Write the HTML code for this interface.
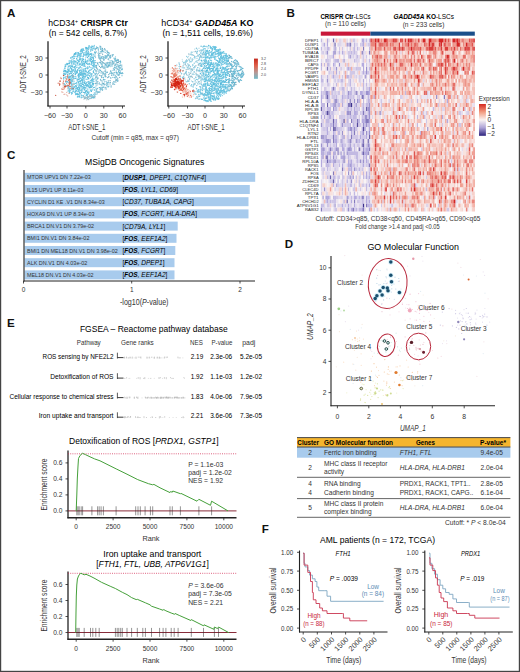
<!DOCTYPE html>
<html><head><meta charset="utf-8"><style>
html,body{margin:0;padding:0;background:#fff;}
svg{display:block;font-family:"Liberation Sans", sans-serif;}
</style></head><body>
<svg width="520" height="672" viewBox="0 0 520 672">
<rect x="0" y="0" width="520" height="672" fill="#fff"/>
<text x="7.0" y="16.8" font-size="11.6" fill="#111" font-weight="bold">A</text>
<text x="88.0" y="26.0" font-size="8.3" text-anchor="middle" textLength="79.6" lengthAdjust="spacingAndGlyphs">hCD34<tspan font-size="5" dy="-3">+</tspan><tspan dy="3" font-weight="bold"> CRISPR Ctr</tspan></text>
<text x="87.9" y="36.2" font-size="8.3" text-anchor="middle" textLength="78.4" lengthAdjust="spacingAndGlyphs">(n = 542 cells, 8.7%)</text>
<text x="207.4" y="26.0" font-size="8.3" text-anchor="middle" textLength="92.2" lengthAdjust="spacingAndGlyphs">hCD34<tspan font-size="5" dy="-3">+</tspan><tspan dy="3" font-weight="bold" font-style="italic"> GADD45A</tspan><tspan font-weight="bold"> KO</tspan></text>
<text x="207.7" y="36.2" font-size="8.3" text-anchor="middle" textLength="90.5" lengthAdjust="spacingAndGlyphs">(n = 1,511 cells, 19.6%)</text>
<line x1="48.0" y1="41.3" x2="48.0" y2="106.5" stroke="#111" stroke-width="1.2"/>
<line x1="47.5" y1="106.0" x2="125.0" y2="106.0" stroke="#111" stroke-width="1.2"/>
<line x1="45.5" y1="58.0" x2="48.0" y2="58.0" stroke="#222" stroke-width="0.8"/>
<text x="42.7" y="60.5" font-size="7.2" text-anchor="end" fill="#333">30</text>
<line x1="45.5" y1="75.0" x2="48.0" y2="75.0" stroke="#222" stroke-width="0.8"/>
<text x="42.7" y="77.5" font-size="7.2" text-anchor="end" fill="#333">0</text>
<line x1="45.5" y1="92.0" x2="48.0" y2="92.0" stroke="#222" stroke-width="0.8"/>
<text x="42.7" y="94.5" font-size="7.2" text-anchor="end" fill="#333">−30</text>
<line x1="50.0" y1="106.0" x2="50.0" y2="108.5" stroke="#222" stroke-width="0.8"/>
<text x="50.0" y="117.8" font-size="7.2" text-anchor="middle" fill="#333">−60</text>
<line x1="67.0" y1="106.0" x2="67.0" y2="108.5" stroke="#222" stroke-width="0.8"/>
<text x="67.0" y="117.8" font-size="7.2" text-anchor="middle" fill="#333">−30</text>
<line x1="85.8" y1="106.0" x2="85.8" y2="108.5" stroke="#222" stroke-width="0.8"/>
<text x="85.8" y="117.8" font-size="7.2" text-anchor="middle" fill="#333">0</text>
<line x1="103.8" y1="106.0" x2="103.8" y2="108.5" stroke="#222" stroke-width="0.8"/>
<text x="103.8" y="117.8" font-size="7.2" text-anchor="middle" fill="#333">30</text>
<line x1="122.5" y1="106.0" x2="122.5" y2="108.5" stroke="#222" stroke-width="0.8"/>
<text x="122.5" y="117.8" font-size="7.2" text-anchor="middle" fill="#333">60</text>
<text x="86.8" y="129.8" font-size="8.6" text-anchor="middle" textLength="37.0" lengthAdjust="spacingAndGlyphs" fill="#333">ADT t-SNE_1</text>
<text x="25.5" y="74.0" font-size="8.6" text-anchor="middle" textLength="37.5" lengthAdjust="spacingAndGlyphs" fill="#333" transform="rotate(-90 25.5 74.0)">ADT t-SNE_2</text>
<line x1="168.0" y1="41.3" x2="168.0" y2="106.5" stroke="#111" stroke-width="1.2"/>
<line x1="167.5" y1="106.0" x2="245.0" y2="106.0" stroke="#111" stroke-width="1.2"/>
<line x1="165.5" y1="58.0" x2="168.0" y2="58.0" stroke="#222" stroke-width="0.8"/>
<text x="162.7" y="60.5" font-size="7.2" text-anchor="end" fill="#333">30</text>
<line x1="165.5" y1="75.0" x2="168.0" y2="75.0" stroke="#222" stroke-width="0.8"/>
<text x="162.7" y="77.5" font-size="7.2" text-anchor="end" fill="#333">0</text>
<line x1="165.5" y1="92.0" x2="168.0" y2="92.0" stroke="#222" stroke-width="0.8"/>
<text x="162.7" y="94.5" font-size="7.2" text-anchor="end" fill="#333">−30</text>
<line x1="168.8" y1="106.0" x2="168.8" y2="108.5" stroke="#222" stroke-width="0.8"/>
<text x="168.8" y="117.8" font-size="7.2" text-anchor="middle" fill="#333">−60</text>
<line x1="187.5" y1="106.0" x2="187.5" y2="108.5" stroke="#222" stroke-width="0.8"/>
<text x="187.5" y="117.8" font-size="7.2" text-anchor="middle" fill="#333">−30</text>
<line x1="205.0" y1="106.0" x2="205.0" y2="108.5" stroke="#222" stroke-width="0.8"/>
<text x="205.0" y="117.8" font-size="7.2" text-anchor="middle" fill="#333">0</text>
<line x1="223.8" y1="106.0" x2="223.8" y2="108.5" stroke="#222" stroke-width="0.8"/>
<text x="223.8" y="117.8" font-size="7.2" text-anchor="middle" fill="#333">30</text>
<line x1="242.5" y1="106.0" x2="242.5" y2="108.5" stroke="#222" stroke-width="0.8"/>
<text x="242.5" y="117.8" font-size="7.2" text-anchor="middle" fill="#333">60</text>
<text x="206.1" y="129.8" font-size="8.6" text-anchor="middle" textLength="37.0" lengthAdjust="spacingAndGlyphs" fill="#333">ADT t-SNE_1</text>
<text x="145.5" y="74.0" font-size="8.6" text-anchor="middle" textLength="37.5" lengthAdjust="spacingAndGlyphs" fill="#333" transform="rotate(-90 145.5 74.0)">ADT t-SNE_2</text>
<text x="135.2" y="140.1" font-size="6.8" text-anchor="middle" textLength="87.5" lengthAdjust="spacingAndGlyphs" fill="#333">Cutoff (min = q85, max = q97)</text>
<text x="286.5" y="17.3" font-size="11.6" fill="#111" font-weight="bold">B</text>
<text x="345.5" y="19.0" font-size="7.2" text-anchor="middle" textLength="50.1" lengthAdjust="spacingAndGlyphs"><tspan font-weight="bold">CRISPR Ctr</tspan>-LSCs</text>
<text x="345.5" y="26.4" font-size="6.8" text-anchor="middle" textLength="41.0" lengthAdjust="spacingAndGlyphs" fill="#333">(n = 110 cells)</text>
<text x="423.7" y="19.0" font-size="7.2" text-anchor="middle" textLength="60.5" lengthAdjust="spacingAndGlyphs"><tspan font-weight="bold" font-style="italic">GADD45A</tspan><tspan font-weight="bold"> KO</tspan>-LSCs</text>
<text x="423.5" y="26.6" font-size="6.8" text-anchor="middle" textLength="41.7" lengthAdjust="spacingAndGlyphs" fill="#333">(n = 233 cells)</text>
<rect x="320.8" y="31.6" width="49.6" height="4.1" fill="#c8173a"/>
<rect x="370.4" y="31.6" width="104.4" height="4.1" fill="#1b4f8a"/>
<text x="397.9" y="220.8" font-size="7" text-anchor="middle" textLength="165.0" lengthAdjust="spacingAndGlyphs" fill="#333">Cutoff: CD34&gt;q85, CD38&lt;q50, CD45RA&gt;q65, CD90&lt;q65</text>
<text x="397.5" y="229.4" font-size="7" text-anchor="middle" textLength="84.4" lengthAdjust="spacingAndGlyphs" fill="#333">Fold change &gt;1.4 and padj &lt;0.05</text>
<text x="478.8" y="101.2" font-size="7" textLength="31.0" lengthAdjust="spacingAndGlyphs" fill="#333">Expression</text>
<text x="7.0" y="159.2" font-size="11.6" fill="#111" font-weight="bold">C</text>
<text x="144.7" y="164.5" font-size="8.4" text-anchor="middle" textLength="119.4" lengthAdjust="spacingAndGlyphs">MSigDB Oncogenic Signatures</text>
<rect x="24.5" y="172.8" width="230.7" height="9.0" fill="#a8cbed"/>
<text x="27.0" y="179.4" font-size="6.0" textLength="63.9" lengthAdjust="spacingAndGlyphs" fill="#333">MTOR UPV1 DN 7.22e-03</text>
<text x="122.5" y="179.7" font-size="6.5">[<tspan font-weight="bold" font-style="italic">DUSP1</tspan><tspan font-style="italic">, DPEP1, C1QTNF4</tspan>]</text>
<rect x="24.5" y="185.0" width="225.3" height="9.0" fill="#a8cbed"/>
<text x="27.0" y="191.6" font-size="6.0" textLength="56.5" lengthAdjust="spacingAndGlyphs" fill="#333">IL15 UPV1 UP 8.11e-03</text>
<text x="122.5" y="191.9" font-size="6.5">[<tspan font-weight="bold" font-style="italic">FOS</tspan><tspan font-style="italic">, LYL1, CD69</tspan>]</text>
<rect x="24.5" y="197.2" width="224.0" height="9.0" fill="#a8cbed"/>
<text x="27.0" y="203.8" font-size="6.0" textLength="77.6" lengthAdjust="spacingAndGlyphs" fill="#333">CYCLIN D1 KE .V1 DN 8.34e-03</text>
<text x="122.5" y="204.1" font-size="6.5">[<tspan font-style="italic">CD37, TUBA1A, CAPG</tspan>]</text>
<rect x="24.5" y="209.4" width="224.0" height="9.0" fill="#a8cbed"/>
<text x="27.0" y="216.0" font-size="6.0" textLength="67.5" lengthAdjust="spacingAndGlyphs" fill="#333">HOXA9 DN.V1 UP 8.34e-03</text>
<text x="122.5" y="216.3" font-size="6.5">[<tspan font-weight="bold" font-style="italic">FOS</tspan><tspan font-style="italic">, FCGRT, HLA-DRA</tspan>]</text>
<rect x="24.5" y="221.6" width="153.2" height="9.0" fill="#a8cbed"/>
<text x="27.0" y="228.2" font-size="6.0" textLength="67.0" lengthAdjust="spacingAndGlyphs" fill="#333">BRCA1 DN.V1 DN 3.79e-02</text>
<text x="122.5" y="228.5" font-size="6.5">[<tspan font-style="italic">CD79A, LYL1</tspan>]</text>
<rect x="24.5" y="233.8" width="152.0" height="9.0" fill="#a8cbed"/>
<text x="27.0" y="240.4" font-size="6.0" textLength="62.4" lengthAdjust="spacingAndGlyphs" fill="#333">BMI1 DN.V1 DN 3.84e-02</text>
<text x="122.5" y="240.7" font-size="6.5">[<tspan font-weight="bold" font-style="italic">FOS</tspan><tspan font-style="italic">, EEF1A2</tspan>]</text>
<rect x="24.5" y="246.0" width="150.8" height="9.0" fill="#a8cbed"/>
<text x="27.0" y="252.6" font-size="6.0" textLength="90.7" lengthAdjust="spacingAndGlyphs" fill="#333">BMI1 DN MEL18 DN.V1 DN 3.98e-02</text>
<text x="122.5" y="252.9" font-size="6.5">[<tspan font-weight="bold" font-style="italic">FOS</tspan><tspan font-style="italic">, FCGRT</tspan>]</text>
<rect x="24.5" y="258.2" width="150.0" height="9.0" fill="#a8cbed"/>
<text x="27.0" y="264.8" font-size="6.0" textLength="60.3" lengthAdjust="spacingAndGlyphs" fill="#333">ALK DN.V1 DN 4.03e-02</text>
<text x="122.5" y="265.1" font-size="6.5">[<tspan font-weight="bold" font-style="italic">FOS</tspan><tspan font-style="italic">, DPEP1</tspan>]</text>
<rect x="24.5" y="270.4" width="150.0" height="9.0" fill="#a8cbed"/>
<text x="27.0" y="277.0" font-size="6.0" textLength="66.6" lengthAdjust="spacingAndGlyphs" fill="#333">MEL18 DN.V1 DN 4.03e-02</text>
<text x="122.5" y="277.3" font-size="6.5">[<tspan font-weight="bold" font-style="italic">FOS</tspan><tspan font-style="italic">, EEF1A2</tspan>]</text>
<line x1="24.0" y1="170.0" x2="24.0" y2="281.5" stroke="#222" stroke-width="1.1"/>
<line x1="23.5" y1="281.0" x2="255.0" y2="281.0" stroke="#222" stroke-width="1.0"/>
<line x1="23.5" y1="281.0" x2="23.5" y2="283.5" stroke="#222" stroke-width="0.8"/>
<text x="23.5" y="292.0" font-size="6.5" text-anchor="middle" fill="#333">0</text>
<line x1="131.7" y1="281.0" x2="131.7" y2="283.5" stroke="#222" stroke-width="0.8"/>
<text x="131.7" y="292.0" font-size="6.5" text-anchor="middle" fill="#333">1</text>
<line x1="240.0" y1="281.0" x2="240.0" y2="283.5" stroke="#222" stroke-width="0.8"/>
<text x="240.0" y="292.0" font-size="6.5" text-anchor="middle" fill="#333">2</text>
<text x="144.2" y="305.0" font-size="8.8" text-anchor="middle" textLength="48.5" lengthAdjust="spacingAndGlyphs" fill="#333">-log10(<tspan font-style="italic">P</tspan>-value)</text>
<text x="7.0" y="327.0" font-size="11.6" fill="#111" font-weight="bold">E</text>
<text x="153.8" y="332.3" font-size="8.5" text-anchor="middle" textLength="147.7" lengthAdjust="spacingAndGlyphs">FGSEA – Reactome pathway database</text>
<text x="88.8" y="345.0" font-size="6.8" text-anchor="middle" textLength="23.9" lengthAdjust="spacingAndGlyphs" fill="#333">Pathway</text>
<text x="137.4" y="345.0" font-size="6.8" text-anchor="middle" textLength="32.8" lengthAdjust="spacingAndGlyphs" fill="#333">Gene ranks</text>
<text x="196.4" y="345.2" font-size="7" text-anchor="middle" textLength="12.8" lengthAdjust="spacingAndGlyphs" fill="#333">NES</text>
<text x="221.9" y="345.2" font-size="7" text-anchor="middle" textLength="20.8" lengthAdjust="spacingAndGlyphs" fill="#333">P-value</text>
<text x="248.8" y="345.2" font-size="7" text-anchor="middle" textLength="13.1" lengthAdjust="spacingAndGlyphs" fill="#333">padj</text>
<text x="113.5" y="358.7" font-size="6.8" text-anchor="end" textLength="70.9" lengthAdjust="spacingAndGlyphs">ROS sensing by NFE2L2</text>
<text x="197.0" y="358.8" font-size="7" text-anchor="middle" textLength="12.5" lengthAdjust="spacingAndGlyphs">2.19</text>
<text x="221.2" y="358.8" font-size="7" text-anchor="middle" textLength="22.0" lengthAdjust="spacingAndGlyphs">2.3e-06</text>
<text x="251.0" y="358.8" font-size="7" text-anchor="middle" textLength="22.0" lengthAdjust="spacingAndGlyphs">5.2e-05</text>
<text x="113.5" y="379.2" font-size="6.8" text-anchor="end" textLength="63.3" lengthAdjust="spacingAndGlyphs">Detoxification of ROS</text>
<text x="197.0" y="379.3" font-size="7" text-anchor="middle" textLength="12.5" lengthAdjust="spacingAndGlyphs">1.92</text>
<text x="221.2" y="379.3" font-size="7" text-anchor="middle" textLength="22.0" lengthAdjust="spacingAndGlyphs">1.1e-03</text>
<text x="251.0" y="379.3" font-size="7" text-anchor="middle" textLength="22.0" lengthAdjust="spacingAndGlyphs">1.2e-02</text>
<text x="113.5" y="398.7" font-size="6.8" text-anchor="end" textLength="103.9" lengthAdjust="spacingAndGlyphs">Cellular response to chemical stress</text>
<text x="197.0" y="398.8" font-size="7" text-anchor="middle" textLength="12.5" lengthAdjust="spacingAndGlyphs">1.83</text>
<text x="221.2" y="398.8" font-size="7" text-anchor="middle" textLength="22.0" lengthAdjust="spacingAndGlyphs">4.0e-06</text>
<text x="251.0" y="398.8" font-size="7" text-anchor="middle" textLength="22.0" lengthAdjust="spacingAndGlyphs">7.9e-05</text>
<text x="113.5" y="418.3" font-size="6.8" text-anchor="end" textLength="74.8" lengthAdjust="spacingAndGlyphs">Iron uptake and transport</text>
<text x="197.0" y="418.4" font-size="7" text-anchor="middle" textLength="12.5" lengthAdjust="spacingAndGlyphs">2.21</text>
<text x="221.2" y="418.4" font-size="7" text-anchor="middle" textLength="22.0" lengthAdjust="spacingAndGlyphs">3.6e-06</text>
<text x="251.0" y="418.4" font-size="7" text-anchor="middle" textLength="22.0" lengthAdjust="spacingAndGlyphs">7.3e-05</text>
<text x="284.8" y="247.8" font-size="11.6" fill="#111" font-weight="bold">D</text>
<text x="413.2" y="250.0" font-size="8.3" text-anchor="middle" textLength="91.5" lengthAdjust="spacingAndGlyphs">GO Molecular Function</text>
<text x="261.7" y="532.7" font-size="11.6" fill="#111" font-weight="bold">F</text>
<text x="377.5" y="543.0" font-size="8.3" text-anchor="middle" textLength="115.0" lengthAdjust="spacingAndGlyphs">AML patients (n = 172, TCGA)</text>
<defs><filter id="hb" x="-1%" y="-1%" width="102%" height="102%"><feGaussianBlur stdDeviation="0.35"/></filter></defs><g filter="url(#hb)">
<path fill="rgb(62,50,140)" d="M350.9 102.93h1.50v4.02h-1.50zM362.9 203.46h1.50v4.02h-1.50z"/>
<path fill="rgb(86,74,156)" d="M326.8 110.98h1.50v4.02h-1.50zM343.3 119.02h1.50v4.02h-1.50zM356.9 123.04h1.50v4.02h-1.50zM334.3 127.06h1.50v4.02h-1.50zM362.9 127.06h1.50v4.02h-1.50z"/>
<path fill="rgb(109,98,173)" d="M332.8 38.60h1.50v4.02h-1.50zM334.3 42.62h1.50v4.02h-1.50zM349.4 42.62h1.50v4.02h-1.50zM326.8 94.89h1.50v4.02h-1.50zM361.4 94.89h1.50v4.02h-1.50zM326.8 102.93h1.50v4.02h-1.50zM320.8 106.96h1.50v4.02h-1.50zM365.9 106.96h1.50v4.02h-1.50zM332.8 119.02h1.50v4.02h-1.50zM332.8 127.06h1.50v4.02h-1.50zM368.9 135.10h1.50v4.02h-1.50zM367.4 139.12h1.50v4.02h-1.50zM362.9 143.14h1.50v4.02h-1.50zM358.4 147.17h1.50v4.02h-1.50zM362.9 151.19h1.50v4.02h-1.50zM326.8 159.23h1.50v4.02h-1.50zM329.8 175.31h1.50v4.02h-1.50zM332.8 179.33h1.50v4.02h-1.50zM346.4 199.44h1.50v4.02h-1.50zM352.4 207.48h1.50v4.02h-1.50z"/>
<path fill="rgb(133,122,189)" d="M362.9 46.64h1.50v4.02h-1.50zM334.3 50.66h1.50v4.02h-1.50zM361.4 50.66h1.50v4.02h-1.50zM368.9 50.66h1.50v4.02h-1.50zM326.8 66.75h1.50v4.02h-1.50zM332.8 86.85h1.50v4.02h-1.50zM355.4 90.87h1.50v4.02h-1.50zM443.5 94.89h1.49v4.02h-1.49zM334.3 98.91h1.50v4.02h-1.50zM349.4 98.91h1.50v4.02h-1.50zM334.3 102.93h1.50v4.02h-1.50zM347.9 102.93h1.50v4.02h-1.50zM349.4 102.93h1.50v4.02h-1.50zM328.3 110.98h1.50v4.02h-1.50zM349.4 110.98h1.50v4.02h-1.50zM362.9 110.98h1.50v4.02h-1.50zM379.3 110.98h1.49v4.02h-1.49zM350.9 119.02h1.50v4.02h-1.50zM356.9 119.02h1.50v4.02h-1.50zM365.9 119.02h1.50v4.02h-1.50zM367.4 119.02h1.50v4.02h-1.50zM332.8 123.04h1.50v4.02h-1.50zM353.9 131.08h1.50v4.02h-1.50zM322.3 135.10h1.50v4.02h-1.50zM332.8 135.10h1.50v4.02h-1.50zM350.9 135.10h1.50v4.02h-1.50zM332.8 139.12h1.50v4.02h-1.50zM349.4 139.12h1.50v4.02h-1.50zM362.9 139.12h1.50v4.02h-1.50zM361.4 143.14h1.50v4.02h-1.50zM367.4 143.14h1.50v4.02h-1.50zM322.3 147.17h1.50v4.02h-1.50zM329.8 147.17h1.50v4.02h-1.50zM337.3 147.17h1.50v4.02h-1.50zM368.9 147.17h1.50v4.02h-1.50zM337.3 151.19h1.50v4.02h-1.50zM367.4 151.19h1.50v4.02h-1.50zM325.3 155.21h1.50v4.02h-1.50zM326.8 155.21h1.50v4.02h-1.50zM343.3 155.21h1.50v4.02h-1.50zM334.3 159.23h1.50v4.02h-1.50zM343.3 159.23h1.50v4.02h-1.50zM368.9 163.25h1.50v4.02h-1.50zM341.8 167.27h1.50v4.02h-1.50zM332.8 171.29h1.50v4.02h-1.50zM361.4 195.42h1.50v4.02h-1.50zM353.9 199.44h1.50v4.02h-1.50zM365.9 203.46h1.50v4.02h-1.50zM320.8 207.48h1.50v4.02h-1.50zM362.9 207.48h1.50v4.02h-1.50z"/>
<path fill="rgb(156,146,206)" d="M346.4 42.62h1.50v4.02h-1.50zM334.3 46.64h1.50v4.02h-1.50zM326.8 50.66h1.50v4.02h-1.50zM349.4 54.68h1.50v4.02h-1.50zM337.3 58.70h1.50v4.02h-1.50zM343.3 58.70h1.50v4.02h-1.50zM338.8 62.73h1.50v4.02h-1.50zM335.8 66.75h1.50v4.02h-1.50zM365.9 66.75h1.50v4.02h-1.50zM365.9 70.77h1.50v4.02h-1.50zM364.4 74.79h1.50v4.02h-1.50zM326.8 78.81h1.50v4.02h-1.50zM325.3 90.87h1.50v4.02h-1.50zM326.8 90.87h1.50v4.02h-1.50zM347.9 90.87h1.50v4.02h-1.50zM365.9 90.87h1.50v4.02h-1.50zM367.4 90.87h1.50v4.02h-1.50zM325.3 94.89h1.50v4.02h-1.50zM362.9 94.89h1.50v4.02h-1.50zM436.0 94.89h1.49v4.02h-1.49zM335.8 98.91h1.50v4.02h-1.50zM353.9 98.91h1.50v4.02h-1.50zM356.9 98.91h1.50v4.02h-1.50zM355.4 102.93h1.50v4.02h-1.50zM368.9 102.93h1.50v4.02h-1.50zM332.8 106.96h1.50v4.02h-1.50zM367.4 106.96h1.50v4.02h-1.50zM368.9 106.96h1.50v4.02h-1.50zM325.3 110.98h1.50v4.02h-1.50zM346.4 110.98h1.50v4.02h-1.50zM347.9 110.98h1.50v4.02h-1.50zM368.9 110.98h1.50v4.02h-1.50zM364.4 115.00h1.50v4.02h-1.50zM365.9 115.00h1.50v4.02h-1.50zM368.9 115.00h1.50v4.02h-1.50zM364.4 119.02h1.50v4.02h-1.50zM320.8 123.04h1.50v4.02h-1.50zM341.8 123.04h1.50v4.02h-1.50zM362.9 123.04h1.50v4.02h-1.50zM365.9 123.04h1.50v4.02h-1.50zM349.4 127.06h1.50v4.02h-1.50zM350.9 127.06h1.50v4.02h-1.50zM353.9 127.06h1.50v4.02h-1.50zM427.1 127.06h1.49v4.02h-1.49zM341.8 131.08h1.50v4.02h-1.50zM362.9 131.08h1.50v4.02h-1.50zM365.9 131.08h1.50v4.02h-1.50zM368.9 131.08h1.50v4.02h-1.50zM320.8 135.10h1.50v4.02h-1.50zM325.3 135.10h1.50v4.02h-1.50zM343.3 135.10h1.50v4.02h-1.50zM325.3 139.12h1.50v4.02h-1.50zM326.8 139.12h1.50v4.02h-1.50zM328.3 139.12h1.50v4.02h-1.50zM340.3 139.12h1.50v4.02h-1.50zM355.4 139.12h1.50v4.02h-1.50zM320.8 143.14h1.50v4.02h-1.50zM326.8 143.14h1.50v4.02h-1.50zM349.4 143.14h1.50v4.02h-1.50zM335.8 147.17h1.50v4.02h-1.50zM347.9 147.17h1.50v4.02h-1.50zM349.4 147.17h1.50v4.02h-1.50zM362.9 147.17h1.50v4.02h-1.50zM322.3 151.19h1.50v4.02h-1.50zM328.3 151.19h1.50v4.02h-1.50zM334.3 151.19h1.50v4.02h-1.50zM340.3 151.19h1.50v4.02h-1.50zM343.3 151.19h1.50v4.02h-1.50zM346.4 151.19h1.50v4.02h-1.50zM361.4 151.19h1.50v4.02h-1.50zM322.3 155.21h1.50v4.02h-1.50zM332.8 155.21h1.50v4.02h-1.50zM359.9 159.23h1.50v4.02h-1.50zM362.9 159.23h1.50v4.02h-1.50zM349.4 163.25h1.50v4.02h-1.50zM353.9 167.27h1.50v4.02h-1.50zM347.9 171.29h1.50v4.02h-1.50zM349.4 175.31h1.50v4.02h-1.50zM352.4 175.31h1.50v4.02h-1.50zM350.9 179.33h1.50v4.02h-1.50zM323.8 187.37h1.50v4.02h-1.50zM322.3 195.42h1.50v4.02h-1.50zM325.3 195.42h1.50v4.02h-1.50zM346.4 195.42h1.50v4.02h-1.50zM362.9 195.42h1.50v4.02h-1.50zM334.3 203.46h1.50v4.02h-1.50zM347.9 207.48h1.50v4.02h-1.50zM361.4 207.48h1.50v4.02h-1.50z"/>
<path fill="rgb(180,170,222)" d="M326.8 38.60h1.50v4.02h-1.50zM361.4 38.60h1.50v4.02h-1.50zM362.9 38.60h1.50v4.02h-1.50zM323.8 42.62h1.50v4.02h-1.50zM326.8 42.62h1.50v4.02h-1.50zM362.9 42.62h1.50v4.02h-1.50zM332.8 50.66h1.50v4.02h-1.50zM341.8 50.66h1.50v4.02h-1.50zM332.8 54.68h1.50v4.02h-1.50zM325.3 58.70h1.50v4.02h-1.50zM334.3 58.70h1.50v4.02h-1.50zM320.8 62.73h1.50v4.02h-1.50zM332.8 62.73h1.50v4.02h-1.50zM361.4 62.73h1.50v4.02h-1.50zM362.9 62.73h1.50v4.02h-1.50zM347.9 66.75h1.50v4.02h-1.50zM362.9 66.75h1.50v4.02h-1.50zM335.8 70.77h1.50v4.02h-1.50zM362.9 70.77h1.50v4.02h-1.50zM332.8 74.79h1.50v4.02h-1.50zM346.4 74.79h1.50v4.02h-1.50zM349.4 78.81h1.50v4.02h-1.50zM362.9 78.81h1.50v4.02h-1.50zM349.4 82.83h1.50v4.02h-1.50zM331.3 86.85h1.50v4.02h-1.50zM334.3 86.85h1.50v4.02h-1.50zM368.9 86.85h1.50v4.02h-1.50zM328.3 90.87h1.50v4.02h-1.50zM331.3 90.87h1.50v4.02h-1.50zM349.4 90.87h1.50v4.02h-1.50zM359.9 90.87h1.50v4.02h-1.50zM361.4 90.87h1.50v4.02h-1.50zM368.9 90.87h1.50v4.02h-1.50zM320.8 94.89h1.50v4.02h-1.50zM328.3 94.89h1.50v4.02h-1.50zM341.8 94.89h1.50v4.02h-1.50zM347.9 94.89h1.50v4.02h-1.50zM367.4 94.89h1.50v4.02h-1.50zM373.4 94.89h1.49v4.02h-1.49zM320.8 98.91h1.50v4.02h-1.50zM328.3 98.91h1.50v4.02h-1.50zM358.4 98.91h1.50v4.02h-1.50zM367.4 98.91h1.50v4.02h-1.50zM446.5 98.91h1.49v4.02h-1.49zM332.8 102.93h1.50v4.02h-1.50zM341.8 102.93h1.50v4.02h-1.50zM353.9 106.96h1.50v4.02h-1.50zM362.9 106.96h1.50v4.02h-1.50zM322.3 110.98h1.50v4.02h-1.50zM331.3 110.98h1.50v4.02h-1.50zM353.9 110.98h1.50v4.02h-1.50zM355.4 110.98h1.50v4.02h-1.50zM367.4 110.98h1.50v4.02h-1.50zM320.8 115.00h1.50v4.02h-1.50zM323.8 115.00h1.50v4.02h-1.50zM328.3 115.00h1.50v4.02h-1.50zM329.8 115.00h1.50v4.02h-1.50zM349.4 115.00h1.50v4.02h-1.50zM442.0 115.00h1.49v4.02h-1.49zM335.8 119.02h1.50v4.02h-1.50zM346.4 119.02h1.50v4.02h-1.50zM358.4 119.02h1.50v4.02h-1.50zM361.4 119.02h1.50v4.02h-1.50zM362.9 119.02h1.50v4.02h-1.50zM368.9 119.02h1.50v4.02h-1.50zM446.5 119.02h1.49v4.02h-1.49zM349.4 123.04h1.50v4.02h-1.50zM352.4 123.04h1.50v4.02h-1.50zM326.8 127.06h1.50v4.02h-1.50zM329.8 127.06h1.50v4.02h-1.50zM347.9 127.06h1.50v4.02h-1.50zM361.4 127.06h1.50v4.02h-1.50zM364.4 127.06h1.50v4.02h-1.50zM368.9 127.06h1.50v4.02h-1.50zM326.8 131.08h1.50v4.02h-1.50zM332.8 131.08h1.50v4.02h-1.50zM350.9 131.08h1.50v4.02h-1.50zM361.4 131.08h1.50v4.02h-1.50zM359.9 135.10h1.50v4.02h-1.50zM365.9 135.10h1.50v4.02h-1.50zM322.3 139.12h1.50v4.02h-1.50zM329.8 139.12h1.50v4.02h-1.50zM334.3 139.12h1.50v4.02h-1.50zM335.8 139.12h1.50v4.02h-1.50zM358.4 139.12h1.50v4.02h-1.50zM361.4 139.12h1.50v4.02h-1.50zM335.8 143.14h1.50v4.02h-1.50zM341.8 143.14h1.50v4.02h-1.50zM368.9 143.14h1.50v4.02h-1.50zM320.8 147.17h1.50v4.02h-1.50zM323.8 147.17h1.50v4.02h-1.50zM328.3 147.17h1.50v4.02h-1.50zM331.3 147.17h1.50v4.02h-1.50zM334.3 147.17h1.50v4.02h-1.50zM341.8 147.17h1.50v4.02h-1.50zM343.3 147.17h1.50v4.02h-1.50zM346.4 147.17h1.50v4.02h-1.50zM350.9 147.17h1.50v4.02h-1.50zM365.9 147.17h1.50v4.02h-1.50zM367.4 147.17h1.50v4.02h-1.50zM320.8 151.19h1.50v4.02h-1.50zM326.8 151.19h1.50v4.02h-1.50zM329.8 151.19h1.50v4.02h-1.50zM332.8 151.19h1.50v4.02h-1.50zM364.4 151.19h1.50v4.02h-1.50zM365.9 151.19h1.50v4.02h-1.50zM340.3 155.21h1.50v4.02h-1.50zM341.8 155.21h1.50v4.02h-1.50zM362.9 155.21h1.50v4.02h-1.50zM365.9 155.21h1.50v4.02h-1.50zM320.8 159.23h1.50v4.02h-1.50zM328.3 159.23h1.50v4.02h-1.50zM329.8 159.23h1.50v4.02h-1.50zM332.8 159.23h1.50v4.02h-1.50zM347.9 159.23h1.50v4.02h-1.50zM350.9 159.23h1.50v4.02h-1.50zM365.9 159.23h1.50v4.02h-1.50zM320.8 163.25h1.50v4.02h-1.50zM332.8 163.25h1.50v4.02h-1.50zM341.8 163.25h1.50v4.02h-1.50zM347.9 163.25h1.50v4.02h-1.50zM350.9 163.25h1.50v4.02h-1.50zM362.9 163.25h1.50v4.02h-1.50zM350.9 167.27h1.50v4.02h-1.50zM358.4 167.27h1.50v4.02h-1.50zM350.9 171.29h1.50v4.02h-1.50zM365.9 171.29h1.50v4.02h-1.50zM365.9 175.31h1.50v4.02h-1.50zM368.9 175.31h1.50v4.02h-1.50zM337.3 179.33h1.50v4.02h-1.50zM346.4 179.33h1.50v4.02h-1.50zM335.8 183.35h1.50v4.02h-1.50zM368.9 183.35h1.50v4.02h-1.50zM326.8 195.42h1.50v4.02h-1.50zM328.3 195.42h1.50v4.02h-1.50zM334.3 195.42h1.50v4.02h-1.50zM353.9 195.42h1.50v4.02h-1.50zM355.4 195.42h1.50v4.02h-1.50zM358.4 195.42h1.50v4.02h-1.50zM365.9 195.42h1.50v4.02h-1.50zM326.8 199.44h1.50v4.02h-1.50zM334.3 199.44h1.50v4.02h-1.50zM343.3 199.44h1.50v4.02h-1.50zM350.9 199.44h1.50v4.02h-1.50zM365.9 199.44h1.50v4.02h-1.50zM368.9 199.44h1.50v4.02h-1.50zM322.3 203.46h1.50v4.02h-1.50zM341.8 203.46h1.50v4.02h-1.50zM347.9 203.46h1.50v4.02h-1.50zM353.9 203.46h1.50v4.02h-1.50zM367.4 203.46h1.50v4.02h-1.50zM370.4 203.46h1.49v4.02h-1.49zM391.3 203.46h1.49v4.02h-1.49zM350.9 207.48h1.50v4.02h-1.50zM355.4 207.48h1.50v4.02h-1.50zM368.9 207.48h1.50v4.02h-1.50z"/>
<path fill="rgb(194,185,226)" d="M320.8 38.60h1.50v4.02h-1.50zM365.9 38.60h1.50v4.02h-1.50zM368.9 38.60h1.50v4.02h-1.50zM347.9 42.62h1.50v4.02h-1.50zM353.9 42.62h1.50v4.02h-1.50zM361.4 42.62h1.50v4.02h-1.50zM320.8 46.64h1.50v4.02h-1.50zM326.8 46.64h1.50v4.02h-1.50zM328.3 46.64h1.50v4.02h-1.50zM349.4 46.64h1.50v4.02h-1.50zM353.9 46.64h1.50v4.02h-1.50zM356.9 46.64h1.50v4.02h-1.50zM368.9 46.64h1.50v4.02h-1.50zM322.3 50.66h1.50v4.02h-1.50zM325.3 50.66h1.50v4.02h-1.50zM338.8 50.66h1.50v4.02h-1.50zM350.9 50.66h1.50v4.02h-1.50zM353.9 50.66h1.50v4.02h-1.50zM356.9 54.68h1.50v4.02h-1.50zM335.8 58.70h1.50v4.02h-1.50zM353.9 58.70h1.50v4.02h-1.50zM368.9 58.70h1.50v4.02h-1.50zM323.8 62.73h1.50v4.02h-1.50zM326.8 62.73h1.50v4.02h-1.50zM328.3 62.73h1.50v4.02h-1.50zM334.3 62.73h1.50v4.02h-1.50zM320.8 66.75h1.50v4.02h-1.50zM329.8 66.75h1.50v4.02h-1.50zM340.3 66.75h1.50v4.02h-1.50zM346.4 66.75h1.50v4.02h-1.50zM349.4 66.75h1.50v4.02h-1.50zM355.4 66.75h1.50v4.02h-1.50zM368.9 66.75h1.50v4.02h-1.50zM328.3 70.77h1.50v4.02h-1.50zM332.8 70.77h1.50v4.02h-1.50zM367.4 70.77h1.50v4.02h-1.50zM320.8 74.79h1.50v4.02h-1.50zM326.8 74.79h1.50v4.02h-1.50zM347.9 74.79h1.50v4.02h-1.50zM320.8 78.81h1.50v4.02h-1.50zM322.3 78.81h1.50v4.02h-1.50zM334.3 78.81h1.50v4.02h-1.50zM337.3 78.81h1.50v4.02h-1.50zM340.3 78.81h1.50v4.02h-1.50zM341.8 78.81h1.50v4.02h-1.50zM335.8 82.83h1.50v4.02h-1.50zM362.9 82.83h1.50v4.02h-1.50zM365.9 82.83h1.50v4.02h-1.50zM341.8 86.85h1.50v4.02h-1.50zM343.3 86.85h1.50v4.02h-1.50zM350.9 86.85h1.50v4.02h-1.50zM362.9 86.85h1.50v4.02h-1.50zM320.8 90.87h1.50v4.02h-1.50zM334.3 90.87h1.50v4.02h-1.50zM343.3 90.87h1.50v4.02h-1.50zM350.9 90.87h1.50v4.02h-1.50zM356.9 90.87h1.50v4.02h-1.50zM404.7 90.87h1.49v4.02h-1.49zM322.3 94.89h1.50v4.02h-1.50zM335.8 94.89h1.50v4.02h-1.50zM343.3 94.89h1.50v4.02h-1.50zM346.4 94.89h1.50v4.02h-1.50zM349.4 94.89h1.50v4.02h-1.50zM352.4 94.89h1.50v4.02h-1.50zM358.4 94.89h1.50v4.02h-1.50zM400.2 94.89h1.49v4.02h-1.49zM326.8 98.91h1.50v4.02h-1.50zM337.3 98.91h1.50v4.02h-1.50zM341.8 98.91h1.50v4.02h-1.50zM362.9 98.91h1.50v4.02h-1.50zM368.9 98.91h1.50v4.02h-1.50zM416.6 98.91h1.49v4.02h-1.49zM320.8 102.93h1.50v4.02h-1.50zM322.3 102.93h1.50v4.02h-1.50zM323.8 102.93h1.50v4.02h-1.50zM331.3 102.93h1.50v4.02h-1.50zM337.3 102.93h1.50v4.02h-1.50zM338.8 102.93h1.50v4.02h-1.50zM362.9 102.93h1.50v4.02h-1.50zM365.9 102.93h1.50v4.02h-1.50zM367.4 102.93h1.50v4.02h-1.50zM326.8 106.96h1.50v4.02h-1.50zM328.3 106.96h1.50v4.02h-1.50zM329.8 106.96h1.50v4.02h-1.50zM334.3 106.96h1.50v4.02h-1.50zM335.8 106.96h1.50v4.02h-1.50zM346.4 106.96h1.50v4.02h-1.50zM347.9 106.96h1.50v4.02h-1.50zM350.9 106.96h1.50v4.02h-1.50zM358.4 106.96h1.50v4.02h-1.50zM416.6 106.96h1.49v4.02h-1.49zM433.0 106.96h1.49v4.02h-1.49zM470.3 106.96h1.49v4.02h-1.49zM356.9 110.98h1.50v4.02h-1.50zM361.4 110.98h1.50v4.02h-1.50zM467.3 110.98h1.49v4.02h-1.49zM332.8 115.00h1.50v4.02h-1.50zM343.3 115.00h1.50v4.02h-1.50zM346.4 115.00h1.50v4.02h-1.50zM352.4 115.00h1.50v4.02h-1.50zM353.9 115.00h1.50v4.02h-1.50zM355.4 115.00h1.50v4.02h-1.50zM361.4 115.00h1.50v4.02h-1.50zM367.4 115.00h1.50v4.02h-1.50zM416.6 115.00h1.49v4.02h-1.49zM424.1 115.00h1.49v4.02h-1.49zM322.3 119.02h1.50v4.02h-1.50zM325.3 119.02h1.50v4.02h-1.50zM326.8 119.02h1.50v4.02h-1.50zM328.3 119.02h1.50v4.02h-1.50zM334.3 119.02h1.50v4.02h-1.50zM352.4 119.02h1.50v4.02h-1.50zM325.3 123.04h1.50v4.02h-1.50zM329.8 123.04h1.50v4.02h-1.50zM331.3 123.04h1.50v4.02h-1.50zM334.3 123.04h1.50v4.02h-1.50zM335.8 123.04h1.50v4.02h-1.50zM340.3 123.04h1.50v4.02h-1.50zM355.4 123.04h1.50v4.02h-1.50zM364.4 123.04h1.50v4.02h-1.50zM367.4 123.04h1.50v4.02h-1.50zM368.9 123.04h1.50v4.02h-1.50zM416.6 123.04h1.49v4.02h-1.49zM322.3 127.06h1.50v4.02h-1.50zM325.3 127.06h1.50v4.02h-1.50zM335.8 127.06h1.50v4.02h-1.50zM337.3 127.06h1.50v4.02h-1.50zM340.3 127.06h1.50v4.02h-1.50zM352.4 127.06h1.50v4.02h-1.50zM355.4 127.06h1.50v4.02h-1.50zM334.3 131.08h1.50v4.02h-1.50zM337.3 131.08h1.50v4.02h-1.50zM338.8 131.08h1.50v4.02h-1.50zM394.3 131.08h1.49v4.02h-1.49zM419.6 131.08h1.49v4.02h-1.49zM323.8 135.10h1.50v4.02h-1.50zM334.3 135.10h1.50v4.02h-1.50zM335.8 135.10h1.50v4.02h-1.50zM341.8 135.10h1.50v4.02h-1.50zM323.8 139.12h1.50v4.02h-1.50zM341.8 139.12h1.50v4.02h-1.50zM347.9 139.12h1.50v4.02h-1.50zM350.9 139.12h1.50v4.02h-1.50zM356.9 139.12h1.50v4.02h-1.50zM340.3 143.14h1.50v4.02h-1.50zM343.3 143.14h1.50v4.02h-1.50zM353.9 143.14h1.50v4.02h-1.50zM353.9 147.17h1.50v4.02h-1.50zM364.4 147.17h1.50v4.02h-1.50zM347.9 151.19h1.50v4.02h-1.50zM349.4 151.19h1.50v4.02h-1.50zM350.9 151.19h1.50v4.02h-1.50zM352.4 151.19h1.50v4.02h-1.50zM353.9 151.19h1.50v4.02h-1.50zM355.4 151.19h1.50v4.02h-1.50zM356.9 151.19h1.50v4.02h-1.50zM320.8 155.21h1.50v4.02h-1.50zM329.8 155.21h1.50v4.02h-1.50zM335.8 155.21h1.50v4.02h-1.50zM347.9 155.21h1.50v4.02h-1.50zM355.4 155.21h1.50v4.02h-1.50zM356.9 155.21h1.50v4.02h-1.50zM368.9 155.21h1.50v4.02h-1.50zM325.3 159.23h1.50v4.02h-1.50zM331.3 159.23h1.50v4.02h-1.50zM337.3 159.23h1.50v4.02h-1.50zM349.4 159.23h1.50v4.02h-1.50zM356.9 159.23h1.50v4.02h-1.50zM367.4 159.23h1.50v4.02h-1.50zM325.3 163.25h1.50v4.02h-1.50zM326.8 163.25h1.50v4.02h-1.50zM328.3 163.25h1.50v4.02h-1.50zM338.8 163.25h1.50v4.02h-1.50zM367.4 163.25h1.50v4.02h-1.50zM322.3 167.27h1.50v4.02h-1.50zM326.8 167.27h1.50v4.02h-1.50zM334.3 167.27h1.50v4.02h-1.50zM347.9 167.27h1.50v4.02h-1.50zM349.4 167.27h1.50v4.02h-1.50zM355.4 167.27h1.50v4.02h-1.50zM361.4 167.27h1.50v4.02h-1.50zM322.3 171.29h1.50v4.02h-1.50zM362.9 171.29h1.50v4.02h-1.50zM368.9 171.29h1.50v4.02h-1.50zM326.8 175.31h1.50v4.02h-1.50zM332.8 175.31h1.50v4.02h-1.50zM334.3 175.31h1.50v4.02h-1.50zM337.3 175.31h1.50v4.02h-1.50zM355.4 175.31h1.50v4.02h-1.50zM362.9 175.31h1.50v4.02h-1.50zM331.3 179.33h1.50v4.02h-1.50zM358.4 179.33h1.50v4.02h-1.50zM332.8 183.35h1.50v4.02h-1.50zM337.3 183.35h1.50v4.02h-1.50zM349.4 183.35h1.50v4.02h-1.50zM350.9 183.35h1.50v4.02h-1.50zM358.4 183.35h1.50v4.02h-1.50zM365.9 183.35h1.50v4.02h-1.50zM415.1 183.35h1.49v4.02h-1.49zM341.8 187.37h1.50v4.02h-1.50zM347.9 187.37h1.50v4.02h-1.50zM365.9 187.37h1.50v4.02h-1.50zM425.6 187.37h1.49v4.02h-1.49zM349.4 191.40h1.50v4.02h-1.50zM353.9 191.40h1.50v4.02h-1.50zM332.8 195.42h1.50v4.02h-1.50zM347.9 195.42h1.50v4.02h-1.50zM350.9 195.42h1.50v4.02h-1.50zM367.4 195.42h1.50v4.02h-1.50zM325.3 199.44h1.50v4.02h-1.50zM329.8 199.44h1.50v4.02h-1.50zM361.4 199.44h1.50v4.02h-1.50zM320.8 203.46h1.50v4.02h-1.50zM361.4 203.46h1.50v4.02h-1.50zM368.9 203.46h1.50v4.02h-1.50zM334.3 207.48h1.50v4.02h-1.50zM343.3 207.48h1.50v4.02h-1.50zM358.4 207.48h1.50v4.02h-1.50zM359.9 207.48h1.50v4.02h-1.50z"/>
<path fill="rgb(208,199,230)" d="M349.4 38.60h1.50v4.02h-1.50zM352.4 38.60h1.50v4.02h-1.50zM353.9 38.60h1.50v4.02h-1.50zM322.3 42.62h1.50v4.02h-1.50zM337.3 42.62h1.50v4.02h-1.50zM359.9 42.62h1.50v4.02h-1.50zM367.4 42.62h1.50v4.02h-1.50zM368.9 42.62h1.50v4.02h-1.50zM338.8 46.64h1.50v4.02h-1.50zM341.8 46.64h1.50v4.02h-1.50zM352.4 46.64h1.50v4.02h-1.50zM343.3 50.66h1.50v4.02h-1.50zM347.9 50.66h1.50v4.02h-1.50zM349.4 50.66h1.50v4.02h-1.50zM352.4 50.66h1.50v4.02h-1.50zM355.4 50.66h1.50v4.02h-1.50zM362.9 50.66h1.50v4.02h-1.50zM326.8 54.68h1.50v4.02h-1.50zM331.3 54.68h1.50v4.02h-1.50zM343.3 54.68h1.50v4.02h-1.50zM347.9 54.68h1.50v4.02h-1.50zM352.4 54.68h1.50v4.02h-1.50zM355.4 54.68h1.50v4.02h-1.50zM362.9 54.68h1.50v4.02h-1.50zM365.9 54.68h1.50v4.02h-1.50zM388.3 54.68h1.49v4.02h-1.49zM326.8 58.70h1.50v4.02h-1.50zM328.3 58.70h1.50v4.02h-1.50zM355.4 58.70h1.50v4.02h-1.50zM362.9 58.70h1.50v4.02h-1.50zM346.4 62.73h1.50v4.02h-1.50zM365.9 62.73h1.50v4.02h-1.50zM356.9 66.75h1.50v4.02h-1.50zM358.4 66.75h1.50v4.02h-1.50zM359.9 66.75h1.50v4.02h-1.50zM338.8 70.77h1.50v4.02h-1.50zM343.3 70.77h1.50v4.02h-1.50zM349.4 70.77h1.50v4.02h-1.50zM350.9 70.77h1.50v4.02h-1.50zM352.4 70.77h1.50v4.02h-1.50zM353.9 70.77h1.50v4.02h-1.50zM361.4 70.77h1.50v4.02h-1.50zM364.4 70.77h1.50v4.02h-1.50zM406.2 70.77h1.49v4.02h-1.49zM331.3 74.79h1.50v4.02h-1.50zM334.3 74.79h1.50v4.02h-1.50zM341.8 74.79h1.50v4.02h-1.50zM349.4 74.79h1.50v4.02h-1.50zM350.9 74.79h1.50v4.02h-1.50zM355.4 74.79h1.50v4.02h-1.50zM358.4 74.79h1.50v4.02h-1.50zM365.9 74.79h1.50v4.02h-1.50zM358.4 78.81h1.50v4.02h-1.50zM368.9 78.81h1.50v4.02h-1.50zM326.8 82.83h1.50v4.02h-1.50zM328.3 82.83h1.50v4.02h-1.50zM323.8 86.85h1.50v4.02h-1.50zM325.3 86.85h1.50v4.02h-1.50zM340.3 86.85h1.50v4.02h-1.50zM346.4 86.85h1.50v4.02h-1.50zM353.9 86.85h1.50v4.02h-1.50zM365.9 86.85h1.50v4.02h-1.50zM367.4 86.85h1.50v4.02h-1.50zM322.3 90.87h1.50v4.02h-1.50zM323.8 90.87h1.50v4.02h-1.50zM337.3 90.87h1.50v4.02h-1.50zM338.8 90.87h1.50v4.02h-1.50zM341.8 90.87h1.50v4.02h-1.50zM346.4 90.87h1.50v4.02h-1.50zM353.9 90.87h1.50v4.02h-1.50zM362.9 90.87h1.50v4.02h-1.50zM364.4 90.87h1.50v4.02h-1.50zM427.1 90.87h1.49v4.02h-1.49zM331.3 94.89h1.50v4.02h-1.50zM332.8 94.89h1.50v4.02h-1.50zM334.3 94.89h1.50v4.02h-1.50zM344.8 94.89h1.50v4.02h-1.50zM350.9 94.89h1.50v4.02h-1.50zM356.9 94.89h1.50v4.02h-1.50zM340.3 98.91h1.50v4.02h-1.50zM343.3 98.91h1.50v4.02h-1.50zM346.4 98.91h1.50v4.02h-1.50zM380.8 98.91h1.49v4.02h-1.49zM388.3 98.91h1.49v4.02h-1.49zM410.7 98.91h1.49v4.02h-1.49zM465.9 98.91h1.49v4.02h-1.49zM329.8 102.93h1.50v4.02h-1.50zM335.8 102.93h1.50v4.02h-1.50zM346.4 102.93h1.50v4.02h-1.50zM353.9 102.93h1.50v4.02h-1.50zM361.4 102.93h1.50v4.02h-1.50zM380.8 102.93h1.49v4.02h-1.49zM437.5 102.93h1.49v4.02h-1.49zM322.3 106.96h1.50v4.02h-1.50zM323.8 106.96h1.50v4.02h-1.50zM349.4 106.96h1.50v4.02h-1.50zM355.4 106.96h1.50v4.02h-1.50zM356.9 106.96h1.50v4.02h-1.50zM361.4 106.96h1.50v4.02h-1.50zM380.8 106.96h1.49v4.02h-1.49zM409.2 106.96h1.49v4.02h-1.49zM464.4 106.96h1.49v4.02h-1.49zM329.8 110.98h1.50v4.02h-1.50zM332.8 110.98h1.50v4.02h-1.50zM343.3 110.98h1.50v4.02h-1.50zM359.9 110.98h1.50v4.02h-1.50zM364.4 110.98h1.50v4.02h-1.50zM376.4 110.98h1.49v4.02h-1.49zM422.6 110.98h1.49v4.02h-1.49zM425.6 110.98h1.49v4.02h-1.49zM458.4 110.98h1.49v4.02h-1.49zM459.9 110.98h1.49v4.02h-1.49zM326.8 115.00h1.50v4.02h-1.50zM331.3 115.00h1.50v4.02h-1.50zM338.8 115.00h1.50v4.02h-1.50zM340.3 115.00h1.50v4.02h-1.50zM341.8 115.00h1.50v4.02h-1.50zM347.9 115.00h1.50v4.02h-1.50zM350.9 115.00h1.50v4.02h-1.50zM358.4 115.00h1.50v4.02h-1.50zM362.9 115.00h1.50v4.02h-1.50zM403.2 115.00h1.49v4.02h-1.49zM331.3 119.02h1.50v4.02h-1.50zM340.3 119.02h1.50v4.02h-1.50zM341.8 119.02h1.50v4.02h-1.50zM347.9 119.02h1.50v4.02h-1.50zM353.9 119.02h1.50v4.02h-1.50zM355.4 119.02h1.50v4.02h-1.50zM425.6 119.02h1.49v4.02h-1.49zM322.3 123.04h1.50v4.02h-1.50zM326.8 123.04h1.50v4.02h-1.50zM328.3 123.04h1.50v4.02h-1.50zM343.3 123.04h1.50v4.02h-1.50zM344.8 123.04h1.50v4.02h-1.50zM346.4 123.04h1.50v4.02h-1.50zM347.9 123.04h1.50v4.02h-1.50zM353.9 123.04h1.50v4.02h-1.50zM358.4 123.04h1.50v4.02h-1.50zM359.9 123.04h1.50v4.02h-1.50zM377.9 123.04h1.49v4.02h-1.49zM409.2 123.04h1.49v4.02h-1.49zM442.0 123.04h1.49v4.02h-1.49zM458.4 123.04h1.49v4.02h-1.49zM459.9 123.04h1.49v4.02h-1.49zM323.8 127.06h1.50v4.02h-1.50zM338.8 127.06h1.50v4.02h-1.50zM346.4 127.06h1.50v4.02h-1.50zM325.3 131.08h1.50v4.02h-1.50zM328.3 131.08h1.50v4.02h-1.50zM347.9 131.08h1.50v4.02h-1.50zM352.4 131.08h1.50v4.02h-1.50zM356.9 131.08h1.50v4.02h-1.50zM359.9 131.08h1.50v4.02h-1.50zM367.4 131.08h1.50v4.02h-1.50zM404.7 131.08h1.49v4.02h-1.49zM331.3 135.10h1.50v4.02h-1.50zM337.3 135.10h1.50v4.02h-1.50zM340.3 135.10h1.50v4.02h-1.50zM346.4 135.10h1.50v4.02h-1.50zM347.9 135.10h1.50v4.02h-1.50zM352.4 135.10h1.50v4.02h-1.50zM353.9 135.10h1.50v4.02h-1.50zM355.4 135.10h1.50v4.02h-1.50zM356.9 135.10h1.50v4.02h-1.50zM361.4 135.10h1.50v4.02h-1.50zM362.9 135.10h1.50v4.02h-1.50zM364.4 135.10h1.50v4.02h-1.50zM337.3 139.12h1.50v4.02h-1.50zM343.3 139.12h1.50v4.02h-1.50zM346.4 139.12h1.50v4.02h-1.50zM395.8 139.12h1.49v4.02h-1.49zM322.3 143.14h1.50v4.02h-1.50zM329.8 143.14h1.50v4.02h-1.50zM332.8 143.14h1.50v4.02h-1.50zM334.3 143.14h1.50v4.02h-1.50zM344.8 143.14h1.50v4.02h-1.50zM347.9 143.14h1.50v4.02h-1.50zM352.4 143.14h1.50v4.02h-1.50zM356.9 143.14h1.50v4.02h-1.50zM358.4 143.14h1.50v4.02h-1.50zM365.9 143.14h1.50v4.02h-1.50zM325.3 147.17h1.50v4.02h-1.50zM359.9 147.17h1.50v4.02h-1.50zM391.3 147.17h1.49v4.02h-1.49zM406.2 147.17h1.49v4.02h-1.49zM421.1 147.17h1.49v4.02h-1.49zM323.8 151.19h1.50v4.02h-1.50zM325.3 151.19h1.50v4.02h-1.50zM334.3 155.21h1.50v4.02h-1.50zM344.8 155.21h1.50v4.02h-1.50zM349.4 155.21h1.50v4.02h-1.50zM364.4 155.21h1.50v4.02h-1.50zM335.8 159.23h1.50v4.02h-1.50zM338.8 159.23h1.50v4.02h-1.50zM341.8 159.23h1.50v4.02h-1.50zM355.4 159.23h1.50v4.02h-1.50zM358.4 159.23h1.50v4.02h-1.50zM361.4 159.23h1.50v4.02h-1.50zM450.9 159.23h1.49v4.02h-1.49zM334.3 163.25h1.50v4.02h-1.50zM346.4 163.25h1.50v4.02h-1.50zM352.4 163.25h1.50v4.02h-1.50zM353.9 163.25h1.50v4.02h-1.50zM356.9 163.25h1.50v4.02h-1.50zM361.4 163.25h1.50v4.02h-1.50zM365.9 163.25h1.50v4.02h-1.50zM323.8 167.27h1.50v4.02h-1.50zM343.3 167.27h1.50v4.02h-1.50zM368.9 167.27h1.50v4.02h-1.50zM391.3 167.27h1.49v4.02h-1.49zM458.4 167.27h1.49v4.02h-1.49zM325.3 171.29h1.50v4.02h-1.50zM328.3 171.29h1.50v4.02h-1.50zM341.8 171.29h1.50v4.02h-1.50zM322.3 175.31h1.50v4.02h-1.50zM328.3 175.31h1.50v4.02h-1.50zM338.8 175.31h1.50v4.02h-1.50zM341.8 175.31h1.50v4.02h-1.50zM343.3 175.31h1.50v4.02h-1.50zM346.4 175.31h1.50v4.02h-1.50zM347.9 175.31h1.50v4.02h-1.50zM350.9 175.31h1.50v4.02h-1.50zM358.4 175.31h1.50v4.02h-1.50zM367.4 175.31h1.50v4.02h-1.50zM425.6 175.31h1.49v4.02h-1.49zM329.8 179.33h1.50v4.02h-1.50zM334.3 179.33h1.50v4.02h-1.50zM341.8 179.33h1.50v4.02h-1.50zM349.4 179.33h1.50v4.02h-1.50zM355.4 179.33h1.50v4.02h-1.50zM367.4 179.33h1.50v4.02h-1.50zM341.8 183.35h1.50v4.02h-1.50zM353.9 183.35h1.50v4.02h-1.50zM361.4 183.35h1.50v4.02h-1.50zM362.9 183.35h1.50v4.02h-1.50zM334.3 187.37h1.50v4.02h-1.50zM352.4 187.37h1.50v4.02h-1.50zM353.9 187.37h1.50v4.02h-1.50zM359.9 187.37h1.50v4.02h-1.50zM320.8 191.40h1.50v4.02h-1.50zM341.8 191.40h1.50v4.02h-1.50zM335.8 195.42h1.50v4.02h-1.50zM337.3 195.42h1.50v4.02h-1.50zM340.3 195.42h1.50v4.02h-1.50zM368.9 195.42h1.50v4.02h-1.50zM328.3 199.44h1.50v4.02h-1.50zM331.3 199.44h1.50v4.02h-1.50zM332.8 199.44h1.50v4.02h-1.50zM356.9 199.44h1.50v4.02h-1.50zM358.4 199.44h1.50v4.02h-1.50zM362.9 199.44h1.50v4.02h-1.50zM367.4 199.44h1.50v4.02h-1.50zM382.3 199.44h1.49v4.02h-1.49zM326.8 203.46h1.50v4.02h-1.50zM328.3 203.46h1.50v4.02h-1.50zM337.3 203.46h1.50v4.02h-1.50zM340.3 203.46h1.50v4.02h-1.50zM344.8 203.46h1.50v4.02h-1.50zM380.8 203.46h1.49v4.02h-1.49zM409.2 203.46h1.49v4.02h-1.49zM437.5 203.46h1.49v4.02h-1.49zM335.8 207.48h1.50v4.02h-1.50zM341.8 207.48h1.50v4.02h-1.50zM346.4 207.48h1.50v4.02h-1.50zM353.9 207.48h1.50v4.02h-1.50zM373.4 207.48h1.49v4.02h-1.49zM376.4 207.48h1.49v4.02h-1.49zM388.3 207.48h1.49v4.02h-1.49zM398.7 207.48h1.49v4.02h-1.49zM446.5 207.48h1.49v4.02h-1.49zM448.0 207.48h1.49v4.02h-1.49z"/>
<path fill="rgb(222,214,235)" d="M328.3 38.60h1.50v4.02h-1.50zM334.3 38.60h1.50v4.02h-1.50zM338.8 38.60h1.50v4.02h-1.50zM340.3 38.60h1.50v4.02h-1.50zM346.4 38.60h1.50v4.02h-1.50zM364.4 38.60h1.50v4.02h-1.50zM332.8 42.62h1.50v4.02h-1.50zM338.8 42.62h1.50v4.02h-1.50zM340.3 42.62h1.50v4.02h-1.50zM350.9 42.62h1.50v4.02h-1.50zM355.4 42.62h1.50v4.02h-1.50zM356.9 42.62h1.50v4.02h-1.50zM365.9 42.62h1.50v4.02h-1.50zM323.8 46.64h1.50v4.02h-1.50zM325.3 46.64h1.50v4.02h-1.50zM332.8 46.64h1.50v4.02h-1.50zM335.8 46.64h1.50v4.02h-1.50zM346.4 46.64h1.50v4.02h-1.50zM358.4 46.64h1.50v4.02h-1.50zM320.8 50.66h1.50v4.02h-1.50zM337.3 50.66h1.50v4.02h-1.50zM346.4 50.66h1.50v4.02h-1.50zM364.4 50.66h1.50v4.02h-1.50zM400.2 50.66h1.49v4.02h-1.49zM328.3 54.68h1.50v4.02h-1.50zM329.8 54.68h1.50v4.02h-1.50zM350.9 54.68h1.50v4.02h-1.50zM358.4 54.68h1.50v4.02h-1.50zM361.4 54.68h1.50v4.02h-1.50zM320.8 58.70h1.50v4.02h-1.50zM329.8 58.70h1.50v4.02h-1.50zM332.8 58.70h1.50v4.02h-1.50zM341.8 58.70h1.50v4.02h-1.50zM356.9 58.70h1.50v4.02h-1.50zM358.4 58.70h1.50v4.02h-1.50zM361.4 58.70h1.50v4.02h-1.50zM365.9 58.70h1.50v4.02h-1.50zM356.9 62.73h1.50v4.02h-1.50zM368.9 62.73h1.50v4.02h-1.50zM394.3 62.73h1.49v4.02h-1.49zM325.3 66.75h1.50v4.02h-1.50zM328.3 66.75h1.50v4.02h-1.50zM332.8 66.75h1.50v4.02h-1.50zM334.3 66.75h1.50v4.02h-1.50zM343.3 66.75h1.50v4.02h-1.50zM352.4 66.75h1.50v4.02h-1.50zM353.9 66.75h1.50v4.02h-1.50zM329.8 70.77h1.50v4.02h-1.50zM331.3 70.77h1.50v4.02h-1.50zM346.4 70.77h1.50v4.02h-1.50zM356.9 70.77h1.50v4.02h-1.50zM368.9 70.77h1.50v4.02h-1.50zM322.3 74.79h1.50v4.02h-1.50zM328.3 74.79h1.50v4.02h-1.50zM335.8 74.79h1.50v4.02h-1.50zM337.3 74.79h1.50v4.02h-1.50zM353.9 74.79h1.50v4.02h-1.50zM359.9 74.79h1.50v4.02h-1.50zM361.4 74.79h1.50v4.02h-1.50zM368.9 74.79h1.50v4.02h-1.50zM325.3 78.81h1.50v4.02h-1.50zM328.3 78.81h1.50v4.02h-1.50zM338.8 78.81h1.50v4.02h-1.50zM343.3 78.81h1.50v4.02h-1.50zM347.9 78.81h1.50v4.02h-1.50zM352.4 78.81h1.50v4.02h-1.50zM359.9 78.81h1.50v4.02h-1.50zM365.9 78.81h1.50v4.02h-1.50zM397.2 78.81h1.49v4.02h-1.49zM403.2 78.81h1.49v4.02h-1.49zM422.6 78.81h1.49v4.02h-1.49zM430.1 78.81h1.49v4.02h-1.49zM320.8 82.83h1.50v4.02h-1.50zM322.3 82.83h1.50v4.02h-1.50zM332.8 82.83h1.50v4.02h-1.50zM340.3 82.83h1.50v4.02h-1.50zM341.8 82.83h1.50v4.02h-1.50zM346.4 82.83h1.50v4.02h-1.50zM347.9 82.83h1.50v4.02h-1.50zM353.9 82.83h1.50v4.02h-1.50zM359.9 82.83h1.50v4.02h-1.50zM368.9 82.83h1.50v4.02h-1.50zM415.1 82.83h1.49v4.02h-1.49zM421.1 82.83h1.49v4.02h-1.49zM320.8 86.85h1.50v4.02h-1.50zM328.3 86.85h1.50v4.02h-1.50zM338.8 86.85h1.50v4.02h-1.50zM349.4 86.85h1.50v4.02h-1.50zM352.4 86.85h1.50v4.02h-1.50zM358.4 86.85h1.50v4.02h-1.50zM379.3 86.85h1.49v4.02h-1.49zM388.3 86.85h1.49v4.02h-1.49zM332.8 90.87h1.50v4.02h-1.50zM335.8 90.87h1.50v4.02h-1.50zM352.4 90.87h1.50v4.02h-1.50zM337.3 94.89h1.50v4.02h-1.50zM340.3 94.89h1.50v4.02h-1.50zM353.9 94.89h1.50v4.02h-1.50zM364.4 94.89h1.50v4.02h-1.50zM368.9 94.89h1.50v4.02h-1.50zM401.7 94.89h1.49v4.02h-1.49zM406.2 94.89h1.49v4.02h-1.49zM421.1 94.89h1.49v4.02h-1.49zM427.1 94.89h1.49v4.02h-1.49zM450.9 94.89h1.49v4.02h-1.49zM455.4 94.89h1.49v4.02h-1.49zM461.4 94.89h1.49v4.02h-1.49zM467.3 94.89h1.49v4.02h-1.49zM325.3 98.91h1.50v4.02h-1.50zM329.8 98.91h1.50v4.02h-1.50zM332.8 98.91h1.50v4.02h-1.50zM350.9 98.91h1.50v4.02h-1.50zM352.4 98.91h1.50v4.02h-1.50zM365.9 98.91h1.50v4.02h-1.50zM379.3 98.91h1.49v4.02h-1.49zM403.2 98.91h1.49v4.02h-1.49zM425.6 98.91h1.49v4.02h-1.49zM439.0 98.91h1.49v4.02h-1.49zM443.5 98.91h1.49v4.02h-1.49zM467.3 98.91h1.49v4.02h-1.49zM343.3 102.93h1.50v4.02h-1.50zM352.4 102.93h1.50v4.02h-1.50zM356.9 102.93h1.50v4.02h-1.50zM358.4 102.93h1.50v4.02h-1.50zM364.4 102.93h1.50v4.02h-1.50zM394.3 102.93h1.49v4.02h-1.49zM409.2 102.93h1.49v4.02h-1.49zM446.5 102.93h1.49v4.02h-1.49zM458.4 102.93h1.49v4.02h-1.49zM473.3 102.93h1.49v4.02h-1.49zM325.3 106.96h1.50v4.02h-1.50zM337.3 106.96h1.50v4.02h-1.50zM343.3 106.96h1.50v4.02h-1.50zM344.8 106.96h1.50v4.02h-1.50zM352.4 106.96h1.50v4.02h-1.50zM364.4 106.96h1.50v4.02h-1.50zM391.3 106.96h1.49v4.02h-1.49zM442.0 106.96h1.49v4.02h-1.49zM443.5 106.96h1.49v4.02h-1.49zM320.8 110.98h1.50v4.02h-1.50zM323.8 110.98h1.50v4.02h-1.50zM334.3 110.98h1.50v4.02h-1.50zM337.3 110.98h1.50v4.02h-1.50zM340.3 110.98h1.50v4.02h-1.50zM341.8 110.98h1.50v4.02h-1.50zM350.9 110.98h1.50v4.02h-1.50zM352.4 110.98h1.50v4.02h-1.50zM365.9 110.98h1.50v4.02h-1.50zM373.4 110.98h1.49v4.02h-1.49zM380.8 110.98h1.49v4.02h-1.49zM391.3 110.98h1.49v4.02h-1.49zM397.2 110.98h1.49v4.02h-1.49zM419.6 110.98h1.49v4.02h-1.49zM461.4 110.98h1.49v4.02h-1.49zM465.9 110.98h1.49v4.02h-1.49zM470.3 110.98h1.49v4.02h-1.49zM325.3 115.00h1.50v4.02h-1.50zM344.8 115.00h1.50v4.02h-1.50zM371.9 115.00h1.49v4.02h-1.49zM379.3 115.00h1.49v4.02h-1.49zM383.8 115.00h1.49v4.02h-1.49zM407.7 115.00h1.49v4.02h-1.49zM436.0 115.00h1.49v4.02h-1.49zM459.9 115.00h1.49v4.02h-1.49zM320.8 119.02h1.50v4.02h-1.50zM329.8 119.02h1.50v4.02h-1.50zM385.3 119.02h1.49v4.02h-1.49zM421.1 119.02h1.49v4.02h-1.49zM461.4 119.02h1.49v4.02h-1.49zM361.4 123.04h1.50v4.02h-1.50zM391.3 123.04h1.49v4.02h-1.49zM395.8 123.04h1.49v4.02h-1.49zM425.6 123.04h1.49v4.02h-1.49zM439.0 123.04h1.49v4.02h-1.49zM320.8 127.06h1.50v4.02h-1.50zM341.8 127.06h1.50v4.02h-1.50zM343.3 127.06h1.50v4.02h-1.50zM356.9 127.06h1.50v4.02h-1.50zM367.4 127.06h1.50v4.02h-1.50zM379.3 127.06h1.49v4.02h-1.49zM422.6 127.06h1.49v4.02h-1.49zM320.8 131.08h1.50v4.02h-1.50zM322.3 131.08h1.50v4.02h-1.50zM323.8 131.08h1.50v4.02h-1.50zM340.3 131.08h1.50v4.02h-1.50zM346.4 131.08h1.50v4.02h-1.50zM380.8 131.08h1.49v4.02h-1.49zM453.9 131.08h1.49v4.02h-1.49zM326.8 135.10h1.50v4.02h-1.50zM328.3 135.10h1.50v4.02h-1.50zM329.8 135.10h1.50v4.02h-1.50zM349.4 135.10h1.50v4.02h-1.50zM358.4 135.10h1.50v4.02h-1.50zM367.4 135.10h1.50v4.02h-1.50zM400.2 135.10h1.49v4.02h-1.49zM320.8 139.12h1.50v4.02h-1.50zM352.4 139.12h1.50v4.02h-1.50zM359.9 139.12h1.50v4.02h-1.50zM368.9 139.12h1.50v4.02h-1.50zM452.4 139.12h1.49v4.02h-1.49zM325.3 143.14h1.50v4.02h-1.50zM328.3 143.14h1.50v4.02h-1.50zM331.3 143.14h1.50v4.02h-1.50zM338.8 143.14h1.50v4.02h-1.50zM346.4 143.14h1.50v4.02h-1.50zM350.9 143.14h1.50v4.02h-1.50zM355.4 143.14h1.50v4.02h-1.50zM364.4 143.14h1.50v4.02h-1.50zM467.3 143.14h1.49v4.02h-1.49zM332.8 147.17h1.50v4.02h-1.50zM355.4 147.17h1.50v4.02h-1.50zM361.4 147.17h1.50v4.02h-1.50zM461.4 147.17h1.49v4.02h-1.49zM465.9 147.17h1.49v4.02h-1.49zM338.8 151.19h1.50v4.02h-1.50zM358.4 151.19h1.50v4.02h-1.50zM368.9 151.19h1.50v4.02h-1.50zM446.5 151.19h1.49v4.02h-1.49zM328.3 155.21h1.50v4.02h-1.50zM346.4 155.21h1.50v4.02h-1.50zM353.9 155.21h1.50v4.02h-1.50zM358.4 155.21h1.50v4.02h-1.50zM450.9 155.21h1.49v4.02h-1.49zM322.3 159.23h1.50v4.02h-1.50zM323.8 159.23h1.50v4.02h-1.50zM340.3 159.23h1.50v4.02h-1.50zM344.8 159.23h1.50v4.02h-1.50zM352.4 159.23h1.50v4.02h-1.50zM364.4 159.23h1.50v4.02h-1.50zM329.8 163.25h1.50v4.02h-1.50zM335.8 163.25h1.50v4.02h-1.50zM337.3 163.25h1.50v4.02h-1.50zM343.3 163.25h1.50v4.02h-1.50zM355.4 163.25h1.50v4.02h-1.50zM359.9 163.25h1.50v4.02h-1.50zM364.4 163.25h1.50v4.02h-1.50zM450.9 163.25h1.49v4.02h-1.49zM320.8 167.27h1.50v4.02h-1.50zM328.3 167.27h1.50v4.02h-1.50zM329.8 167.27h1.50v4.02h-1.50zM335.8 167.27h1.50v4.02h-1.50zM337.3 167.27h1.50v4.02h-1.50zM352.4 167.27h1.50v4.02h-1.50zM356.9 167.27h1.50v4.02h-1.50zM359.9 167.27h1.50v4.02h-1.50zM362.9 167.27h1.50v4.02h-1.50zM367.4 167.27h1.50v4.02h-1.50zM455.4 167.27h1.49v4.02h-1.49zM326.8 171.29h1.50v4.02h-1.50zM335.8 171.29h1.50v4.02h-1.50zM340.3 171.29h1.50v4.02h-1.50zM356.9 171.29h1.50v4.02h-1.50zM359.9 171.29h1.50v4.02h-1.50zM367.4 171.29h1.50v4.02h-1.50zM388.3 171.29h1.49v4.02h-1.49zM455.4 171.29h1.49v4.02h-1.49zM331.3 175.31h1.50v4.02h-1.50zM359.9 175.31h1.50v4.02h-1.50zM364.4 175.31h1.50v4.02h-1.50zM371.9 175.31h1.49v4.02h-1.49zM409.2 175.31h1.49v4.02h-1.49zM320.8 179.33h1.50v4.02h-1.50zM328.3 179.33h1.50v4.02h-1.50zM340.3 179.33h1.50v4.02h-1.50zM343.3 179.33h1.50v4.02h-1.50zM368.9 179.33h1.50v4.02h-1.50zM379.3 179.33h1.49v4.02h-1.49zM320.8 183.35h1.50v4.02h-1.50zM338.8 183.35h1.50v4.02h-1.50zM340.3 183.35h1.50v4.02h-1.50zM343.3 183.35h1.50v4.02h-1.50zM346.4 183.35h1.50v4.02h-1.50zM347.9 183.35h1.50v4.02h-1.50zM364.4 183.35h1.50v4.02h-1.50zM367.4 183.35h1.50v4.02h-1.50zM409.2 183.35h1.49v4.02h-1.49zM320.8 187.37h1.50v4.02h-1.50zM325.3 187.37h1.50v4.02h-1.50zM337.3 187.37h1.50v4.02h-1.50zM325.3 191.40h1.50v4.02h-1.50zM326.8 191.40h1.50v4.02h-1.50zM356.9 191.40h1.50v4.02h-1.50zM367.4 191.40h1.50v4.02h-1.50zM370.4 191.40h1.49v4.02h-1.49zM383.8 191.40h1.49v4.02h-1.49zM391.3 191.40h1.49v4.02h-1.49zM329.8 195.42h1.50v4.02h-1.50zM338.8 195.42h1.50v4.02h-1.50zM341.8 195.42h1.50v4.02h-1.50zM349.4 195.42h1.50v4.02h-1.50zM352.4 195.42h1.50v4.02h-1.50zM356.9 195.42h1.50v4.02h-1.50zM359.9 195.42h1.50v4.02h-1.50zM400.2 195.42h1.49v4.02h-1.49zM407.7 195.42h1.49v4.02h-1.49zM422.6 195.42h1.49v4.02h-1.49zM434.5 195.42h1.49v4.02h-1.49zM467.3 195.42h1.49v4.02h-1.49zM322.3 199.44h1.50v4.02h-1.50zM349.4 199.44h1.50v4.02h-1.50zM359.9 199.44h1.50v4.02h-1.50zM364.4 199.44h1.50v4.02h-1.50zM394.3 199.44h1.49v4.02h-1.49zM403.2 199.44h1.49v4.02h-1.49zM442.0 199.44h1.49v4.02h-1.49zM455.4 199.44h1.49v4.02h-1.49zM323.8 203.46h1.50v4.02h-1.50zM332.8 203.46h1.50v4.02h-1.50zM338.8 203.46h1.50v4.02h-1.50zM343.3 203.46h1.50v4.02h-1.50zM346.4 203.46h1.50v4.02h-1.50zM349.4 203.46h1.50v4.02h-1.50zM350.9 203.46h1.50v4.02h-1.50zM355.4 203.46h1.50v4.02h-1.50zM358.4 203.46h1.50v4.02h-1.50zM359.9 203.46h1.50v4.02h-1.50zM403.2 203.46h1.49v4.02h-1.49zM425.6 203.46h1.49v4.02h-1.49zM427.1 203.46h1.49v4.02h-1.49zM322.3 207.48h1.50v4.02h-1.50zM323.8 207.48h1.50v4.02h-1.50zM325.3 207.48h1.50v4.02h-1.50zM326.8 207.48h1.50v4.02h-1.50zM328.3 207.48h1.50v4.02h-1.50zM329.8 207.48h1.50v4.02h-1.50zM349.4 207.48h1.50v4.02h-1.50zM356.9 207.48h1.50v4.02h-1.50zM364.4 207.48h1.50v4.02h-1.50zM391.3 207.48h1.49v4.02h-1.49zM424.1 207.48h1.49v4.02h-1.49z"/>
<path fill="rgb(236,228,239)" d="M322.3 38.60h1.50v4.02h-1.50zM331.3 38.60h1.50v4.02h-1.50zM341.8 38.60h1.50v4.02h-1.50zM355.4 38.60h1.50v4.02h-1.50zM367.4 38.60h1.50v4.02h-1.50zM320.8 42.62h1.50v4.02h-1.50zM325.3 42.62h1.50v4.02h-1.50zM329.8 42.62h1.50v4.02h-1.50zM341.8 42.62h1.50v4.02h-1.50zM343.3 42.62h1.50v4.02h-1.50zM352.4 42.62h1.50v4.02h-1.50zM322.3 46.64h1.50v4.02h-1.50zM343.3 46.64h1.50v4.02h-1.50zM355.4 46.64h1.50v4.02h-1.50zM323.8 50.66h1.50v4.02h-1.50zM328.3 50.66h1.50v4.02h-1.50zM331.3 50.66h1.50v4.02h-1.50zM335.8 50.66h1.50v4.02h-1.50zM340.3 50.66h1.50v4.02h-1.50zM356.9 50.66h1.50v4.02h-1.50zM367.4 50.66h1.50v4.02h-1.50zM415.1 50.66h1.49v4.02h-1.49zM424.1 50.66h1.49v4.02h-1.49zM323.8 54.68h1.50v4.02h-1.50zM353.9 54.68h1.50v4.02h-1.50zM364.4 54.68h1.50v4.02h-1.50zM368.9 54.68h1.50v4.02h-1.50zM322.3 58.70h1.50v4.02h-1.50zM338.8 58.70h1.50v4.02h-1.50zM344.8 58.70h1.50v4.02h-1.50zM346.4 58.70h1.50v4.02h-1.50zM349.4 58.70h1.50v4.02h-1.50zM350.9 58.70h1.50v4.02h-1.50zM352.4 58.70h1.50v4.02h-1.50zM367.4 58.70h1.50v4.02h-1.50zM442.0 58.70h1.49v4.02h-1.49zM329.8 62.73h1.50v4.02h-1.50zM337.3 62.73h1.50v4.02h-1.50zM340.3 62.73h1.50v4.02h-1.50zM341.8 62.73h1.50v4.02h-1.50zM343.3 62.73h1.50v4.02h-1.50zM349.4 62.73h1.50v4.02h-1.50zM350.9 62.73h1.50v4.02h-1.50zM355.4 62.73h1.50v4.02h-1.50zM367.4 62.73h1.50v4.02h-1.50zM434.5 62.73h1.49v4.02h-1.49zM337.3 66.75h1.50v4.02h-1.50zM341.8 66.75h1.50v4.02h-1.50zM367.4 66.75h1.50v4.02h-1.50zM459.9 66.75h1.49v4.02h-1.49zM337.3 70.77h1.50v4.02h-1.50zM355.4 70.77h1.50v4.02h-1.50zM359.9 70.77h1.50v4.02h-1.50zM415.1 70.77h1.49v4.02h-1.49zM421.1 70.77h1.49v4.02h-1.49zM428.6 70.77h1.49v4.02h-1.49zM461.4 70.77h1.49v4.02h-1.49zM323.8 74.79h1.50v4.02h-1.50zM325.3 74.79h1.50v4.02h-1.50zM340.3 74.79h1.50v4.02h-1.50zM343.3 74.79h1.50v4.02h-1.50zM356.9 74.79h1.50v4.02h-1.50zM385.3 74.79h1.49v4.02h-1.49zM332.8 78.81h1.50v4.02h-1.50zM335.8 78.81h1.50v4.02h-1.50zM350.9 78.81h1.50v4.02h-1.50zM361.4 78.81h1.50v4.02h-1.50zM371.9 78.81h1.49v4.02h-1.49zM386.8 78.81h1.49v4.02h-1.49zM323.8 82.83h1.50v4.02h-1.50zM325.3 82.83h1.50v4.02h-1.50zM329.8 82.83h1.50v4.02h-1.50zM334.3 82.83h1.50v4.02h-1.50zM343.3 82.83h1.50v4.02h-1.50zM350.9 82.83h1.50v4.02h-1.50zM352.4 82.83h1.50v4.02h-1.50zM364.4 82.83h1.50v4.02h-1.50zM367.4 82.83h1.50v4.02h-1.50zM407.7 82.83h1.49v4.02h-1.49zM326.8 86.85h1.50v4.02h-1.50zM355.4 86.85h1.50v4.02h-1.50zM361.4 86.85h1.50v4.02h-1.50zM364.4 86.85h1.50v4.02h-1.50zM376.4 86.85h1.49v4.02h-1.49zM382.3 86.85h1.49v4.02h-1.49zM403.2 86.85h1.49v4.02h-1.49zM443.5 86.85h1.49v4.02h-1.49zM450.9 86.85h1.49v4.02h-1.49zM455.4 86.85h1.49v4.02h-1.49zM461.4 86.85h1.49v4.02h-1.49zM344.8 90.87h1.50v4.02h-1.50zM358.4 90.87h1.50v4.02h-1.50zM428.6 90.87h1.49v4.02h-1.49zM323.8 94.89h1.50v4.02h-1.50zM329.8 94.89h1.50v4.02h-1.50zM338.8 94.89h1.50v4.02h-1.50zM355.4 94.89h1.50v4.02h-1.50zM359.9 94.89h1.50v4.02h-1.50zM365.9 94.89h1.50v4.02h-1.50zM379.3 94.89h1.49v4.02h-1.49zM380.8 94.89h1.49v4.02h-1.49zM394.3 94.89h1.49v4.02h-1.49zM404.7 94.89h1.49v4.02h-1.49zM415.1 94.89h1.49v4.02h-1.49zM416.6 94.89h1.49v4.02h-1.49zM422.6 94.89h1.49v4.02h-1.49zM424.1 94.89h1.49v4.02h-1.49zM425.6 94.89h1.49v4.02h-1.49zM428.6 94.89h1.49v4.02h-1.49zM430.1 94.89h1.49v4.02h-1.49zM445.0 94.89h1.49v4.02h-1.49zM458.4 94.89h1.49v4.02h-1.49zM471.8 94.89h1.49v4.02h-1.49zM338.8 98.91h1.50v4.02h-1.50zM347.9 98.91h1.50v4.02h-1.50zM355.4 98.91h1.50v4.02h-1.50zM371.9 98.91h1.49v4.02h-1.49zM382.3 98.91h1.49v4.02h-1.49zM394.3 98.91h1.49v4.02h-1.49zM419.6 98.91h1.49v4.02h-1.49zM433.0 98.91h1.49v4.02h-1.49zM459.9 98.91h1.49v4.02h-1.49zM461.4 98.91h1.49v4.02h-1.49zM328.3 102.93h1.50v4.02h-1.50zM344.8 102.93h1.50v4.02h-1.50zM373.4 102.93h1.49v4.02h-1.49zM379.3 102.93h1.49v4.02h-1.49zM421.1 102.93h1.49v4.02h-1.49zM425.6 102.93h1.49v4.02h-1.49zM456.9 102.93h1.49v4.02h-1.49zM471.8 102.93h1.49v4.02h-1.49zM340.3 106.96h1.50v4.02h-1.50zM341.8 106.96h1.50v4.02h-1.50zM371.9 106.96h1.49v4.02h-1.49zM376.4 106.96h1.49v4.02h-1.49zM394.3 106.96h1.49v4.02h-1.49zM403.2 106.96h1.49v4.02h-1.49zM424.1 106.96h1.49v4.02h-1.49zM431.5 106.96h1.49v4.02h-1.49zM439.0 106.96h1.49v4.02h-1.49zM450.9 106.96h1.49v4.02h-1.49zM456.9 106.96h1.49v4.02h-1.49zM461.4 106.96h1.49v4.02h-1.49zM335.8 110.98h1.50v4.02h-1.50zM358.4 110.98h1.50v4.02h-1.50zM383.8 110.98h1.49v4.02h-1.49zM385.3 110.98h1.49v4.02h-1.49zM388.3 110.98h1.49v4.02h-1.49zM400.2 110.98h1.49v4.02h-1.49zM407.7 110.98h1.49v4.02h-1.49zM410.7 110.98h1.49v4.02h-1.49zM415.1 110.98h1.49v4.02h-1.49zM424.1 110.98h1.49v4.02h-1.49zM434.5 110.98h1.49v4.02h-1.49zM439.0 110.98h1.49v4.02h-1.49zM442.0 110.98h1.49v4.02h-1.49zM450.9 110.98h1.49v4.02h-1.49zM455.4 110.98h1.49v4.02h-1.49zM464.4 110.98h1.49v4.02h-1.49zM322.3 115.00h1.50v4.02h-1.50zM356.9 115.00h1.50v4.02h-1.50zM397.2 115.00h1.49v4.02h-1.49zM400.2 115.00h1.49v4.02h-1.49zM409.2 115.00h1.49v4.02h-1.49zM431.5 115.00h1.49v4.02h-1.49zM455.4 115.00h1.49v4.02h-1.49zM338.8 119.02h1.50v4.02h-1.50zM383.8 119.02h1.49v4.02h-1.49zM398.7 119.02h1.49v4.02h-1.49zM442.0 119.02h1.49v4.02h-1.49zM443.5 119.02h1.49v4.02h-1.49zM448.0 119.02h1.49v4.02h-1.49zM323.8 123.04h1.50v4.02h-1.50zM337.3 123.04h1.50v4.02h-1.50zM380.8 123.04h1.49v4.02h-1.49zM419.6 123.04h1.49v4.02h-1.49zM433.0 123.04h1.49v4.02h-1.49zM455.4 123.04h1.49v4.02h-1.49zM328.3 127.06h1.50v4.02h-1.50zM331.3 127.06h1.50v4.02h-1.50zM358.4 127.06h1.50v4.02h-1.50zM365.9 127.06h1.50v4.02h-1.50zM415.1 127.06h1.49v4.02h-1.49zM421.1 127.06h1.49v4.02h-1.49zM446.5 127.06h1.49v4.02h-1.49zM453.9 127.06h1.49v4.02h-1.49zM329.8 131.08h1.50v4.02h-1.50zM331.3 131.08h1.50v4.02h-1.50zM349.4 131.08h1.50v4.02h-1.50zM355.4 131.08h1.50v4.02h-1.50zM364.4 131.08h1.50v4.02h-1.50zM379.3 131.08h1.49v4.02h-1.49zM386.8 131.08h1.49v4.02h-1.49zM391.3 131.08h1.49v4.02h-1.49zM397.2 131.08h1.49v4.02h-1.49zM436.0 131.08h1.49v4.02h-1.49zM443.5 131.08h1.49v4.02h-1.49zM450.9 131.08h1.49v4.02h-1.49zM458.4 131.08h1.49v4.02h-1.49zM379.3 135.10h1.49v4.02h-1.49zM382.3 135.10h1.49v4.02h-1.49zM427.1 135.10h1.49v4.02h-1.49zM433.0 135.10h1.49v4.02h-1.49zM436.0 135.10h1.49v4.02h-1.49zM331.3 139.12h1.50v4.02h-1.50zM338.8 139.12h1.50v4.02h-1.50zM344.8 139.12h1.50v4.02h-1.50zM353.9 139.12h1.50v4.02h-1.50zM364.4 139.12h1.50v4.02h-1.50zM365.9 139.12h1.50v4.02h-1.50zM370.4 139.12h1.49v4.02h-1.49zM398.7 139.12h1.49v4.02h-1.49zM409.2 139.12h1.49v4.02h-1.49zM416.6 139.12h1.49v4.02h-1.49zM428.6 139.12h1.49v4.02h-1.49zM439.0 139.12h1.49v4.02h-1.49zM459.9 139.12h1.49v4.02h-1.49zM461.4 139.12h1.49v4.02h-1.49zM323.8 143.14h1.50v4.02h-1.50zM359.9 143.14h1.50v4.02h-1.50zM382.3 143.14h1.49v4.02h-1.49zM389.8 143.14h1.49v4.02h-1.49zM450.9 143.14h1.49v4.02h-1.49zM464.4 143.14h1.49v4.02h-1.49zM326.8 147.17h1.50v4.02h-1.50zM338.8 147.17h1.50v4.02h-1.50zM340.3 147.17h1.50v4.02h-1.50zM344.8 147.17h1.50v4.02h-1.50zM352.4 147.17h1.50v4.02h-1.50zM386.8 147.17h1.49v4.02h-1.49zM400.2 147.17h1.49v4.02h-1.49zM431.5 147.17h1.49v4.02h-1.49zM450.9 147.17h1.49v4.02h-1.49zM335.8 151.19h1.50v4.02h-1.50zM341.8 151.19h1.50v4.02h-1.50zM344.8 151.19h1.50v4.02h-1.50zM359.9 151.19h1.50v4.02h-1.50zM380.8 151.19h1.49v4.02h-1.49zM409.2 151.19h1.49v4.02h-1.49zM461.4 151.19h1.49v4.02h-1.49zM331.3 155.21h1.50v4.02h-1.50zM337.3 155.21h1.50v4.02h-1.50zM350.9 155.21h1.50v4.02h-1.50zM352.4 155.21h1.50v4.02h-1.50zM359.9 155.21h1.50v4.02h-1.50zM361.4 155.21h1.50v4.02h-1.50zM394.3 155.21h1.49v4.02h-1.49zM443.5 155.21h1.49v4.02h-1.49zM353.9 159.23h1.50v4.02h-1.50zM368.9 159.23h1.50v4.02h-1.50zM380.8 159.23h1.49v4.02h-1.49zM388.3 159.23h1.49v4.02h-1.49zM449.4 159.23h1.49v4.02h-1.49zM322.3 163.25h1.50v4.02h-1.50zM340.3 163.25h1.50v4.02h-1.50zM344.8 163.25h1.50v4.02h-1.50zM358.4 163.25h1.50v4.02h-1.50zM385.3 163.25h1.49v4.02h-1.49zM388.3 163.25h1.49v4.02h-1.49zM395.8 163.25h1.49v4.02h-1.49zM403.2 163.25h1.49v4.02h-1.49zM410.7 163.25h1.49v4.02h-1.49zM419.6 163.25h1.49v4.02h-1.49zM430.1 163.25h1.49v4.02h-1.49zM325.3 167.27h1.50v4.02h-1.50zM331.3 167.27h1.50v4.02h-1.50zM332.8 167.27h1.50v4.02h-1.50zM340.3 167.27h1.50v4.02h-1.50zM383.8 167.27h1.49v4.02h-1.49zM449.4 167.27h1.49v4.02h-1.49zM320.8 171.29h1.50v4.02h-1.50zM331.3 171.29h1.50v4.02h-1.50zM337.3 171.29h1.50v4.02h-1.50zM338.8 171.29h1.50v4.02h-1.50zM349.4 171.29h1.50v4.02h-1.50zM353.9 171.29h1.50v4.02h-1.50zM358.4 171.29h1.50v4.02h-1.50zM376.4 171.29h1.49v4.02h-1.49zM379.3 171.29h1.49v4.02h-1.49zM421.1 171.29h1.49v4.02h-1.49zM424.1 171.29h1.49v4.02h-1.49zM323.8 175.31h1.50v4.02h-1.50zM335.8 175.31h1.50v4.02h-1.50zM448.0 175.31h1.49v4.02h-1.49zM322.3 179.33h1.50v4.02h-1.50zM325.3 179.33h1.50v4.02h-1.50zM347.9 179.33h1.50v4.02h-1.50zM359.9 179.33h1.50v4.02h-1.50zM362.9 179.33h1.50v4.02h-1.50zM365.9 179.33h1.50v4.02h-1.50zM388.3 179.33h1.49v4.02h-1.49zM419.6 179.33h1.49v4.02h-1.49zM462.9 179.33h1.49v4.02h-1.49zM328.3 183.35h1.50v4.02h-1.50zM352.4 183.35h1.50v4.02h-1.50zM377.9 183.35h1.49v4.02h-1.49zM416.6 183.35h1.49v4.02h-1.49zM428.6 183.35h1.49v4.02h-1.49zM446.5 183.35h1.49v4.02h-1.49zM322.3 187.37h1.50v4.02h-1.50zM335.8 187.37h1.50v4.02h-1.50zM349.4 187.37h1.50v4.02h-1.50zM356.9 187.37h1.50v4.02h-1.50zM358.4 187.37h1.50v4.02h-1.50zM361.4 187.37h1.50v4.02h-1.50zM367.4 187.37h1.50v4.02h-1.50zM368.9 187.37h1.50v4.02h-1.50zM371.9 187.37h1.49v4.02h-1.49zM379.3 187.37h1.49v4.02h-1.49zM382.3 187.37h1.49v4.02h-1.49zM407.7 187.37h1.49v4.02h-1.49zM442.0 187.37h1.49v4.02h-1.49zM467.3 187.37h1.49v4.02h-1.49zM332.8 191.40h1.50v4.02h-1.50zM347.9 191.40h1.50v4.02h-1.50zM352.4 191.40h1.50v4.02h-1.50zM362.9 191.40h1.50v4.02h-1.50zM388.3 191.40h1.49v4.02h-1.49zM470.3 191.40h1.49v4.02h-1.49zM343.3 195.42h1.50v4.02h-1.50zM344.8 195.42h1.50v4.02h-1.50zM364.4 195.42h1.50v4.02h-1.50zM371.9 195.42h1.49v4.02h-1.49zM385.3 195.42h1.49v4.02h-1.49zM427.1 195.42h1.49v4.02h-1.49zM470.3 195.42h1.49v4.02h-1.49zM335.8 199.44h1.50v4.02h-1.50zM337.3 199.44h1.50v4.02h-1.50zM341.8 199.44h1.50v4.02h-1.50zM347.9 199.44h1.50v4.02h-1.50zM352.4 199.44h1.50v4.02h-1.50zM355.4 199.44h1.50v4.02h-1.50zM370.4 199.44h1.49v4.02h-1.49zM388.3 199.44h1.49v4.02h-1.49zM400.2 199.44h1.49v4.02h-1.49zM456.9 199.44h1.49v4.02h-1.49zM459.9 199.44h1.49v4.02h-1.49zM465.9 199.44h1.49v4.02h-1.49zM325.3 203.46h1.50v4.02h-1.50zM331.3 203.46h1.50v4.02h-1.50zM352.4 203.46h1.50v4.02h-1.50zM356.9 203.46h1.50v4.02h-1.50zM364.4 203.46h1.50v4.02h-1.50zM371.9 203.46h1.49v4.02h-1.49zM385.3 203.46h1.49v4.02h-1.49zM388.3 203.46h1.49v4.02h-1.49zM389.8 203.46h1.49v4.02h-1.49zM394.3 203.46h1.49v4.02h-1.49zM395.8 203.46h1.49v4.02h-1.49zM442.0 203.46h1.49v4.02h-1.49zM448.0 203.46h1.49v4.02h-1.49zM455.4 203.46h1.49v4.02h-1.49zM332.8 207.48h1.50v4.02h-1.50zM367.4 207.48h1.50v4.02h-1.50zM380.8 207.48h1.49v4.02h-1.49zM383.8 207.48h1.49v4.02h-1.49zM418.1 207.48h1.49v4.02h-1.49zM433.0 207.48h1.49v4.02h-1.49zM467.3 207.48h1.49v4.02h-1.49z"/>
<path fill="rgb(250,243,243)" d="M323.8 38.60h1.50v4.02h-1.50zM329.8 38.60h1.50v4.02h-1.50zM347.9 38.60h1.50v4.02h-1.50zM358.4 38.60h1.50v4.02h-1.50zM359.9 38.60h1.50v4.02h-1.50zM328.3 42.62h1.50v4.02h-1.50zM335.8 42.62h1.50v4.02h-1.50zM358.4 42.62h1.50v4.02h-1.50zM400.2 42.62h1.49v4.02h-1.49zM331.3 46.64h1.50v4.02h-1.50zM337.3 46.64h1.50v4.02h-1.50zM344.8 46.64h1.50v4.02h-1.50zM347.9 46.64h1.50v4.02h-1.50zM364.4 46.64h1.50v4.02h-1.50zM365.9 46.64h1.50v4.02h-1.50zM367.4 46.64h1.50v4.02h-1.50zM329.8 50.66h1.50v4.02h-1.50zM358.4 50.66h1.50v4.02h-1.50zM382.3 50.66h1.49v4.02h-1.49zM388.3 50.66h1.49v4.02h-1.49zM421.1 50.66h1.49v4.02h-1.49zM427.1 50.66h1.49v4.02h-1.49zM456.9 50.66h1.49v4.02h-1.49zM461.4 50.66h1.49v4.02h-1.49zM325.3 54.68h1.50v4.02h-1.50zM335.8 54.68h1.50v4.02h-1.50zM337.3 54.68h1.50v4.02h-1.50zM340.3 54.68h1.50v4.02h-1.50zM341.8 54.68h1.50v4.02h-1.50zM344.8 54.68h1.50v4.02h-1.50zM346.4 54.68h1.50v4.02h-1.50zM367.4 54.68h1.50v4.02h-1.50zM370.4 54.68h1.49v4.02h-1.49zM409.2 54.68h1.49v4.02h-1.49zM323.8 58.70h1.50v4.02h-1.50zM331.3 58.70h1.50v4.02h-1.50zM359.9 58.70h1.50v4.02h-1.50zM425.6 58.70h1.49v4.02h-1.49zM455.4 58.70h1.49v4.02h-1.49zM331.3 62.73h1.50v4.02h-1.50zM335.8 62.73h1.50v4.02h-1.50zM353.9 62.73h1.50v4.02h-1.50zM359.9 62.73h1.50v4.02h-1.50zM364.4 62.73h1.50v4.02h-1.50zM433.0 62.73h1.49v4.02h-1.49zM322.3 66.75h1.50v4.02h-1.50zM323.8 66.75h1.50v4.02h-1.50zM344.8 66.75h1.50v4.02h-1.50zM361.4 66.75h1.50v4.02h-1.50zM364.4 66.75h1.50v4.02h-1.50zM388.3 66.75h1.49v4.02h-1.49zM412.2 66.75h1.49v4.02h-1.49zM437.5 66.75h1.49v4.02h-1.49zM470.3 66.75h1.49v4.02h-1.49zM325.3 70.77h1.50v4.02h-1.50zM326.8 70.77h1.50v4.02h-1.50zM341.8 70.77h1.50v4.02h-1.50zM347.9 70.77h1.50v4.02h-1.50zM400.2 70.77h1.49v4.02h-1.49zM410.7 70.77h1.49v4.02h-1.49zM459.9 70.77h1.49v4.02h-1.49zM462.9 70.77h1.49v4.02h-1.49zM468.8 70.77h1.49v4.02h-1.49zM362.9 74.79h1.50v4.02h-1.50zM367.4 74.79h1.50v4.02h-1.50zM379.3 74.79h1.49v4.02h-1.49zM400.2 74.79h1.49v4.02h-1.49zM446.5 74.79h1.49v4.02h-1.49zM464.4 74.79h1.49v4.02h-1.49zM323.8 78.81h1.50v4.02h-1.50zM331.3 78.81h1.50v4.02h-1.50zM346.4 78.81h1.50v4.02h-1.50zM356.9 78.81h1.50v4.02h-1.50zM364.4 78.81h1.50v4.02h-1.50zM367.4 78.81h1.50v4.02h-1.50zM370.4 78.81h1.49v4.02h-1.49zM391.3 78.81h1.49v4.02h-1.49zM427.1 78.81h1.49v4.02h-1.49zM453.9 78.81h1.49v4.02h-1.49zM456.9 78.81h1.49v4.02h-1.49zM331.3 82.83h1.50v4.02h-1.50zM338.8 82.83h1.50v4.02h-1.50zM355.4 82.83h1.50v4.02h-1.50zM385.3 82.83h1.49v4.02h-1.49zM409.2 82.83h1.49v4.02h-1.49zM419.6 82.83h1.49v4.02h-1.49zM470.3 82.83h1.49v4.02h-1.49zM322.3 86.85h1.50v4.02h-1.50zM329.8 86.85h1.50v4.02h-1.50zM335.8 86.85h1.50v4.02h-1.50zM347.9 86.85h1.50v4.02h-1.50zM356.9 86.85h1.50v4.02h-1.50zM359.9 86.85h1.50v4.02h-1.50zM383.8 86.85h1.49v4.02h-1.49zM391.3 86.85h1.49v4.02h-1.49zM394.3 86.85h1.49v4.02h-1.49zM395.8 86.85h1.49v4.02h-1.49zM410.7 86.85h1.49v4.02h-1.49zM459.9 86.85h1.49v4.02h-1.49zM464.4 86.85h1.49v4.02h-1.49zM470.3 86.85h1.49v4.02h-1.49zM415.1 90.87h1.49v4.02h-1.49zM421.1 90.87h1.49v4.02h-1.49zM456.9 90.87h1.49v4.02h-1.49zM458.4 90.87h1.49v4.02h-1.49zM462.9 90.87h1.49v4.02h-1.49zM386.8 94.89h1.49v4.02h-1.49zM388.3 94.89h1.49v4.02h-1.49zM395.8 94.89h1.49v4.02h-1.49zM397.2 94.89h1.49v4.02h-1.49zM398.7 94.89h1.49v4.02h-1.49zM412.2 94.89h1.49v4.02h-1.49zM413.7 94.89h1.49v4.02h-1.49zM418.1 94.89h1.49v4.02h-1.49zM431.5 94.89h1.49v4.02h-1.49zM440.5 94.89h1.49v4.02h-1.49zM442.0 94.89h1.49v4.02h-1.49zM459.9 94.89h1.49v4.02h-1.49zM322.3 98.91h1.50v4.02h-1.50zM323.8 98.91h1.50v4.02h-1.50zM361.4 98.91h1.50v4.02h-1.50zM364.4 98.91h1.50v4.02h-1.50zM377.9 98.91h1.49v4.02h-1.49zM386.8 98.91h1.49v4.02h-1.49zM395.8 98.91h1.49v4.02h-1.49zM400.2 98.91h1.49v4.02h-1.49zM413.7 98.91h1.49v4.02h-1.49zM428.6 98.91h1.49v4.02h-1.49zM431.5 98.91h1.49v4.02h-1.49zM436.0 98.91h1.49v4.02h-1.49zM442.0 98.91h1.49v4.02h-1.49zM449.4 98.91h1.49v4.02h-1.49zM455.4 98.91h1.49v4.02h-1.49zM468.8 98.91h1.49v4.02h-1.49zM325.3 102.93h1.50v4.02h-1.50zM389.8 102.93h1.49v4.02h-1.49zM400.2 102.93h1.49v4.02h-1.49zM415.1 102.93h1.49v4.02h-1.49zM422.6 102.93h1.49v4.02h-1.49zM433.0 102.93h1.49v4.02h-1.49zM331.3 106.96h1.50v4.02h-1.50zM359.9 106.96h1.50v4.02h-1.50zM404.7 106.96h1.49v4.02h-1.49zM418.1 106.96h1.49v4.02h-1.49zM425.6 106.96h1.49v4.02h-1.49zM427.1 106.96h1.49v4.02h-1.49zM430.1 106.96h1.49v4.02h-1.49zM455.4 106.96h1.49v4.02h-1.49zM465.9 106.96h1.49v4.02h-1.49zM338.8 110.98h1.50v4.02h-1.50zM389.8 110.98h1.49v4.02h-1.49zM398.7 110.98h1.49v4.02h-1.49zM404.7 110.98h1.49v4.02h-1.49zM409.2 110.98h1.49v4.02h-1.49zM416.6 110.98h1.49v4.02h-1.49zM428.6 110.98h1.49v4.02h-1.49zM462.9 110.98h1.49v4.02h-1.49zM334.3 115.00h1.50v4.02h-1.50zM337.3 115.00h1.50v4.02h-1.50zM359.9 115.00h1.50v4.02h-1.50zM380.8 115.00h1.49v4.02h-1.49zM388.3 115.00h1.49v4.02h-1.49zM410.7 115.00h1.49v4.02h-1.49zM412.2 115.00h1.49v4.02h-1.49zM415.1 115.00h1.49v4.02h-1.49zM430.1 115.00h1.49v4.02h-1.49zM446.5 115.00h1.49v4.02h-1.49zM450.9 115.00h1.49v4.02h-1.49zM458.4 115.00h1.49v4.02h-1.49zM471.8 115.00h1.49v4.02h-1.49zM337.3 119.02h1.50v4.02h-1.50zM349.4 119.02h1.50v4.02h-1.50zM359.9 119.02h1.50v4.02h-1.50zM371.9 119.02h1.49v4.02h-1.49zM373.4 119.02h1.49v4.02h-1.49zM403.2 119.02h1.49v4.02h-1.49zM415.1 119.02h1.49v4.02h-1.49zM422.6 119.02h1.49v4.02h-1.49zM424.1 119.02h1.49v4.02h-1.49zM437.5 119.02h1.49v4.02h-1.49zM459.9 119.02h1.49v4.02h-1.49zM338.8 123.04h1.50v4.02h-1.50zM350.9 123.04h1.50v4.02h-1.50zM370.4 123.04h1.49v4.02h-1.49zM379.3 123.04h1.49v4.02h-1.49zM389.8 123.04h1.49v4.02h-1.49zM400.2 123.04h1.49v4.02h-1.49zM406.2 123.04h1.49v4.02h-1.49zM413.7 123.04h1.49v4.02h-1.49zM418.1 123.04h1.49v4.02h-1.49zM422.6 123.04h1.49v4.02h-1.49zM437.5 123.04h1.49v4.02h-1.49zM448.0 123.04h1.49v4.02h-1.49zM462.9 123.04h1.49v4.02h-1.49zM471.8 123.04h1.49v4.02h-1.49zM344.8 127.06h1.50v4.02h-1.50zM359.9 127.06h1.50v4.02h-1.50zM385.3 127.06h1.49v4.02h-1.49zM400.2 127.06h1.49v4.02h-1.49zM419.6 127.06h1.49v4.02h-1.49zM425.6 127.06h1.49v4.02h-1.49zM443.5 127.06h1.49v4.02h-1.49zM450.9 127.06h1.49v4.02h-1.49zM468.8 127.06h1.49v4.02h-1.49zM470.3 127.06h1.49v4.02h-1.49zM471.8 127.06h1.49v4.02h-1.49zM344.8 131.08h1.50v4.02h-1.50zM370.4 131.08h1.49v4.02h-1.49zM371.9 131.08h1.49v4.02h-1.49zM398.7 131.08h1.49v4.02h-1.49zM407.7 131.08h1.49v4.02h-1.49zM415.1 131.08h1.49v4.02h-1.49zM430.1 131.08h1.49v4.02h-1.49zM439.0 131.08h1.49v4.02h-1.49zM470.3 131.08h1.49v4.02h-1.49zM338.8 135.10h1.50v4.02h-1.50zM385.3 135.10h1.49v4.02h-1.49zM437.5 135.10h1.49v4.02h-1.49zM449.4 135.10h1.49v4.02h-1.49zM450.9 135.10h1.49v4.02h-1.49zM377.9 139.12h1.49v4.02h-1.49zM379.3 139.12h1.49v4.02h-1.49zM382.3 139.12h1.49v4.02h-1.49zM394.3 139.12h1.49v4.02h-1.49zM397.2 139.12h1.49v4.02h-1.49zM401.7 139.12h1.49v4.02h-1.49zM403.2 139.12h1.49v4.02h-1.49zM424.1 139.12h1.49v4.02h-1.49zM462.9 139.12h1.49v4.02h-1.49zM467.3 139.12h1.49v4.02h-1.49zM337.3 143.14h1.50v4.02h-1.50zM385.3 143.14h1.49v4.02h-1.49zM386.8 143.14h1.49v4.02h-1.49zM407.7 143.14h1.49v4.02h-1.49zM424.1 143.14h1.49v4.02h-1.49zM443.5 143.14h1.49v4.02h-1.49zM473.3 143.14h1.49v4.02h-1.49zM356.9 147.17h1.50v4.02h-1.50zM418.1 147.17h1.49v4.02h-1.49zM419.6 147.17h1.49v4.02h-1.49zM449.4 147.17h1.49v4.02h-1.49zM456.9 147.17h1.49v4.02h-1.49zM459.9 147.17h1.49v4.02h-1.49zM470.3 147.17h1.49v4.02h-1.49zM388.3 151.19h1.49v4.02h-1.49zM400.2 151.19h1.49v4.02h-1.49zM424.1 151.19h1.49v4.02h-1.49zM428.6 151.19h1.49v4.02h-1.49zM450.9 151.19h1.49v4.02h-1.49zM338.8 155.21h1.50v4.02h-1.50zM367.4 155.21h1.50v4.02h-1.50zM383.8 155.21h1.49v4.02h-1.49zM385.3 155.21h1.49v4.02h-1.49zM407.7 155.21h1.49v4.02h-1.49zM434.5 155.21h1.49v4.02h-1.49zM461.4 155.21h1.49v4.02h-1.49zM471.8 155.21h1.49v4.02h-1.49zM437.5 159.23h1.49v4.02h-1.49zM467.3 159.23h1.49v4.02h-1.49zM323.8 163.25h1.50v4.02h-1.50zM376.4 163.25h1.49v4.02h-1.49zM391.3 163.25h1.49v4.02h-1.49zM404.7 163.25h1.49v4.02h-1.49zM406.2 163.25h1.49v4.02h-1.49zM461.4 163.25h1.49v4.02h-1.49zM338.8 167.27h1.50v4.02h-1.50zM365.9 167.27h1.50v4.02h-1.50zM377.9 167.27h1.49v4.02h-1.49zM427.1 167.27h1.49v4.02h-1.49zM450.9 167.27h1.49v4.02h-1.49zM329.8 171.29h1.50v4.02h-1.50zM343.3 171.29h1.50v4.02h-1.50zM346.4 171.29h1.50v4.02h-1.50zM355.4 171.29h1.50v4.02h-1.50zM462.9 171.29h1.49v4.02h-1.49zM470.3 171.29h1.49v4.02h-1.49zM320.8 175.31h1.50v4.02h-1.50zM340.3 175.31h1.50v4.02h-1.50zM353.9 175.31h1.50v4.02h-1.50zM361.4 175.31h1.50v4.02h-1.50zM380.8 175.31h1.49v4.02h-1.49zM385.3 175.31h1.49v4.02h-1.49zM400.2 175.31h1.49v4.02h-1.49zM446.5 175.31h1.49v4.02h-1.49zM323.8 179.33h1.50v4.02h-1.50zM326.8 179.33h1.50v4.02h-1.50zM335.8 179.33h1.50v4.02h-1.50zM338.8 179.33h1.50v4.02h-1.50zM352.4 179.33h1.50v4.02h-1.50zM364.4 179.33h1.50v4.02h-1.50zM403.2 179.33h1.49v4.02h-1.49zM415.1 179.33h1.49v4.02h-1.49zM450.9 179.33h1.49v4.02h-1.49zM326.8 183.35h1.50v4.02h-1.50zM356.9 183.35h1.50v4.02h-1.50zM379.3 183.35h1.49v4.02h-1.49zM382.3 183.35h1.49v4.02h-1.49zM400.2 183.35h1.49v4.02h-1.49zM403.2 183.35h1.49v4.02h-1.49zM424.1 183.35h1.49v4.02h-1.49zM455.4 183.35h1.49v4.02h-1.49zM458.4 183.35h1.49v4.02h-1.49zM332.8 187.37h1.50v4.02h-1.50zM350.9 187.37h1.50v4.02h-1.50zM362.9 187.37h1.50v4.02h-1.50zM386.8 187.37h1.49v4.02h-1.49zM459.9 187.37h1.49v4.02h-1.49zM473.3 187.37h1.49v4.02h-1.49zM334.3 191.40h1.50v4.02h-1.50zM350.9 191.40h1.50v4.02h-1.50zM355.4 191.40h1.50v4.02h-1.50zM358.4 191.40h1.50v4.02h-1.50zM359.9 191.40h1.50v4.02h-1.50zM365.9 191.40h1.50v4.02h-1.50zM377.9 191.40h1.49v4.02h-1.49zM379.3 191.40h1.49v4.02h-1.49zM382.3 191.40h1.49v4.02h-1.49zM425.6 191.40h1.49v4.02h-1.49zM453.9 191.40h1.49v4.02h-1.49zM320.8 195.42h1.50v4.02h-1.50zM323.8 195.42h1.50v4.02h-1.50zM331.3 195.42h1.50v4.02h-1.50zM388.3 195.42h1.49v4.02h-1.49zM419.6 195.42h1.49v4.02h-1.49zM436.0 195.42h1.49v4.02h-1.49zM446.5 195.42h1.49v4.02h-1.49zM448.0 195.42h1.49v4.02h-1.49zM464.4 195.42h1.49v4.02h-1.49zM320.8 199.44h1.50v4.02h-1.50zM338.8 199.44h1.50v4.02h-1.50zM385.3 199.44h1.49v4.02h-1.49zM391.3 199.44h1.49v4.02h-1.49zM434.5 199.44h1.49v4.02h-1.49zM436.0 199.44h1.49v4.02h-1.49zM461.4 199.44h1.49v4.02h-1.49zM335.8 203.46h1.50v4.02h-1.50zM377.9 203.46h1.49v4.02h-1.49zM379.3 203.46h1.49v4.02h-1.49zM416.6 203.46h1.49v4.02h-1.49zM431.5 203.46h1.49v4.02h-1.49zM436.0 203.46h1.49v4.02h-1.49zM456.9 203.46h1.49v4.02h-1.49zM462.9 203.46h1.49v4.02h-1.49zM468.8 203.46h1.49v4.02h-1.49zM331.3 207.48h1.50v4.02h-1.50zM344.8 207.48h1.50v4.02h-1.50zM365.9 207.48h1.50v4.02h-1.50zM374.9 207.48h1.49v4.02h-1.49zM379.3 207.48h1.49v4.02h-1.49zM406.2 207.48h1.49v4.02h-1.49zM419.6 207.48h1.49v4.02h-1.49zM425.6 207.48h1.49v4.02h-1.49zM430.1 207.48h1.49v4.02h-1.49zM434.5 207.48h1.49v4.02h-1.49zM458.4 207.48h1.49v4.02h-1.49zM462.9 207.48h1.49v4.02h-1.49zM464.4 207.48h1.49v4.02h-1.49zM468.8 207.48h1.49v4.02h-1.49zM470.3 207.48h1.49v4.02h-1.49z"/>
<path fill="rgb(248,226,223)" d="M325.3 38.60h1.50v4.02h-1.50zM337.3 38.60h1.50v4.02h-1.50zM356.9 38.60h1.50v4.02h-1.50zM331.3 42.62h1.50v4.02h-1.50zM450.9 42.62h1.49v4.02h-1.49zM329.8 46.64h1.50v4.02h-1.50zM340.3 46.64h1.50v4.02h-1.50zM350.9 46.64h1.50v4.02h-1.50zM359.9 46.64h1.50v4.02h-1.50zM361.4 46.64h1.50v4.02h-1.50zM344.8 50.66h1.50v4.02h-1.50zM365.9 50.66h1.50v4.02h-1.50zM371.9 50.66h1.49v4.02h-1.49zM380.8 50.66h1.49v4.02h-1.49zM397.2 50.66h1.49v4.02h-1.49zM403.2 50.66h1.49v4.02h-1.49zM418.1 50.66h1.49v4.02h-1.49zM437.5 50.66h1.49v4.02h-1.49zM439.0 50.66h1.49v4.02h-1.49zM443.5 50.66h1.49v4.02h-1.49zM462.9 50.66h1.49v4.02h-1.49zM320.8 54.68h1.50v4.02h-1.50zM322.3 54.68h1.50v4.02h-1.50zM334.3 54.68h1.50v4.02h-1.50zM400.2 54.68h1.49v4.02h-1.49zM415.1 54.68h1.49v4.02h-1.49zM419.6 54.68h1.49v4.02h-1.49zM425.6 54.68h1.49v4.02h-1.49zM431.5 54.68h1.49v4.02h-1.49zM437.5 54.68h1.49v4.02h-1.49zM443.5 54.68h1.49v4.02h-1.49zM465.9 54.68h1.49v4.02h-1.49zM347.9 58.70h1.50v4.02h-1.50zM370.4 58.70h1.49v4.02h-1.49zM391.3 58.70h1.49v4.02h-1.49zM415.1 58.70h1.49v4.02h-1.49zM434.5 58.70h1.49v4.02h-1.49zM450.9 58.70h1.49v4.02h-1.49zM322.3 62.73h1.50v4.02h-1.50zM325.3 62.73h1.50v4.02h-1.50zM352.4 62.73h1.50v4.02h-1.50zM358.4 62.73h1.50v4.02h-1.50zM422.6 62.73h1.49v4.02h-1.49zM446.5 62.73h1.49v4.02h-1.49zM331.3 66.75h1.50v4.02h-1.50zM338.8 66.75h1.50v4.02h-1.50zM379.3 66.75h1.49v4.02h-1.49zM394.3 66.75h1.49v4.02h-1.49zM407.7 66.75h1.49v4.02h-1.49zM419.6 66.75h1.49v4.02h-1.49zM425.6 66.75h1.49v4.02h-1.49zM427.1 66.75h1.49v4.02h-1.49zM442.0 66.75h1.49v4.02h-1.49zM320.8 70.77h1.50v4.02h-1.50zM340.3 70.77h1.50v4.02h-1.50zM379.3 70.77h1.49v4.02h-1.49zM397.2 70.77h1.49v4.02h-1.49zM404.7 70.77h1.49v4.02h-1.49zM418.1 70.77h1.49v4.02h-1.49zM431.5 70.77h1.49v4.02h-1.49zM442.0 70.77h1.49v4.02h-1.49zM458.4 70.77h1.49v4.02h-1.49zM470.3 70.77h1.49v4.02h-1.49zM329.8 74.79h1.50v4.02h-1.50zM419.6 74.79h1.49v4.02h-1.49zM425.6 74.79h1.49v4.02h-1.49zM449.4 74.79h1.49v4.02h-1.49zM455.4 74.79h1.49v4.02h-1.49zM462.9 74.79h1.49v4.02h-1.49zM329.8 78.81h1.50v4.02h-1.50zM353.9 78.81h1.50v4.02h-1.50zM412.2 78.81h1.49v4.02h-1.49zM415.1 78.81h1.49v4.02h-1.49zM442.0 78.81h1.49v4.02h-1.49zM443.5 78.81h1.49v4.02h-1.49zM449.4 78.81h1.49v4.02h-1.49zM358.4 82.83h1.50v4.02h-1.50zM371.9 82.83h1.49v4.02h-1.49zM379.3 82.83h1.49v4.02h-1.49zM397.2 82.83h1.49v4.02h-1.49zM424.1 82.83h1.49v4.02h-1.49zM425.6 82.83h1.49v4.02h-1.49zM427.1 82.83h1.49v4.02h-1.49zM428.6 82.83h1.49v4.02h-1.49zM456.9 82.83h1.49v4.02h-1.49zM459.9 82.83h1.49v4.02h-1.49zM461.4 82.83h1.49v4.02h-1.49zM337.3 86.85h1.50v4.02h-1.50zM344.8 86.85h1.50v4.02h-1.50zM371.9 86.85h1.49v4.02h-1.49zM373.4 86.85h1.49v4.02h-1.49zM380.8 86.85h1.49v4.02h-1.49zM409.2 86.85h1.49v4.02h-1.49zM415.1 86.85h1.49v4.02h-1.49zM418.1 86.85h1.49v4.02h-1.49zM431.5 86.85h1.49v4.02h-1.49zM446.5 86.85h1.49v4.02h-1.49zM449.4 86.85h1.49v4.02h-1.49zM456.9 86.85h1.49v4.02h-1.49zM458.4 86.85h1.49v4.02h-1.49zM340.3 90.87h1.50v4.02h-1.50zM388.3 90.87h1.49v4.02h-1.49zM400.2 90.87h1.49v4.02h-1.49zM410.7 90.87h1.49v4.02h-1.49zM419.6 90.87h1.49v4.02h-1.49zM443.5 90.87h1.49v4.02h-1.49zM452.4 90.87h1.49v4.02h-1.49zM376.4 94.89h1.49v4.02h-1.49zM382.3 94.89h1.49v4.02h-1.49zM391.3 94.89h1.49v4.02h-1.49zM407.7 94.89h1.49v4.02h-1.49zM434.5 94.89h1.49v4.02h-1.49zM439.0 94.89h1.49v4.02h-1.49zM331.3 98.91h1.50v4.02h-1.50zM344.8 98.91h1.50v4.02h-1.50zM373.4 98.91h1.49v4.02h-1.49zM383.8 98.91h1.49v4.02h-1.49zM391.3 98.91h1.49v4.02h-1.49zM401.7 98.91h1.49v4.02h-1.49zM404.7 98.91h1.49v4.02h-1.49zM415.1 98.91h1.49v4.02h-1.49zM418.1 98.91h1.49v4.02h-1.49zM422.6 98.91h1.49v4.02h-1.49zM437.5 98.91h1.49v4.02h-1.49zM440.5 98.91h1.49v4.02h-1.49zM453.9 98.91h1.49v4.02h-1.49zM376.4 102.93h1.49v4.02h-1.49zM395.8 102.93h1.49v4.02h-1.49zM413.7 102.93h1.49v4.02h-1.49zM424.1 102.93h1.49v4.02h-1.49zM428.6 102.93h1.49v4.02h-1.49zM450.9 102.93h1.49v4.02h-1.49zM453.9 102.93h1.49v4.02h-1.49zM468.8 102.93h1.49v4.02h-1.49zM377.9 106.96h1.49v4.02h-1.49zM382.3 106.96h1.49v4.02h-1.49zM386.8 106.96h1.49v4.02h-1.49zM395.8 106.96h1.49v4.02h-1.49zM419.6 106.96h1.49v4.02h-1.49zM421.1 106.96h1.49v4.02h-1.49zM428.6 106.96h1.49v4.02h-1.49zM436.0 106.96h1.49v4.02h-1.49zM459.9 106.96h1.49v4.02h-1.49zM471.8 106.96h1.49v4.02h-1.49zM344.8 110.98h1.50v4.02h-1.50zM371.9 110.98h1.49v4.02h-1.49zM386.8 110.98h1.49v4.02h-1.49zM406.2 110.98h1.49v4.02h-1.49zM418.1 110.98h1.49v4.02h-1.49zM430.1 110.98h1.49v4.02h-1.49zM433.0 110.98h1.49v4.02h-1.49zM436.0 110.98h1.49v4.02h-1.49zM437.5 110.98h1.49v4.02h-1.49zM443.5 110.98h1.49v4.02h-1.49zM448.0 110.98h1.49v4.02h-1.49zM335.8 115.00h1.50v4.02h-1.50zM370.4 115.00h1.49v4.02h-1.49zM373.4 115.00h1.49v4.02h-1.49zM376.4 115.00h1.49v4.02h-1.49zM377.9 115.00h1.49v4.02h-1.49zM392.8 115.00h1.49v4.02h-1.49zM418.1 115.00h1.49v4.02h-1.49zM425.6 115.00h1.49v4.02h-1.49zM427.1 115.00h1.49v4.02h-1.49zM445.0 115.00h1.49v4.02h-1.49zM467.3 115.00h1.49v4.02h-1.49zM470.3 115.00h1.49v4.02h-1.49zM323.8 119.02h1.50v4.02h-1.50zM377.9 119.02h1.49v4.02h-1.49zM379.3 119.02h1.49v4.02h-1.49zM391.3 119.02h1.49v4.02h-1.49zM401.7 119.02h1.49v4.02h-1.49zM406.2 119.02h1.49v4.02h-1.49zM409.2 119.02h1.49v4.02h-1.49zM412.2 119.02h1.49v4.02h-1.49zM427.1 119.02h1.49v4.02h-1.49zM428.6 119.02h1.49v4.02h-1.49zM433.0 119.02h1.49v4.02h-1.49zM450.9 119.02h1.49v4.02h-1.49zM452.4 119.02h1.49v4.02h-1.49zM458.4 119.02h1.49v4.02h-1.49zM470.3 119.02h1.49v4.02h-1.49zM382.3 123.04h1.49v4.02h-1.49zM385.3 123.04h1.49v4.02h-1.49zM386.8 123.04h1.49v4.02h-1.49zM397.2 123.04h1.49v4.02h-1.49zM401.7 123.04h1.49v4.02h-1.49zM403.2 123.04h1.49v4.02h-1.49zM415.1 123.04h1.49v4.02h-1.49zM421.1 123.04h1.49v4.02h-1.49zM427.1 123.04h1.49v4.02h-1.49zM436.0 123.04h1.49v4.02h-1.49zM443.5 123.04h1.49v4.02h-1.49zM371.9 127.06h1.49v4.02h-1.49zM376.4 127.06h1.49v4.02h-1.49zM388.3 127.06h1.49v4.02h-1.49zM389.8 127.06h1.49v4.02h-1.49zM406.2 127.06h1.49v4.02h-1.49zM428.6 127.06h1.49v4.02h-1.49zM449.4 127.06h1.49v4.02h-1.49zM464.4 127.06h1.49v4.02h-1.49zM335.8 131.08h1.50v4.02h-1.50zM343.3 131.08h1.50v4.02h-1.50zM358.4 131.08h1.50v4.02h-1.50zM395.8 131.08h1.49v4.02h-1.49zM406.2 131.08h1.49v4.02h-1.49zM416.6 131.08h1.49v4.02h-1.49zM418.1 131.08h1.49v4.02h-1.49zM431.5 131.08h1.49v4.02h-1.49zM459.9 131.08h1.49v4.02h-1.49zM465.9 131.08h1.49v4.02h-1.49zM467.3 131.08h1.49v4.02h-1.49zM473.3 131.08h1.49v4.02h-1.49zM344.8 135.10h1.50v4.02h-1.50zM386.8 135.10h1.49v4.02h-1.49zM397.2 135.10h1.49v4.02h-1.49zM409.2 135.10h1.49v4.02h-1.49zM413.7 135.10h1.49v4.02h-1.49zM473.3 135.10h1.49v4.02h-1.49zM376.4 139.12h1.49v4.02h-1.49zM388.3 139.12h1.49v4.02h-1.49zM413.7 139.12h1.49v4.02h-1.49zM415.1 139.12h1.49v4.02h-1.49zM418.1 139.12h1.49v4.02h-1.49zM422.6 139.12h1.49v4.02h-1.49zM434.5 139.12h1.49v4.02h-1.49zM436.0 139.12h1.49v4.02h-1.49zM442.0 139.12h1.49v4.02h-1.49zM450.9 139.12h1.49v4.02h-1.49zM455.4 139.12h1.49v4.02h-1.49zM471.8 139.12h1.49v4.02h-1.49zM370.4 143.14h1.49v4.02h-1.49zM371.9 143.14h1.49v4.02h-1.49zM425.6 143.14h1.49v4.02h-1.49zM459.9 143.14h1.49v4.02h-1.49zM465.9 143.14h1.49v4.02h-1.49zM385.3 147.17h1.49v4.02h-1.49zM403.2 147.17h1.49v4.02h-1.49zM430.1 147.17h1.49v4.02h-1.49zM446.5 147.17h1.49v4.02h-1.49zM455.4 147.17h1.49v4.02h-1.49zM462.9 147.17h1.49v4.02h-1.49zM464.4 147.17h1.49v4.02h-1.49zM471.8 147.17h1.49v4.02h-1.49zM331.3 151.19h1.50v4.02h-1.50zM401.7 151.19h1.49v4.02h-1.49zM404.7 151.19h1.49v4.02h-1.49zM410.7 151.19h1.49v4.02h-1.49zM412.2 151.19h1.49v4.02h-1.49zM422.6 151.19h1.49v4.02h-1.49zM437.5 151.19h1.49v4.02h-1.49zM442.0 151.19h1.49v4.02h-1.49zM452.4 151.19h1.49v4.02h-1.49zM462.9 151.19h1.49v4.02h-1.49zM464.4 151.19h1.49v4.02h-1.49zM470.3 151.19h1.49v4.02h-1.49zM323.8 155.21h1.50v4.02h-1.50zM371.9 155.21h1.49v4.02h-1.49zM400.2 155.21h1.49v4.02h-1.49zM404.7 155.21h1.49v4.02h-1.49zM412.2 155.21h1.49v4.02h-1.49zM430.1 155.21h1.49v4.02h-1.49zM433.0 155.21h1.49v4.02h-1.49zM448.0 155.21h1.49v4.02h-1.49zM346.4 159.23h1.50v4.02h-1.50zM371.9 159.23h1.49v4.02h-1.49zM379.3 159.23h1.49v4.02h-1.49zM442.0 159.23h1.49v4.02h-1.49zM331.3 163.25h1.50v4.02h-1.50zM377.9 163.25h1.49v4.02h-1.49zM379.3 163.25h1.49v4.02h-1.49zM382.3 163.25h1.49v4.02h-1.49zM394.3 163.25h1.49v4.02h-1.49zM400.2 163.25h1.49v4.02h-1.49zM422.6 163.25h1.49v4.02h-1.49zM442.0 163.25h1.49v4.02h-1.49zM464.4 163.25h1.49v4.02h-1.49zM471.8 163.25h1.49v4.02h-1.49zM344.8 167.27h1.50v4.02h-1.50zM364.4 167.27h1.50v4.02h-1.50zM371.9 167.27h1.49v4.02h-1.49zM379.3 167.27h1.49v4.02h-1.49zM397.2 167.27h1.49v4.02h-1.49zM398.7 167.27h1.49v4.02h-1.49zM407.7 167.27h1.49v4.02h-1.49zM410.7 167.27h1.49v4.02h-1.49zM415.1 167.27h1.49v4.02h-1.49zM416.6 167.27h1.49v4.02h-1.49zM436.0 167.27h1.49v4.02h-1.49zM437.5 167.27h1.49v4.02h-1.49zM462.9 167.27h1.49v4.02h-1.49zM467.3 167.27h1.49v4.02h-1.49zM473.3 167.27h1.49v4.02h-1.49zM323.8 171.29h1.50v4.02h-1.50zM364.4 171.29h1.50v4.02h-1.50zM371.9 171.29h1.49v4.02h-1.49zM382.3 171.29h1.49v4.02h-1.49zM395.8 171.29h1.49v4.02h-1.49zM397.2 171.29h1.49v4.02h-1.49zM439.0 171.29h1.49v4.02h-1.49zM448.0 171.29h1.49v4.02h-1.49zM459.9 171.29h1.49v4.02h-1.49zM467.3 171.29h1.49v4.02h-1.49zM344.8 175.31h1.50v4.02h-1.50zM356.9 175.31h1.50v4.02h-1.50zM421.1 175.31h1.49v4.02h-1.49zM424.1 175.31h1.49v4.02h-1.49zM462.9 175.31h1.49v4.02h-1.49zM471.8 175.31h1.49v4.02h-1.49zM344.8 179.33h1.50v4.02h-1.50zM353.9 179.33h1.50v4.02h-1.50zM356.9 179.33h1.50v4.02h-1.50zM361.4 179.33h1.50v4.02h-1.50zM412.2 179.33h1.49v4.02h-1.49zM461.4 179.33h1.49v4.02h-1.49zM464.4 179.33h1.49v4.02h-1.49zM470.3 179.33h1.49v4.02h-1.49zM325.3 183.35h1.50v4.02h-1.50zM329.8 183.35h1.50v4.02h-1.50zM334.3 183.35h1.50v4.02h-1.50zM355.4 183.35h1.50v4.02h-1.50zM370.4 183.35h1.49v4.02h-1.49zM371.9 183.35h1.49v4.02h-1.49zM391.3 183.35h1.49v4.02h-1.49zM397.2 183.35h1.49v4.02h-1.49zM401.7 183.35h1.49v4.02h-1.49zM407.7 183.35h1.49v4.02h-1.49zM418.1 183.35h1.49v4.02h-1.49zM419.6 183.35h1.49v4.02h-1.49zM422.6 183.35h1.49v4.02h-1.49zM449.4 183.35h1.49v4.02h-1.49zM450.9 183.35h1.49v4.02h-1.49zM452.4 183.35h1.49v4.02h-1.49zM464.4 183.35h1.49v4.02h-1.49zM326.8 187.37h1.50v4.02h-1.50zM328.3 187.37h1.50v4.02h-1.50zM331.3 187.37h1.50v4.02h-1.50zM343.3 187.37h1.50v4.02h-1.50zM346.4 187.37h1.50v4.02h-1.50zM364.4 187.37h1.50v4.02h-1.50zM376.4 187.37h1.49v4.02h-1.49zM377.9 187.37h1.49v4.02h-1.49zM388.3 187.37h1.49v4.02h-1.49zM392.8 187.37h1.49v4.02h-1.49zM401.7 187.37h1.49v4.02h-1.49zM404.7 187.37h1.49v4.02h-1.49zM409.2 187.37h1.49v4.02h-1.49zM421.1 187.37h1.49v4.02h-1.49zM450.9 187.37h1.49v4.02h-1.49zM461.4 187.37h1.49v4.02h-1.49zM323.8 191.40h1.50v4.02h-1.50zM329.8 191.40h1.50v4.02h-1.50zM331.3 191.40h1.50v4.02h-1.50zM335.8 191.40h1.50v4.02h-1.50zM337.3 191.40h1.50v4.02h-1.50zM340.3 191.40h1.50v4.02h-1.50zM343.3 191.40h1.50v4.02h-1.50zM361.4 191.40h1.50v4.02h-1.50zM364.4 191.40h1.50v4.02h-1.50zM386.8 191.40h1.49v4.02h-1.49zM397.2 191.40h1.49v4.02h-1.49zM403.2 191.40h1.49v4.02h-1.49zM406.2 191.40h1.49v4.02h-1.49zM407.7 191.40h1.49v4.02h-1.49zM409.2 191.40h1.49v4.02h-1.49zM410.7 191.40h1.49v4.02h-1.49zM413.7 191.40h1.49v4.02h-1.49zM427.1 191.40h1.49v4.02h-1.49zM443.5 191.40h1.49v4.02h-1.49zM456.9 191.40h1.49v4.02h-1.49zM458.4 191.40h1.49v4.02h-1.49zM465.9 191.40h1.49v4.02h-1.49zM467.3 191.40h1.49v4.02h-1.49zM370.4 195.42h1.49v4.02h-1.49zM397.2 195.42h1.49v4.02h-1.49zM421.1 195.42h1.49v4.02h-1.49zM425.6 195.42h1.49v4.02h-1.49zM450.9 195.42h1.49v4.02h-1.49zM455.4 195.42h1.49v4.02h-1.49zM471.8 195.42h1.49v4.02h-1.49zM340.3 199.44h1.50v4.02h-1.50zM379.3 199.44h1.49v4.02h-1.49zM407.7 199.44h1.49v4.02h-1.49zM415.1 199.44h1.49v4.02h-1.49zM422.6 199.44h1.49v4.02h-1.49zM430.1 199.44h1.49v4.02h-1.49zM458.4 199.44h1.49v4.02h-1.49zM376.4 203.46h1.49v4.02h-1.49zM382.3 203.46h1.49v4.02h-1.49zM386.8 203.46h1.49v4.02h-1.49zM392.8 203.46h1.49v4.02h-1.49zM397.2 203.46h1.49v4.02h-1.49zM419.6 203.46h1.49v4.02h-1.49zM424.1 203.46h1.49v4.02h-1.49zM461.4 203.46h1.49v4.02h-1.49zM470.3 203.46h1.49v4.02h-1.49zM337.3 207.48h1.50v4.02h-1.50zM338.8 207.48h1.50v4.02h-1.50zM371.9 207.48h1.49v4.02h-1.49zM377.9 207.48h1.49v4.02h-1.49zM382.3 207.48h1.49v4.02h-1.49zM397.2 207.48h1.49v4.02h-1.49zM400.2 207.48h1.49v4.02h-1.49zM401.7 207.48h1.49v4.02h-1.49zM403.2 207.48h1.49v4.02h-1.49zM409.2 207.48h1.49v4.02h-1.49zM412.2 207.48h1.49v4.02h-1.49zM427.1 207.48h1.49v4.02h-1.49zM436.0 207.48h1.49v4.02h-1.49zM449.4 207.48h1.49v4.02h-1.49zM456.9 207.48h1.49v4.02h-1.49zM459.9 207.48h1.49v4.02h-1.49z"/>
<path fill="rgb(246,209,203)" d="M344.8 38.60h1.50v4.02h-1.50zM350.9 38.60h1.50v4.02h-1.50zM398.7 38.60h1.49v4.02h-1.49zM419.6 38.60h1.49v4.02h-1.49zM450.9 38.60h1.49v4.02h-1.49zM344.8 42.62h1.50v4.02h-1.50zM364.4 42.62h1.50v4.02h-1.50zM461.4 42.62h1.49v4.02h-1.49zM458.4 46.64h1.49v4.02h-1.49zM359.9 50.66h1.50v4.02h-1.50zM379.3 50.66h1.49v4.02h-1.49zM404.7 50.66h1.49v4.02h-1.49zM406.2 50.66h1.49v4.02h-1.49zM409.2 50.66h1.49v4.02h-1.49zM422.6 50.66h1.49v4.02h-1.49zM425.6 50.66h1.49v4.02h-1.49zM446.5 50.66h1.49v4.02h-1.49zM448.0 50.66h1.49v4.02h-1.49zM449.4 50.66h1.49v4.02h-1.49zM450.9 50.66h1.49v4.02h-1.49zM455.4 50.66h1.49v4.02h-1.49zM459.9 50.66h1.49v4.02h-1.49zM470.3 50.66h1.49v4.02h-1.49zM338.8 54.68h1.50v4.02h-1.50zM359.9 54.68h1.50v4.02h-1.50zM382.3 54.68h1.49v4.02h-1.49zM391.3 54.68h1.49v4.02h-1.49zM412.2 54.68h1.49v4.02h-1.49zM439.0 54.68h1.49v4.02h-1.49zM449.4 54.68h1.49v4.02h-1.49zM459.9 54.68h1.49v4.02h-1.49zM340.3 58.70h1.50v4.02h-1.50zM364.4 58.70h1.50v4.02h-1.50zM382.3 58.70h1.49v4.02h-1.49zM385.3 58.70h1.49v4.02h-1.49zM388.3 58.70h1.49v4.02h-1.49zM397.2 58.70h1.49v4.02h-1.49zM412.2 58.70h1.49v4.02h-1.49zM458.4 58.70h1.49v4.02h-1.49zM464.4 58.70h1.49v4.02h-1.49zM468.8 58.70h1.49v4.02h-1.49zM386.8 62.73h1.49v4.02h-1.49zM397.2 62.73h1.49v4.02h-1.49zM406.2 62.73h1.49v4.02h-1.49zM409.2 62.73h1.49v4.02h-1.49zM418.1 62.73h1.49v4.02h-1.49zM461.4 62.73h1.49v4.02h-1.49zM470.3 62.73h1.49v4.02h-1.49zM471.8 62.73h1.49v4.02h-1.49zM373.4 66.75h1.49v4.02h-1.49zM322.3 70.77h1.50v4.02h-1.50zM334.3 70.77h1.50v4.02h-1.50zM371.9 70.77h1.49v4.02h-1.49zM382.3 70.77h1.49v4.02h-1.49zM385.3 70.77h1.49v4.02h-1.49zM388.3 70.77h1.49v4.02h-1.49zM391.3 70.77h1.49v4.02h-1.49zM401.7 70.77h1.49v4.02h-1.49zM412.2 70.77h1.49v4.02h-1.49zM416.6 70.77h1.49v4.02h-1.49zM427.1 70.77h1.49v4.02h-1.49zM434.5 70.77h1.49v4.02h-1.49zM450.9 70.77h1.49v4.02h-1.49zM352.4 74.79h1.50v4.02h-1.50zM376.4 74.79h1.49v4.02h-1.49zM383.8 74.79h1.49v4.02h-1.49zM394.3 74.79h1.49v4.02h-1.49zM401.7 74.79h1.49v4.02h-1.49zM406.2 74.79h1.49v4.02h-1.49zM427.1 74.79h1.49v4.02h-1.49zM458.4 74.79h1.49v4.02h-1.49zM468.8 74.79h1.49v4.02h-1.49zM344.8 78.81h1.50v4.02h-1.50zM355.4 78.81h1.50v4.02h-1.50zM373.4 78.81h1.49v4.02h-1.49zM379.3 78.81h1.49v4.02h-1.49zM394.3 78.81h1.49v4.02h-1.49zM409.2 78.81h1.49v4.02h-1.49zM410.7 78.81h1.49v4.02h-1.49zM424.1 78.81h1.49v4.02h-1.49zM428.6 78.81h1.49v4.02h-1.49zM433.0 78.81h1.49v4.02h-1.49zM437.5 78.81h1.49v4.02h-1.49zM445.0 78.81h1.49v4.02h-1.49zM459.9 78.81h1.49v4.02h-1.49zM471.8 78.81h1.49v4.02h-1.49zM337.3 82.83h1.50v4.02h-1.50zM356.9 82.83h1.50v4.02h-1.50zM361.4 82.83h1.50v4.02h-1.50zM373.4 82.83h1.49v4.02h-1.49zM377.9 82.83h1.49v4.02h-1.49zM380.8 82.83h1.49v4.02h-1.49zM382.3 82.83h1.49v4.02h-1.49zM383.8 82.83h1.49v4.02h-1.49zM389.8 82.83h1.49v4.02h-1.49zM413.7 82.83h1.49v4.02h-1.49zM434.5 82.83h1.49v4.02h-1.49zM437.5 82.83h1.49v4.02h-1.49zM440.5 82.83h1.49v4.02h-1.49zM449.4 82.83h1.49v4.02h-1.49zM455.4 82.83h1.49v4.02h-1.49zM471.8 82.83h1.49v4.02h-1.49zM386.8 86.85h1.49v4.02h-1.49zM398.7 86.85h1.49v4.02h-1.49zM406.2 86.85h1.49v4.02h-1.49zM419.6 86.85h1.49v4.02h-1.49zM437.5 86.85h1.49v4.02h-1.49zM442.0 86.85h1.49v4.02h-1.49zM329.8 90.87h1.50v4.02h-1.50zM370.4 90.87h1.49v4.02h-1.49zM376.4 90.87h1.49v4.02h-1.49zM379.3 90.87h1.49v4.02h-1.49zM380.8 90.87h1.49v4.02h-1.49zM383.8 90.87h1.49v4.02h-1.49zM386.8 90.87h1.49v4.02h-1.49zM422.6 90.87h1.49v4.02h-1.49zM440.5 90.87h1.49v4.02h-1.49zM450.9 90.87h1.49v4.02h-1.49zM470.3 90.87h1.49v4.02h-1.49zM471.8 90.87h1.49v4.02h-1.49zM392.8 94.89h1.49v4.02h-1.49zM403.2 94.89h1.49v4.02h-1.49zM419.6 94.89h1.49v4.02h-1.49zM437.5 94.89h1.49v4.02h-1.49zM462.9 94.89h1.49v4.02h-1.49zM464.4 94.89h1.49v4.02h-1.49zM468.8 94.89h1.49v4.02h-1.49zM473.3 94.89h1.49v4.02h-1.49zM376.4 98.91h1.49v4.02h-1.49zM385.3 98.91h1.49v4.02h-1.49zM389.8 98.91h1.49v4.02h-1.49zM397.2 98.91h1.49v4.02h-1.49zM409.2 98.91h1.49v4.02h-1.49zM452.4 98.91h1.49v4.02h-1.49zM456.9 98.91h1.49v4.02h-1.49zM458.4 98.91h1.49v4.02h-1.49zM462.9 98.91h1.49v4.02h-1.49zM340.3 102.93h1.50v4.02h-1.50zM374.9 102.93h1.49v4.02h-1.49zM386.8 102.93h1.49v4.02h-1.49zM391.3 102.93h1.49v4.02h-1.49zM406.2 102.93h1.49v4.02h-1.49zM407.7 102.93h1.49v4.02h-1.49zM410.7 102.93h1.49v4.02h-1.49zM412.2 102.93h1.49v4.02h-1.49zM416.6 102.93h1.49v4.02h-1.49zM418.1 102.93h1.49v4.02h-1.49zM427.1 102.93h1.49v4.02h-1.49zM431.5 102.93h1.49v4.02h-1.49zM439.0 102.93h1.49v4.02h-1.49zM461.4 102.93h1.49v4.02h-1.49zM338.8 106.96h1.50v4.02h-1.50zM374.9 106.96h1.49v4.02h-1.49zM379.3 106.96h1.49v4.02h-1.49zM383.8 106.96h1.49v4.02h-1.49zM385.3 106.96h1.49v4.02h-1.49zM388.3 106.96h1.49v4.02h-1.49zM389.8 106.96h1.49v4.02h-1.49zM407.7 106.96h1.49v4.02h-1.49zM415.1 106.96h1.49v4.02h-1.49zM434.5 106.96h1.49v4.02h-1.49zM437.5 106.96h1.49v4.02h-1.49zM449.4 106.96h1.49v4.02h-1.49zM458.4 106.96h1.49v4.02h-1.49zM467.3 106.96h1.49v4.02h-1.49zM377.9 110.98h1.49v4.02h-1.49zM395.8 110.98h1.49v4.02h-1.49zM401.7 110.98h1.49v4.02h-1.49zM412.2 110.98h1.49v4.02h-1.49zM440.5 110.98h1.49v4.02h-1.49zM446.5 110.98h1.49v4.02h-1.49zM468.8 110.98h1.49v4.02h-1.49zM382.3 115.00h1.49v4.02h-1.49zM385.3 115.00h1.49v4.02h-1.49zM391.3 115.00h1.49v4.02h-1.49zM406.2 115.00h1.49v4.02h-1.49zM421.1 115.00h1.49v4.02h-1.49zM433.0 115.00h1.49v4.02h-1.49zM434.5 115.00h1.49v4.02h-1.49zM437.5 115.00h1.49v4.02h-1.49zM439.0 115.00h1.49v4.02h-1.49zM443.5 115.00h1.49v4.02h-1.49zM456.9 115.00h1.49v4.02h-1.49zM461.4 115.00h1.49v4.02h-1.49zM344.8 119.02h1.50v4.02h-1.50zM376.4 119.02h1.49v4.02h-1.49zM388.3 119.02h1.49v4.02h-1.49zM392.8 119.02h1.49v4.02h-1.49zM410.7 119.02h1.49v4.02h-1.49zM456.9 119.02h1.49v4.02h-1.49zM464.4 119.02h1.49v4.02h-1.49zM468.8 119.02h1.49v4.02h-1.49zM471.8 119.02h1.49v4.02h-1.49zM394.3 123.04h1.49v4.02h-1.49zM410.7 123.04h1.49v4.02h-1.49zM428.6 123.04h1.49v4.02h-1.49zM440.5 123.04h1.49v4.02h-1.49zM445.0 123.04h1.49v4.02h-1.49zM446.5 123.04h1.49v4.02h-1.49zM449.4 123.04h1.49v4.02h-1.49zM470.3 123.04h1.49v4.02h-1.49zM380.8 127.06h1.49v4.02h-1.49zM386.8 127.06h1.49v4.02h-1.49zM394.3 127.06h1.49v4.02h-1.49zM409.2 127.06h1.49v4.02h-1.49zM430.1 127.06h1.49v4.02h-1.49zM434.5 127.06h1.49v4.02h-1.49zM442.0 127.06h1.49v4.02h-1.49zM458.4 127.06h1.49v4.02h-1.49zM462.9 127.06h1.49v4.02h-1.49zM385.3 131.08h1.49v4.02h-1.49zM389.8 131.08h1.49v4.02h-1.49zM434.5 131.08h1.49v4.02h-1.49zM437.5 131.08h1.49v4.02h-1.49zM455.4 131.08h1.49v4.02h-1.49zM373.4 135.10h1.49v4.02h-1.49zM377.9 135.10h1.49v4.02h-1.49zM380.8 135.10h1.49v4.02h-1.49zM391.3 135.10h1.49v4.02h-1.49zM404.7 135.10h1.49v4.02h-1.49zM410.7 135.10h1.49v4.02h-1.49zM415.1 135.10h1.49v4.02h-1.49zM428.6 135.10h1.49v4.02h-1.49zM443.5 135.10h1.49v4.02h-1.49zM448.0 135.10h1.49v4.02h-1.49zM456.9 135.10h1.49v4.02h-1.49zM459.9 135.10h1.49v4.02h-1.49zM465.9 135.10h1.49v4.02h-1.49zM371.9 139.12h1.49v4.02h-1.49zM383.8 139.12h1.49v4.02h-1.49zM385.3 139.12h1.49v4.02h-1.49zM386.8 139.12h1.49v4.02h-1.49zM421.1 139.12h1.49v4.02h-1.49zM431.5 139.12h1.49v4.02h-1.49zM433.0 139.12h1.49v4.02h-1.49zM458.4 139.12h1.49v4.02h-1.49zM465.9 139.12h1.49v4.02h-1.49zM468.8 139.12h1.49v4.02h-1.49zM470.3 139.12h1.49v4.02h-1.49zM473.3 139.12h1.49v4.02h-1.49zM380.8 143.14h1.49v4.02h-1.49zM388.3 143.14h1.49v4.02h-1.49zM401.7 143.14h1.49v4.02h-1.49zM409.2 143.14h1.49v4.02h-1.49zM415.1 143.14h1.49v4.02h-1.49zM430.1 143.14h1.49v4.02h-1.49zM436.0 143.14h1.49v4.02h-1.49zM437.5 143.14h1.49v4.02h-1.49zM445.0 143.14h1.49v4.02h-1.49zM453.9 143.14h1.49v4.02h-1.49zM458.4 143.14h1.49v4.02h-1.49zM370.4 147.17h1.49v4.02h-1.49zM371.9 147.17h1.49v4.02h-1.49zM376.4 147.17h1.49v4.02h-1.49zM377.9 147.17h1.49v4.02h-1.49zM380.8 147.17h1.49v4.02h-1.49zM382.3 147.17h1.49v4.02h-1.49zM383.8 147.17h1.49v4.02h-1.49zM388.3 147.17h1.49v4.02h-1.49zM395.8 147.17h1.49v4.02h-1.49zM424.1 147.17h1.49v4.02h-1.49zM433.0 147.17h1.49v4.02h-1.49zM434.5 147.17h1.49v4.02h-1.49zM437.5 147.17h1.49v4.02h-1.49zM443.5 147.17h1.49v4.02h-1.49zM467.3 147.17h1.49v4.02h-1.49zM370.4 151.19h1.49v4.02h-1.49zM371.9 151.19h1.49v4.02h-1.49zM389.8 151.19h1.49v4.02h-1.49zM397.2 151.19h1.49v4.02h-1.49zM415.1 151.19h1.49v4.02h-1.49zM448.0 151.19h1.49v4.02h-1.49zM455.4 151.19h1.49v4.02h-1.49zM459.9 151.19h1.49v4.02h-1.49zM465.9 151.19h1.49v4.02h-1.49zM377.9 155.21h1.49v4.02h-1.49zM386.8 155.21h1.49v4.02h-1.49zM398.7 155.21h1.49v4.02h-1.49zM422.6 155.21h1.49v4.02h-1.49zM427.1 155.21h1.49v4.02h-1.49zM440.5 155.21h1.49v4.02h-1.49zM442.0 155.21h1.49v4.02h-1.49zM446.5 155.21h1.49v4.02h-1.49zM459.9 155.21h1.49v4.02h-1.49zM464.4 155.21h1.49v4.02h-1.49zM468.8 155.21h1.49v4.02h-1.49zM382.3 159.23h1.49v4.02h-1.49zM385.3 159.23h1.49v4.02h-1.49zM391.3 159.23h1.49v4.02h-1.49zM394.3 159.23h1.49v4.02h-1.49zM400.2 159.23h1.49v4.02h-1.49zM407.7 159.23h1.49v4.02h-1.49zM412.2 159.23h1.49v4.02h-1.49zM419.6 159.23h1.49v4.02h-1.49zM446.5 159.23h1.49v4.02h-1.49zM452.4 159.23h1.49v4.02h-1.49zM461.4 159.23h1.49v4.02h-1.49zM473.3 159.23h1.49v4.02h-1.49zM380.8 163.25h1.49v4.02h-1.49zM389.8 163.25h1.49v4.02h-1.49zM392.8 163.25h1.49v4.02h-1.49zM397.2 163.25h1.49v4.02h-1.49zM427.1 163.25h1.49v4.02h-1.49zM433.0 163.25h1.49v4.02h-1.49zM446.5 163.25h1.49v4.02h-1.49zM455.4 163.25h1.49v4.02h-1.49zM468.8 163.25h1.49v4.02h-1.49zM346.4 167.27h1.50v4.02h-1.50zM380.8 167.27h1.49v4.02h-1.49zM400.2 167.27h1.49v4.02h-1.49zM401.7 167.27h1.49v4.02h-1.49zM403.2 167.27h1.49v4.02h-1.49zM421.1 167.27h1.49v4.02h-1.49zM431.5 167.27h1.49v4.02h-1.49zM439.0 167.27h1.49v4.02h-1.49zM442.0 167.27h1.49v4.02h-1.49zM448.0 167.27h1.49v4.02h-1.49zM459.9 167.27h1.49v4.02h-1.49zM464.4 167.27h1.49v4.02h-1.49zM470.3 167.27h1.49v4.02h-1.49zM334.3 171.29h1.50v4.02h-1.50zM344.8 171.29h1.50v4.02h-1.50zM361.4 171.29h1.50v4.02h-1.50zM391.3 171.29h1.49v4.02h-1.49zM401.7 171.29h1.49v4.02h-1.49zM416.6 171.29h1.49v4.02h-1.49zM425.6 171.29h1.49v4.02h-1.49zM450.9 171.29h1.49v4.02h-1.49zM461.4 171.29h1.49v4.02h-1.49zM464.4 171.29h1.49v4.02h-1.49zM325.3 175.31h1.50v4.02h-1.50zM370.4 175.31h1.49v4.02h-1.49zM394.3 175.31h1.49v4.02h-1.49zM397.2 175.31h1.49v4.02h-1.49zM403.2 175.31h1.49v4.02h-1.49zM422.6 175.31h1.49v4.02h-1.49zM427.1 175.31h1.49v4.02h-1.49zM428.6 175.31h1.49v4.02h-1.49zM473.3 175.31h1.49v4.02h-1.49zM382.3 179.33h1.49v4.02h-1.49zM383.8 179.33h1.49v4.02h-1.49zM406.2 179.33h1.49v4.02h-1.49zM424.1 179.33h1.49v4.02h-1.49zM425.6 179.33h1.49v4.02h-1.49zM428.6 179.33h1.49v4.02h-1.49zM442.0 179.33h1.49v4.02h-1.49zM455.4 179.33h1.49v4.02h-1.49zM467.3 179.33h1.49v4.02h-1.49zM471.8 179.33h1.49v4.02h-1.49zM322.3 183.35h1.50v4.02h-1.50zM323.8 183.35h1.50v4.02h-1.50zM359.9 183.35h1.50v4.02h-1.50zM383.8 183.35h1.49v4.02h-1.49zM394.3 183.35h1.49v4.02h-1.49zM404.7 183.35h1.49v4.02h-1.49zM406.2 183.35h1.49v4.02h-1.49zM427.1 183.35h1.49v4.02h-1.49zM439.0 183.35h1.49v4.02h-1.49zM443.5 183.35h1.49v4.02h-1.49zM453.9 183.35h1.49v4.02h-1.49zM456.9 183.35h1.49v4.02h-1.49zM462.9 183.35h1.49v4.02h-1.49zM467.3 183.35h1.49v4.02h-1.49zM471.8 183.35h1.49v4.02h-1.49zM338.8 187.37h1.50v4.02h-1.50zM340.3 187.37h1.50v4.02h-1.50zM406.2 187.37h1.49v4.02h-1.49zM412.2 187.37h1.49v4.02h-1.49zM424.1 187.37h1.49v4.02h-1.49zM427.1 187.37h1.49v4.02h-1.49zM434.5 187.37h1.49v4.02h-1.49zM439.0 187.37h1.49v4.02h-1.49zM445.0 187.37h1.49v4.02h-1.49zM449.4 187.37h1.49v4.02h-1.49zM462.9 187.37h1.49v4.02h-1.49zM470.3 187.37h1.49v4.02h-1.49zM322.3 191.40h1.50v4.02h-1.50zM328.3 191.40h1.50v4.02h-1.50zM346.4 191.40h1.50v4.02h-1.50zM385.3 191.40h1.49v4.02h-1.49zM400.2 191.40h1.49v4.02h-1.49zM401.7 191.40h1.49v4.02h-1.49zM422.6 191.40h1.49v4.02h-1.49zM424.1 191.40h1.49v4.02h-1.49zM428.6 191.40h1.49v4.02h-1.49zM437.5 191.40h1.49v4.02h-1.49zM442.0 191.40h1.49v4.02h-1.49zM446.5 191.40h1.49v4.02h-1.49zM450.9 191.40h1.49v4.02h-1.49zM459.9 191.40h1.49v4.02h-1.49zM468.8 191.40h1.49v4.02h-1.49zM471.8 191.40h1.49v4.02h-1.49zM473.3 191.40h1.49v4.02h-1.49zM373.4 195.42h1.49v4.02h-1.49zM409.2 195.42h1.49v4.02h-1.49zM442.0 195.42h1.49v4.02h-1.49zM449.4 195.42h1.49v4.02h-1.49zM452.4 195.42h1.49v4.02h-1.49zM344.8 199.44h1.50v4.02h-1.50zM374.9 199.44h1.49v4.02h-1.49zM395.8 199.44h1.49v4.02h-1.49zM406.2 199.44h1.49v4.02h-1.49zM412.2 199.44h1.49v4.02h-1.49zM421.1 199.44h1.49v4.02h-1.49zM437.5 199.44h1.49v4.02h-1.49zM448.0 199.44h1.49v4.02h-1.49zM470.3 199.44h1.49v4.02h-1.49zM329.8 203.46h1.50v4.02h-1.50zM400.2 203.46h1.49v4.02h-1.49zM418.1 203.46h1.49v4.02h-1.49zM422.6 203.46h1.49v4.02h-1.49zM428.6 203.46h1.49v4.02h-1.49zM446.5 203.46h1.49v4.02h-1.49zM459.9 203.46h1.49v4.02h-1.49zM385.3 207.48h1.49v4.02h-1.49zM392.8 207.48h1.49v4.02h-1.49zM410.7 207.48h1.49v4.02h-1.49zM416.6 207.48h1.49v4.02h-1.49zM431.5 207.48h1.49v4.02h-1.49zM439.0 207.48h1.49v4.02h-1.49zM442.0 207.48h1.49v4.02h-1.49zM453.9 207.48h1.49v4.02h-1.49zM461.4 207.48h1.49v4.02h-1.49zM471.8 207.48h1.49v4.02h-1.49z"/>
<path fill="rgb(244,192,184)" d="M335.8 38.60h1.50v4.02h-1.50zM343.3 38.60h1.50v4.02h-1.50zM403.2 38.60h1.49v4.02h-1.49zM425.6 38.60h1.49v4.02h-1.49zM427.1 38.60h1.49v4.02h-1.49zM376.4 42.62h1.49v4.02h-1.49zM419.6 42.62h1.49v4.02h-1.49zM422.6 42.62h1.49v4.02h-1.49zM434.5 42.62h1.49v4.02h-1.49zM436.0 42.62h1.49v4.02h-1.49zM442.0 42.62h1.49v4.02h-1.49zM473.3 42.62h1.49v4.02h-1.49zM373.4 46.64h1.49v4.02h-1.49zM382.3 46.64h1.49v4.02h-1.49zM391.3 46.64h1.49v4.02h-1.49zM404.7 46.64h1.49v4.02h-1.49zM424.1 46.64h1.49v4.02h-1.49zM376.4 50.66h1.49v4.02h-1.49zM386.8 50.66h1.49v4.02h-1.49zM394.3 50.66h1.49v4.02h-1.49zM398.7 50.66h1.49v4.02h-1.49zM401.7 50.66h1.49v4.02h-1.49zM431.5 50.66h1.49v4.02h-1.49zM445.0 50.66h1.49v4.02h-1.49zM386.8 54.68h1.49v4.02h-1.49zM389.8 54.68h1.49v4.02h-1.49zM392.8 54.68h1.49v4.02h-1.49zM397.2 54.68h1.49v4.02h-1.49zM401.7 54.68h1.49v4.02h-1.49zM406.2 54.68h1.49v4.02h-1.49zM416.6 54.68h1.49v4.02h-1.49zM424.1 54.68h1.49v4.02h-1.49zM436.0 54.68h1.49v4.02h-1.49zM442.0 54.68h1.49v4.02h-1.49zM450.9 54.68h1.49v4.02h-1.49zM458.4 54.68h1.49v4.02h-1.49zM461.4 54.68h1.49v4.02h-1.49zM467.3 54.68h1.49v4.02h-1.49zM468.8 54.68h1.49v4.02h-1.49zM371.9 58.70h1.49v4.02h-1.49zM380.8 58.70h1.49v4.02h-1.49zM404.7 58.70h1.49v4.02h-1.49zM421.1 58.70h1.49v4.02h-1.49zM427.1 58.70h1.49v4.02h-1.49zM467.3 58.70h1.49v4.02h-1.49zM344.8 62.73h1.50v4.02h-1.50zM347.9 62.73h1.50v4.02h-1.50zM373.4 62.73h1.49v4.02h-1.49zM388.3 62.73h1.49v4.02h-1.49zM395.8 62.73h1.49v4.02h-1.49zM404.7 62.73h1.49v4.02h-1.49zM421.1 62.73h1.49v4.02h-1.49zM427.1 62.73h1.49v4.02h-1.49zM431.5 62.73h1.49v4.02h-1.49zM443.5 62.73h1.49v4.02h-1.49zM450.9 62.73h1.49v4.02h-1.49zM453.9 62.73h1.49v4.02h-1.49zM458.4 62.73h1.49v4.02h-1.49zM464.4 62.73h1.49v4.02h-1.49zM371.9 66.75h1.49v4.02h-1.49zM376.4 66.75h1.49v4.02h-1.49zM386.8 66.75h1.49v4.02h-1.49zM406.2 66.75h1.49v4.02h-1.49zM409.2 66.75h1.49v4.02h-1.49zM424.1 66.75h1.49v4.02h-1.49zM431.5 66.75h1.49v4.02h-1.49zM448.0 66.75h1.49v4.02h-1.49zM449.4 66.75h1.49v4.02h-1.49zM458.4 66.75h1.49v4.02h-1.49zM471.8 66.75h1.49v4.02h-1.49zM473.3 66.75h1.49v4.02h-1.49zM323.8 70.77h1.50v4.02h-1.50zM358.4 70.77h1.50v4.02h-1.50zM380.8 70.77h1.49v4.02h-1.49zM383.8 70.77h1.49v4.02h-1.49zM386.8 70.77h1.49v4.02h-1.49zM395.8 70.77h1.49v4.02h-1.49zM419.6 70.77h1.49v4.02h-1.49zM424.1 70.77h1.49v4.02h-1.49zM425.6 70.77h1.49v4.02h-1.49zM437.5 70.77h1.49v4.02h-1.49zM443.5 70.77h1.49v4.02h-1.49zM448.0 70.77h1.49v4.02h-1.49zM338.8 74.79h1.50v4.02h-1.50zM380.8 74.79h1.49v4.02h-1.49zM382.3 74.79h1.49v4.02h-1.49zM386.8 74.79h1.49v4.02h-1.49zM388.3 74.79h1.49v4.02h-1.49zM398.7 74.79h1.49v4.02h-1.49zM412.2 74.79h1.49v4.02h-1.49zM422.6 74.79h1.49v4.02h-1.49zM424.1 74.79h1.49v4.02h-1.49zM436.0 74.79h1.49v4.02h-1.49zM437.5 74.79h1.49v4.02h-1.49zM456.9 74.79h1.49v4.02h-1.49zM467.3 74.79h1.49v4.02h-1.49zM380.8 78.81h1.49v4.02h-1.49zM388.3 78.81h1.49v4.02h-1.49zM389.8 78.81h1.49v4.02h-1.49zM395.8 78.81h1.49v4.02h-1.49zM398.7 78.81h1.49v4.02h-1.49zM400.2 78.81h1.49v4.02h-1.49zM401.7 78.81h1.49v4.02h-1.49zM407.7 78.81h1.49v4.02h-1.49zM416.6 78.81h1.49v4.02h-1.49zM421.1 78.81h1.49v4.02h-1.49zM425.6 78.81h1.49v4.02h-1.49zM450.9 78.81h1.49v4.02h-1.49zM452.4 78.81h1.49v4.02h-1.49zM467.3 78.81h1.49v4.02h-1.49zM344.8 82.83h1.50v4.02h-1.50zM370.4 82.83h1.49v4.02h-1.49zM388.3 82.83h1.49v4.02h-1.49zM392.8 82.83h1.49v4.02h-1.49zM394.3 82.83h1.49v4.02h-1.49zM398.7 82.83h1.49v4.02h-1.49zM403.2 82.83h1.49v4.02h-1.49zM412.2 82.83h1.49v4.02h-1.49zM446.5 82.83h1.49v4.02h-1.49zM450.9 82.83h1.49v4.02h-1.49zM458.4 82.83h1.49v4.02h-1.49zM473.3 82.83h1.49v4.02h-1.49zM377.9 86.85h1.49v4.02h-1.49zM400.2 86.85h1.49v4.02h-1.49zM412.2 86.85h1.49v4.02h-1.49zM421.1 86.85h1.49v4.02h-1.49zM422.6 86.85h1.49v4.02h-1.49zM425.6 86.85h1.49v4.02h-1.49zM436.0 86.85h1.49v4.02h-1.49zM439.0 86.85h1.49v4.02h-1.49zM448.0 86.85h1.49v4.02h-1.49zM468.8 86.85h1.49v4.02h-1.49zM471.8 86.85h1.49v4.02h-1.49zM371.9 90.87h1.49v4.02h-1.49zM377.9 90.87h1.49v4.02h-1.49zM385.3 90.87h1.49v4.02h-1.49zM397.2 90.87h1.49v4.02h-1.49zM403.2 90.87h1.49v4.02h-1.49zM433.0 90.87h1.49v4.02h-1.49zM465.9 90.87h1.49v4.02h-1.49zM385.3 94.89h1.49v4.02h-1.49zM389.8 94.89h1.49v4.02h-1.49zM409.2 94.89h1.49v4.02h-1.49zM433.0 94.89h1.49v4.02h-1.49zM446.5 94.89h1.49v4.02h-1.49zM452.4 94.89h1.49v4.02h-1.49zM359.9 98.91h1.50v4.02h-1.50zM374.9 98.91h1.49v4.02h-1.49zM406.2 98.91h1.49v4.02h-1.49zM407.7 98.91h1.49v4.02h-1.49zM412.2 98.91h1.49v4.02h-1.49zM424.1 98.91h1.49v4.02h-1.49zM434.5 98.91h1.49v4.02h-1.49zM445.0 98.91h1.49v4.02h-1.49zM450.9 98.91h1.49v4.02h-1.49zM473.3 98.91h1.49v4.02h-1.49zM359.9 102.93h1.50v4.02h-1.50zM370.4 102.93h1.49v4.02h-1.49zM371.9 102.93h1.49v4.02h-1.49zM383.8 102.93h1.49v4.02h-1.49zM392.8 102.93h1.49v4.02h-1.49zM403.2 102.93h1.49v4.02h-1.49zM440.5 102.93h1.49v4.02h-1.49zM442.0 102.93h1.49v4.02h-1.49zM445.0 102.93h1.49v4.02h-1.49zM459.9 102.93h1.49v4.02h-1.49zM462.9 102.93h1.49v4.02h-1.49zM464.4 102.93h1.49v4.02h-1.49zM470.3 102.93h1.49v4.02h-1.49zM370.4 106.96h1.49v4.02h-1.49zM373.4 106.96h1.49v4.02h-1.49zM401.7 106.96h1.49v4.02h-1.49zM412.2 106.96h1.49v4.02h-1.49zM440.5 106.96h1.49v4.02h-1.49zM446.5 106.96h1.49v4.02h-1.49zM448.0 106.96h1.49v4.02h-1.49zM382.3 110.98h1.49v4.02h-1.49zM394.3 110.98h1.49v4.02h-1.49zM427.1 110.98h1.49v4.02h-1.49zM449.4 110.98h1.49v4.02h-1.49zM453.9 110.98h1.49v4.02h-1.49zM473.3 110.98h1.49v4.02h-1.49zM374.9 115.00h1.49v4.02h-1.49zM389.8 115.00h1.49v4.02h-1.49zM419.6 115.00h1.49v4.02h-1.49zM428.6 115.00h1.49v4.02h-1.49zM452.4 115.00h1.49v4.02h-1.49zM464.4 115.00h1.49v4.02h-1.49zM465.9 115.00h1.49v4.02h-1.49zM473.3 115.00h1.49v4.02h-1.49zM394.3 119.02h1.49v4.02h-1.49zM400.2 119.02h1.49v4.02h-1.49zM404.7 119.02h1.49v4.02h-1.49zM413.7 119.02h1.49v4.02h-1.49zM416.6 119.02h1.49v4.02h-1.49zM418.1 119.02h1.49v4.02h-1.49zM419.6 119.02h1.49v4.02h-1.49zM430.1 119.02h1.49v4.02h-1.49zM431.5 119.02h1.49v4.02h-1.49zM439.0 119.02h1.49v4.02h-1.49zM449.4 119.02h1.49v4.02h-1.49zM462.9 119.02h1.49v4.02h-1.49zM465.9 119.02h1.49v4.02h-1.49zM371.9 123.04h1.49v4.02h-1.49zM373.4 123.04h1.49v4.02h-1.49zM374.9 123.04h1.49v4.02h-1.49zM376.4 123.04h1.49v4.02h-1.49zM388.3 123.04h1.49v4.02h-1.49zM404.7 123.04h1.49v4.02h-1.49zM407.7 123.04h1.49v4.02h-1.49zM453.9 123.04h1.49v4.02h-1.49zM465.9 123.04h1.49v4.02h-1.49zM383.8 127.06h1.49v4.02h-1.49zM391.3 127.06h1.49v4.02h-1.49zM397.2 127.06h1.49v4.02h-1.49zM404.7 127.06h1.49v4.02h-1.49zM418.1 127.06h1.49v4.02h-1.49zM424.1 127.06h1.49v4.02h-1.49zM431.5 127.06h1.49v4.02h-1.49zM439.0 127.06h1.49v4.02h-1.49zM448.0 127.06h1.49v4.02h-1.49zM459.9 127.06h1.49v4.02h-1.49zM461.4 127.06h1.49v4.02h-1.49zM374.9 131.08h1.49v4.02h-1.49zM376.4 131.08h1.49v4.02h-1.49zM388.3 131.08h1.49v4.02h-1.49zM392.8 131.08h1.49v4.02h-1.49zM400.2 131.08h1.49v4.02h-1.49zM412.2 131.08h1.49v4.02h-1.49zM427.1 131.08h1.49v4.02h-1.49zM445.0 131.08h1.49v4.02h-1.49zM446.5 131.08h1.49v4.02h-1.49zM448.0 131.08h1.49v4.02h-1.49zM449.4 131.08h1.49v4.02h-1.49zM461.4 131.08h1.49v4.02h-1.49zM471.8 131.08h1.49v4.02h-1.49zM370.4 135.10h1.49v4.02h-1.49zM388.3 135.10h1.49v4.02h-1.49zM389.8 135.10h1.49v4.02h-1.49zM418.1 135.10h1.49v4.02h-1.49zM425.6 135.10h1.49v4.02h-1.49zM453.9 135.10h1.49v4.02h-1.49zM462.9 135.10h1.49v4.02h-1.49zM470.3 135.10h1.49v4.02h-1.49zM373.4 139.12h1.49v4.02h-1.49zM380.8 139.12h1.49v4.02h-1.49zM391.3 139.12h1.49v4.02h-1.49zM392.8 139.12h1.49v4.02h-1.49zM400.2 139.12h1.49v4.02h-1.49zM410.7 139.12h1.49v4.02h-1.49zM427.1 139.12h1.49v4.02h-1.49zM437.5 139.12h1.49v4.02h-1.49zM440.5 139.12h1.49v4.02h-1.49zM446.5 139.12h1.49v4.02h-1.49zM464.4 139.12h1.49v4.02h-1.49zM379.3 143.14h1.49v4.02h-1.49zM383.8 143.14h1.49v4.02h-1.49zM394.3 143.14h1.49v4.02h-1.49zM397.2 143.14h1.49v4.02h-1.49zM398.7 143.14h1.49v4.02h-1.49zM400.2 143.14h1.49v4.02h-1.49zM403.2 143.14h1.49v4.02h-1.49zM410.7 143.14h1.49v4.02h-1.49zM421.1 143.14h1.49v4.02h-1.49zM431.5 143.14h1.49v4.02h-1.49zM433.0 143.14h1.49v4.02h-1.49zM434.5 143.14h1.49v4.02h-1.49zM439.0 143.14h1.49v4.02h-1.49zM449.4 143.14h1.49v4.02h-1.49zM462.9 143.14h1.49v4.02h-1.49zM373.4 147.17h1.49v4.02h-1.49zM392.8 147.17h1.49v4.02h-1.49zM394.3 147.17h1.49v4.02h-1.49zM398.7 147.17h1.49v4.02h-1.49zM401.7 147.17h1.49v4.02h-1.49zM407.7 147.17h1.49v4.02h-1.49zM412.2 147.17h1.49v4.02h-1.49zM413.7 147.17h1.49v4.02h-1.49zM415.1 147.17h1.49v4.02h-1.49zM416.6 147.17h1.49v4.02h-1.49zM427.1 147.17h1.49v4.02h-1.49zM439.0 147.17h1.49v4.02h-1.49zM442.0 147.17h1.49v4.02h-1.49zM448.0 147.17h1.49v4.02h-1.49zM376.4 151.19h1.49v4.02h-1.49zM383.8 151.19h1.49v4.02h-1.49zM385.3 151.19h1.49v4.02h-1.49zM391.3 151.19h1.49v4.02h-1.49zM392.8 151.19h1.49v4.02h-1.49zM398.7 151.19h1.49v4.02h-1.49zM406.2 151.19h1.49v4.02h-1.49zM407.7 151.19h1.49v4.02h-1.49zM439.0 151.19h1.49v4.02h-1.49zM443.5 151.19h1.49v4.02h-1.49zM453.9 151.19h1.49v4.02h-1.49zM458.4 151.19h1.49v4.02h-1.49zM467.3 151.19h1.49v4.02h-1.49zM379.3 155.21h1.49v4.02h-1.49zM380.8 155.21h1.49v4.02h-1.49zM382.3 155.21h1.49v4.02h-1.49zM388.3 155.21h1.49v4.02h-1.49zM391.3 155.21h1.49v4.02h-1.49zM397.2 155.21h1.49v4.02h-1.49zM403.2 155.21h1.49v4.02h-1.49zM424.1 155.21h1.49v4.02h-1.49zM437.5 155.21h1.49v4.02h-1.49zM439.0 155.21h1.49v4.02h-1.49zM465.9 155.21h1.49v4.02h-1.49zM467.3 155.21h1.49v4.02h-1.49zM376.4 159.23h1.49v4.02h-1.49zM392.8 159.23h1.49v4.02h-1.49zM395.8 159.23h1.49v4.02h-1.49zM425.6 159.23h1.49v4.02h-1.49zM427.1 159.23h1.49v4.02h-1.49zM431.5 159.23h1.49v4.02h-1.49zM439.0 159.23h1.49v4.02h-1.49zM455.4 159.23h1.49v4.02h-1.49zM458.4 159.23h1.49v4.02h-1.49zM459.9 159.23h1.49v4.02h-1.49zM462.9 159.23h1.49v4.02h-1.49zM371.9 163.25h1.49v4.02h-1.49zM373.4 163.25h1.49v4.02h-1.49zM409.2 163.25h1.49v4.02h-1.49zM421.1 163.25h1.49v4.02h-1.49zM425.6 163.25h1.49v4.02h-1.49zM428.6 163.25h1.49v4.02h-1.49zM437.5 163.25h1.49v4.02h-1.49zM439.0 163.25h1.49v4.02h-1.49zM459.9 163.25h1.49v4.02h-1.49zM382.3 167.27h1.49v4.02h-1.49zM386.8 167.27h1.49v4.02h-1.49zM409.2 167.27h1.49v4.02h-1.49zM419.6 167.27h1.49v4.02h-1.49zM424.1 167.27h1.49v4.02h-1.49zM440.5 167.27h1.49v4.02h-1.49zM443.5 167.27h1.49v4.02h-1.49zM446.5 167.27h1.49v4.02h-1.49zM452.4 167.27h1.49v4.02h-1.49zM461.4 167.27h1.49v4.02h-1.49zM352.4 171.29h1.50v4.02h-1.50zM370.4 171.29h1.49v4.02h-1.49zM377.9 171.29h1.49v4.02h-1.49zM386.8 171.29h1.49v4.02h-1.49zM403.2 171.29h1.49v4.02h-1.49zM406.2 171.29h1.49v4.02h-1.49zM436.0 171.29h1.49v4.02h-1.49zM437.5 171.29h1.49v4.02h-1.49zM442.0 171.29h1.49v4.02h-1.49zM449.4 171.29h1.49v4.02h-1.49zM456.9 171.29h1.49v4.02h-1.49zM458.4 171.29h1.49v4.02h-1.49zM468.8 171.29h1.49v4.02h-1.49zM471.8 171.29h1.49v4.02h-1.49zM473.3 171.29h1.49v4.02h-1.49zM373.4 175.31h1.49v4.02h-1.49zM382.3 175.31h1.49v4.02h-1.49zM383.8 175.31h1.49v4.02h-1.49zM406.2 175.31h1.49v4.02h-1.49zM407.7 175.31h1.49v4.02h-1.49zM412.2 175.31h1.49v4.02h-1.49zM415.1 175.31h1.49v4.02h-1.49zM419.6 175.31h1.49v4.02h-1.49zM439.0 175.31h1.49v4.02h-1.49zM455.4 175.31h1.49v4.02h-1.49zM458.4 175.31h1.49v4.02h-1.49zM464.4 175.31h1.49v4.02h-1.49zM470.3 175.31h1.49v4.02h-1.49zM389.8 179.33h1.49v4.02h-1.49zM391.3 179.33h1.49v4.02h-1.49zM394.3 179.33h1.49v4.02h-1.49zM398.7 179.33h1.49v4.02h-1.49zM400.2 179.33h1.49v4.02h-1.49zM413.7 179.33h1.49v4.02h-1.49zM458.4 179.33h1.49v4.02h-1.49zM331.3 183.35h1.50v4.02h-1.50zM344.8 183.35h1.50v4.02h-1.50zM388.3 183.35h1.49v4.02h-1.49zM398.7 183.35h1.49v4.02h-1.49zM421.1 183.35h1.49v4.02h-1.49zM434.5 183.35h1.49v4.02h-1.49zM437.5 183.35h1.49v4.02h-1.49zM383.8 187.37h1.49v4.02h-1.49zM389.8 187.37h1.49v4.02h-1.49zM394.3 187.37h1.49v4.02h-1.49zM395.8 187.37h1.49v4.02h-1.49zM398.7 187.37h1.49v4.02h-1.49zM403.2 187.37h1.49v4.02h-1.49zM418.1 187.37h1.49v4.02h-1.49zM446.5 187.37h1.49v4.02h-1.49zM453.9 187.37h1.49v4.02h-1.49zM458.4 187.37h1.49v4.02h-1.49zM338.8 191.40h1.50v4.02h-1.50zM368.9 191.40h1.50v4.02h-1.50zM376.4 191.40h1.49v4.02h-1.49zM380.8 191.40h1.49v4.02h-1.49zM389.8 191.40h1.49v4.02h-1.49zM395.8 191.40h1.49v4.02h-1.49zM398.7 191.40h1.49v4.02h-1.49zM418.1 191.40h1.49v4.02h-1.49zM452.4 191.40h1.49v4.02h-1.49zM455.4 191.40h1.49v4.02h-1.49zM461.4 191.40h1.49v4.02h-1.49zM376.4 195.42h1.49v4.02h-1.49zM377.9 195.42h1.49v4.02h-1.49zM382.3 195.42h1.49v4.02h-1.49zM391.3 195.42h1.49v4.02h-1.49zM394.3 195.42h1.49v4.02h-1.49zM410.7 195.42h1.49v4.02h-1.49zM430.1 195.42h1.49v4.02h-1.49zM431.5 195.42h1.49v4.02h-1.49zM437.5 195.42h1.49v4.02h-1.49zM439.0 195.42h1.49v4.02h-1.49zM443.5 195.42h1.49v4.02h-1.49zM461.4 195.42h1.49v4.02h-1.49zM465.9 195.42h1.49v4.02h-1.49zM473.3 195.42h1.49v4.02h-1.49zM323.8 199.44h1.50v4.02h-1.50zM371.9 199.44h1.49v4.02h-1.49zM386.8 199.44h1.49v4.02h-1.49zM397.2 199.44h1.49v4.02h-1.49zM398.7 199.44h1.49v4.02h-1.49zM404.7 199.44h1.49v4.02h-1.49zM409.2 199.44h1.49v4.02h-1.49zM410.7 199.44h1.49v4.02h-1.49zM419.6 199.44h1.49v4.02h-1.49zM425.6 199.44h1.49v4.02h-1.49zM427.1 199.44h1.49v4.02h-1.49zM428.6 199.44h1.49v4.02h-1.49zM431.5 199.44h1.49v4.02h-1.49zM449.4 199.44h1.49v4.02h-1.49zM467.3 199.44h1.49v4.02h-1.49zM373.4 203.46h1.49v4.02h-1.49zM383.8 203.46h1.49v4.02h-1.49zM398.7 203.46h1.49v4.02h-1.49zM401.7 203.46h1.49v4.02h-1.49zM406.2 203.46h1.49v4.02h-1.49zM407.7 203.46h1.49v4.02h-1.49zM421.1 203.46h1.49v4.02h-1.49zM439.0 203.46h1.49v4.02h-1.49zM440.5 203.46h1.49v4.02h-1.49zM450.9 203.46h1.49v4.02h-1.49zM465.9 203.46h1.49v4.02h-1.49zM471.8 203.46h1.49v4.02h-1.49zM340.3 207.48h1.50v4.02h-1.50zM386.8 207.48h1.49v4.02h-1.49zM395.8 207.48h1.49v4.02h-1.49zM413.7 207.48h1.49v4.02h-1.49zM422.6 207.48h1.49v4.02h-1.49zM428.6 207.48h1.49v4.02h-1.49zM445.0 207.48h1.49v4.02h-1.49zM452.4 207.48h1.49v4.02h-1.49zM455.4 207.48h1.49v4.02h-1.49zM473.3 207.48h1.49v4.02h-1.49z"/>
<path fill="rgb(242,175,164)" d="M382.3 38.60h1.49v4.02h-1.49zM406.2 38.60h1.49v4.02h-1.49zM413.7 38.60h1.49v4.02h-1.49zM416.6 38.60h1.49v4.02h-1.49zM459.9 38.60h1.49v4.02h-1.49zM465.9 38.60h1.49v4.02h-1.49zM467.3 38.60h1.49v4.02h-1.49zM388.3 42.62h1.49v4.02h-1.49zM394.3 42.62h1.49v4.02h-1.49zM395.8 42.62h1.49v4.02h-1.49zM397.2 42.62h1.49v4.02h-1.49zM418.1 42.62h1.49v4.02h-1.49zM421.1 42.62h1.49v4.02h-1.49zM437.5 42.62h1.49v4.02h-1.49zM459.9 42.62h1.49v4.02h-1.49zM371.9 46.64h1.49v4.02h-1.49zM385.3 46.64h1.49v4.02h-1.49zM422.6 46.64h1.49v4.02h-1.49zM436.0 46.64h1.49v4.02h-1.49zM442.0 46.64h1.49v4.02h-1.49zM462.9 46.64h1.49v4.02h-1.49zM470.3 46.64h1.49v4.02h-1.49zM370.4 50.66h1.49v4.02h-1.49zM374.9 50.66h1.49v4.02h-1.49zM377.9 50.66h1.49v4.02h-1.49zM383.8 50.66h1.49v4.02h-1.49zM389.8 50.66h1.49v4.02h-1.49zM391.3 50.66h1.49v4.02h-1.49zM410.7 50.66h1.49v4.02h-1.49zM428.6 50.66h1.49v4.02h-1.49zM430.1 50.66h1.49v4.02h-1.49zM436.0 50.66h1.49v4.02h-1.49zM458.4 50.66h1.49v4.02h-1.49zM464.4 50.66h1.49v4.02h-1.49zM473.3 50.66h1.49v4.02h-1.49zM373.4 54.68h1.49v4.02h-1.49zM377.9 54.68h1.49v4.02h-1.49zM395.8 54.68h1.49v4.02h-1.49zM398.7 54.68h1.49v4.02h-1.49zM403.2 54.68h1.49v4.02h-1.49zM407.7 54.68h1.49v4.02h-1.49zM422.6 54.68h1.49v4.02h-1.49zM433.0 54.68h1.49v4.02h-1.49zM440.5 54.68h1.49v4.02h-1.49zM456.9 54.68h1.49v4.02h-1.49zM377.9 58.70h1.49v4.02h-1.49zM379.3 58.70h1.49v4.02h-1.49zM401.7 58.70h1.49v4.02h-1.49zM424.1 58.70h1.49v4.02h-1.49zM433.0 58.70h1.49v4.02h-1.49zM436.0 58.70h1.49v4.02h-1.49zM449.4 58.70h1.49v4.02h-1.49zM456.9 58.70h1.49v4.02h-1.49zM459.9 58.70h1.49v4.02h-1.49zM462.9 58.70h1.49v4.02h-1.49zM471.8 58.70h1.49v4.02h-1.49zM370.4 62.73h1.49v4.02h-1.49zM379.3 62.73h1.49v4.02h-1.49zM382.3 62.73h1.49v4.02h-1.49zM407.7 62.73h1.49v4.02h-1.49zM412.2 62.73h1.49v4.02h-1.49zM413.7 62.73h1.49v4.02h-1.49zM424.1 62.73h1.49v4.02h-1.49zM425.6 62.73h1.49v4.02h-1.49zM436.0 62.73h1.49v4.02h-1.49zM455.4 62.73h1.49v4.02h-1.49zM459.9 62.73h1.49v4.02h-1.49zM467.3 62.73h1.49v4.02h-1.49zM473.3 62.73h1.49v4.02h-1.49zM350.9 66.75h1.50v4.02h-1.50zM380.8 66.75h1.49v4.02h-1.49zM382.3 66.75h1.49v4.02h-1.49zM400.2 66.75h1.49v4.02h-1.49zM401.7 66.75h1.49v4.02h-1.49zM403.2 66.75h1.49v4.02h-1.49zM413.7 66.75h1.49v4.02h-1.49zM416.6 66.75h1.49v4.02h-1.49zM464.4 66.75h1.49v4.02h-1.49zM465.9 66.75h1.49v4.02h-1.49zM344.8 70.77h1.50v4.02h-1.50zM370.4 70.77h1.49v4.02h-1.49zM389.8 70.77h1.49v4.02h-1.49zM392.8 70.77h1.49v4.02h-1.49zM403.2 70.77h1.49v4.02h-1.49zM407.7 70.77h1.49v4.02h-1.49zM436.0 70.77h1.49v4.02h-1.49zM449.4 70.77h1.49v4.02h-1.49zM371.9 74.79h1.49v4.02h-1.49zM373.4 74.79h1.49v4.02h-1.49zM407.7 74.79h1.49v4.02h-1.49zM428.6 74.79h1.49v4.02h-1.49zM434.5 74.79h1.49v4.02h-1.49zM443.5 74.79h1.49v4.02h-1.49zM461.4 74.79h1.49v4.02h-1.49zM465.9 74.79h1.49v4.02h-1.49zM470.3 74.79h1.49v4.02h-1.49zM471.8 74.79h1.49v4.02h-1.49zM385.3 78.81h1.49v4.02h-1.49zM404.7 78.81h1.49v4.02h-1.49zM406.2 78.81h1.49v4.02h-1.49zM419.6 78.81h1.49v4.02h-1.49zM431.5 78.81h1.49v4.02h-1.49zM434.5 78.81h1.49v4.02h-1.49zM440.5 78.81h1.49v4.02h-1.49zM461.4 78.81h1.49v4.02h-1.49zM462.9 78.81h1.49v4.02h-1.49zM465.9 78.81h1.49v4.02h-1.49zM468.8 78.81h1.49v4.02h-1.49zM470.3 78.81h1.49v4.02h-1.49zM386.8 82.83h1.49v4.02h-1.49zM395.8 82.83h1.49v4.02h-1.49zM400.2 82.83h1.49v4.02h-1.49zM401.7 82.83h1.49v4.02h-1.49zM406.2 82.83h1.49v4.02h-1.49zM416.6 82.83h1.49v4.02h-1.49zM422.6 82.83h1.49v4.02h-1.49zM433.0 82.83h1.49v4.02h-1.49zM442.0 82.83h1.49v4.02h-1.49zM443.5 82.83h1.49v4.02h-1.49zM462.9 82.83h1.49v4.02h-1.49zM465.9 82.83h1.49v4.02h-1.49zM404.7 86.85h1.49v4.02h-1.49zM407.7 86.85h1.49v4.02h-1.49zM416.6 86.85h1.49v4.02h-1.49zM424.1 86.85h1.49v4.02h-1.49zM427.1 86.85h1.49v4.02h-1.49zM428.6 86.85h1.49v4.02h-1.49zM430.1 86.85h1.49v4.02h-1.49zM445.0 86.85h1.49v4.02h-1.49zM465.9 86.85h1.49v4.02h-1.49zM467.3 86.85h1.49v4.02h-1.49zM473.3 86.85h1.49v4.02h-1.49zM373.4 90.87h1.49v4.02h-1.49zM382.3 90.87h1.49v4.02h-1.49zM389.8 90.87h1.49v4.02h-1.49zM392.8 90.87h1.49v4.02h-1.49zM394.3 90.87h1.49v4.02h-1.49zM395.8 90.87h1.49v4.02h-1.49zM406.2 90.87h1.49v4.02h-1.49zM407.7 90.87h1.49v4.02h-1.49zM412.2 90.87h1.49v4.02h-1.49zM418.1 90.87h1.49v4.02h-1.49zM431.5 90.87h1.49v4.02h-1.49zM436.0 90.87h1.49v4.02h-1.49zM437.5 90.87h1.49v4.02h-1.49zM439.0 90.87h1.49v4.02h-1.49zM448.0 90.87h1.49v4.02h-1.49zM449.4 90.87h1.49v4.02h-1.49zM453.9 90.87h1.49v4.02h-1.49zM455.4 90.87h1.49v4.02h-1.49zM459.9 90.87h1.49v4.02h-1.49zM468.8 90.87h1.49v4.02h-1.49zM473.3 90.87h1.49v4.02h-1.49zM371.9 94.89h1.49v4.02h-1.49zM377.9 94.89h1.49v4.02h-1.49zM383.8 94.89h1.49v4.02h-1.49zM410.7 94.89h1.49v4.02h-1.49zM453.9 94.89h1.49v4.02h-1.49zM465.9 94.89h1.49v4.02h-1.49zM470.3 94.89h1.49v4.02h-1.49zM370.4 98.91h1.49v4.02h-1.49zM421.1 98.91h1.49v4.02h-1.49zM448.0 98.91h1.49v4.02h-1.49zM464.4 98.91h1.49v4.02h-1.49zM470.3 98.91h1.49v4.02h-1.49zM471.8 98.91h1.49v4.02h-1.49zM382.3 102.93h1.49v4.02h-1.49zM397.2 102.93h1.49v4.02h-1.49zM404.7 102.93h1.49v4.02h-1.49zM419.6 102.93h1.49v4.02h-1.49zM434.5 102.93h1.49v4.02h-1.49zM443.5 102.93h1.49v4.02h-1.49zM448.0 102.93h1.49v4.02h-1.49zM449.4 102.93h1.49v4.02h-1.49zM452.4 102.93h1.49v4.02h-1.49zM392.8 106.96h1.49v4.02h-1.49zM397.2 106.96h1.49v4.02h-1.49zM400.2 106.96h1.49v4.02h-1.49zM445.0 106.96h1.49v4.02h-1.49zM370.4 110.98h1.49v4.02h-1.49zM403.2 110.98h1.49v4.02h-1.49zM445.0 110.98h1.49v4.02h-1.49zM456.9 110.98h1.49v4.02h-1.49zM386.8 115.00h1.49v4.02h-1.49zM394.3 115.00h1.49v4.02h-1.49zM413.7 115.00h1.49v4.02h-1.49zM448.0 115.00h1.49v4.02h-1.49zM370.4 119.02h1.49v4.02h-1.49zM389.8 119.02h1.49v4.02h-1.49zM395.8 119.02h1.49v4.02h-1.49zM397.2 119.02h1.49v4.02h-1.49zM436.0 119.02h1.49v4.02h-1.49zM440.5 119.02h1.49v4.02h-1.49zM445.0 119.02h1.49v4.02h-1.49zM467.3 119.02h1.49v4.02h-1.49zM383.8 123.04h1.49v4.02h-1.49zM398.7 123.04h1.49v4.02h-1.49zM430.1 123.04h1.49v4.02h-1.49zM431.5 123.04h1.49v4.02h-1.49zM461.4 123.04h1.49v4.02h-1.49zM473.3 123.04h1.49v4.02h-1.49zM398.7 127.06h1.49v4.02h-1.49zM407.7 127.06h1.49v4.02h-1.49zM412.2 127.06h1.49v4.02h-1.49zM413.7 127.06h1.49v4.02h-1.49zM416.6 127.06h1.49v4.02h-1.49zM433.0 127.06h1.49v4.02h-1.49zM455.4 127.06h1.49v4.02h-1.49zM456.9 127.06h1.49v4.02h-1.49zM467.3 127.06h1.49v4.02h-1.49zM401.7 131.08h1.49v4.02h-1.49zM409.2 131.08h1.49v4.02h-1.49zM413.7 131.08h1.49v4.02h-1.49zM422.6 131.08h1.49v4.02h-1.49zM425.6 131.08h1.49v4.02h-1.49zM428.6 131.08h1.49v4.02h-1.49zM440.5 131.08h1.49v4.02h-1.49zM452.4 131.08h1.49v4.02h-1.49zM374.9 135.10h1.49v4.02h-1.49zM376.4 135.10h1.49v4.02h-1.49zM383.8 135.10h1.49v4.02h-1.49zM406.2 135.10h1.49v4.02h-1.49zM407.7 135.10h1.49v4.02h-1.49zM422.6 135.10h1.49v4.02h-1.49zM431.5 135.10h1.49v4.02h-1.49zM439.0 135.10h1.49v4.02h-1.49zM446.5 135.10h1.49v4.02h-1.49zM458.4 135.10h1.49v4.02h-1.49zM461.4 135.10h1.49v4.02h-1.49zM464.4 135.10h1.49v4.02h-1.49zM468.8 135.10h1.49v4.02h-1.49zM389.8 139.12h1.49v4.02h-1.49zM404.7 139.12h1.49v4.02h-1.49zM419.6 139.12h1.49v4.02h-1.49zM425.6 139.12h1.49v4.02h-1.49zM445.0 139.12h1.49v4.02h-1.49zM448.0 139.12h1.49v4.02h-1.49zM449.4 139.12h1.49v4.02h-1.49zM453.9 139.12h1.49v4.02h-1.49zM456.9 139.12h1.49v4.02h-1.49zM373.4 143.14h1.49v4.02h-1.49zM395.8 143.14h1.49v4.02h-1.49zM404.7 143.14h1.49v4.02h-1.49zM412.2 143.14h1.49v4.02h-1.49zM416.6 143.14h1.49v4.02h-1.49zM418.1 143.14h1.49v4.02h-1.49zM422.6 143.14h1.49v4.02h-1.49zM427.1 143.14h1.49v4.02h-1.49zM440.5 143.14h1.49v4.02h-1.49zM442.0 143.14h1.49v4.02h-1.49zM446.5 143.14h1.49v4.02h-1.49zM456.9 143.14h1.49v4.02h-1.49zM461.4 143.14h1.49v4.02h-1.49zM470.3 143.14h1.49v4.02h-1.49zM397.2 147.17h1.49v4.02h-1.49zM410.7 147.17h1.49v4.02h-1.49zM422.6 147.17h1.49v4.02h-1.49zM425.6 147.17h1.49v4.02h-1.49zM436.0 147.17h1.49v4.02h-1.49zM440.5 147.17h1.49v4.02h-1.49zM452.4 147.17h1.49v4.02h-1.49zM373.4 151.19h1.49v4.02h-1.49zM374.9 151.19h1.49v4.02h-1.49zM377.9 151.19h1.49v4.02h-1.49zM379.3 151.19h1.49v4.02h-1.49zM394.3 151.19h1.49v4.02h-1.49zM425.6 151.19h1.49v4.02h-1.49zM431.5 151.19h1.49v4.02h-1.49zM445.0 151.19h1.49v4.02h-1.49zM456.9 151.19h1.49v4.02h-1.49zM389.8 155.21h1.49v4.02h-1.49zM419.6 155.21h1.49v4.02h-1.49zM421.1 155.21h1.49v4.02h-1.49zM431.5 155.21h1.49v4.02h-1.49zM436.0 155.21h1.49v4.02h-1.49zM455.4 155.21h1.49v4.02h-1.49zM456.9 155.21h1.49v4.02h-1.49zM462.9 155.21h1.49v4.02h-1.49zM383.8 159.23h1.49v4.02h-1.49zM386.8 159.23h1.49v4.02h-1.49zM410.7 159.23h1.49v4.02h-1.49zM421.1 159.23h1.49v4.02h-1.49zM422.6 159.23h1.49v4.02h-1.49zM436.0 159.23h1.49v4.02h-1.49zM370.4 163.25h1.49v4.02h-1.49zM383.8 163.25h1.49v4.02h-1.49zM398.7 163.25h1.49v4.02h-1.49zM401.7 163.25h1.49v4.02h-1.49zM431.5 163.25h1.49v4.02h-1.49zM443.5 163.25h1.49v4.02h-1.49zM448.0 163.25h1.49v4.02h-1.49zM458.4 163.25h1.49v4.02h-1.49zM462.9 163.25h1.49v4.02h-1.49zM473.3 163.25h1.49v4.02h-1.49zM374.9 167.27h1.49v4.02h-1.49zM385.3 167.27h1.49v4.02h-1.49zM395.8 167.27h1.49v4.02h-1.49zM404.7 167.27h1.49v4.02h-1.49zM412.2 167.27h1.49v4.02h-1.49zM418.1 167.27h1.49v4.02h-1.49zM422.6 167.27h1.49v4.02h-1.49zM425.6 167.27h1.49v4.02h-1.49zM434.5 167.27h1.49v4.02h-1.49zM468.8 167.27h1.49v4.02h-1.49zM383.8 171.29h1.49v4.02h-1.49zM385.3 171.29h1.49v4.02h-1.49zM409.2 171.29h1.49v4.02h-1.49zM410.7 171.29h1.49v4.02h-1.49zM413.7 171.29h1.49v4.02h-1.49zM433.0 171.29h1.49v4.02h-1.49zM446.5 171.29h1.49v4.02h-1.49zM453.9 171.29h1.49v4.02h-1.49zM388.3 175.31h1.49v4.02h-1.49zM404.7 175.31h1.49v4.02h-1.49zM418.1 175.31h1.49v4.02h-1.49zM433.0 175.31h1.49v4.02h-1.49zM450.9 175.31h1.49v4.02h-1.49zM373.4 179.33h1.49v4.02h-1.49zM376.4 179.33h1.49v4.02h-1.49zM380.8 179.33h1.49v4.02h-1.49zM385.3 179.33h1.49v4.02h-1.49zM386.8 179.33h1.49v4.02h-1.49zM392.8 179.33h1.49v4.02h-1.49zM397.2 179.33h1.49v4.02h-1.49zM407.7 179.33h1.49v4.02h-1.49zM409.2 179.33h1.49v4.02h-1.49zM418.1 179.33h1.49v4.02h-1.49zM427.1 179.33h1.49v4.02h-1.49zM430.1 179.33h1.49v4.02h-1.49zM433.0 179.33h1.49v4.02h-1.49zM434.5 179.33h1.49v4.02h-1.49zM436.0 179.33h1.49v4.02h-1.49zM446.5 179.33h1.49v4.02h-1.49zM468.8 179.33h1.49v4.02h-1.49zM389.8 183.35h1.49v4.02h-1.49zM395.8 183.35h1.49v4.02h-1.49zM410.7 183.35h1.49v4.02h-1.49zM412.2 183.35h1.49v4.02h-1.49zM425.6 183.35h1.49v4.02h-1.49zM445.0 183.35h1.49v4.02h-1.49zM448.0 183.35h1.49v4.02h-1.49zM470.3 183.35h1.49v4.02h-1.49zM344.8 187.37h1.50v4.02h-1.50zM355.4 187.37h1.50v4.02h-1.50zM370.4 187.37h1.49v4.02h-1.49zM373.4 187.37h1.49v4.02h-1.49zM374.9 187.37h1.49v4.02h-1.49zM380.8 187.37h1.49v4.02h-1.49zM416.6 187.37h1.49v4.02h-1.49zM419.6 187.37h1.49v4.02h-1.49zM422.6 187.37h1.49v4.02h-1.49zM430.1 187.37h1.49v4.02h-1.49zM431.5 187.37h1.49v4.02h-1.49zM433.0 187.37h1.49v4.02h-1.49zM455.4 187.37h1.49v4.02h-1.49zM464.4 187.37h1.49v4.02h-1.49zM468.8 187.37h1.49v4.02h-1.49zM344.8 191.40h1.50v4.02h-1.50zM371.9 191.40h1.49v4.02h-1.49zM412.2 191.40h1.49v4.02h-1.49zM430.1 191.40h1.49v4.02h-1.49zM434.5 191.40h1.49v4.02h-1.49zM448.0 191.40h1.49v4.02h-1.49zM462.9 191.40h1.49v4.02h-1.49zM379.3 195.42h1.49v4.02h-1.49zM380.8 195.42h1.49v4.02h-1.49zM386.8 195.42h1.49v4.02h-1.49zM415.1 195.42h1.49v4.02h-1.49zM458.4 195.42h1.49v4.02h-1.49zM459.9 195.42h1.49v4.02h-1.49zM462.9 195.42h1.49v4.02h-1.49zM373.4 199.44h1.49v4.02h-1.49zM376.4 199.44h1.49v4.02h-1.49zM416.6 199.44h1.49v4.02h-1.49zM433.0 199.44h1.49v4.02h-1.49zM443.5 199.44h1.49v4.02h-1.49zM446.5 199.44h1.49v4.02h-1.49zM462.9 199.44h1.49v4.02h-1.49zM413.7 203.46h1.49v4.02h-1.49zM415.1 203.46h1.49v4.02h-1.49zM433.0 203.46h1.49v4.02h-1.49zM443.5 203.46h1.49v4.02h-1.49zM458.4 203.46h1.49v4.02h-1.49zM467.3 203.46h1.49v4.02h-1.49zM415.1 207.48h1.49v4.02h-1.49zM421.1 207.48h1.49v4.02h-1.49zM443.5 207.48h1.49v4.02h-1.49z"/>
<path fill="rgb(240,158,144)" d="M379.3 38.60h1.49v4.02h-1.49zM388.3 38.60h1.49v4.02h-1.49zM389.8 38.60h1.49v4.02h-1.49zM397.2 38.60h1.49v4.02h-1.49zM421.1 38.60h1.49v4.02h-1.49zM436.0 38.60h1.49v4.02h-1.49zM446.5 38.60h1.49v4.02h-1.49zM449.4 38.60h1.49v4.02h-1.49zM464.4 38.60h1.49v4.02h-1.49zM377.9 42.62h1.49v4.02h-1.49zM403.2 42.62h1.49v4.02h-1.49zM409.2 42.62h1.49v4.02h-1.49zM412.2 42.62h1.49v4.02h-1.49zM427.1 42.62h1.49v4.02h-1.49zM446.5 42.62h1.49v4.02h-1.49zM453.9 42.62h1.49v4.02h-1.49zM464.4 42.62h1.49v4.02h-1.49zM370.4 46.64h1.49v4.02h-1.49zM376.4 46.64h1.49v4.02h-1.49zM380.8 46.64h1.49v4.02h-1.49zM386.8 46.64h1.49v4.02h-1.49zM388.3 46.64h1.49v4.02h-1.49zM395.8 46.64h1.49v4.02h-1.49zM406.2 46.64h1.49v4.02h-1.49zM421.1 46.64h1.49v4.02h-1.49zM439.0 46.64h1.49v4.02h-1.49zM443.5 46.64h1.49v4.02h-1.49zM448.0 46.64h1.49v4.02h-1.49zM449.4 46.64h1.49v4.02h-1.49zM455.4 46.64h1.49v4.02h-1.49zM461.4 46.64h1.49v4.02h-1.49zM392.8 50.66h1.49v4.02h-1.49zM413.7 50.66h1.49v4.02h-1.49zM416.6 50.66h1.49v4.02h-1.49zM453.9 50.66h1.49v4.02h-1.49zM467.3 50.66h1.49v4.02h-1.49zM468.8 50.66h1.49v4.02h-1.49zM471.8 50.66h1.49v4.02h-1.49zM383.8 54.68h1.49v4.02h-1.49zM418.1 54.68h1.49v4.02h-1.49zM453.9 54.68h1.49v4.02h-1.49zM470.3 54.68h1.49v4.02h-1.49zM471.8 54.68h1.49v4.02h-1.49zM373.4 58.70h1.49v4.02h-1.49zM374.9 58.70h1.49v4.02h-1.49zM389.8 58.70h1.49v4.02h-1.49zM392.8 58.70h1.49v4.02h-1.49zM398.7 58.70h1.49v4.02h-1.49zM407.7 58.70h1.49v4.02h-1.49zM430.1 58.70h1.49v4.02h-1.49zM431.5 58.70h1.49v4.02h-1.49zM437.5 58.70h1.49v4.02h-1.49zM439.0 58.70h1.49v4.02h-1.49zM440.5 58.70h1.49v4.02h-1.49zM465.9 58.70h1.49v4.02h-1.49zM470.3 58.70h1.49v4.02h-1.49zM376.4 62.73h1.49v4.02h-1.49zM385.3 62.73h1.49v4.02h-1.49zM391.3 62.73h1.49v4.02h-1.49zM392.8 62.73h1.49v4.02h-1.49zM398.7 62.73h1.49v4.02h-1.49zM403.2 62.73h1.49v4.02h-1.49zM416.6 62.73h1.49v4.02h-1.49zM452.4 62.73h1.49v4.02h-1.49zM462.9 62.73h1.49v4.02h-1.49zM377.9 66.75h1.49v4.02h-1.49zM383.8 66.75h1.49v4.02h-1.49zM385.3 66.75h1.49v4.02h-1.49zM391.3 66.75h1.49v4.02h-1.49zM397.2 66.75h1.49v4.02h-1.49zM410.7 66.75h1.49v4.02h-1.49zM415.1 66.75h1.49v4.02h-1.49zM418.1 66.75h1.49v4.02h-1.49zM439.0 66.75h1.49v4.02h-1.49zM443.5 66.75h1.49v4.02h-1.49zM450.9 66.75h1.49v4.02h-1.49zM456.9 66.75h1.49v4.02h-1.49zM373.4 70.77h1.49v4.02h-1.49zM376.4 70.77h1.49v4.02h-1.49zM398.7 70.77h1.49v4.02h-1.49zM409.2 70.77h1.49v4.02h-1.49zM430.1 70.77h1.49v4.02h-1.49zM433.0 70.77h1.49v4.02h-1.49zM446.5 70.77h1.49v4.02h-1.49zM453.9 70.77h1.49v4.02h-1.49zM455.4 70.77h1.49v4.02h-1.49zM465.9 70.77h1.49v4.02h-1.49zM344.8 74.79h1.50v4.02h-1.50zM389.8 74.79h1.49v4.02h-1.49zM391.3 74.79h1.49v4.02h-1.49zM392.8 74.79h1.49v4.02h-1.49zM395.8 74.79h1.49v4.02h-1.49zM397.2 74.79h1.49v4.02h-1.49zM409.2 74.79h1.49v4.02h-1.49zM413.7 74.79h1.49v4.02h-1.49zM421.1 74.79h1.49v4.02h-1.49zM452.4 74.79h1.49v4.02h-1.49zM453.9 74.79h1.49v4.02h-1.49zM459.9 74.79h1.49v4.02h-1.49zM473.3 74.79h1.49v4.02h-1.49zM377.9 78.81h1.49v4.02h-1.49zM382.3 78.81h1.49v4.02h-1.49zM383.8 78.81h1.49v4.02h-1.49zM392.8 78.81h1.49v4.02h-1.49zM413.7 78.81h1.49v4.02h-1.49zM439.0 78.81h1.49v4.02h-1.49zM446.5 78.81h1.49v4.02h-1.49zM448.0 78.81h1.49v4.02h-1.49zM455.4 78.81h1.49v4.02h-1.49zM458.4 78.81h1.49v4.02h-1.49zM473.3 78.81h1.49v4.02h-1.49zM374.9 82.83h1.49v4.02h-1.49zM376.4 82.83h1.49v4.02h-1.49zM391.3 82.83h1.49v4.02h-1.49zM410.7 82.83h1.49v4.02h-1.49zM430.1 82.83h1.49v4.02h-1.49zM439.0 82.83h1.49v4.02h-1.49zM448.0 82.83h1.49v4.02h-1.49zM467.3 82.83h1.49v4.02h-1.49zM468.8 82.83h1.49v4.02h-1.49zM370.4 86.85h1.49v4.02h-1.49zM385.3 86.85h1.49v4.02h-1.49zM462.9 86.85h1.49v4.02h-1.49zM391.3 90.87h1.49v4.02h-1.49zM398.7 90.87h1.49v4.02h-1.49zM401.7 90.87h1.49v4.02h-1.49zM413.7 90.87h1.49v4.02h-1.49zM434.5 90.87h1.49v4.02h-1.49zM446.5 90.87h1.49v4.02h-1.49zM461.4 90.87h1.49v4.02h-1.49zM464.4 90.87h1.49v4.02h-1.49zM467.3 90.87h1.49v4.02h-1.49zM456.9 94.89h1.49v4.02h-1.49zM392.8 98.91h1.49v4.02h-1.49zM398.7 98.91h1.49v4.02h-1.49zM427.1 98.91h1.49v4.02h-1.49zM388.3 102.93h1.49v4.02h-1.49zM398.7 102.93h1.49v4.02h-1.49zM401.7 102.93h1.49v4.02h-1.49zM430.1 102.93h1.49v4.02h-1.49zM467.3 102.93h1.49v4.02h-1.49zM406.2 106.96h1.49v4.02h-1.49zM410.7 106.96h1.49v4.02h-1.49zM422.6 106.96h1.49v4.02h-1.49zM468.8 106.96h1.49v4.02h-1.49zM473.3 106.96h1.49v4.02h-1.49zM413.7 110.98h1.49v4.02h-1.49zM421.1 110.98h1.49v4.02h-1.49zM452.4 110.98h1.49v4.02h-1.49zM404.7 115.00h1.49v4.02h-1.49zM422.6 115.00h1.49v4.02h-1.49zM440.5 115.00h1.49v4.02h-1.49zM468.8 115.00h1.49v4.02h-1.49zM374.9 119.02h1.49v4.02h-1.49zM380.8 119.02h1.49v4.02h-1.49zM386.8 119.02h1.49v4.02h-1.49zM434.5 119.02h1.49v4.02h-1.49zM453.9 119.02h1.49v4.02h-1.49zM392.8 123.04h1.49v4.02h-1.49zM424.1 123.04h1.49v4.02h-1.49zM450.9 123.04h1.49v4.02h-1.49zM456.9 123.04h1.49v4.02h-1.49zM464.4 123.04h1.49v4.02h-1.49zM370.4 127.06h1.49v4.02h-1.49zM374.9 127.06h1.49v4.02h-1.49zM377.9 127.06h1.49v4.02h-1.49zM395.8 127.06h1.49v4.02h-1.49zM403.2 127.06h1.49v4.02h-1.49zM436.0 127.06h1.49v4.02h-1.49zM437.5 127.06h1.49v4.02h-1.49zM445.0 127.06h1.49v4.02h-1.49zM452.4 127.06h1.49v4.02h-1.49zM465.9 127.06h1.49v4.02h-1.49zM473.3 127.06h1.49v4.02h-1.49zM377.9 131.08h1.49v4.02h-1.49zM410.7 131.08h1.49v4.02h-1.49zM433.0 131.08h1.49v4.02h-1.49zM442.0 131.08h1.49v4.02h-1.49zM462.9 131.08h1.49v4.02h-1.49zM371.9 135.10h1.49v4.02h-1.49zM394.3 135.10h1.49v4.02h-1.49zM398.7 135.10h1.49v4.02h-1.49zM401.7 135.10h1.49v4.02h-1.49zM403.2 135.10h1.49v4.02h-1.49zM416.6 135.10h1.49v4.02h-1.49zM430.1 135.10h1.49v4.02h-1.49zM440.5 135.10h1.49v4.02h-1.49zM445.0 135.10h1.49v4.02h-1.49zM455.4 135.10h1.49v4.02h-1.49zM467.3 135.10h1.49v4.02h-1.49zM471.8 135.10h1.49v4.02h-1.49zM406.2 139.12h1.49v4.02h-1.49zM407.7 139.12h1.49v4.02h-1.49zM412.2 139.12h1.49v4.02h-1.49zM443.5 139.12h1.49v4.02h-1.49zM377.9 143.14h1.49v4.02h-1.49zM406.2 143.14h1.49v4.02h-1.49zM413.7 143.14h1.49v4.02h-1.49zM428.6 143.14h1.49v4.02h-1.49zM448.0 143.14h1.49v4.02h-1.49zM455.4 143.14h1.49v4.02h-1.49zM468.8 143.14h1.49v4.02h-1.49zM404.7 147.17h1.49v4.02h-1.49zM409.2 147.17h1.49v4.02h-1.49zM428.6 147.17h1.49v4.02h-1.49zM445.0 147.17h1.49v4.02h-1.49zM453.9 147.17h1.49v4.02h-1.49zM458.4 147.17h1.49v4.02h-1.49zM386.8 151.19h1.49v4.02h-1.49zM403.2 151.19h1.49v4.02h-1.49zM419.6 151.19h1.49v4.02h-1.49zM421.1 151.19h1.49v4.02h-1.49zM427.1 151.19h1.49v4.02h-1.49zM433.0 151.19h1.49v4.02h-1.49zM434.5 151.19h1.49v4.02h-1.49zM449.4 151.19h1.49v4.02h-1.49zM471.8 151.19h1.49v4.02h-1.49zM373.4 155.21h1.49v4.02h-1.49zM376.4 155.21h1.49v4.02h-1.49zM418.1 155.21h1.49v4.02h-1.49zM425.6 155.21h1.49v4.02h-1.49zM445.0 155.21h1.49v4.02h-1.49zM449.4 155.21h1.49v4.02h-1.49zM453.9 155.21h1.49v4.02h-1.49zM458.4 155.21h1.49v4.02h-1.49zM470.3 155.21h1.49v4.02h-1.49zM373.4 159.23h1.49v4.02h-1.49zM389.8 159.23h1.49v4.02h-1.49zM397.2 159.23h1.49v4.02h-1.49zM398.7 159.23h1.49v4.02h-1.49zM401.7 159.23h1.49v4.02h-1.49zM403.2 159.23h1.49v4.02h-1.49zM409.2 159.23h1.49v4.02h-1.49zM415.1 159.23h1.49v4.02h-1.49zM418.1 159.23h1.49v4.02h-1.49zM430.1 159.23h1.49v4.02h-1.49zM433.0 159.23h1.49v4.02h-1.49zM443.5 159.23h1.49v4.02h-1.49zM407.7 163.25h1.49v4.02h-1.49zM415.1 163.25h1.49v4.02h-1.49zM436.0 163.25h1.49v4.02h-1.49zM445.0 163.25h1.49v4.02h-1.49zM465.9 163.25h1.49v4.02h-1.49zM470.3 163.25h1.49v4.02h-1.49zM376.4 167.27h1.49v4.02h-1.49zM388.3 167.27h1.49v4.02h-1.49zM389.8 167.27h1.49v4.02h-1.49zM392.8 167.27h1.49v4.02h-1.49zM394.3 167.27h1.49v4.02h-1.49zM428.6 167.27h1.49v4.02h-1.49zM445.0 167.27h1.49v4.02h-1.49zM471.8 167.27h1.49v4.02h-1.49zM373.4 171.29h1.49v4.02h-1.49zM380.8 171.29h1.49v4.02h-1.49zM394.3 171.29h1.49v4.02h-1.49zM412.2 171.29h1.49v4.02h-1.49zM431.5 171.29h1.49v4.02h-1.49zM434.5 171.29h1.49v4.02h-1.49zM452.4 171.29h1.49v4.02h-1.49zM374.9 175.31h1.49v4.02h-1.49zM389.8 175.31h1.49v4.02h-1.49zM395.8 175.31h1.49v4.02h-1.49zM398.7 175.31h1.49v4.02h-1.49zM401.7 175.31h1.49v4.02h-1.49zM410.7 175.31h1.49v4.02h-1.49zM437.5 175.31h1.49v4.02h-1.49zM440.5 175.31h1.49v4.02h-1.49zM456.9 175.31h1.49v4.02h-1.49zM461.4 175.31h1.49v4.02h-1.49zM467.3 175.31h1.49v4.02h-1.49zM468.8 175.31h1.49v4.02h-1.49zM371.9 179.33h1.49v4.02h-1.49zM395.8 179.33h1.49v4.02h-1.49zM416.6 179.33h1.49v4.02h-1.49zM421.1 179.33h1.49v4.02h-1.49zM439.0 179.33h1.49v4.02h-1.49zM445.0 179.33h1.49v4.02h-1.49zM452.4 179.33h1.49v4.02h-1.49zM473.3 179.33h1.49v4.02h-1.49zM373.4 183.35h1.49v4.02h-1.49zM385.3 183.35h1.49v4.02h-1.49zM440.5 183.35h1.49v4.02h-1.49zM459.9 183.35h1.49v4.02h-1.49zM461.4 183.35h1.49v4.02h-1.49zM468.8 183.35h1.49v4.02h-1.49zM473.3 183.35h1.49v4.02h-1.49zM329.8 187.37h1.50v4.02h-1.50zM428.6 187.37h1.49v4.02h-1.49zM443.5 187.37h1.49v4.02h-1.49zM465.9 187.37h1.49v4.02h-1.49zM374.9 191.40h1.49v4.02h-1.49zM394.3 191.40h1.49v4.02h-1.49zM404.7 191.40h1.49v4.02h-1.49zM415.1 191.40h1.49v4.02h-1.49zM416.6 191.40h1.49v4.02h-1.49zM419.6 191.40h1.49v4.02h-1.49zM431.5 191.40h1.49v4.02h-1.49zM440.5 191.40h1.49v4.02h-1.49zM445.0 191.40h1.49v4.02h-1.49zM401.7 195.42h1.49v4.02h-1.49zM406.2 195.42h1.49v4.02h-1.49zM418.1 195.42h1.49v4.02h-1.49zM424.1 195.42h1.49v4.02h-1.49zM428.6 195.42h1.49v4.02h-1.49zM453.9 195.42h1.49v4.02h-1.49zM380.8 199.44h1.49v4.02h-1.49zM383.8 199.44h1.49v4.02h-1.49zM392.8 199.44h1.49v4.02h-1.49zM413.7 199.44h1.49v4.02h-1.49zM424.1 199.44h1.49v4.02h-1.49zM440.5 199.44h1.49v4.02h-1.49zM468.8 199.44h1.49v4.02h-1.49zM374.9 203.46h1.49v4.02h-1.49zM410.7 203.46h1.49v4.02h-1.49zM434.5 203.46h1.49v4.02h-1.49zM445.0 203.46h1.49v4.02h-1.49zM449.4 203.46h1.49v4.02h-1.49zM464.4 203.46h1.49v4.02h-1.49zM473.3 203.46h1.49v4.02h-1.49zM370.4 207.48h1.49v4.02h-1.49zM389.8 207.48h1.49v4.02h-1.49zM394.3 207.48h1.49v4.02h-1.49zM404.7 207.48h1.49v4.02h-1.49zM437.5 207.48h1.49v4.02h-1.49zM450.9 207.48h1.49v4.02h-1.49z"/>
<path fill="rgb(234,134,123)" d="M371.9 38.60h1.49v4.02h-1.49zM373.4 38.60h1.49v4.02h-1.49zM380.8 38.60h1.49v4.02h-1.49zM415.1 38.60h1.49v4.02h-1.49zM431.5 38.60h1.49v4.02h-1.49zM433.0 38.60h1.49v4.02h-1.49zM434.5 38.60h1.49v4.02h-1.49zM437.5 38.60h1.49v4.02h-1.49zM443.5 38.60h1.49v4.02h-1.49zM462.9 38.60h1.49v4.02h-1.49zM370.4 42.62h1.49v4.02h-1.49zM371.9 42.62h1.49v4.02h-1.49zM373.4 42.62h1.49v4.02h-1.49zM383.8 42.62h1.49v4.02h-1.49zM391.3 42.62h1.49v4.02h-1.49zM392.8 42.62h1.49v4.02h-1.49zM401.7 42.62h1.49v4.02h-1.49zM404.7 42.62h1.49v4.02h-1.49zM416.6 42.62h1.49v4.02h-1.49zM425.6 42.62h1.49v4.02h-1.49zM430.1 42.62h1.49v4.02h-1.49zM448.0 42.62h1.49v4.02h-1.49zM449.4 42.62h1.49v4.02h-1.49zM452.4 42.62h1.49v4.02h-1.49zM462.9 42.62h1.49v4.02h-1.49zM468.8 42.62h1.49v4.02h-1.49zM377.9 46.64h1.49v4.02h-1.49zM389.8 46.64h1.49v4.02h-1.49zM397.2 46.64h1.49v4.02h-1.49zM407.7 46.64h1.49v4.02h-1.49zM409.2 46.64h1.49v4.02h-1.49zM415.1 46.64h1.49v4.02h-1.49zM416.6 46.64h1.49v4.02h-1.49zM437.5 46.64h1.49v4.02h-1.49zM452.4 46.64h1.49v4.02h-1.49zM456.9 46.64h1.49v4.02h-1.49zM373.4 50.66h1.49v4.02h-1.49zM385.3 50.66h1.49v4.02h-1.49zM433.0 50.66h1.49v4.02h-1.49zM434.5 50.66h1.49v4.02h-1.49zM440.5 50.66h1.49v4.02h-1.49zM465.9 50.66h1.49v4.02h-1.49zM371.9 54.68h1.49v4.02h-1.49zM374.9 54.68h1.49v4.02h-1.49zM380.8 54.68h1.49v4.02h-1.49zM385.3 54.68h1.49v4.02h-1.49zM404.7 54.68h1.49v4.02h-1.49zM410.7 54.68h1.49v4.02h-1.49zM413.7 54.68h1.49v4.02h-1.49zM430.1 54.68h1.49v4.02h-1.49zM434.5 54.68h1.49v4.02h-1.49zM445.0 54.68h1.49v4.02h-1.49zM452.4 54.68h1.49v4.02h-1.49zM455.4 54.68h1.49v4.02h-1.49zM386.8 58.70h1.49v4.02h-1.49zM394.3 58.70h1.49v4.02h-1.49zM400.2 58.70h1.49v4.02h-1.49zM403.2 58.70h1.49v4.02h-1.49zM406.2 58.70h1.49v4.02h-1.49zM409.2 58.70h1.49v4.02h-1.49zM410.7 58.70h1.49v4.02h-1.49zM416.6 58.70h1.49v4.02h-1.49zM419.6 58.70h1.49v4.02h-1.49zM443.5 58.70h1.49v4.02h-1.49zM374.9 62.73h1.49v4.02h-1.49zM415.1 62.73h1.49v4.02h-1.49zM428.6 62.73h1.49v4.02h-1.49zM449.4 62.73h1.49v4.02h-1.49zM465.9 62.73h1.49v4.02h-1.49zM468.8 62.73h1.49v4.02h-1.49zM370.4 66.75h1.49v4.02h-1.49zM389.8 66.75h1.49v4.02h-1.49zM395.8 66.75h1.49v4.02h-1.49zM398.7 66.75h1.49v4.02h-1.49zM421.1 66.75h1.49v4.02h-1.49zM430.1 66.75h1.49v4.02h-1.49zM436.0 66.75h1.49v4.02h-1.49zM461.4 66.75h1.49v4.02h-1.49zM467.3 66.75h1.49v4.02h-1.49zM468.8 66.75h1.49v4.02h-1.49zM377.9 70.77h1.49v4.02h-1.49zM394.3 70.77h1.49v4.02h-1.49zM422.6 70.77h1.49v4.02h-1.49zM439.0 70.77h1.49v4.02h-1.49zM403.2 74.79h1.49v4.02h-1.49zM431.5 74.79h1.49v4.02h-1.49zM433.0 74.79h1.49v4.02h-1.49zM445.0 74.79h1.49v4.02h-1.49zM448.0 74.79h1.49v4.02h-1.49zM450.9 74.79h1.49v4.02h-1.49zM376.4 78.81h1.49v4.02h-1.49zM436.0 78.81h1.49v4.02h-1.49zM464.4 78.81h1.49v4.02h-1.49zM431.5 82.83h1.49v4.02h-1.49zM436.0 82.83h1.49v4.02h-1.49zM464.4 82.83h1.49v4.02h-1.49zM397.2 86.85h1.49v4.02h-1.49zM401.7 86.85h1.49v4.02h-1.49zM413.7 86.85h1.49v4.02h-1.49zM433.0 86.85h1.49v4.02h-1.49zM453.9 86.85h1.49v4.02h-1.49zM416.6 90.87h1.49v4.02h-1.49zM430.1 90.87h1.49v4.02h-1.49zM442.0 90.87h1.49v4.02h-1.49zM370.4 94.89h1.49v4.02h-1.49zM374.9 94.89h1.49v4.02h-1.49zM448.0 94.89h1.49v4.02h-1.49zM449.4 94.89h1.49v4.02h-1.49zM430.1 98.91h1.49v4.02h-1.49zM377.9 102.93h1.49v4.02h-1.49zM385.3 102.93h1.49v4.02h-1.49zM436.0 102.93h1.49v4.02h-1.49zM465.9 102.93h1.49v4.02h-1.49zM413.7 106.96h1.49v4.02h-1.49zM453.9 106.96h1.49v4.02h-1.49zM374.9 110.98h1.49v4.02h-1.49zM392.8 110.98h1.49v4.02h-1.49zM431.5 110.98h1.49v4.02h-1.49zM471.8 110.98h1.49v4.02h-1.49zM401.7 115.00h1.49v4.02h-1.49zM449.4 115.00h1.49v4.02h-1.49zM453.9 115.00h1.49v4.02h-1.49zM462.9 115.00h1.49v4.02h-1.49zM407.7 119.02h1.49v4.02h-1.49zM455.4 119.02h1.49v4.02h-1.49zM473.3 119.02h1.49v4.02h-1.49zM412.2 123.04h1.49v4.02h-1.49zM452.4 123.04h1.49v4.02h-1.49zM467.3 123.04h1.49v4.02h-1.49zM401.7 127.06h1.49v4.02h-1.49zM410.7 127.06h1.49v4.02h-1.49zM373.4 131.08h1.49v4.02h-1.49zM382.3 131.08h1.49v4.02h-1.49zM383.8 131.08h1.49v4.02h-1.49zM403.2 131.08h1.49v4.02h-1.49zM424.1 131.08h1.49v4.02h-1.49zM456.9 131.08h1.49v4.02h-1.49zM464.4 131.08h1.49v4.02h-1.49zM412.2 135.10h1.49v4.02h-1.49zM419.6 135.10h1.49v4.02h-1.49zM421.1 135.10h1.49v4.02h-1.49zM424.1 135.10h1.49v4.02h-1.49zM442.0 135.10h1.49v4.02h-1.49zM376.4 143.14h1.49v4.02h-1.49zM391.3 143.14h1.49v4.02h-1.49zM392.8 143.14h1.49v4.02h-1.49zM419.6 143.14h1.49v4.02h-1.49zM471.8 143.14h1.49v4.02h-1.49zM389.8 147.17h1.49v4.02h-1.49zM473.3 147.17h1.49v4.02h-1.49zM382.3 151.19h1.49v4.02h-1.49zM395.8 151.19h1.49v4.02h-1.49zM416.6 151.19h1.49v4.02h-1.49zM430.1 151.19h1.49v4.02h-1.49zM468.8 151.19h1.49v4.02h-1.49zM473.3 151.19h1.49v4.02h-1.49zM392.8 155.21h1.49v4.02h-1.49zM395.8 155.21h1.49v4.02h-1.49zM401.7 155.21h1.49v4.02h-1.49zM409.2 155.21h1.49v4.02h-1.49zM410.7 155.21h1.49v4.02h-1.49zM415.1 155.21h1.49v4.02h-1.49zM416.6 155.21h1.49v4.02h-1.49zM452.4 155.21h1.49v4.02h-1.49zM370.4 159.23h1.49v4.02h-1.49zM404.7 159.23h1.49v4.02h-1.49zM413.7 159.23h1.49v4.02h-1.49zM416.6 159.23h1.49v4.02h-1.49zM434.5 159.23h1.49v4.02h-1.49zM445.0 159.23h1.49v4.02h-1.49zM448.0 159.23h1.49v4.02h-1.49zM453.9 159.23h1.49v4.02h-1.49zM456.9 159.23h1.49v4.02h-1.49zM465.9 159.23h1.49v4.02h-1.49zM468.8 159.23h1.49v4.02h-1.49zM471.8 159.23h1.49v4.02h-1.49zM386.8 163.25h1.49v4.02h-1.49zM413.7 163.25h1.49v4.02h-1.49zM416.6 163.25h1.49v4.02h-1.49zM418.1 163.25h1.49v4.02h-1.49zM424.1 163.25h1.49v4.02h-1.49zM453.9 163.25h1.49v4.02h-1.49zM456.9 167.27h1.49v4.02h-1.49zM465.9 167.27h1.49v4.02h-1.49zM392.8 171.29h1.49v4.02h-1.49zM404.7 171.29h1.49v4.02h-1.49zM407.7 171.29h1.49v4.02h-1.49zM415.1 171.29h1.49v4.02h-1.49zM428.6 171.29h1.49v4.02h-1.49zM430.1 171.29h1.49v4.02h-1.49zM376.4 175.31h1.49v4.02h-1.49zM379.3 175.31h1.49v4.02h-1.49zM392.8 175.31h1.49v4.02h-1.49zM416.6 175.31h1.49v4.02h-1.49zM430.1 175.31h1.49v4.02h-1.49zM443.5 175.31h1.49v4.02h-1.49zM453.9 175.31h1.49v4.02h-1.49zM459.9 175.31h1.49v4.02h-1.49zM465.9 175.31h1.49v4.02h-1.49zM370.4 179.33h1.49v4.02h-1.49zM377.9 179.33h1.49v4.02h-1.49zM401.7 179.33h1.49v4.02h-1.49zM404.7 179.33h1.49v4.02h-1.49zM410.7 179.33h1.49v4.02h-1.49zM422.6 179.33h1.49v4.02h-1.49zM431.5 179.33h1.49v4.02h-1.49zM440.5 179.33h1.49v4.02h-1.49zM443.5 179.33h1.49v4.02h-1.49zM380.8 183.35h1.49v4.02h-1.49zM392.8 183.35h1.49v4.02h-1.49zM442.0 183.35h1.49v4.02h-1.49zM465.9 183.35h1.49v4.02h-1.49zM391.3 187.37h1.49v4.02h-1.49zM415.1 187.37h1.49v4.02h-1.49zM436.0 187.37h1.49v4.02h-1.49zM437.5 187.37h1.49v4.02h-1.49zM440.5 187.37h1.49v4.02h-1.49zM448.0 187.37h1.49v4.02h-1.49zM456.9 187.37h1.49v4.02h-1.49zM373.4 191.40h1.49v4.02h-1.49zM421.1 191.40h1.49v4.02h-1.49zM436.0 191.40h1.49v4.02h-1.49zM374.9 195.42h1.49v4.02h-1.49zM398.7 195.42h1.49v4.02h-1.49zM403.2 195.42h1.49v4.02h-1.49zM404.7 195.42h1.49v4.02h-1.49zM413.7 195.42h1.49v4.02h-1.49zM456.9 195.42h1.49v4.02h-1.49zM377.9 199.44h1.49v4.02h-1.49zM418.1 199.44h1.49v4.02h-1.49zM445.0 199.44h1.49v4.02h-1.49zM450.9 199.44h1.49v4.02h-1.49zM464.4 199.44h1.49v4.02h-1.49zM471.8 199.44h1.49v4.02h-1.49zM473.3 199.44h1.49v4.02h-1.49zM404.7 203.46h1.49v4.02h-1.49zM452.4 203.46h1.49v4.02h-1.49zM407.7 207.48h1.49v4.02h-1.49zM465.9 207.48h1.49v4.02h-1.49z"/>
<path fill="rgb(229,110,102)" d="M386.8 38.60h1.49v4.02h-1.49zM391.3 38.60h1.49v4.02h-1.49zM412.2 38.60h1.49v4.02h-1.49zM461.4 38.60h1.49v4.02h-1.49zM470.3 38.60h1.49v4.02h-1.49zM471.8 38.60h1.49v4.02h-1.49zM380.8 42.62h1.49v4.02h-1.49zM382.3 42.62h1.49v4.02h-1.49zM385.3 42.62h1.49v4.02h-1.49zM386.8 42.62h1.49v4.02h-1.49zM389.8 42.62h1.49v4.02h-1.49zM406.2 42.62h1.49v4.02h-1.49zM410.7 42.62h1.49v4.02h-1.49zM413.7 42.62h1.49v4.02h-1.49zM445.0 42.62h1.49v4.02h-1.49zM455.4 42.62h1.49v4.02h-1.49zM467.3 42.62h1.49v4.02h-1.49zM470.3 42.62h1.49v4.02h-1.49zM379.3 46.64h1.49v4.02h-1.49zM392.8 46.64h1.49v4.02h-1.49zM400.2 46.64h1.49v4.02h-1.49zM412.2 46.64h1.49v4.02h-1.49zM413.7 46.64h1.49v4.02h-1.49zM418.1 46.64h1.49v4.02h-1.49zM425.6 46.64h1.49v4.02h-1.49zM433.0 46.64h1.49v4.02h-1.49zM450.9 46.64h1.49v4.02h-1.49zM459.9 46.64h1.49v4.02h-1.49zM471.8 46.64h1.49v4.02h-1.49zM395.8 50.66h1.49v4.02h-1.49zM407.7 50.66h1.49v4.02h-1.49zM419.6 50.66h1.49v4.02h-1.49zM379.3 54.68h1.49v4.02h-1.49zM394.3 54.68h1.49v4.02h-1.49zM427.1 54.68h1.49v4.02h-1.49zM428.6 54.68h1.49v4.02h-1.49zM462.9 54.68h1.49v4.02h-1.49zM464.4 54.68h1.49v4.02h-1.49zM473.3 54.68h1.49v4.02h-1.49zM376.4 58.70h1.49v4.02h-1.49zM413.7 58.70h1.49v4.02h-1.49zM422.6 58.70h1.49v4.02h-1.49zM446.5 58.70h1.49v4.02h-1.49zM452.4 58.70h1.49v4.02h-1.49zM461.4 58.70h1.49v4.02h-1.49zM473.3 58.70h1.49v4.02h-1.49zM371.9 62.73h1.49v4.02h-1.49zM377.9 62.73h1.49v4.02h-1.49zM380.8 62.73h1.49v4.02h-1.49zM383.8 62.73h1.49v4.02h-1.49zM401.7 62.73h1.49v4.02h-1.49zM419.6 62.73h1.49v4.02h-1.49zM430.1 62.73h1.49v4.02h-1.49zM437.5 62.73h1.49v4.02h-1.49zM439.0 62.73h1.49v4.02h-1.49zM448.0 62.73h1.49v4.02h-1.49zM392.8 66.75h1.49v4.02h-1.49zM404.7 66.75h1.49v4.02h-1.49zM428.6 66.75h1.49v4.02h-1.49zM434.5 66.75h1.49v4.02h-1.49zM440.5 66.75h1.49v4.02h-1.49zM446.5 66.75h1.49v4.02h-1.49zM455.4 66.75h1.49v4.02h-1.49zM413.7 70.77h1.49v4.02h-1.49zM440.5 70.77h1.49v4.02h-1.49zM464.4 70.77h1.49v4.02h-1.49zM467.3 70.77h1.49v4.02h-1.49zM473.3 70.77h1.49v4.02h-1.49zM374.9 74.79h1.49v4.02h-1.49zM404.7 74.79h1.49v4.02h-1.49zM410.7 74.79h1.49v4.02h-1.49zM415.1 74.79h1.49v4.02h-1.49zM439.0 74.79h1.49v4.02h-1.49zM440.5 74.79h1.49v4.02h-1.49zM404.7 82.83h1.49v4.02h-1.49zM418.1 82.83h1.49v4.02h-1.49zM445.0 82.83h1.49v4.02h-1.49zM452.4 82.83h1.49v4.02h-1.49zM453.9 82.83h1.49v4.02h-1.49zM374.9 86.85h1.49v4.02h-1.49zM389.8 86.85h1.49v4.02h-1.49zM392.8 86.85h1.49v4.02h-1.49zM434.5 86.85h1.49v4.02h-1.49zM440.5 86.85h1.49v4.02h-1.49zM409.2 90.87h1.49v4.02h-1.49zM425.6 90.87h1.49v4.02h-1.49zM445.0 90.87h1.49v4.02h-1.49zM455.4 102.93h1.49v4.02h-1.49zM452.4 106.96h1.49v4.02h-1.49zM462.9 106.96h1.49v4.02h-1.49zM398.7 115.00h1.49v4.02h-1.49zM382.3 119.02h1.49v4.02h-1.49zM434.5 123.04h1.49v4.02h-1.49zM468.8 123.04h1.49v4.02h-1.49zM373.4 127.06h1.49v4.02h-1.49zM392.8 127.06h1.49v4.02h-1.49zM421.1 131.08h1.49v4.02h-1.49zM468.8 131.08h1.49v4.02h-1.49zM392.8 135.10h1.49v4.02h-1.49zM452.4 135.10h1.49v4.02h-1.49zM452.4 143.14h1.49v4.02h-1.49zM418.1 151.19h1.49v4.02h-1.49zM436.0 151.19h1.49v4.02h-1.49zM440.5 151.19h1.49v4.02h-1.49zM374.9 155.21h1.49v4.02h-1.49zM473.3 155.21h1.49v4.02h-1.49zM377.9 159.23h1.49v4.02h-1.49zM424.1 159.23h1.49v4.02h-1.49zM440.5 159.23h1.49v4.02h-1.49zM464.4 159.23h1.49v4.02h-1.49zM470.3 159.23h1.49v4.02h-1.49zM374.9 163.25h1.49v4.02h-1.49zM412.2 163.25h1.49v4.02h-1.49zM434.5 163.25h1.49v4.02h-1.49zM440.5 163.25h1.49v4.02h-1.49zM452.4 163.25h1.49v4.02h-1.49zM456.9 163.25h1.49v4.02h-1.49zM373.4 167.27h1.49v4.02h-1.49zM406.2 167.27h1.49v4.02h-1.49zM413.7 167.27h1.49v4.02h-1.49zM430.1 167.27h1.49v4.02h-1.49zM453.9 167.27h1.49v4.02h-1.49zM389.8 171.29h1.49v4.02h-1.49zM400.2 171.29h1.49v4.02h-1.49zM418.1 171.29h1.49v4.02h-1.49zM422.6 171.29h1.49v4.02h-1.49zM427.1 171.29h1.49v4.02h-1.49zM443.5 171.29h1.49v4.02h-1.49zM445.0 171.29h1.49v4.02h-1.49zM465.9 171.29h1.49v4.02h-1.49zM386.8 175.31h1.49v4.02h-1.49zM391.3 175.31h1.49v4.02h-1.49zM431.5 175.31h1.49v4.02h-1.49zM434.5 175.31h1.49v4.02h-1.49zM436.0 175.31h1.49v4.02h-1.49zM442.0 175.31h1.49v4.02h-1.49zM448.0 179.33h1.49v4.02h-1.49zM449.4 179.33h1.49v4.02h-1.49zM459.9 179.33h1.49v4.02h-1.49zM376.4 183.35h1.49v4.02h-1.49zM386.8 183.35h1.49v4.02h-1.49zM430.1 183.35h1.49v4.02h-1.49zM433.0 183.35h1.49v4.02h-1.49zM436.0 183.35h1.49v4.02h-1.49zM400.2 187.37h1.49v4.02h-1.49zM410.7 187.37h1.49v4.02h-1.49zM471.8 187.37h1.49v4.02h-1.49zM392.8 191.40h1.49v4.02h-1.49zM464.4 191.40h1.49v4.02h-1.49zM392.8 195.42h1.49v4.02h-1.49zM395.8 195.42h1.49v4.02h-1.49zM412.2 195.42h1.49v4.02h-1.49zM416.6 195.42h1.49v4.02h-1.49zM433.0 195.42h1.49v4.02h-1.49zM440.5 195.42h1.49v4.02h-1.49zM468.8 195.42h1.49v4.02h-1.49zM401.7 199.44h1.49v4.02h-1.49zM452.4 199.44h1.49v4.02h-1.49zM453.9 203.46h1.49v4.02h-1.49zM440.5 207.48h1.49v4.02h-1.49z"/>
<path fill="rgb(223,86,80)" d="M376.4 38.60h1.49v4.02h-1.49zM395.8 38.60h1.49v4.02h-1.49zM401.7 38.60h1.49v4.02h-1.49zM448.0 38.60h1.49v4.02h-1.49zM458.4 38.60h1.49v4.02h-1.49zM468.8 38.60h1.49v4.02h-1.49zM415.1 42.62h1.49v4.02h-1.49zM424.1 42.62h1.49v4.02h-1.49zM443.5 42.62h1.49v4.02h-1.49zM471.8 42.62h1.49v4.02h-1.49zM383.8 46.64h1.49v4.02h-1.49zM403.2 46.64h1.49v4.02h-1.49zM419.6 46.64h1.49v4.02h-1.49zM427.1 46.64h1.49v4.02h-1.49zM434.5 46.64h1.49v4.02h-1.49zM465.9 46.64h1.49v4.02h-1.49zM468.8 46.64h1.49v4.02h-1.49zM442.0 50.66h1.49v4.02h-1.49zM418.1 58.70h1.49v4.02h-1.49zM428.6 58.70h1.49v4.02h-1.49zM445.0 58.70h1.49v4.02h-1.49zM448.0 58.70h1.49v4.02h-1.49zM442.0 62.73h1.49v4.02h-1.49zM445.0 62.73h1.49v4.02h-1.49zM456.9 62.73h1.49v4.02h-1.49zM422.6 66.75h1.49v4.02h-1.49zM433.0 66.75h1.49v4.02h-1.49zM452.4 70.77h1.49v4.02h-1.49zM471.8 70.77h1.49v4.02h-1.49zM370.4 74.79h1.49v4.02h-1.49zM377.9 74.79h1.49v4.02h-1.49zM418.1 74.79h1.49v4.02h-1.49zM442.0 74.79h1.49v4.02h-1.49zM374.9 78.81h1.49v4.02h-1.49zM452.4 86.85h1.49v4.02h-1.49zM374.9 90.87h1.49v4.02h-1.49zM424.1 90.87h1.49v4.02h-1.49zM398.7 106.96h1.49v4.02h-1.49zM395.8 115.00h1.49v4.02h-1.49zM382.3 127.06h1.49v4.02h-1.49zM440.5 127.06h1.49v4.02h-1.49zM395.8 135.10h1.49v4.02h-1.49zM374.9 139.12h1.49v4.02h-1.49zM430.1 139.12h1.49v4.02h-1.49zM374.9 147.17h1.49v4.02h-1.49zM379.3 147.17h1.49v4.02h-1.49zM468.8 147.17h1.49v4.02h-1.49zM413.7 151.19h1.49v4.02h-1.49zM370.4 155.21h1.49v4.02h-1.49zM413.7 155.21h1.49v4.02h-1.49zM428.6 155.21h1.49v4.02h-1.49zM374.9 159.23h1.49v4.02h-1.49zM406.2 159.23h1.49v4.02h-1.49zM428.6 159.23h1.49v4.02h-1.49zM449.4 163.25h1.49v4.02h-1.49zM467.3 163.25h1.49v4.02h-1.49zM370.4 167.27h1.49v4.02h-1.49zM374.9 171.29h1.49v4.02h-1.49zM398.7 171.29h1.49v4.02h-1.49zM445.0 175.31h1.49v4.02h-1.49zM449.4 175.31h1.49v4.02h-1.49zM437.5 179.33h1.49v4.02h-1.49zM453.9 179.33h1.49v4.02h-1.49zM456.9 179.33h1.49v4.02h-1.49zM374.9 183.35h1.49v4.02h-1.49zM413.7 183.35h1.49v4.02h-1.49zM397.2 187.37h1.49v4.02h-1.49zM452.4 187.37h1.49v4.02h-1.49zM439.0 191.40h1.49v4.02h-1.49zM449.4 191.40h1.49v4.02h-1.49zM439.0 199.44h1.49v4.02h-1.49zM412.2 203.46h1.49v4.02h-1.49z"/>
<path fill="rgb(218,62,59)" d="M370.4 38.60h1.49v4.02h-1.49zM392.8 38.60h1.49v4.02h-1.49zM404.7 38.60h1.49v4.02h-1.49zM409.2 38.60h1.49v4.02h-1.49zM410.7 38.60h1.49v4.02h-1.49zM418.1 38.60h1.49v4.02h-1.49zM445.0 38.60h1.49v4.02h-1.49zM455.4 38.60h1.49v4.02h-1.49zM374.9 42.62h1.49v4.02h-1.49zM379.3 42.62h1.49v4.02h-1.49zM398.7 42.62h1.49v4.02h-1.49zM407.7 42.62h1.49v4.02h-1.49zM431.5 42.62h1.49v4.02h-1.49zM433.0 42.62h1.49v4.02h-1.49zM439.0 42.62h1.49v4.02h-1.49zM374.9 46.64h1.49v4.02h-1.49zM398.7 46.64h1.49v4.02h-1.49zM401.7 46.64h1.49v4.02h-1.49zM428.6 46.64h1.49v4.02h-1.49zM430.1 46.64h1.49v4.02h-1.49zM431.5 46.64h1.49v4.02h-1.49zM440.5 46.64h1.49v4.02h-1.49zM445.0 46.64h1.49v4.02h-1.49zM446.5 46.64h1.49v4.02h-1.49zM453.9 46.64h1.49v4.02h-1.49zM412.2 50.66h1.49v4.02h-1.49zM452.4 50.66h1.49v4.02h-1.49zM376.4 54.68h1.49v4.02h-1.49zM421.1 54.68h1.49v4.02h-1.49zM448.0 54.68h1.49v4.02h-1.49zM383.8 58.70h1.49v4.02h-1.49zM395.8 58.70h1.49v4.02h-1.49zM389.8 62.73h1.49v4.02h-1.49zM400.2 62.73h1.49v4.02h-1.49zM440.5 62.73h1.49v4.02h-1.49zM445.0 66.75h1.49v4.02h-1.49zM452.4 66.75h1.49v4.02h-1.49zM453.9 66.75h1.49v4.02h-1.49zM374.9 70.77h1.49v4.02h-1.49zM445.0 70.77h1.49v4.02h-1.49zM456.9 70.77h1.49v4.02h-1.49zM430.1 74.79h1.49v4.02h-1.49zM434.5 135.10h1.49v4.02h-1.49zM374.9 143.14h1.49v4.02h-1.49zM406.2 155.21h1.49v4.02h-1.49zM433.0 167.27h1.49v4.02h-1.49zM419.6 171.29h1.49v4.02h-1.49zM440.5 171.29h1.49v4.02h-1.49zM377.9 175.31h1.49v4.02h-1.49zM413.7 175.31h1.49v4.02h-1.49zM452.4 175.31h1.49v4.02h-1.49zM374.9 179.33h1.49v4.02h-1.49zM465.9 179.33h1.49v4.02h-1.49zM431.5 183.35h1.49v4.02h-1.49zM433.0 191.40h1.49v4.02h-1.49zM383.8 195.42h1.49v4.02h-1.49zM389.8 195.42h1.49v4.02h-1.49zM445.0 195.42h1.49v4.02h-1.49zM389.8 199.44h1.49v4.02h-1.49zM430.1 203.46h1.49v4.02h-1.49z"/>
<path fill="rgb(212,38,38)" d="M374.9 38.60h1.49v4.02h-1.49zM377.9 38.60h1.49v4.02h-1.49zM383.8 38.60h1.49v4.02h-1.49zM385.3 38.60h1.49v4.02h-1.49zM394.3 38.60h1.49v4.02h-1.49zM400.2 38.60h1.49v4.02h-1.49zM407.7 38.60h1.49v4.02h-1.49zM422.6 38.60h1.49v4.02h-1.49zM424.1 38.60h1.49v4.02h-1.49zM428.6 38.60h1.49v4.02h-1.49zM430.1 38.60h1.49v4.02h-1.49zM439.0 38.60h1.49v4.02h-1.49zM440.5 38.60h1.49v4.02h-1.49zM442.0 38.60h1.49v4.02h-1.49zM452.4 38.60h1.49v4.02h-1.49zM453.9 38.60h1.49v4.02h-1.49zM456.9 38.60h1.49v4.02h-1.49zM473.3 38.60h1.49v4.02h-1.49zM428.6 42.62h1.49v4.02h-1.49zM440.5 42.62h1.49v4.02h-1.49zM456.9 42.62h1.49v4.02h-1.49zM458.4 42.62h1.49v4.02h-1.49zM465.9 42.62h1.49v4.02h-1.49zM394.3 46.64h1.49v4.02h-1.49zM410.7 46.64h1.49v4.02h-1.49zM464.4 46.64h1.49v4.02h-1.49zM467.3 46.64h1.49v4.02h-1.49zM473.3 46.64h1.49v4.02h-1.49zM446.5 54.68h1.49v4.02h-1.49zM453.9 58.70h1.49v4.02h-1.49zM410.7 62.73h1.49v4.02h-1.49zM374.9 66.75h1.49v4.02h-1.49zM462.9 66.75h1.49v4.02h-1.49zM416.6 74.79h1.49v4.02h-1.49zM418.1 78.81h1.49v4.02h-1.49zM385.3 187.37h1.49v4.02h-1.49zM413.7 187.37h1.49v4.02h-1.49zM453.9 199.44h1.49v4.02h-1.49z"/>
</g>
<text x="318.6" y="42.2" font-size="4.3" text-anchor="end" textLength="13.6" lengthAdjust="spacingAndGlyphs" fill="#1a1a1a">DPEP1</text>
<text x="318.6" y="46.2" font-size="4.3" text-anchor="end" textLength="13.6" lengthAdjust="spacingAndGlyphs" fill="#1a1a1a">DUSP1</text>
<text x="318.6" y="50.2" font-size="4.3" text-anchor="end" textLength="13.6" lengthAdjust="spacingAndGlyphs" fill="#1a1a1a">CD79A</text>
<text x="318.6" y="54.2" font-size="4.3" text-anchor="end" textLength="16.3" lengthAdjust="spacingAndGlyphs" fill="#1a1a1a">TUBA1A</text>
<text x="318.6" y="58.2" font-size="4.3" text-anchor="end" textLength="13.6" lengthAdjust="spacingAndGlyphs" fill="#1a1a1a">EVA1B</text>
<text x="318.6" y="62.3" font-size="4.3" text-anchor="end" textLength="13.6" lengthAdjust="spacingAndGlyphs" fill="#1a1a1a">BIRC7</text>
<text x="318.6" y="66.3" font-size="4.3" text-anchor="end" textLength="10.9" lengthAdjust="spacingAndGlyphs" fill="#1a1a1a">CAPG</text>
<text x="318.6" y="70.3" font-size="4.3" text-anchor="end" textLength="13.6" lengthAdjust="spacingAndGlyphs" fill="#1a1a1a">PPDPF</text>
<text x="318.6" y="74.3" font-size="4.3" text-anchor="end" textLength="13.6" lengthAdjust="spacingAndGlyphs" fill="#1a1a1a">FCGRT</text>
<text x="318.6" y="78.3" font-size="4.3" text-anchor="end" textLength="13.6" lengthAdjust="spacingAndGlyphs" fill="#1a1a1a">VAMP5</text>
<text x="318.6" y="82.4" font-size="4.3" text-anchor="end" textLength="13.6" lengthAdjust="spacingAndGlyphs" fill="#1a1a1a">HMGN3</text>
<text x="318.6" y="86.4" font-size="4.3" text-anchor="end" textLength="16.3" lengthAdjust="spacingAndGlyphs" fill="#1a1a1a">EEF1A2</text>
<text x="318.6" y="90.4" font-size="4.3" text-anchor="end" textLength="10.9" lengthAdjust="spacingAndGlyphs" fill="#1a1a1a">FTH1</text>
<text x="318.6" y="94.4" font-size="4.3" text-anchor="end" textLength="16.3" lengthAdjust="spacingAndGlyphs" fill="#1a1a1a">DYNLL1</text>
<text x="318.6" y="98.5" font-size="4.3" text-anchor="end" textLength="10.9" lengthAdjust="spacingAndGlyphs" fill="#1a1a1a">CD37</text>
<text x="318.6" y="102.5" font-size="4.3" text-anchor="end" textLength="13.6" lengthAdjust="spacingAndGlyphs" fill="#1a1a1a">HLA-A</text>
<text x="318.6" y="106.5" font-size="4.3" text-anchor="end" textLength="13.6" lengthAdjust="spacingAndGlyphs" fill="#1a1a1a">HLA-B</text>
<text x="318.6" y="110.5" font-size="4.3" text-anchor="end" textLength="13.6" lengthAdjust="spacingAndGlyphs" fill="#1a1a1a">RPL39</text>
<text x="318.6" y="114.5" font-size="4.3" text-anchor="end" textLength="10.9" lengthAdjust="spacingAndGlyphs" fill="#1a1a1a">RPS3</text>
<text x="318.6" y="118.6" font-size="4.3" text-anchor="end" textLength="8.2" lengthAdjust="spacingAndGlyphs" fill="#1a1a1a">UBB</text>
<text x="318.6" y="122.6" font-size="4.3" text-anchor="end" textLength="19.0" lengthAdjust="spacingAndGlyphs" fill="#1a1a1a">HLA-DRA</text>
<text x="318.6" y="126.6" font-size="4.3" text-anchor="end" textLength="19.0" lengthAdjust="spacingAndGlyphs" fill="#1a1a1a">C1QTNF4</text>
<text x="318.6" y="130.6" font-size="4.3" text-anchor="end" textLength="10.9" lengthAdjust="spacingAndGlyphs" fill="#1a1a1a">LYL1</text>
<text x="318.6" y="134.6" font-size="4.3" text-anchor="end" textLength="10.9" lengthAdjust="spacingAndGlyphs" fill="#1a1a1a">RTN2</text>
<text x="318.6" y="138.7" font-size="4.3" text-anchor="end" textLength="21.8" lengthAdjust="spacingAndGlyphs" fill="#1a1a1a">HLA-DRB1</text>
<text x="318.6" y="142.7" font-size="4.3" text-anchor="end" textLength="8.2" lengthAdjust="spacingAndGlyphs" fill="#1a1a1a">FTL</text>
<text x="318.6" y="146.7" font-size="4.3" text-anchor="end" textLength="13.6" lengthAdjust="spacingAndGlyphs" fill="#1a1a1a">RPL13</text>
<text x="318.6" y="150.7" font-size="4.3" text-anchor="end" textLength="13.6" lengthAdjust="spacingAndGlyphs" fill="#1a1a1a">GSTP1</text>
<text x="318.6" y="154.7" font-size="4.3" text-anchor="end" textLength="13.6" lengthAdjust="spacingAndGlyphs" fill="#1a1a1a">RPS4X</text>
<text x="318.6" y="158.8" font-size="4.3" text-anchor="end" textLength="13.6" lengthAdjust="spacingAndGlyphs" fill="#1a1a1a">PRDX1</text>
<text x="318.6" y="162.8" font-size="4.3" text-anchor="end" textLength="16.3" lengthAdjust="spacingAndGlyphs" fill="#1a1a1a">RPL10A</text>
<text x="318.6" y="166.8" font-size="4.3" text-anchor="end" textLength="10.9" lengthAdjust="spacingAndGlyphs" fill="#1a1a1a">RPS5</text>
<text x="318.6" y="170.8" font-size="4.3" text-anchor="end" textLength="13.6" lengthAdjust="spacingAndGlyphs" fill="#1a1a1a">RACK1</text>
<text x="318.6" y="174.9" font-size="4.3" text-anchor="end" textLength="8.2" lengthAdjust="spacingAndGlyphs" fill="#1a1a1a">FOS</text>
<text x="318.6" y="178.9" font-size="4.3" text-anchor="end" textLength="10.9" lengthAdjust="spacingAndGlyphs" fill="#1a1a1a">RPSA</text>
<text x="318.6" y="182.9" font-size="4.3" text-anchor="end" textLength="16.3" lengthAdjust="spacingAndGlyphs" fill="#1a1a1a">ZDHHC3</text>
<text x="318.6" y="186.9" font-size="4.3" text-anchor="end" textLength="10.9" lengthAdjust="spacingAndGlyphs" fill="#1a1a1a">CD69</text>
<text x="318.6" y="190.9" font-size="4.3" text-anchor="end" textLength="16.3" lengthAdjust="spacingAndGlyphs" fill="#1a1a1a">CLEC4D</text>
<text x="318.6" y="195.0" font-size="4.3" text-anchor="end" textLength="13.6" lengthAdjust="spacingAndGlyphs" fill="#1a1a1a">RPL7A</text>
<text x="318.6" y="199.0" font-size="4.3" text-anchor="end" textLength="10.9" lengthAdjust="spacingAndGlyphs" fill="#1a1a1a">TPT1</text>
<text x="318.6" y="203.0" font-size="4.3" text-anchor="end" textLength="16.3" lengthAdjust="spacingAndGlyphs" fill="#1a1a1a">CHCHD2</text>
<text x="318.6" y="207.0" font-size="4.3" text-anchor="end" textLength="21.8" lengthAdjust="spacingAndGlyphs" fill="#1a1a1a">ATP6V1G1</text>
<text x="318.6" y="211.0" font-size="4.3" text-anchor="end" textLength="13.6" lengthAdjust="spacingAndGlyphs" fill="#1a1a1a">RAB32</text>
<defs><linearGradient id="expg" x1="0" y1="0" x2="0" y2="1"><stop offset="0" stop-color="#d6281f"/><stop offset="0.25" stop-color="#f29c80"/><stop offset="0.5" stop-color="#faf4f3"/><stop offset="0.75" stop-color="#aca2d6"/><stop offset="1" stop-color="#2d237d"/></linearGradient></defs>
<rect x="479.0" y="104.0" width="6.9" height="31.8" fill="url(#expg)"/>
<text x="487.5" y="109.4" font-size="6.6" fill="#333">2</text>
<text x="487.5" y="115.9" font-size="6.6" fill="#333">1</text>
<text x="487.5" y="122.4" font-size="6.6" fill="#333">0</text>
<text x="487.5" y="129.4" font-size="6.6" fill="#333">−1</text>
<text x="487.5" y="136.2" font-size="6.6" fill="#333">−2</text>
<path fill="none" stroke="#52b6d8" stroke-width="1.30" stroke-linecap="round" d="M75.5 74.0h0M86.7 51.6h0M82.1 63.5h0M65.2 85.3h0M78.9 75.4h0M87.9 50.3h0M74.2 58.4h0M87.0 75.4h0M70.6 71.4h0M73.0 75.5h0M84.9 74.5h0M72.9 87.6h0M94.7 52.1h0M85.3 62.0h0M79.0 96.9h0M90.7 85.1h0M88.7 78.2h0M88.7 81.9h0M90.7 51.0h0M85.3 71.5h0M91.6 73.8h0M67.7 74.5h0M81.2 86.5h0M77.5 72.0h0M72.8 75.4h0M87.7 60.6h0M81.0 70.4h0M85.1 61.2h0M84.5 89.7h0M86.9 91.2h0M91.1 64.6h0M88.3 51.3h0M80.2 80.9h0M78.1 91.3h0M93.2 96.4h0M80.7 59.7h0M82.7 64.5h0M83.2 71.9h0M91.6 54.1h0M76.9 90.9h0M78.1 54.1h0M94.0 64.3h0M93.4 97.5h0M88.1 49.6h0M88.5 71.6h0M87.2 85.4h0M79.5 85.6h0M93.4 60.2h0M80.9 70.1h0M75.3 64.1h0M87.9 68.1h0M64.3 83.8h0M79.3 87.9h0M90.9 74.6h0M79.6 58.8h0M86.5 54.3h0M82.2 49.2h0M87.6 98.4h0M71.8 84.7h0M90.6 54.3h0M80.4 74.4h0M72.0 81.1h0M73.1 76.3h0M82.8 81.0h0M74.4 53.7h0M85.1 81.9h0M82.9 82.3h0M78.8 53.3h0M87.6 68.4h0M80.9 83.4h0M75.1 54.5h0M90.1 96.1h0M79.8 92.3h0M92.4 61.0h0M79.1 85.9h0M84.4 82.5h0M89.3 66.3h0M80.8 59.3h0M81.4 92.3h0M83.4 92.3h0M94.7 87.3h0M71.6 69.2h0M84.1 88.9h0M85.8 54.9h0M81.0 53.7h0M79.3 93.0h0M78.5 79.3h0M71.3 71.9h0M81.5 89.1h0M93.0 84.2h0M93.9 75.6h0M87.4 94.4h0M95.0 49.0h0M73.5 88.9h0M77.4 89.1h0M94.6 97.3h0M85.8 61.2h0M90.8 86.6h0M80.7 81.8h0M86.7 54.3h0M78.8 76.3h0M68.2 63.5h0M85.7 84.9h0M84.2 80.2h0M81.3 74.7h0M74.8 92.2h0M69.0 90.8h0M79.9 63.2h0M93.7 72.5h0M79.1 76.5h0M76.1 61.9h0M94.8 73.8h0M91.0 98.1h0M93.3 58.8h0M86.2 71.6h0M85.6 74.0h0M63.7 71.6h0M87.9 82.0h0M74.5 71.8h0M84.2 87.5h0M87.2 84.9h0M64.5 68.1h0M82.5 60.2h0M82.4 84.4h0M81.2 50.7h0M82.9 75.1h0M85.3 87.8h0M83.3 74.9h0M81.7 86.9h0M87.7 63.9h0M81.6 61.9h0M74.1 54.7h0M88.8 71.2h0M82.7 75.0h0M82.9 77.4h0M79.0 90.0h0M79.5 59.2h0M89.6 64.0h0M68.0 76.6h0M67.3 72.5h0M88.1 78.8h0M69.4 62.8h0M80.1 74.6h0M85.2 75.8h0M74.8 87.1h0M71.2 89.7h0M91.5 76.1h0M73.0 59.1h0M87.6 96.4h0M80.9 85.3h0M69.1 90.7h0M93.2 71.8h0M73.9 61.6h0M68.2 69.6h0M84.7 98.4h0M64.1 71.8h0M84.1 85.7h0M85.0 66.4h0M91.4 91.4h0M78.5 91.0h0M87.6 92.3h0M91.1 53.3h0M85.9 73.8h0M94.2 97.0h0M71.5 83.5h0M92.7 57.5h0M69.4 91.8h0M82.6 86.8h0M68.2 85.6h0M71.3 73.4h0M69.5 89.1h0M94.4 62.9h0M89.2 46.0h0M89.2 87.5h0M87.9 61.2h0M93.8 65.8h0M88.3 56.3h0M76.3 72.6h0M90.3 49.1h0M72.8 70.7h0M92.4 83.2h0M79.8 57.2h0M88.8 78.7h0M93.3 48.7h0M80.8 56.2h0M77.8 94.3h0M63.9 73.3h0M85.5 97.1h0M83.7 70.4h0M83.6 59.4h0M85.8 68.5h0M81.1 80.6h0M77.2 70.5h0M78.4 75.0h0M87.4 57.5h0M81.7 80.0h0M83.5 76.7h0M81.8 72.0h0M81.4 50.8h0M89.5 54.1h0M86.4 90.6h0M91.3 90.9h0M76.4 90.6h0M83.7 54.1h0M83.5 61.3h0M65.7 65.9h0M66.0 76.6h0M85.9 87.9h0M69.5 77.7h0M81.9 73.7h0M74.3 84.1h0M73.9 67.6h0M78.9 53.9h0M85.7 87.8h0M91.4 62.8h0M70.7 71.7h0M77.7 60.2h0M68.4 77.3h0M91.4 59.5h0M68.4 71.0h0M78.4 74.4h0M86.1 49.2h0M80.6 75.0h0M74.8 67.2h0M69.7 71.2h0M87.0 62.1h0M89.9 87.8h0M80.8 78.0h0M70.4 79.4h0M77.3 72.8h0M75.2 88.9h0M94.6 69.6h0M88.8 92.1h0M92.0 61.4h0M71.5 60.1h0M80.2 59.6h0M76.3 86.4h0"/>
<path fill="none" stroke="#6aa9c0" stroke-width="1.30" stroke-linecap="round" d="M100.7 46.7h0M111.7 75.3h0M100.5 67.6h0M117.8 60.5h0M95.4 49.8h0M103.7 73.6h0M108.7 76.7h0M110.1 80.7h0M108.7 54.8h0M111.1 86.0h0M119.7 65.6h0M108.0 54.6h0M103.3 56.9h0M119.4 74.8h0M101.7 71.6h0M108.8 66.1h0M96.7 70.8h0M97.7 78.7h0M105.9 76.7h0M98.0 83.8h0M118.6 62.0h0M109.2 63.0h0M96.1 77.1h0M107.6 66.9h0M118.2 67.0h0M105.0 74.7h0M102.3 63.0h0M96.7 48.5h0M116.1 63.9h0M107.4 72.2h0M102.2 62.0h0M96.7 68.0h0M106.6 83.8h0M95.3 70.1h0M103.9 58.2h0M108.3 66.4h0M108.8 74.7h0M96.2 83.0h0M98.6 54.2h0M99.8 84.1h0M112.5 73.3h0M98.7 57.8h0M110.4 82.6h0M102.8 66.4h0M121.8 65.1h0M111.1 62.9h0M103.4 68.0h0M95.0 52.8h0M112.9 84.2h0M103.0 87.4h0M116.0 80.2h0M108.1 52.5h0M115.8 80.8h0M96.5 66.0h0M102.6 54.2h0M116.3 79.7h0M100.6 60.6h0M118.4 60.0h0M105.2 50.0h0M95.6 83.7h0M95.1 66.8h0M99.9 92.0h0M99.5 75.4h0M110.1 57.8h0M97.7 63.0h0M104.0 58.0h0M95.0 56.1h0M101.0 80.5h0M118.3 75.2h0M108.3 80.9h0M110.8 70.9h0M108.2 59.6h0M102.6 50.4h0M104.8 84.1h0M103.7 62.8h0M99.7 53.7h0M112.2 55.0h0M118.0 62.5h0M99.5 66.4h0M104.8 63.7h0M117.7 78.2h0M113.7 63.6h0M109.4 62.7h0M116.9 62.4h0M112.4 61.4h0M117.8 81.0h0M96.6 67.9h0M110.3 62.9h0M97.3 69.1h0M105.8 87.5h0M100.9 88.6h0M100.3 62.2h0M118.1 69.5h0M114.9 65.4h0M101.8 61.3h0M97.5 81.9h0M100.7 49.1h0M107.7 77.6h0M119.9 61.3h0M119.7 77.3h0M103.5 83.5h0M105.1 71.6h0M105.9 55.9h0M117.7 68.9h0M114.0 63.0h0M105.3 73.3h0M120.6 73.1h0M114.0 68.9h0M119.9 70.4h0M106.2 63.0h0M104.6 48.7h0M101.8 77.4h0M116.3 80.4h0M101.0 75.8h0M101.0 52.9h0M107.4 52.0h0M115.5 60.1h0M102.4 48.5h0M105.1 70.8h0M120.2 65.5h0M101.7 76.0h0M96.2 51.9h0M115.9 82.1h0M98.5 92.1h0M105.1 75.9h0M118.1 65.8h0M110.4 55.3h0M114.5 77.6h0M97.6 92.8h0M110.6 56.9h0M101.8 51.0h0"/>
<path fill="none" stroke="#66c3e0" stroke-width="1.30" stroke-linecap="round" d="M90.6 90.7h0M87.8 84.5h0M65.0 77.2h0M93.0 67.6h0M87.0 76.1h0M81.7 90.5h0M77.6 87.9h0M91.3 49.9h0M91.0 87.6h0M81.8 67.9h0M93.1 46.4h0M79.5 92.0h0M92.7 79.3h0M88.9 83.1h0M82.0 60.7h0M83.7 87.7h0M76.2 90.8h0M88.0 47.8h0M92.7 46.5h0M83.6 74.5h0M70.8 86.4h0M86.8 85.8h0M80.5 72.8h0M86.9 94.3h0M90.0 59.5h0M71.7 78.7h0M66.0 73.8h0M92.6 84.7h0M89.4 70.2h0M74.3 64.1h0M79.9 74.5h0M89.7 95.9h0M80.5 86.0h0M74.0 81.2h0M77.5 94.2h0M71.6 83.9h0M91.0 67.7h0M94.8 96.3h0M88.7 56.5h0M67.9 71.5h0M67.4 81.8h0M83.6 84.4h0M75.2 73.3h0M88.9 72.8h0M79.7 78.9h0M71.6 70.0h0M77.3 60.4h0M84.0 63.3h0M83.6 85.0h0M94.4 89.9h0M80.2 78.3h0M90.7 86.0h0M73.5 87.8h0M64.4 84.1h0M91.6 80.6h0M84.5 92.5h0M72.8 79.2h0M93.2 81.5h0M81.6 78.8h0M91.9 57.6h0M83.8 78.7h0M80.5 59.4h0M84.0 50.3h0M71.7 93.8h0M75.5 78.4h0M80.2 53.2h0M87.4 74.1h0M69.1 61.0h0M76.2 72.0h0M88.6 77.6h0M79.6 81.5h0M71.6 66.6h0M87.8 89.9h0M78.5 81.9h0M90.6 53.6h0M79.5 67.8h0M92.6 46.5h0M81.0 69.8h0M83.0 50.0h0M72.6 65.9h0M72.0 87.0h0M87.8 94.2h0M85.4 70.1h0M68.2 87.2h0M71.0 62.5h0M65.2 68.2h0M87.8 53.0h0M71.7 61.7h0M69.0 87.9h0M79.6 84.2h0M70.3 81.9h0M84.3 76.8h0M91.5 94.7h0M77.0 88.5h0M87.5 66.9h0M79.7 70.7h0M81.8 83.2h0M72.5 92.9h0M69.7 80.1h0M88.2 47.7h0M75.9 53.3h0M77.1 79.7h0M72.3 86.3h0M79.7 54.9h0M94.1 48.0h0M76.7 59.1h0M71.8 63.7h0M87.4 97.8h0M91.9 63.5h0M87.6 72.4h0M78.7 89.3h0M71.9 79.7h0M71.5 63.8h0M75.5 69.9h0M79.2 73.5h0M82.3 80.0h0M79.1 55.7h0M77.0 84.1h0M86.6 82.3h0M73.0 70.0h0M83.1 86.6h0M72.0 61.5h0M88.8 54.9h0M78.8 77.9h0M80.8 50.6h0M77.4 56.0h0M89.3 63.5h0M80.5 56.0h0M81.3 49.5h0M84.1 68.6h0M83.0 64.8h0M75.5 74.6h0M77.7 89.0h0M86.2 53.1h0M91.9 80.9h0M79.7 71.3h0M90.7 85.4h0M73.9 69.7h0M93.2 58.8h0M75.8 76.5h0M82.9 79.2h0M77.3 87.7h0M69.4 92.1h0M91.7 46.1h0M77.3 72.3h0M65.5 66.6h0M75.8 83.4h0M79.9 97.0h0M80.3 54.4h0M74.0 63.6h0M78.4 77.0h0M72.5 72.0h0M82.0 79.5h0M93.9 94.7h0M91.1 87.1h0M80.9 64.6h0M77.4 97.0h0M75.1 83.3h0M90.8 59.2h0M78.9 84.2h0M95.0 54.1h0M85.7 92.6h0M64.1 75.0h0M92.5 97.5h0M64.7 74.2h0M90.2 60.7h0M65.5 74.5h0M88.8 48.1h0M65.9 73.2h0M71.7 71.3h0M81.2 85.4h0M73.1 84.0h0M84.5 65.1h0M92.6 96.8h0M93.4 62.8h0M86.7 55.8h0M75.5 52.6h0M80.4 85.3h0M79.1 70.2h0M72.1 62.2h0M77.6 69.7h0M90.8 94.6h0M81.8 86.6h0M88.1 64.6h0M73.0 57.0h0M80.8 58.3h0M85.2 76.3h0M77.5 70.4h0M70.9 80.3h0M71.9 75.2h0M78.7 86.1h0M94.9 90.2h0M75.2 68.7h0M72.1 81.0h0M85.9 52.3h0M93.0 65.5h0M70.9 83.1h0M91.7 64.7h0M93.5 79.3h0M83.5 75.0h0M80.7 58.3h0M79.6 55.8h0M71.6 94.1h0M84.0 52.5h0M77.7 96.2h0M78.0 55.3h0M64.9 70.5h0M70.8 65.3h0M89.7 82.7h0M67.9 76.8h0M92.2 96.9h0M85.2 85.6h0M89.1 63.4h0M92.6 80.3h0M75.2 70.7h0M86.3 72.0h0M71.4 81.0h0M84.0 65.8h0M82.3 89.1h0M86.2 93.6h0M78.5 61.5h0M82.5 82.0h0M67.4 64.5h0M86.7 97.4h0M80.6 93.6h0M73.8 55.3h0M84.1 71.9h0M68.6 85.8h0M93.5 71.3h0M73.9 78.7h0M86.3 50.3h0M85.4 59.8h0M78.9 76.0h0M90.2 84.8h0M86.9 85.9h0M89.8 73.0h0M86.0 51.7h0M80.0 81.0h0M90.0 96.0h0M90.5 80.6h0M85.0 54.9h0M80.4 67.1h0M82.4 83.8h0M68.0 68.2h0M79.2 96.4h0M72.5 81.2h0M87.0 67.3h0M84.3 89.9h0M93.5 65.0h0M79.6 61.3h0M73.6 63.0h0"/>
<path fill="none" stroke="#5fb6d2" stroke-width="1.30" stroke-linecap="round" d="M120.2 65.2h0M99.6 58.9h0M103.1 72.9h0M99.3 87.6h0M113.4 74.8h0M116.2 60.9h0M96.0 75.8h0M102.7 51.7h0M105.9 65.3h0M104.9 68.0h0M100.5 62.7h0M100.9 51.5h0M107.9 82.8h0M103.8 79.9h0M122.4 73.5h0M118.7 72.0h0M105.3 75.1h0M116.5 72.4h0M108.1 86.9h0M96.4 65.3h0M115.3 76.1h0M104.8 67.1h0M109.4 65.3h0M102.5 49.1h0M100.4 89.9h0M96.2 67.3h0M99.7 57.8h0M97.0 77.8h0M116.0 67.5h0M115.8 59.1h0M105.4 64.5h0M121.1 73.2h0M107.1 85.9h0M120.6 62.2h0M104.9 79.6h0M96.5 89.7h0M115.2 64.5h0M111.7 72.6h0M105.2 52.3h0M97.6 92.0h0M96.6 80.9h0M100.2 87.3h0M108.9 86.1h0M107.3 56.1h0M100.0 55.9h0M108.3 52.8h0M120.5 61.2h0M105.6 58.2h0M113.3 75.1h0M100.5 79.3h0M118.1 66.0h0M102.1 56.3h0M109.3 65.5h0M109.4 53.1h0M101.4 64.0h0M116.8 60.3h0M120.3 71.8h0M95.1 65.5h0M98.2 73.6h0M108.4 52.9h0M106.8 72.6h0M102.1 72.8h0M119.2 67.0h0M110.7 57.1h0M119.7 72.5h0M108.3 82.3h0M114.5 67.5h0M106.9 82.6h0M104.0 84.7h0M121.4 73.6h0M107.4 63.3h0M102.6 83.4h0M98.7 55.4h0M112.4 56.0h0M101.2 57.3h0M116.4 73.8h0M102.0 88.0h0M95.5 52.9h0M114.4 69.6h0M105.0 57.3h0M98.4 50.0h0M108.6 65.4h0M104.8 84.5h0M97.6 63.6h0M105.0 56.0h0M100.6 70.5h0M101.5 57.6h0M118.6 71.0h0M115.1 58.2h0M100.0 46.2h0M111.9 60.6h0M100.9 48.0h0M112.3 63.9h0M98.2 71.1h0M96.2 91.5h0M100.3 88.8h0M121.8 66.8h0M109.4 56.9h0M114.3 70.0h0M97.5 47.7h0M121.5 69.7h0M110.1 60.9h0M103.0 58.6h0M95.4 74.1h0M101.0 49.3h0M103.4 79.2h0M109.1 65.8h0"/>
<path fill="none" stroke="#78cae4" stroke-width="1.30" stroke-linecap="round" d="M79.6 71.9h0M94.7 66.2h0M63.9 78.8h0M84.0 78.8h0M68.5 71.5h0M80.5 90.7h0M82.1 90.2h0M91.7 75.5h0M82.8 79.9h0M94.5 64.5h0M67.9 91.1h0M76.1 86.8h0M94.9 67.1h0M75.7 65.2h0M91.3 53.8h0M71.4 85.2h0M66.0 82.4h0M89.2 94.1h0M73.6 91.5h0M88.9 54.7h0M69.1 90.4h0M88.9 58.9h0M85.5 59.1h0M83.0 97.2h0M88.0 92.4h0M88.3 54.2h0M82.3 76.5h0M85.3 53.1h0M87.6 53.1h0M66.1 86.4h0M87.5 64.1h0M91.2 82.0h0M87.8 88.8h0M91.5 85.1h0M74.9 66.7h0M80.1 72.7h0M93.0 78.9h0M83.5 71.5h0M76.6 93.4h0M76.3 73.4h0M74.1 76.5h0M75.7 94.7h0M88.0 55.3h0M88.6 46.1h0M91.9 90.4h0M77.3 64.0h0M73.7 86.2h0M79.0 90.5h0M85.3 97.8h0M79.4 85.0h0M71.6 82.9h0M90.5 60.4h0M75.6 61.7h0M92.4 82.0h0M83.2 58.8h0M69.9 60.9h0M92.6 86.6h0M79.8 54.8h0M72.7 89.0h0M83.2 95.7h0M78.5 68.7h0M67.9 77.6h0M77.9 57.1h0M76.1 90.0h0M72.3 76.3h0M76.8 85.5h0M77.8 55.8h0M78.5 52.9h0M82.2 71.0h0M78.0 60.4h0M83.1 75.2h0M88.7 85.5h0M79.9 53.6h0M83.2 61.8h0M94.3 45.4h0M88.5 53.1h0M72.2 57.4h0M86.8 52.6h0M92.8 77.0h0M80.1 66.9h0M65.1 65.8h0M73.7 90.0h0M89.9 95.5h0M89.0 92.0h0M69.6 69.2h0M72.4 74.6h0M78.8 54.9h0M84.9 64.9h0M71.4 63.8h0M82.8 88.6h0M87.4 68.8h0M70.4 78.0h0M81.4 51.2h0M71.9 93.6h0M74.3 87.3h0M79.7 68.1h0M80.0 85.4h0M83.8 70.0h0M72.5 91.2h0M81.9 51.4h0M85.7 87.9h0M70.7 60.8h0M79.1 55.5h0M81.9 51.9h0M78.5 82.7h0M79.6 87.3h0M76.9 52.4h0M92.8 48.8h0M86.2 55.1h0M70.4 67.6h0M79.7 88.7h0M86.4 83.7h0M77.2 80.6h0M93.1 97.5h0M82.3 51.6h0M78.9 77.4h0M64.9 70.8h0M76.0 56.3h0M89.3 46.1h0M90.5 70.2h0M77.5 81.1h0M73.3 77.3h0M90.9 82.3h0M76.1 83.6h0M82.9 69.5h0M83.4 63.5h0M93.2 63.0h0M91.2 90.0h0M93.5 48.1h0M79.7 67.7h0M82.7 63.7h0M81.8 55.9h0M88.7 97.3h0M74.7 66.9h0M82.9 62.1h0M81.5 74.2h0M74.1 71.0h0M89.6 83.5h0M85.7 71.2h0M69.3 70.8h0M81.2 97.8h0M70.7 82.6h0M86.2 70.9h0M75.4 93.0h0M89.4 70.5h0M91.2 46.8h0M78.4 67.8h0M84.8 94.0h0M94.0 94.4h0M63.5 78.4h0M73.9 83.2h0M85.3 97.3h0M74.0 87.3h0M91.5 57.6h0M73.3 60.7h0M74.9 66.8h0M67.6 85.1h0M93.0 80.6h0M90.5 83.1h0M85.7 84.2h0M86.8 91.5h0M86.0 79.2h0M84.6 87.9h0M66.9 64.7h0M89.1 55.2h0M83.0 74.6h0M92.6 96.0h0M73.9 77.8h0M90.4 47.2h0M73.6 70.5h0M90.2 57.2h0M81.4 86.4h0M70.5 72.1h0M79.9 59.9h0M70.8 57.7h0M75.7 93.7h0M81.7 50.3h0M82.4 58.7h0M80.7 72.5h0M68.9 86.2h0M79.0 65.3h0M83.8 74.6h0M80.0 89.6h0M72.8 67.1h0M87.9 60.2h0M72.8 61.8h0M92.3 95.7h0M76.0 71.8h0M80.1 83.5h0M70.3 66.9h0M82.6 65.6h0M88.8 52.3h0M93.1 61.6h0M91.7 58.0h0M93.8 62.1h0M79.7 59.4h0M81.4 85.6h0M74.0 58.3h0M87.7 96.9h0M67.1 71.4h0M69.3 74.6h0M83.8 66.1h0M76.7 67.5h0M79.1 79.2h0M94.3 93.0h0M84.2 64.5h0M70.0 68.6h0M65.0 66.3h0M74.7 56.7h0M87.8 86.7h0M77.0 67.2h0M91.9 47.6h0M85.8 57.1h0M88.3 67.8h0M65.3 64.5h0M69.4 82.5h0M74.2 56.7h0M81.4 71.1h0M63.7 79.1h0M92.4 68.7h0M94.2 46.2h0M82.6 79.0h0M70.5 68.2h0M77.0 65.2h0M77.9 54.8h0M90.2 89.8h0M81.6 71.5h0M71.1 61.5h0M92.6 96.4h0M85.9 85.5h0M84.8 77.7h0M83.0 56.8h0M87.5 54.3h0M89.8 67.2h0M80.7 73.1h0M94.0 81.3h0M94.7 95.7h0M84.2 82.0h0M88.2 64.1h0M86.7 94.6h0M73.5 56.3h0M71.8 82.1h0M69.9 84.1h0M72.4 85.8h0M80.8 58.7h0M86.7 75.2h0M80.3 66.5h0M75.0 68.7h0M93.6 54.9h0M69.4 93.0h0M91.4 63.5h0M65.2 84.3h0M90.4 76.1h0M77.1 93.2h0M63.4 74.9h0M78.5 81.7h0M69.9 83.6h0M71.7 83.7h0M76.8 54.0h0"/>
<path fill="none" stroke="#8fc6d8" stroke-width="1.30" stroke-linecap="round" d="M97.0 83.7h0M120.9 67.9h0M103.1 72.6h0M115.5 56.8h0M102.5 88.9h0M102.0 84.6h0M106.8 63.9h0M108.4 58.7h0M116.9 64.2h0M97.3 74.3h0M101.0 89.6h0M98.4 55.5h0M110.1 84.2h0M104.5 48.9h0M98.9 47.8h0M103.0 73.1h0M116.1 68.5h0M98.0 81.6h0M108.6 59.6h0M103.4 57.1h0M103.9 60.4h0M108.6 54.7h0M110.7 77.6h0M110.9 65.6h0M102.0 87.1h0M107.9 62.8h0M102.5 83.1h0M96.9 94.3h0M115.0 72.4h0M114.0 74.6h0M119.5 67.5h0M102.7 89.4h0M95.5 48.8h0M99.9 75.3h0M104.9 87.6h0M117.8 73.3h0M114.1 82.6h0M122.2 68.5h0M114.0 81.4h0M104.0 49.7h0M112.9 64.6h0M108.9 76.7h0M109.9 56.6h0M96.9 79.4h0M108.6 66.8h0M102.2 80.8h0M107.5 51.3h0M117.4 59.4h0M116.9 68.8h0M99.3 57.7h0M96.9 85.2h0M114.5 59.7h0M95.5 57.6h0M97.9 77.5h0M102.5 90.4h0M96.1 62.6h0M109.7 64.2h0M101.8 66.6h0M107.2 62.8h0M97.7 69.2h0M102.0 67.5h0M101.1 63.8h0M96.0 88.2h0M95.5 94.6h0M112.7 73.3h0M103.1 71.8h0M115.6 75.3h0M96.3 71.9h0M114.1 75.1h0M110.3 72.8h0M110.9 71.3h0M114.9 77.5h0M96.5 89.3h0M111.0 64.7h0M115.7 65.7h0M117.8 74.5h0M97.2 92.7h0M96.3 76.6h0M122.9 73.4h0M96.2 88.9h0M105.2 88.9h0M119.2 68.7h0M112.2 64.0h0M114.5 72.6h0M99.8 71.9h0M104.0 59.1h0M113.9 58.2h0M114.3 61.2h0M114.6 84.4h0M107.4 63.0h0M104.3 84.7h0M117.9 64.3h0M98.1 53.2h0M106.7 65.7h0M116.5 66.4h0M101.0 73.1h0M100.7 84.6h0M102.0 81.8h0M99.3 56.8h0M96.1 77.0h0M109.3 55.8h0M104.7 68.7h0M106.7 56.0h0M105.3 71.8h0M112.9 54.6h0M96.6 83.7h0M107.8 83.3h0M106.4 89.0h0M97.6 92.7h0M102.1 84.0h0M115.6 67.8h0M107.1 51.1h0M105.7 70.0h0M104.8 65.9h0M110.8 66.6h0M98.6 56.7h0M100.1 89.4h0M108.3 77.2h0M108.0 64.2h0M102.1 61.8h0M112.7 83.0h0M106.9 53.3h0M113.4 68.7h0M105.8 74.2h0M99.2 70.0h0M101.1 58.4h0M116.2 71.0h0"/>
<path fill="none" stroke="#5cbddc" stroke-width="1.30" stroke-linecap="round" d="M84.5 92.6h0M77.2 87.9h0M75.5 53.7h0M77.8 93.7h0M76.1 78.2h0M90.7 87.3h0M93.5 70.9h0M68.9 78.4h0M89.4 84.8h0M89.8 60.8h0M69.9 76.6h0M83.4 56.3h0M88.4 86.1h0M86.2 61.1h0M65.8 78.2h0M75.4 91.1h0M69.9 79.7h0M85.9 90.1h0M82.5 77.4h0M73.4 73.7h0M91.5 87.1h0M79.0 96.2h0M78.2 52.6h0M88.2 53.4h0M70.9 58.2h0M71.6 75.7h0M83.8 55.2h0M79.4 59.4h0M81.1 95.0h0M85.5 48.0h0M83.3 49.7h0M78.3 82.8h0M80.1 75.1h0M93.3 97.8h0M91.0 54.6h0M92.4 78.7h0M85.1 98.6h0M75.5 85.6h0M82.3 52.7h0M84.4 63.6h0M71.4 88.3h0M74.4 62.0h0M67.7 64.0h0M90.9 56.7h0M83.6 73.6h0M76.0 94.4h0M89.2 86.9h0M76.7 82.3h0M91.9 85.8h0M68.9 66.0h0M92.7 65.7h0M75.6 61.8h0M70.2 90.7h0M71.3 87.9h0M94.6 60.8h0M89.1 47.8h0M73.2 64.2h0M88.1 49.2h0M70.3 73.6h0M91.7 95.0h0M69.3 63.7h0M88.8 83.5h0M86.4 86.0h0M94.9 56.1h0M73.2 76.4h0M84.3 83.4h0M94.9 52.2h0M64.7 70.4h0M69.4 63.3h0M93.8 62.9h0M93.4 84.9h0M69.7 73.5h0M90.7 77.7h0M74.1 78.6h0M81.9 75.4h0M92.6 50.2h0M79.3 64.4h0M84.3 63.0h0M91.4 79.9h0M75.3 53.7h0M69.1 76.1h0M84.7 73.2h0M83.1 48.6h0M76.2 88.1h0M91.3 69.5h0M74.7 67.0h0M85.7 68.3h0M86.2 63.3h0M79.4 94.9h0M65.8 70.4h0M86.2 95.3h0M71.4 92.7h0M69.7 80.8h0M86.6 48.6h0M68.0 88.8h0M74.8 60.6h0M81.7 61.9h0M72.5 89.0h0M90.3 58.4h0M67.2 71.5h0M89.5 76.1h0M92.8 61.7h0M89.3 75.5h0M67.8 69.7h0M81.4 49.4h0M92.1 73.9h0M95.0 79.0h0M86.7 47.7h0M85.4 76.8h0M93.8 83.5h0M85.1 70.0h0M78.2 62.8h0M79.5 88.9h0M82.4 51.0h0M85.1 54.8h0M87.6 77.5h0M93.1 56.8h0M90.8 82.3h0M84.5 82.3h0M79.1 73.6h0M93.4 60.6h0M89.9 54.5h0M81.6 95.8h0M88.9 73.3h0M91.8 62.6h0M85.6 62.4h0M83.3 88.0h0M77.2 94.6h0M88.4 93.3h0M66.7 64.2h0M85.6 91.8h0M87.2 95.7h0M66.3 81.5h0M75.1 71.9h0M81.8 91.8h0M82.1 91.8h0M91.8 55.5h0M72.6 75.4h0M85.1 98.5h0M81.9 73.0h0M85.9 47.5h0M82.3 80.0h0M82.2 74.0h0M87.0 79.3h0M75.5 91.5h0M72.7 66.5h0M86.5 63.5h0M67.8 86.0h0M72.1 69.1h0M71.1 77.1h0M93.0 83.4h0M87.7 48.6h0M77.9 52.9h0M77.2 63.4h0M81.5 53.8h0M91.7 97.7h0M82.8 59.9h0M89.9 98.5h0M78.3 94.4h0M66.4 72.0h0M87.0 85.0h0M87.5 92.2h0M80.0 87.8h0M78.0 75.7h0M83.1 95.4h0M84.5 87.2h0M82.1 50.8h0M69.7 66.0h0M91.4 47.3h0M84.6 98.4h0M65.5 66.4h0M83.8 53.9h0M85.6 91.5h0M81.8 97.3h0M91.7 48.9h0M75.2 74.2h0M71.7 66.0h0M72.2 56.7h0M78.9 60.3h0M89.0 81.3h0M65.4 71.5h0M74.9 86.6h0M93.6 58.8h0M72.4 77.3h0M92.8 89.1h0M80.7 72.9h0M76.7 58.4h0M76.6 71.6h0M69.2 89.0h0M71.6 68.7h0M88.3 74.8h0M77.1 62.3h0M66.9 63.3h0M85.5 83.6h0M91.7 79.7h0M94.2 96.9h0M68.2 82.3h0M91.0 61.5h0M87.0 54.0h0M76.1 88.3h0M93.5 66.3h0M84.6 73.4h0M68.2 66.9h0M64.9 71.2h0M63.8 77.5h0M68.0 86.7h0M93.3 57.7h0M68.3 72.9h0M90.4 73.1h0M77.6 79.1h0M94.0 68.2h0M74.8 54.2h0M93.4 87.6h0M70.7 76.1h0M78.5 79.7h0M80.2 64.0h0M67.8 81.7h0M89.8 87.2h0M68.6 70.3h0M75.6 66.1h0M81.5 65.2h0M70.9 67.1h0M81.2 85.2h0M72.7 80.0h0M77.3 56.7h0M75.4 61.7h0M93.0 54.1h0M63.9 70.2h0M79.6 92.9h0M83.3 73.3h0M91.7 62.0h0M80.3 51.6h0M67.6 76.0h0M69.9 92.2h0M78.5 87.3h0M64.1 73.6h0"/>
<path fill="none" stroke="#79bfd6" stroke-width="1.30" stroke-linecap="round" d="M97.6 88.5h0M96.7 90.2h0M98.1 91.9h0M122.4 69.6h0M102.1 87.3h0M101.9 85.3h0M117.8 80.4h0M102.2 66.9h0M111.9 74.0h0M106.5 85.2h0M98.8 55.8h0M120.0 63.7h0M111.3 73.5h0M120.5 73.5h0M95.5 48.3h0M112.9 77.4h0M95.7 77.8h0M113.7 61.9h0M115.8 78.9h0M107.6 54.8h0M99.4 83.0h0M98.1 65.1h0M103.5 77.4h0M95.9 80.8h0M97.8 78.5h0M99.8 70.0h0M101.9 89.5h0M113.8 73.0h0M106.5 64.9h0M104.1 59.6h0M118.3 75.1h0M114.4 67.2h0M122.0 75.7h0M107.1 65.8h0M101.3 57.2h0M102.9 66.1h0M109.8 82.8h0M103.7 59.7h0M103.9 73.9h0M116.0 61.4h0M116.0 77.4h0M100.2 62.8h0M104.2 74.1h0M96.8 47.5h0M102.7 74.9h0M103.8 51.7h0M107.2 67.3h0M110.8 78.2h0M106.1 81.4h0M117.6 81.1h0M113.0 70.3h0M99.0 72.3h0M111.1 87.1h0M120.2 67.7h0M98.3 48.9h0M113.5 83.8h0M100.6 58.5h0M95.8 71.1h0M103.4 59.8h0M100.6 59.2h0M103.6 62.9h0M107.5 55.4h0M95.1 93.1h0M112.7 62.2h0M106.2 66.9h0M95.9 86.1h0M101.4 51.5h0M117.7 79.7h0M114.9 58.7h0M120.8 65.5h0M119.5 73.6h0M95.9 92.9h0M99.4 92.1h0M112.7 62.8h0M116.4 76.7h0M101.7 66.4h0M110.5 71.3h0M107.8 84.4h0M106.4 56.6h0M115.0 59.1h0M108.6 55.4h0M102.0 64.9h0M118.2 60.5h0M98.1 64.7h0M105.3 76.7h0M107.0 50.9h0M95.4 62.6h0M95.2 60.7h0M109.0 64.3h0M102.1 58.2h0M107.9 62.4h0M97.1 75.9h0M106.0 71.8h0M113.4 54.8h0M98.8 52.0h0M103.0 87.3h0M99.2 62.3h0M115.6 60.6h0M95.8 77.5h0M96.6 47.0h0M119.0 69.7h0M109.8 73.4h0M112.1 66.0h0M118.8 74.6h0M105.6 56.2h0M106.6 57.9h0M100.3 47.8h0M101.6 77.5h0M95.6 74.2h0M96.3 73.4h0M103.8 86.8h0M117.3 72.8h0M109.4 62.6h0M104.4 81.8h0M113.9 81.7h0M110.1 57.9h0M122.3 72.7h0M120.0 68.6h0M106.9 57.2h0M102.5 64.8h0"/>
<path fill="none" stroke="#e7b3a8" stroke-width="1.30" stroke-linecap="round" d="M62.9 92.3h0M63.3 85.2h0M66.7 94.9h0M64.7 87.8h0M69.4 84.3h0M60.8 77.4h0M66.7 92.4h0M66.2 79.7h0M67.4 77.9h0M63.0 87.2h0M68.7 83.2h0M64.9 94.2h0M72.2 86.5h0M67.4 76.7h0M67.7 95.9h0M64.0 94.4h0M67.9 88.1h0M60.0 81.3h0M72.7 79.8h0"/>
<path fill="none" stroke="#e39a88" stroke-width="1.30" stroke-linecap="round" d="M69.1 93.4h0M63.2 83.9h0M73.0 76.0h0M67.3 86.1h0M67.8 75.5h0M70.7 88.5h0M66.9 79.9h0M61.9 91.9h0M66.6 83.6h0M68.9 79.3h0M69.8 86.2h0M65.4 86.9h0M73.0 84.6h0M64.1 88.9h0M69.8 80.9h0"/>
<path fill="none" stroke="#d9705a" stroke-width="1.30" stroke-linecap="round" d="M60.4 81.1h0M63.0 89.3h0M68.6 80.5h0M59.7 83.3h0M69.5 84.6h0M58.2 83.2h0M68.7 85.3h0M67.4 76.8h0M67.8 85.3h0M66.6 85.9h0M61.9 89.0h0M59.9 84.6h0M64.1 87.8h0M65.0 85.6h0M69.5 83.5h0M61.9 88.9h0M66.7 78.9h0M63.1 83.0h0"/>
<path fill="none" stroke="#c8503c" stroke-width="1.30" stroke-linecap="round" d="M73.1 88.6h0M59.5 85.0h0M69.4 79.5h0M55.7 95.3h0M70.2 83.0h0M69.7 81.9h0M65.4 86.5h0M63.5 81.1h0M64.4 86.6h0M59.9 81.1h0M69.9 82.1h0M61.1 78.6h0M65.6 81.1h0M70.0 86.6h0M63.6 75.5h0"/>
<path fill="none" stroke="#a9c0c8" stroke-width="1.30" stroke-linecap="round" d="M87.9 96.7h0M87.9 99.1h0M94.9 96.4h0M89.0 96.3h0M84.2 96.4h0M83.4 96.1h0M94.8 97.9h0M93.2 96.5h0M89.7 96.7h0M84.0 99.1h0M91.0 96.3h0M84.8 97.9h0M86.8 99.8h0M91.1 98.4h0M86.0 98.4h0M89.7 96.1h0M91.2 96.5h0M87.1 97.8h0M83.5 96.5h0M86.1 97.4h0M84.4 97.4h0M88.4 97.2h0M91.6 96.2h0M92.0 96.4h0M88.6 99.5h0"/>
<path fill="none" stroke="#52b6d8" stroke-width="1.40" stroke-linecap="round" d="M219.3 74.9h0M226.7 91.2h0M216.4 82.9h0M209.3 89.2h0M223.7 82.1h0M208.1 72.2h0M224.1 68.6h0M226.3 60.6h0M208.8 73.6h0M211.9 93.2h0M210.8 60.3h0M210.3 65.8h0M220.6 58.0h0M210.7 64.6h0M223.7 84.4h0M213.6 46.6h0M203.4 64.3h0M222.5 86.7h0M215.0 79.6h0M218.1 65.1h0M205.1 84.7h0M209.1 99.8h0M209.4 50.7h0M206.8 71.6h0M210.5 64.2h0M223.7 91.1h0M204.1 94.3h0M218.2 89.5h0M210.4 48.1h0M213.1 53.0h0M226.4 80.4h0M203.7 52.7h0M206.5 92.1h0M220.8 86.8h0M227.3 69.8h0M214.5 84.8h0M222.1 57.8h0M210.3 95.1h0M213.1 83.0h0M217.1 88.3h0M219.5 93.0h0M200.1 89.8h0M228.0 69.2h0M204.3 67.1h0M204.3 63.1h0M221.9 70.0h0M208.7 74.4h0M217.6 71.6h0M226.2 53.9h0M209.8 88.6h0M214.1 95.1h0M208.6 94.7h0M221.0 80.1h0M218.4 62.3h0M217.5 53.7h0M215.2 86.6h0M216.6 50.0h0M212.4 79.2h0M211.9 95.7h0M210.2 68.4h0M204.9 86.1h0M207.5 68.2h0M208.8 94.5h0M227.1 63.6h0M219.8 94.7h0M222.6 87.1h0M212.5 48.8h0M216.4 92.7h0M214.7 59.1h0M205.2 63.7h0M211.8 81.8h0M214.7 87.6h0M216.3 69.0h0M205.7 68.4h0M216.3 60.2h0M201.9 61.0h0M219.3 61.4h0M217.9 56.2h0M199.1 99.2h0M213.4 84.3h0M206.0 87.2h0M213.0 68.4h0M218.0 83.4h0M227.4 87.0h0M208.3 68.3h0M220.7 84.5h0M218.7 50.4h0M214.9 88.6h0M209.4 58.8h0M216.3 78.6h0M212.1 89.7h0M221.4 55.9h0M208.1 61.5h0M221.7 55.9h0M199.9 86.6h0M218.1 76.0h0M207.1 90.6h0M217.1 72.1h0M205.9 75.1h0M219.9 53.4h0M221.0 70.9h0M206.0 54.3h0M207.5 63.8h0M227.0 89.1h0M219.6 59.7h0M211.6 54.7h0M220.4 68.4h0M218.8 93.2h0M213.2 99.2h0M210.3 81.0h0M218.2 70.7h0M218.2 49.8h0M192.8 65.1h0M225.9 77.1h0M208.1 64.6h0M214.6 97.9h0M219.0 52.1h0M218.0 72.7h0M221.7 90.7h0M227.5 79.6h0M204.0 63.4h0M199.8 71.4h0M218.6 88.9h0M213.9 100.0h0M209.1 78.9h0M206.3 60.9h0M217.1 79.2h0M223.3 72.5h0M202.1 50.3h0M207.9 77.0h0M217.0 65.7h0M216.8 74.3h0M213.1 56.9h0M205.1 89.7h0M209.0 66.2h0M211.8 89.2h0M227.3 89.1h0M215.0 52.3h0M209.0 53.1h0M217.5 70.7h0M214.0 71.6h0M217.1 70.2h0M210.3 83.6h0M212.0 86.5h0M218.7 98.9h0M210.5 97.6h0M216.3 74.2h0M223.6 57.3h0M214.0 64.8h0M223.6 77.9h0M221.8 90.4h0M201.1 77.3h0M224.8 82.2h0M219.8 75.8h0M211.8 90.0h0M216.0 91.8h0M224.9 63.4h0M217.1 63.6h0M212.3 54.2h0M210.5 65.3h0M215.7 78.4h0M205.5 60.0h0M206.1 77.5h0M224.9 92.6h0M226.1 57.4h0M215.6 70.8h0M218.5 64.6h0M221.9 91.8h0M201.2 60.3h0M222.5 67.1h0M224.2 58.5h0M227.0 55.7h0M205.5 100.8h0M222.3 81.4h0M221.1 53.9h0M201.2 56.3h0M206.1 78.6h0M199.1 70.5h0M213.8 52.6h0M206.4 70.4h0M205.7 57.4h0M205.9 71.4h0M199.1 59.7h0M211.2 47.6h0M206.7 65.6h0M225.9 72.4h0M206.2 51.5h0M220.1 91.8h0M208.6 94.3h0M201.0 93.9h0M204.8 57.1h0M223.7 89.8h0M216.0 75.4h0M220.8 67.3h0M206.7 89.7h0M218.1 93.4h0M216.1 64.6h0M207.6 64.5h0M219.3 87.5h0M226.9 66.9h0M215.0 88.0h0M210.8 86.4h0M212.4 64.8h0M203.2 57.3h0M225.4 81.2h0M219.1 54.6h0M208.4 97.3h0M209.7 99.7h0M204.6 78.9h0M221.2 83.5h0M211.5 71.4h0M214.5 80.9h0M216.7 84.8h0M225.5 56.9h0M207.2 80.7h0M205.0 46.4h0M221.9 58.4h0M214.7 67.2h0M220.3 83.6h0M210.6 93.7h0M208.8 45.5h0M219.6 80.7h0M227.8 73.5h0M222.2 72.9h0M220.9 57.0h0M217.9 51.6h0M200.8 53.0h0M225.5 87.5h0"/>
<path fill="none" stroke="#7cc0d8" stroke-width="1.40" stroke-linecap="round" d="M191.4 69.3h0M192.8 59.2h0M178.7 78.8h0M207.4 94.3h0M196.8 52.1h0M179.8 70.7h0M184.1 74.8h0M186.6 60.0h0M202.1 79.2h0M183.5 62.8h0M194.2 72.0h0M202.4 69.5h0M198.3 82.0h0M194.0 84.0h0M193.8 85.1h0M192.0 52.2h0M196.8 85.6h0M201.2 78.0h0M203.9 51.2h0M188.9 65.1h0M200.3 55.7h0M190.4 76.8h0M190.3 54.5h0M203.3 89.1h0M197.3 51.6h0M199.6 54.4h0M202.4 99.4h0M205.2 60.7h0M176.8 65.1h0M185.7 61.2h0M189.6 79.6h0M200.7 80.1h0M196.4 48.3h0M196.4 61.1h0M186.3 71.9h0M198.9 75.2h0M203.3 46.4h0M196.9 53.2h0M201.5 84.6h0M173.6 74.7h0M197.8 79.8h0M192.2 60.8h0M199.0 64.9h0M203.5 75.1h0M195.9 61.4h0M204.5 65.5h0M192.6 54.8h0M200.0 91.3h0M182.9 78.2h0M194.6 66.4h0M193.8 67.8h0M193.0 86.5h0M179.0 62.9h0M179.5 64.7h0M198.1 55.3h0M194.6 56.7h0M192.7 81.8h0M190.6 58.0h0M187.7 80.9h0M195.6 77.5h0M185.4 62.9h0M188.4 92.0h0M206.2 54.1h0"/>
<path fill="none" stroke="#5cbddc" stroke-width="1.40" stroke-linecap="round" d="M211.1 101.3h0M208.5 76.5h0M223.7 67.5h0M214.3 83.6h0M218.8 77.9h0M211.2 82.4h0M210.7 99.0h0M214.4 88.9h0M205.8 98.3h0M205.0 95.0h0M207.2 75.9h0M211.0 62.4h0M208.6 54.9h0M220.2 49.5h0M224.0 53.1h0M197.8 67.6h0M210.4 47.6h0M209.6 65.8h0M207.4 94.1h0M217.2 73.8h0M220.6 74.3h0M205.8 83.5h0M213.3 93.4h0M212.6 66.6h0M206.8 98.0h0M227.8 72.4h0M224.2 69.3h0M206.9 46.4h0M222.8 90.7h0M209.9 98.0h0M198.4 90.0h0M226.0 87.8h0M212.5 49.1h0M219.9 87.4h0M225.9 74.6h0M219.9 82.0h0M198.8 94.5h0M210.8 52.3h0M206.5 80.6h0M211.3 63.4h0M201.5 70.4h0M225.3 84.6h0M226.3 93.1h0M207.6 70.4h0M213.9 88.3h0M199.3 63.6h0M208.0 58.1h0M217.9 65.7h0M226.7 62.0h0M221.2 52.2h0M225.2 74.2h0M225.2 86.0h0M216.4 51.6h0M216.8 89.1h0M226.2 74.9h0M225.3 67.7h0M198.6 96.1h0M209.4 67.7h0M204.8 78.9h0M220.9 78.5h0M219.4 92.2h0M209.9 91.9h0M220.4 59.9h0M212.8 69.1h0M220.8 90.2h0M220.3 52.7h0M220.0 50.1h0M210.3 90.4h0M223.5 61.7h0M214.1 96.3h0M220.9 85.9h0M209.2 93.5h0M217.8 95.3h0M196.6 88.8h0M210.7 77.0h0M207.3 56.8h0M221.8 63.7h0M215.6 74.2h0M223.2 84.7h0M199.7 96.2h0M210.5 72.9h0M214.9 56.2h0M217.5 60.8h0M218.3 98.3h0M203.5 68.2h0M218.5 73.6h0M219.6 65.1h0M206.7 71.9h0M201.3 66.4h0M209.6 88.8h0M210.2 64.6h0M221.0 53.5h0M220.7 76.5h0M219.0 75.5h0M221.2 82.7h0M224.6 91.5h0M226.0 55.4h0M207.6 92.6h0M204.9 71.0h0M217.0 98.8h0M212.0 70.6h0M224.9 60.1h0M205.8 90.2h0M221.1 72.4h0M207.3 90.1h0M224.4 71.4h0M218.9 74.7h0M197.3 91.0h0M227.9 90.1h0M214.9 81.7h0M209.4 54.9h0M218.2 78.3h0M214.8 90.3h0M224.1 81.2h0M214.1 75.0h0M216.6 81.5h0M213.4 83.5h0M217.6 69.9h0M214.7 80.1h0M205.1 84.7h0M213.2 96.5h0M222.2 86.1h0M206.8 72.1h0M209.1 52.8h0M218.8 71.6h0M209.6 80.6h0M215.1 49.2h0M214.2 72.9h0M215.9 69.2h0M213.4 74.6h0M222.2 78.8h0M216.1 63.0h0M209.4 64.9h0M218.2 99.2h0M213.3 99.4h0M211.8 63.0h0M205.7 54.5h0M212.6 96.2h0M216.9 90.2h0M215.2 63.2h0M204.2 77.0h0M214.6 47.4h0M211.5 68.5h0M212.3 96.4h0M203.7 73.4h0M211.1 71.5h0M221.6 84.2h0M217.2 91.7h0M227.9 64.7h0M215.6 47.2h0M209.2 45.6h0M225.1 86.4h0M203.9 97.9h0M207.8 85.4h0M227.0 58.7h0M207.8 83.5h0M208.2 53.2h0M208.8 45.8h0M211.9 84.8h0M226.1 74.4h0M207.2 69.6h0M218.6 53.2h0M203.3 94.7h0M219.9 86.0h0M212.2 50.3h0M213.6 71.9h0M208.6 67.2h0M225.5 55.5h0M211.0 56.5h0M218.8 78.0h0M201.6 93.2h0M210.1 70.0h0M209.1 76.0h0M214.6 97.7h0M205.1 98.3h0M222.2 69.1h0M226.8 69.2h0M213.3 90.1h0M209.2 85.5h0M202.1 75.9h0M201.7 57.1h0M209.8 92.6h0M217.8 64.4h0M223.1 59.6h0M208.9 88.6h0M225.2 88.6h0M207.7 51.3h0M201.1 46.3h0M225.5 79.1h0M209.8 90.5h0M227.2 60.8h0M227.9 90.3h0M207.9 57.7h0M225.4 86.6h0M215.2 98.9h0M223.3 92.1h0M217.1 86.1h0M214.1 80.1h0M227.8 66.2h0M218.3 86.6h0M218.8 55.3h0M225.5 75.0h0M217.0 74.6h0M207.4 85.2h0M224.3 87.0h0M207.8 53.2h0M204.9 99.8h0M222.2 62.2h0M207.7 53.1h0M208.2 91.2h0M209.0 92.6h0M206.0 94.8h0M218.1 72.1h0M222.1 58.3h0M220.5 62.9h0M200.4 73.5h0M220.5 92.7h0M205.0 68.7h0M223.0 68.1h0M213.3 47.2h0M212.8 98.1h0M225.5 73.5h0M222.7 90.4h0M205.3 75.4h0M226.1 91.3h0M207.7 100.6h0M222.3 93.0h0M200.4 92.7h0M223.5 76.7h0M224.0 55.4h0M219.6 92.2h0M205.4 74.6h0M214.7 73.4h0M215.2 83.7h0M215.4 99.8h0M208.0 51.5h0M206.9 95.8h0M222.1 61.0h0M210.7 77.8h0M213.2 63.7h0M206.3 67.6h0M225.7 86.7h0M219.8 81.4h0M212.2 80.5h0M206.4 76.3h0M222.8 86.2h0M206.3 100.6h0M223.8 89.4h0M201.4 99.2h0M201.7 64.2h0M223.7 61.9h0M216.4 68.4h0M223.2 57.8h0M212.5 98.5h0M223.5 87.1h0M220.2 80.8h0M221.3 65.0h0"/>
<path fill="none" stroke="#b5dce8" stroke-width="1.40" stroke-linecap="round" d="M203.3 63.0h0M191.1 69.2h0M200.4 87.3h0M192.3 58.9h0M195.1 81.3h0M194.1 51.8h0M190.3 58.3h0M184.9 77.9h0M199.8 68.3h0M206.9 46.9h0M194.0 69.4h0M182.9 67.6h0M200.9 77.0h0M193.4 87.3h0M194.2 74.4h0M197.0 61.0h0M201.8 75.6h0M196.7 74.3h0M185.2 80.0h0M199.0 48.3h0M200.3 66.3h0M201.8 72.3h0M184.7 67.9h0M182.6 66.0h0M201.2 56.9h0M180.5 72.4h0M196.2 94.2h0M203.5 98.7h0M200.0 98.4h0M200.8 71.5h0M202.8 64.8h0M175.1 82.0h0M193.1 73.2h0M177.4 74.1h0M183.6 67.8h0M201.1 83.2h0M199.3 69.2h0M194.7 49.1h0M179.1 66.6h0M192.2 74.2h0M189.2 68.9h0M198.0 84.2h0M175.7 75.4h0M199.6 99.4h0M192.3 69.8h0M194.2 57.4h0M204.9 61.6h0M182.5 61.2h0M197.4 49.2h0M184.1 62.7h0M182.7 70.6h0M194.5 67.8h0M186.3 66.0h0M205.8 88.1h0M182.2 67.7h0M203.5 97.9h0M188.5 56.6h0M201.1 77.6h0M205.5 88.5h0M191.5 81.0h0M188.0 66.9h0"/>
<path fill="none" stroke="#d0e8ef" stroke-width="1.40" stroke-linecap="round" d="M183.5 76.4h0M195.6 87.9h0M199.6 51.3h0M202.6 90.9h0M199.7 51.6h0M193.3 86.7h0M199.9 71.8h0M186.4 96.0h0M175.3 86.4h0M202.4 71.7h0M192.3 66.2h0M203.3 55.3h0M194.2 63.2h0M189.9 77.1h0M177.8 68.9h0M187.4 68.5h0M197.1 68.8h0M186.3 88.1h0M193.3 94.1h0M174.6 68.2h0M185.2 61.8h0M195.4 98.8h0M190.5 53.8h0M197.0 56.7h0M184.8 79.1h0M207.1 96.6h0M194.9 58.7h0M196.8 75.0h0M198.6 91.4h0M192.6 74.3h0M201.1 79.8h0M206.7 61.5h0M197.7 97.7h0M189.1 55.1h0M209.8 45.7h0M195.3 66.4h0M202.1 49.8h0M190.8 59.1h0M189.3 84.2h0M199.1 62.1h0M200.7 95.1h0M199.1 84.6h0M193.2 86.6h0M175.8 68.8h0M215.4 68.6h0M178.6 85.9h0M198.1 95.4h0M195.7 62.3h0M193.5 68.9h0M202.4 57.3h0M193.2 96.3h0M180.3 80.0h0M192.0 76.9h0M187.4 63.8h0M191.4 53.5h0M204.2 74.4h0M183.4 66.7h0M206.7 86.2h0M177.2 92.3h0M188.0 79.2h0M191.7 59.1h0M198.4 77.8h0M193.0 87.1h0M203.0 95.8h0M190.4 70.3h0M182.3 59.4h0M192.2 55.0h0M193.7 81.9h0M191.6 54.2h0M201.2 78.2h0M182.9 77.5h0M205.9 76.7h0"/>
<path fill="none" stroke="#78cae4" stroke-width="1.40" stroke-linecap="round" d="M212.1 90.9h0M214.6 79.4h0M206.7 71.7h0M212.8 46.6h0M212.6 87.7h0M222.0 84.3h0M202.7 88.2h0M207.5 63.0h0M204.8 48.6h0M217.8 65.8h0M209.5 57.5h0M206.0 56.3h0M212.1 87.7h0M216.8 50.9h0M223.8 89.3h0M226.2 64.5h0M227.5 84.9h0M200.4 92.2h0M209.9 75.1h0M216.7 97.5h0M213.6 62.9h0M211.4 97.9h0M203.1 49.9h0M226.6 84.8h0M211.0 47.7h0M221.5 58.2h0M214.1 97.5h0M217.9 66.7h0M226.1 59.7h0M212.4 70.6h0M216.1 77.3h0M226.6 58.3h0M213.1 90.6h0M219.3 90.7h0M196.6 79.4h0M223.7 51.6h0M209.1 61.1h0M215.9 98.2h0M219.3 62.4h0M205.6 92.3h0M200.6 90.1h0M217.2 90.5h0M224.3 57.6h0M215.1 93.0h0M224.4 71.1h0M217.4 76.9h0M220.5 96.3h0M208.4 101.0h0M212.5 84.9h0M207.4 82.2h0M214.5 67.0h0M213.5 72.3h0M222.6 93.1h0M225.3 73.5h0M200.9 63.0h0M208.3 64.4h0M226.7 71.9h0M210.2 55.5h0M208.2 85.4h0M220.1 51.6h0M211.9 91.5h0M218.0 88.3h0M200.0 77.8h0M212.1 82.5h0M200.3 63.7h0M215.7 69.3h0M222.5 64.6h0M219.6 81.2h0M208.0 80.5h0M199.8 83.6h0M215.1 83.9h0M208.2 92.8h0M223.2 51.8h0M207.5 82.8h0M219.4 53.7h0M208.1 84.8h0M226.3 62.1h0M209.4 88.0h0M214.4 47.0h0M213.7 46.5h0M216.3 90.3h0M213.6 65.4h0M214.2 96.5h0M220.6 56.3h0M211.1 92.3h0M203.0 72.8h0M218.3 79.7h0M212.0 96.0h0M206.4 74.3h0M209.7 62.8h0M220.1 95.1h0M220.5 59.5h0M198.8 78.2h0M215.1 48.1h0M213.2 77.3h0M227.2 61.9h0M224.1 85.9h0M216.6 74.4h0M225.2 73.8h0M212.8 53.2h0M213.6 47.7h0M210.2 68.8h0M222.4 77.4h0M219.0 49.6h0M205.1 55.7h0M219.8 58.6h0M208.7 94.1h0M197.3 51.1h0M226.2 54.3h0M194.9 57.7h0M210.4 46.4h0M213.1 74.6h0M222.3 95.6h0M214.0 86.1h0M215.9 66.0h0M207.9 101.1h0M227.8 74.0h0M212.8 85.2h0M218.5 84.7h0M215.2 88.9h0M211.8 76.3h0M227.1 58.5h0M204.0 76.6h0M210.3 97.8h0M208.9 80.9h0M202.9 70.5h0M206.3 80.6h0M221.0 90.9h0M225.1 87.1h0M219.6 59.9h0M210.7 57.4h0M202.9 63.3h0M206.9 80.4h0M224.9 92.7h0M221.0 88.1h0M208.2 96.8h0M219.5 70.4h0M209.2 72.5h0M206.1 77.5h0M215.5 49.9h0M224.9 60.3h0M205.3 58.1h0M225.4 69.0h0M204.4 61.7h0M210.9 66.4h0M222.9 92.4h0M217.1 94.0h0M217.3 49.9h0M225.7 88.7h0M211.7 79.5h0M205.8 58.8h0M217.1 85.6h0M218.5 90.2h0M211.5 60.8h0M220.5 89.9h0M209.4 87.7h0M219.6 49.2h0M226.1 91.9h0M207.3 50.3h0M208.3 57.0h0M221.1 94.6h0M210.2 100.8h0M198.4 89.7h0M210.5 57.9h0M220.2 67.1h0M209.9 79.7h0M206.0 66.4h0M219.1 98.2h0M210.5 79.1h0M216.0 78.3h0M212.1 79.4h0M222.2 60.5h0M220.0 95.5h0M225.7 58.1h0M205.7 79.7h0M223.9 61.5h0M219.2 74.1h0M222.6 85.5h0M224.9 53.5h0M227.5 61.5h0M212.8 87.3h0M207.6 101.0h0M223.8 56.7h0M202.9 47.1h0M212.3 91.2h0M208.1 101.5h0M201.4 65.9h0M200.7 94.0h0M205.6 58.0h0M206.7 50.7h0M218.9 54.2h0M205.3 53.8h0M222.8 68.0h0M210.5 88.5h0M222.9 56.9h0M226.8 87.4h0M204.1 94.2h0M221.9 69.1h0M203.5 49.0h0M217.9 74.6h0M208.1 93.3h0M202.3 85.3h0M210.4 94.0h0M205.5 54.0h0M214.1 53.1h0M214.0 92.9h0M210.1 93.9h0M215.1 51.2h0M215.2 48.6h0M207.5 84.5h0M219.6 58.8h0M204.4 54.4h0M222.5 77.5h0M205.7 94.1h0M219.4 52.6h0M211.5 48.8h0M206.6 79.1h0M222.8 86.8h0M217.7 91.9h0M224.8 76.9h0M211.2 52.0h0M227.4 75.6h0M212.3 85.7h0M226.8 61.7h0M215.3 80.4h0M202.8 78.2h0M207.7 95.2h0M216.7 76.9h0M222.9 74.6h0M215.1 52.4h0M214.0 54.8h0M223.0 74.8h0M227.9 90.9h0M206.5 88.3h0M225.3 70.2h0M213.8 47.8h0M205.4 88.5h0M210.3 71.2h0M200.5 87.9h0M199.2 76.1h0M227.2 88.3h0M205.2 72.3h0"/>
<path fill="none" stroke="#6aa9c0" stroke-width="1.40" stroke-linecap="round" d="M233.3 82.2h0M242.7 71.1h0M229.0 71.6h0M240.3 75.3h0M238.0 77.6h0M229.2 78.8h0M235.9 84.5h0M232.7 86.4h0M231.6 71.1h0M243.1 72.4h0M230.2 72.3h0M237.1 79.1h0M231.3 65.5h0M241.5 74.7h0M242.5 68.6h0M231.4 76.1h0M232.2 80.5h0M234.4 84.3h0M231.9 64.7h0M231.1 58.1h0M232.6 76.5h0M229.2 57.5h0M233.7 85.0h0M238.4 79.9h0M235.0 77.7h0M233.7 79.9h0M230.5 64.2h0M235.9 82.3h0M234.3 63.0h0M234.8 72.9h0M234.7 77.5h0M242.7 71.2h0M235.8 66.6h0M229.5 62.6h0M234.1 74.2h0M234.3 62.7h0M228.9 55.1h0M237.4 61.5h0M238.2 70.8h0M234.2 71.3h0M239.1 66.3h0M235.5 82.6h0M228.9 86.1h0M230.5 89.7h0M228.9 71.8h0M233.8 82.6h0M236.9 75.8h0M231.0 56.8h0M232.4 74.8h0M231.1 86.0h0M237.4 63.1h0M236.7 75.8h0M231.2 88.1h0M230.7 71.4h0M239.3 82.0h0M229.6 55.6h0M243.1 75.3h0M231.9 74.3h0M233.1 62.1h0M228.9 68.8h0M236.6 75.9h0M238.2 80.2h0"/>
<path fill="none" stroke="#66c3e0" stroke-width="1.40" stroke-linecap="round" d="M217.7 73.5h0M225.5 87.8h0M218.8 68.9h0M225.3 62.2h0M217.4 51.3h0M220.9 87.6h0M204.1 46.0h0M203.6 84.2h0M226.5 77.6h0M207.4 75.1h0M219.0 64.3h0M215.6 54.0h0M216.2 77.3h0M211.9 85.7h0M217.9 61.2h0M223.6 81.6h0M199.0 91.8h0M209.2 90.7h0M223.3 68.3h0M214.7 83.1h0M213.7 66.7h0M206.2 62.6h0M218.8 94.6h0M203.8 95.5h0M224.8 63.0h0M219.8 74.3h0M205.6 75.0h0M226.1 72.9h0M208.0 63.2h0M217.5 80.7h0M204.9 83.1h0M212.7 53.9h0M208.2 94.6h0M202.3 94.6h0M216.4 96.3h0M208.0 91.1h0M203.9 84.2h0M219.0 55.3h0M213.2 82.7h0M206.8 57.5h0M209.2 85.1h0M205.8 60.8h0M207.4 93.3h0M212.7 75.1h0M206.5 60.1h0M208.7 72.3h0M221.2 91.8h0M227.6 56.4h0M223.4 80.8h0M198.2 91.8h0M202.9 86.6h0M215.2 49.6h0M207.3 67.8h0M202.5 70.8h0M224.5 72.2h0M204.8 93.8h0M222.2 81.7h0M191.7 84.6h0M222.3 52.4h0M203.8 79.7h0M213.1 55.6h0M213.8 70.2h0M211.5 64.4h0M213.8 67.8h0M213.8 90.6h0M218.0 83.3h0M202.5 90.4h0M210.1 99.2h0M203.7 85.7h0M210.8 94.9h0M219.2 79.6h0M207.3 50.6h0M203.5 73.2h0M208.5 62.6h0M220.2 87.5h0M225.9 82.3h0M227.3 75.3h0M202.1 66.1h0M227.5 60.3h0M216.9 91.7h0M202.6 93.3h0M225.4 75.6h0M211.5 53.7h0M218.2 63.9h0M219.7 78.5h0M224.1 59.6h0M224.2 90.8h0M196.9 96.7h0M215.8 54.5h0M226.4 66.4h0M220.8 90.3h0M222.3 82.3h0M215.1 46.8h0M195.7 94.1h0M223.8 74.2h0M205.6 80.1h0M212.5 75.5h0M209.2 78.1h0M208.1 48.1h0M212.5 55.0h0M210.5 99.7h0M206.1 79.0h0M215.6 99.7h0M216.0 56.7h0M209.7 68.4h0M209.6 69.5h0M218.2 52.8h0M206.0 50.7h0M205.9 86.5h0M211.2 76.4h0M208.5 63.3h0M217.2 93.1h0M218.7 57.9h0M221.7 80.5h0M220.0 92.6h0M223.9 69.0h0M213.0 57.3h0M226.4 56.2h0M208.9 64.7h0M221.9 71.3h0M221.6 53.6h0M211.0 84.4h0M217.4 98.1h0M208.1 94.3h0M208.9 98.7h0M225.7 68.2h0M226.3 58.5h0M215.8 89.3h0M216.3 86.0h0M214.4 57.8h0M224.5 60.2h0M216.8 93.9h0M209.1 97.0h0M218.2 53.3h0M203.7 74.6h0M215.2 59.0h0M221.5 88.8h0M227.1 82.6h0M212.4 70.8h0M222.5 74.9h0M223.1 52.9h0M217.1 65.3h0M222.1 59.1h0M217.1 67.5h0M211.4 55.2h0M222.3 53.1h0M212.7 68.9h0M202.2 53.2h0M224.0 94.0h0M209.7 69.7h0M205.8 95.0h0M226.1 79.4h0M226.8 70.4h0M225.4 76.9h0M219.7 65.2h0M213.2 53.0h0M221.9 75.6h0M217.4 68.4h0M205.3 81.4h0M221.2 82.4h0M210.9 63.4h0M206.3 61.6h0M215.6 81.1h0M217.3 91.8h0M222.9 62.1h0M210.9 95.4h0M201.9 79.9h0M210.8 47.3h0M213.5 68.4h0M223.7 64.1h0M215.2 48.5h0M204.9 66.0h0M220.6 54.5h0M206.9 101.5h0M219.2 58.4h0M208.5 60.6h0M201.0 65.8h0M214.1 70.6h0M219.3 60.1h0M217.0 72.0h0M205.5 52.4h0M218.6 81.4h0M206.0 55.4h0M195.9 98.3h0M221.1 76.7h0M216.1 47.2h0M220.8 57.1h0M213.9 80.5h0M208.4 79.7h0M223.6 74.8h0M213.1 69.8h0M212.4 49.6h0M204.6 59.9h0M223.1 84.4h0M223.5 56.6h0M217.9 50.9h0M223.2 72.7h0M218.4 96.6h0M216.5 77.2h0M218.2 81.8h0M214.3 49.3h0M221.9 59.0h0M214.7 47.1h0M226.3 74.6h0M204.4 96.0h0M221.3 76.0h0M220.7 62.1h0M204.1 100.5h0M210.4 96.6h0M214.7 76.9h0M212.8 96.7h0M227.5 61.4h0M207.1 84.0h0M214.7 48.0h0M206.2 87.6h0M216.3 85.6h0M214.2 74.8h0M197.8 92.0h0M204.7 61.1h0M206.7 53.2h0M215.8 80.4h0M226.8 63.7h0M211.8 88.5h0M220.7 90.7h0M221.1 61.1h0M224.2 81.4h0M219.4 62.4h0M211.4 57.8h0M219.8 59.9h0M227.7 71.4h0M219.3 76.4h0M215.0 57.0h0M216.3 54.0h0M210.1 100.0h0M204.3 81.3h0M206.3 57.6h0M205.5 91.5h0M217.9 80.6h0M211.8 51.6h0M209.5 90.5h0M215.5 85.3h0M210.8 83.4h0M205.9 92.3h0"/>
<path fill="none" stroke="#9fd3e4" stroke-width="1.40" stroke-linecap="round" d="M195.5 51.5h0M192.4 59.5h0M208.6 51.8h0M197.9 98.0h0M186.2 65.6h0M198.0 70.6h0M187.5 57.6h0M198.6 81.8h0M188.9 75.2h0M188.8 72.5h0M201.2 78.0h0M180.1 66.5h0M184.1 67.8h0M192.0 55.0h0M196.1 56.4h0M202.5 54.1h0M179.5 68.5h0M200.8 57.5h0M189.3 68.5h0M187.2 75.4h0M181.4 73.9h0M187.9 63.9h0M196.1 82.2h0M194.3 63.2h0M197.7 83.5h0M202.2 73.7h0M206.9 76.3h0M197.2 98.5h0M191.5 54.5h0M204.3 53.8h0M197.0 58.4h0M193.3 86.0h0M190.9 85.7h0M197.2 62.5h0M197.8 55.3h0M195.6 77.4h0M194.3 91.3h0M206.6 78.6h0M196.7 53.1h0M185.4 64.0h0M199.2 50.7h0M199.5 77.2h0M194.3 71.7h0M202.3 54.7h0M179.2 66.6h0M188.9 72.8h0M185.5 61.2h0M188.4 77.4h0M187.6 60.8h0M201.1 74.6h0M178.2 72.8h0M194.9 93.5h0M197.2 75.7h0M188.8 81.0h0M191.2 52.2h0M188.3 65.0h0M200.3 70.1h0M179.5 64.0h0"/>
<path fill="none" stroke="#6cbcd6" stroke-width="1.40" stroke-linecap="round" d="M236.3 68.7h0M230.7 56.6h0M240.7 70.1h0M232.1 78.1h0M232.7 66.4h0M234.5 72.8h0M229.3 86.4h0M240.1 66.7h0M237.0 65.6h0M237.3 78.2h0M239.2 80.8h0M238.9 75.3h0M233.5 85.9h0M233.0 78.4h0M231.6 61.5h0M229.1 75.7h0M231.7 87.3h0M234.8 73.8h0M242.1 73.8h0M242.1 71.1h0M229.6 74.6h0M233.7 61.8h0M234.7 72.2h0M232.0 67.8h0M239.5 70.5h0M235.1 69.2h0M234.4 60.4h0M231.9 84.1h0M237.0 61.3h0M234.6 65.6h0M237.0 63.1h0M228.5 73.5h0M229.9 80.5h0M235.7 64.1h0M237.0 70.5h0M234.6 64.1h0M230.5 84.7h0M234.5 82.4h0M243.6 74.4h0M233.5 81.1h0M229.6 76.4h0M241.5 76.3h0M230.9 69.0h0M236.7 66.3h0M228.9 80.2h0M233.2 73.3h0M238.3 74.0h0M228.2 57.7h0M231.6 73.5h0M237.1 74.1h0M230.7 88.9h0M229.0 85.5h0M228.9 58.5h0M228.5 61.3h0M236.4 67.0h0M228.8 86.9h0M233.4 71.3h0"/>
<path fill="none" stroke="#79bfd6" stroke-width="1.40" stroke-linecap="round" d="M228.7 90.3h0M238.6 81.4h0M238.1 64.5h0M230.9 63.5h0M236.0 73.1h0M236.0 60.9h0M240.2 76.3h0M231.7 80.0h0M232.0 77.9h0M229.4 90.8h0M236.5 66.2h0M235.4 62.9h0M232.7 71.8h0M228.5 59.9h0M231.4 64.2h0M234.5 79.8h0M233.2 74.2h0M228.4 86.1h0M228.6 63.9h0M241.1 67.2h0M229.9 71.5h0M236.2 75.5h0M231.1 85.7h0M236.1 79.1h0M232.8 81.3h0M236.4 60.6h0M232.8 68.3h0M241.4 69.4h0M234.3 85.8h0M230.5 85.1h0M238.8 73.3h0M236.3 66.7h0M232.1 88.8h0M241.5 80.4h0M236.7 64.2h0M232.2 86.5h0M241.5 73.9h0M240.4 79.4h0M231.5 74.3h0M238.8 64.2h0M242.7 75.6h0M230.6 64.2h0M234.5 70.1h0M229.0 89.0h0M242.0 73.1h0M233.5 75.6h0M232.4 83.2h0M230.9 80.1h0M240.2 66.9h0M233.1 75.1h0M243.8 74.0h0M241.9 68.1h0M240.5 75.0h0M229.1 66.3h0M238.9 75.7h0M230.2 65.1h0"/>
<path fill="none" stroke="#98bccb" stroke-width="1.40" stroke-linecap="round" d="M199.0 76.2h0M191.3 76.3h0M196.5 70.2h0M202.9 71.2h0M200.1 76.9h0M202.2 93.7h0M195.1 84.0h0M193.4 89.9h0M201.0 50.7h0M188.9 59.2h0M193.1 90.7h0M182.5 77.4h0M180.5 69.6h0M184.0 78.2h0M191.2 69.6h0M198.4 76.5h0M180.6 69.6h0M205.6 62.5h0M182.1 85.7h0M192.1 68.9h0M183.6 65.1h0M201.2 81.9h0M185.2 64.5h0M175.6 68.2h0M192.3 77.2h0M209.2 81.2h0M194.9 83.4h0M197.2 97.1h0M174.7 81.2h0M189.4 74.3h0M195.9 65.8h0M186.2 69.7h0M192.5 70.2h0M196.0 73.2h0M200.4 65.3h0M190.2 68.1h0M195.6 51.4h0M203.9 54.2h0M188.9 76.8h0M187.7 91.0h0M190.9 76.2h0M180.4 71.7h0M197.1 74.6h0M188.4 66.0h0M200.4 56.3h0M188.7 81.2h0M188.0 69.4h0M186.6 74.3h0M186.2 81.7h0M185.6 73.1h0M198.2 70.6h0M198.1 60.4h0M184.2 73.6h0M190.6 73.2h0M183.4 70.5h0M193.8 55.4h0M198.3 65.0h0M188.8 54.0h0M198.6 64.1h0M199.2 81.7h0"/>
<path fill="none" stroke="#8ccbe0" stroke-width="1.40" stroke-linecap="round" d="M194.1 84.4h0M191.9 69.9h0M183.6 76.7h0M203.4 60.3h0M181.6 73.4h0M205.5 85.8h0M201.0 89.3h0M190.8 61.5h0M205.2 49.9h0M180.5 76.8h0M205.1 60.6h0M209.4 65.1h0M197.8 92.1h0M194.1 78.7h0M201.2 84.3h0M202.5 69.2h0M202.5 54.5h0M188.8 67.9h0M195.9 91.8h0M184.1 62.6h0M199.4 58.3h0M205.0 48.4h0M189.4 60.2h0M191.5 85.9h0M201.0 50.0h0M195.3 80.3h0M194.0 92.3h0M195.8 77.1h0M196.9 69.5h0M191.2 61.8h0M185.5 72.5h0M202.3 87.8h0M189.6 78.4h0M191.1 71.7h0M189.3 65.2h0M189.7 61.9h0M215.6 53.4h0M193.0 74.5h0M190.4 66.5h0M194.9 67.2h0M202.2 75.2h0M204.0 86.0h0M201.7 51.1h0M205.5 74.0h0M202.0 57.7h0M183.0 77.3h0M206.6 63.2h0M186.9 61.3h0M202.2 90.0h0M200.7 86.7h0M186.0 62.3h0M198.1 56.3h0M192.8 64.9h0M186.0 73.6h0M184.0 62.4h0M198.5 90.8h0M204.0 67.2h0M198.9 71.1h0M186.3 71.8h0M212.0 90.6h0M199.7 57.3h0M186.7 56.4h0M196.8 71.1h0M189.3 83.6h0M196.2 74.8h0M187.3 67.5h0M187.6 81.6h0"/>
<path fill="none" stroke="#5fb6d2" stroke-width="1.40" stroke-linecap="round" d="M229.4 82.0h0M241.5 77.6h0M241.5 73.3h0M232.4 88.6h0M233.5 71.4h0M241.0 77.4h0M232.2 82.4h0M237.4 71.6h0M231.5 82.5h0M231.2 68.4h0M233.6 76.8h0M228.7 82.8h0M235.3 71.2h0M242.9 73.7h0M235.4 77.9h0M229.7 76.0h0M231.7 65.6h0M238.5 63.0h0M229.2 63.4h0M234.2 69.1h0M231.3 85.9h0M230.7 68.7h0M242.8 68.4h0M229.3 57.1h0M232.3 75.6h0M229.2 84.2h0M239.8 74.5h0M228.9 79.4h0M232.0 66.7h0M233.3 73.3h0M235.8 63.1h0M233.3 66.3h0M235.6 59.9h0M230.8 85.8h0M230.8 70.6h0M234.4 83.3h0M230.4 56.7h0M228.4 60.8h0M232.0 58.3h0M230.3 64.4h0M235.8 78.3h0M232.0 88.2h0M240.1 80.2h0M242.6 76.8h0M228.5 81.8h0M240.7 69.3h0M238.2 73.2h0"/>
<path fill="none" stroke="#f0a894" stroke-width="1.40" stroke-linecap="round" d="M173.6 68.6h0M177.2 73.4h0M172.7 73.7h0M176.3 75.5h0M180.1 75.7h0M175.7 70.5h0M173.9 70.3h0M179.3 75.9h0M172.6 73.9h0M176.6 73.8h0M171.3 73.8h0M174.6 70.8h0M173.8 77.8h0M174.0 69.5h0M173.8 71.2h0M175.5 69.0h0M173.7 71.8h0M177.3 73.5h0"/>
<path fill="none" stroke="#e06048" stroke-width="1.40" stroke-linecap="round" d="M171.6 77.2h0M176.5 76.7h0M171.0 76.6h0M175.9 75.1h0M174.5 75.9h0M173.3 71.6h0M174.9 75.1h0M175.3 76.5h0M175.2 65.8h0M171.9 80.0h0M174.7 76.8h0M176.1 74.4h0M172.1 73.2h0M173.3 72.1h0M177.8 70.9h0M180.6 70.2h0M175.9 73.7h0M175.3 78.9h0M172.4 67.9h0M173.0 77.7h0M177.7 78.3h0M171.8 80.6h0M174.3 75.1h0"/>
<path fill="none" stroke="#f7cfc4" stroke-width="1.40" stroke-linecap="round" d="M172.8 72.0h0M176.3 73.7h0M171.4 77.4h0M174.9 72.8h0M176.1 75.8h0M177.5 68.4h0M177.7 78.7h0M177.9 73.0h0M177.2 73.2h0M176.6 78.7h0M174.6 73.7h0M173.6 72.2h0M175.9 72.3h0M173.1 71.9h0M174.9 73.5h0M175.0 71.7h0M174.7 72.1h0M177.3 76.6h0M176.9 71.9h0M176.5 74.0h0M175.1 72.2h0M175.6 70.9h0M179.0 70.4h0M173.6 73.7h0M175.8 70.7h0"/>
<path fill="none" stroke="#e8806a" stroke-width="1.40" stroke-linecap="round" d="M178.2 70.7h0M174.8 74.6h0M174.4 74.6h0M176.0 69.0h0M175.1 72.0h0M173.7 79.3h0M175.2 73.4h0M174.6 73.9h0M173.8 69.8h0M173.8 73.6h0M179.0 76.6h0M172.8 70.8h0M172.5 70.8h0M176.7 75.0h0M173.7 75.4h0M179.7 79.2h0M177.9 77.0h0M171.8 76.9h0M177.2 76.9h0M176.1 75.8h0M172.2 83.8h0M177.0 71.7h0M175.1 75.0h0M174.7 79.9h0M173.7 76.3h0M182.8 71.0h0M174.6 69.4h0M174.5 73.1h0M173.3 81.2h0M173.4 73.9h0M180.1 71.3h0M180.7 66.6h0M172.7 71.6h0"/>
<path fill="none" stroke="#fbe6e0" stroke-width="1.40" stroke-linecap="round" d="M176.1 71.5h0M177.9 73.7h0M176.0 66.4h0M173.0 70.3h0M177.8 75.7h0M170.9 68.9h0M176.0 69.4h0M174.4 79.0h0M178.4 71.2h0M170.9 71.1h0M175.8 77.5h0M179.7 73.2h0M174.3 72.5h0M174.7 69.1h0M173.5 73.1h0M172.6 71.4h0M176.4 76.7h0"/>
<path fill="none" stroke="#e03a22" stroke-width="1.40" stroke-linecap="round" d="M179.4 84.6h0M177.6 81.8h0M175.6 85.5h0M180.7 81.4h0M175.5 88.2h0M177.2 82.7h0M177.4 81.2h0M175.8 84.3h0M174.2 79.8h0M179.7 87.5h0M171.2 86.7h0M177.8 83.9h0M180.3 83.7h0M179.8 81.9h0M174.5 80.6h0M177.7 85.3h0M175.5 80.5h0M172.1 85.9h0M177.9 85.4h0M178.9 84.9h0M178.6 86.6h0M177.7 86.5h0M175.0 83.4h0M179.5 81.7h0M177.1 83.6h0M176.2 86.0h0M177.8 85.4h0M184.0 85.1h0M174.4 82.0h0M175.6 79.5h0M173.1 84.0h0M181.5 83.0h0M177.3 85.0h0M173.7 84.3h0M176.5 78.1h0M179.7 81.9h0"/>
<path fill="none" stroke="#f0a090" stroke-width="1.40" stroke-linecap="round" d="M174.4 89.6h0M180.8 84.9h0M173.3 82.1h0M183.4 83.9h0M174.6 85.1h0M179.7 83.3h0M179.5 83.1h0M178.5 77.9h0M181.3 84.0h0M178.1 86.9h0M174.7 86.3h0M174.2 85.4h0M180.4 86.2h0M178.7 82.2h0M176.9 86.1h0M179.4 85.2h0M171.7 86.5h0M181.9 80.6h0M176.7 84.5h0M182.6 87.1h0M183.4 81.1h0M176.8 83.7h0M176.8 80.3h0M175.3 85.3h0M183.7 82.7h0M179.1 82.1h0M180.1 81.5h0M183.2 85.9h0M179.0 83.6h0M179.5 84.2h0M177.2 86.6h0M178.7 85.6h0M174.0 83.0h0M178.7 83.5h0M178.2 84.7h0M179.4 81.9h0M187.3 84.6h0M177.0 86.0h0M179.3 84.1h0"/>
<path fill="none" stroke="#d82a18" stroke-width="1.40" stroke-linecap="round" d="M181.0 82.5h0M176.3 83.9h0M179.0 84.8h0M174.4 85.5h0M179.4 82.5h0M174.5 84.0h0M180.3 79.0h0M177.2 85.4h0M181.5 80.3h0M177.9 81.7h0M170.7 82.1h0M177.5 83.7h0M186.4 86.6h0M174.1 81.2h0M178.6 81.9h0M183.0 81.1h0M181.7 83.5h0M178.3 81.8h0M178.5 83.6h0M178.5 88.8h0M178.8 84.1h0M173.6 83.8h0M183.5 78.9h0M176.2 85.2h0M176.2 82.3h0M171.4 84.4h0M176.5 84.5h0M174.8 89.5h0M175.8 86.9h0M174.4 83.4h0"/>
<path fill="none" stroke="#e54a30" stroke-width="1.40" stroke-linecap="round" d="M180.3 82.5h0M171.4 83.6h0M179.8 80.8h0M180.6 85.4h0M178.2 79.6h0M175.5 79.6h0M176.1 86.1h0M178.7 78.8h0M172.9 84.8h0M183.3 83.8h0M176.9 84.7h0M180.0 85.4h0M176.2 83.3h0M174.8 84.9h0M173.4 85.2h0M175.1 82.3h0M180.8 82.7h0M175.5 83.5h0M177.9 82.3h0M175.7 86.0h0M174.3 81.6h0M179.7 80.6h0M185.1 83.9h0M178.7 86.9h0M180.5 82.1h0M179.3 86.3h0M172.0 82.6h0M172.3 87.4h0M174.7 85.4h0M176.0 82.9h0M180.3 80.1h0M185.2 84.4h0M173.2 84.8h0M176.3 87.8h0M178.1 83.1h0M180.9 85.6h0M175.9 87.4h0M178.0 81.3h0M177.3 83.2h0M175.1 86.1h0M181.0 81.5h0M174.0 83.1h0M183.2 83.2h0"/>
<path fill="none" stroke="#d02010" stroke-width="1.40" stroke-linecap="round" d="M182.0 80.8h0M179.1 84.3h0M178.7 87.1h0M178.6 82.7h0M176.4 82.4h0M179.3 87.8h0M175.7 85.3h0M180.6 86.2h0M181.1 83.4h0M171.5 85.5h0M175.2 80.9h0M174.3 84.1h0M178.4 81.1h0M181.6 81.7h0M176.1 82.9h0M178.2 87.1h0M182.2 84.7h0M175.1 86.7h0M176.5 82.0h0M179.2 83.6h0M175.6 78.6h0M178.5 84.8h0M175.2 79.8h0M176.6 82.4h0M174.5 85.4h0M176.7 82.3h0M172.7 85.7h0M177.3 86.5h0M177.0 84.1h0M176.3 78.6h0M176.0 85.0h0M174.1 86.0h0M171.0 87.2h0M178.4 86.9h0M175.3 83.7h0M177.8 83.5h0M176.2 79.2h0M177.1 79.5h0M182.4 85.8h0M172.9 81.1h0M183.1 80.6h0M177.2 81.3h0M175.3 81.7h0M179.2 83.2h0M177.7 82.3h0M179.4 84.0h0M176.2 82.9h0"/>
<path fill="none" stroke="#e87a60" stroke-width="1.40" stroke-linecap="round" d="M181.4 89.2h0M182.1 86.2h0M183.5 87.1h0M183.8 87.7h0M183.4 88.7h0M185.2 91.4h0M176.8 88.8h0M185.2 90.1h0M179.4 90.2h0M182.2 87.6h0M186.0 88.3h0M177.0 86.6h0M179.5 88.8h0M180.2 89.5h0M183.1 92.1h0M182.8 87.0h0M186.4 85.4h0"/>
<path fill="none" stroke="#e04a30" stroke-width="1.40" stroke-linecap="round" d="M181.6 84.6h0M179.5 88.8h0M181.1 88.1h0M182.3 87.8h0M179.4 87.4h0M181.9 89.4h0M182.5 89.4h0M180.7 90.0h0M183.0 89.9h0M181.5 90.1h0M179.9 87.8h0M183.1 86.2h0M182.6 90.8h0M184.3 88.3h0M183.5 89.4h0M185.2 90.0h0M182.7 85.2h0M177.5 92.0h0"/>
<path fill="none" stroke="#f5c0b0" stroke-width="1.40" stroke-linecap="round" d="M177.4 91.8h0M182.4 89.5h0M175.9 88.6h0M186.6 89.1h0M181.4 87.3h0M179.1 89.4h0M188.5 89.8h0M183.8 91.2h0M185.2 87.5h0M182.8 91.6h0"/>
<path fill="none" stroke="#d83a24" stroke-width="1.40" stroke-linecap="round" d="M187.1 93.3h0M185.9 93.8h0M188.5 95.3h0M190.3 91.5h0M185.4 92.7h0M184.5 95.7h0M184.6 94.5h0M180.8 93.4h0M187.3 92.2h0M190.4 91.6h0M188.7 91.8h0M192.9 90.6h0M186.9 91.0h0M188.9 93.3h0M192.9 91.5h0M186.5 94.5h0M185.7 93.6h0M190.3 95.2h0"/>
<path fill="none" stroke="#f3b8a8" stroke-width="1.40" stroke-linecap="round" d="M185.8 92.3h0M188.4 93.8h0M190.5 94.1h0M193.9 94.5h0M190.7 93.7h0M187.5 89.4h0M182.5 96.9h0M190.0 91.2h0M187.6 91.6h0M189.7 97.0h0M189.7 91.5h0M189.5 91.2h0M191.6 95.9h0M189.9 91.6h0M189.6 91.2h0"/>
<path fill="none" stroke="#fde8e2" stroke-width="1.40" stroke-linecap="round" d="M189.1 95.3h0M190.7 94.3h0M185.6 93.1h0M182.5 96.0h0M191.0 94.2h0M186.6 95.3h0M189.4 91.9h0M188.1 91.8h0M189.8 95.9h0M186.0 90.8h0M184.4 97.6h0M188.1 90.2h0M187.5 91.3h0M190.8 93.3h0M189.6 95.9h0M188.2 97.0h0M189.5 93.8h0"/>
<path fill="none" stroke="#e8705a" stroke-width="1.40" stroke-linecap="round" d="M191.3 97.0h0M183.5 94.5h0M187.1 94.2h0M193.9 91.0h0M187.5 96.2h0"/>
<defs><linearGradient id="tsg" x1="0" y1="0" x2="0" y2="1"><stop offset="0" stop-color="#c4281c"/><stop offset="0.35" stop-color="#e0604a"/><stop offset="0.7" stop-color="#b49a98"/><stop offset="1" stop-color="#6fb9c9"/></linearGradient></defs>
<rect x="254.0" y="58.6" width="3.9" height="20.2" fill="url(#tsg)"/>
<text x="261.0" y="59.8" font-size="3.6" fill="#444">3.2</text>
<text x="261.0" y="65.1" font-size="3.6" fill="#444">2.8</text>
<text x="261.0" y="70.4" font-size="3.6" fill="#444">2.4</text>
<text x="261.0" y="75.7" font-size="3.6" fill="#444">2.0</text>
<line x1="331.0" y1="256.0" x2="331.0" y2="406.3" stroke="#222" stroke-width="1.1"/>
<line x1="330.5" y1="405.8" x2="495.0" y2="405.8" stroke="#222" stroke-width="1.1"/>
<line x1="328.5" y1="267.8" x2="331.0" y2="267.8" stroke="#222" stroke-width="0.8"/>
<text x="326.5" y="270.2" font-size="6.6" text-anchor="end" fill="#333">10</text>
<line x1="328.5" y1="299.0" x2="331.0" y2="299.0" stroke="#222" stroke-width="0.8"/>
<text x="326.5" y="301.4" font-size="6.6" text-anchor="end" fill="#333">8</text>
<line x1="328.5" y1="330.2" x2="331.0" y2="330.2" stroke="#222" stroke-width="0.8"/>
<text x="326.5" y="332.6" font-size="6.6" text-anchor="end" fill="#333">6</text>
<line x1="328.5" y1="361.4" x2="331.0" y2="361.4" stroke="#222" stroke-width="0.8"/>
<text x="326.5" y="363.8" font-size="6.6" text-anchor="end" fill="#333">4</text>
<line x1="328.5" y1="392.6" x2="331.0" y2="392.6" stroke="#222" stroke-width="0.8"/>
<text x="326.5" y="395.0" font-size="6.6" text-anchor="end" fill="#333">2</text>
<line x1="337.4" y1="405.8" x2="337.4" y2="408.3" stroke="#222" stroke-width="0.8"/>
<text x="337.4" y="419.0" font-size="6.8" text-anchor="middle" fill="#333">0</text>
<line x1="368.8" y1="405.8" x2="368.8" y2="408.3" stroke="#222" stroke-width="0.8"/>
<text x="368.8" y="419.0" font-size="6.8" text-anchor="middle" fill="#333">2</text>
<line x1="400.4" y1="405.8" x2="400.4" y2="408.3" stroke="#222" stroke-width="0.8"/>
<text x="400.4" y="419.0" font-size="6.8" text-anchor="middle" fill="#333">4</text>
<line x1="432.3" y1="405.8" x2="432.3" y2="408.3" stroke="#222" stroke-width="0.8"/>
<text x="432.3" y="419.0" font-size="6.8" text-anchor="middle" fill="#333">6</text>
<line x1="464.2" y1="405.8" x2="464.2" y2="408.3" stroke="#222" stroke-width="0.8"/>
<text x="464.2" y="419.0" font-size="6.8" text-anchor="middle" fill="#333">8</text>
<text x="412.9" y="430.6" font-size="8.4" text-anchor="middle" textLength="25.9" lengthAdjust="spacingAndGlyphs" fill="#333" font-style="italic">UMAP_1</text>
<text x="313.0" y="326.6" font-size="8.4" text-anchor="middle" textLength="26.6" lengthAdjust="spacingAndGlyphs" fill="#333" font-style="italic" transform="rotate(-90 313.0 326.6)">UMAP_2</text>
<path fill="none" stroke="#e8c8d4" stroke-width="1.20" stroke-linecap="round" d="M377.6 275.5h0M399.3 281.2h0M387.2 283.1h0M382.0 311.7h0M382.8 294.8h0M386.9 298.1h0M393.3 282.5h0M382.0 303.8h0M388.3 289.7h0"/>
<path fill="none" stroke="#b9d3e6" stroke-width="1.20" stroke-linecap="round" d="M395.8 289.0h0M376.8 269.7h0M376.9 283.5h0M386.0 276.8h0M398.8 278.5h0M383.9 283.5h0M387.8 286.8h0M391.7 285.5h0M395.0 277.2h0M384.7 296.0h0M383.6 299.9h0M376.7 278.1h0M386.2 283.7h0M391.8 288.8h0M405.8 292.5h0M379.0 284.9h0M378.9 289.9h0"/>
<path fill="none" stroke="#cfe0ee" stroke-width="1.20" stroke-linecap="round" d="M375.8 301.5h0M398.4 281.4h0M392.8 283.9h0M381.6 304.2h0M385.3 281.0h0M394.1 284.0h0M401.0 289.0h0M376.1 300.4h0M391.4 292.1h0M386.9 269.1h0M389.5 298.6h0M380.4 284.6h0M394.3 299.3h0M386.6 277.8h0"/>
<path fill="none" stroke="#c9c3e0" stroke-width="1.20" stroke-linecap="round" d="M487.0 316.9h0M475.6 313.8h0M483.0 317.0h0M460.0 325.0h0M456.4 327.3h0M449.1 308.6h0M463.1 318.7h0M458.8 328.9h0M440.3 325.1h0M461.7 333.5h0M471.6 319.0h0M468.2 313.2h0"/>
<path fill="none" stroke="#cfcbe6" stroke-width="1.20" stroke-linecap="round" d="M465.9 321.5h0M484.7 314.1h0M466.9 323.9h0M486.9 325.2h0M480.5 316.5h0M466.3 308.5h0M469.5 316.6h0M455.6 313.7h0M442.3 312.1h0M462.1 321.6h0M452.4 325.9h0M470.1 319.7h0M470.3 322.7h0"/>
<path fill="none" stroke="#d8d4ea" stroke-width="1.20" stroke-linecap="round" d="M455.6 310.3h0M475.7 323.1h0M482.6 315.4h0M473.5 327.0h0M483.5 316.6h0M460.4 320.8h0M461.3 314.5h0M470.6 324.8h0M459.4 313.7h0"/>
<path fill="none" stroke="#e4e0f0" stroke-width="1.20" stroke-linecap="round" d="M466.1 313.1h0M460.1 312.9h0M475.9 324.3h0M489.7 322.1h0M464.0 309.7h0M457.7 325.1h0M474.8 314.0h0M468.4 317.6h0M465.6 322.3h0M477.0 310.1h0M462.9 317.3h0M465.1 325.2h0M476.1 319.1h0M462.5 315.6h0M482.2 318.0h0M484.9 308.5h0M484.8 316.3h0M482.5 322.2h0M479.5 316.5h0M475.2 312.3h0M462.3 315.4h0M457.6 318.1h0M479.7 316.3h0M470.9 317.1h0"/>
<path fill="none" stroke="#f0c0d0" stroke-width="1.20" stroke-linecap="round" d="M427.2 310.4h0M407.6 308.5h0M419.6 308.2h0M417.7 309.6h0M403.6 297.3h0M419.6 310.6h0M402.4 304.3h0M426.6 307.6h0M410.1 294.2h0M415.2 311.3h0M418.2 305.8h0M409.8 308.0h0M430.1 303.4h0"/>
<path fill="none" stroke="#f6dde6" stroke-width="1.20" stroke-linecap="round" d="M405.1 320.1h0M420.7 310.4h0M390.0 314.9h0M402.3 303.1h0M399.0 311.8h0M405.7 308.0h0M418.4 308.4h0M428.8 312.3h0M426.1 310.2h0M406.9 304.5h0M416.7 311.9h0M415.0 320.0h0M389.3 309.4h0M429.5 321.4h0"/>
<path fill="none" stroke="#f4cddd" stroke-width="1.20" stroke-linecap="round" d="M423.9 316.3h0M422.0 307.2h0M419.4 313.4h0M418.7 307.6h0M423.9 321.3h0M415.9 301.7h0M408.9 304.7h0M430.6 314.9h0M416.6 320.2h0M418.6 293.6h0M410.6 308.3h0M412.5 309.5h0M410.1 318.8h0"/>
<path fill="none" stroke="#f0d0d8" stroke-width="1.20" stroke-linecap="round" d="M388.5 346.7h0M378.0 345.6h0M386.9 342.0h0M387.2 339.4h0M390.6 337.4h0M370.7 349.8h0M368.5 347.3h0M390.6 335.9h0M396.3 341.5h0"/>
<path fill="none" stroke="#d2ece6" stroke-width="1.20" stroke-linecap="round" d="M377.4 346.7h0M396.1 333.2h0M400.2 351.6h0M374.2 353.0h0M379.5 352.2h0M401.3 348.1h0M381.1 340.3h0M391.2 342.5h0M399.5 350.2h0M388.5 348.8h0M377.5 353.3h0M393.8 351.0h0"/>
<path fill="none" stroke="#bfe3dc" stroke-width="1.20" stroke-linecap="round" d="M397.6 346.8h0M382.6 341.1h0M409.6 349.3h0M384.5 339.0h0M390.0 345.9h0M388.8 347.0h0M385.9 351.9h0M370.0 348.1h0M379.3 346.3h0"/>
<path fill="none" stroke="#e7c2cc" stroke-width="1.20" stroke-linecap="round" d="M430.4 348.7h0M428.6 339.4h0M421.1 351.1h0M418.6 348.3h0M409.5 348.1h0M416.0 347.3h0M425.8 332.9h0M423.0 344.4h0M409.9 345.6h0M442.9 325.8h0"/>
<path fill="none" stroke="#f6dde3" stroke-width="1.20" stroke-linecap="round" d="M418.4 349.2h0M414.6 354.3h0M441.2 356.4h0M432.5 350.5h0M411.9 339.9h0M407.6 346.9h0M423.9 342.4h0M419.2 339.9h0"/>
<path fill="none" stroke="#f3cfd7" stroke-width="1.20" stroke-linecap="round" d="M398.3 355.2h0M415.9 348.9h0M419.2 360.4h0M420.4 345.0h0M412.2 338.6h0M417.1 348.4h0M419.9 364.2h0M437.8 358.0h0M405.1 336.9h0M413.8 345.4h0M423.2 350.6h0M416.4 349.9h0"/>
<path fill="none" stroke="#f6c9a0" stroke-width="1.20" stroke-linecap="round" d="M370.7 377.5h0M412.3 372.3h0M384.8 359.6h0M396.1 372.7h0M390.3 388.5h0M417.7 371.8h0M360.8 382.0h0M377.5 377.3h0M399.3 375.0h0M410.0 377.4h0M388.4 366.9h0M385.8 394.9h0M374.0 363.7h0M384.3 372.0h0M386.8 383.2h0M371.4 371.1h0"/>
<path fill="none" stroke="#f9d7b8" stroke-width="1.20" stroke-linecap="round" d="M412.1 380.3h0M374.5 385.6h0M408.2 367.0h0M406.1 377.8h0M397.2 366.8h0M386.8 381.9h0M388.9 374.3h0M409.0 376.1h0M383.9 381.1h0M402.1 385.7h0M376.5 367.2h0M401.0 380.3h0M411.8 379.0h0M388.2 369.4h0M394.4 382.1h0M386.5 385.2h0M379.0 375.3h0M400.0 365.9h0M387.3 373.9h0M415.8 376.9h0"/>
<path fill="none" stroke="#fbe3cf" stroke-width="1.20" stroke-linecap="round" d="M378.5 370.6h0M372.5 356.4h0M409.1 377.4h0M413.8 358.1h0M391.1 371.0h0M355.8 370.2h0M375.0 387.2h0M406.6 360.2h0M403.7 380.0h0M376.4 376.5h0M389.5 371.1h0M412.9 376.9h0M417.6 373.2h0M396.0 366.9h0"/>
<path fill="none" stroke="#e6eab8" stroke-width="1.20" stroke-linecap="round" d="M374.0 394.4h0M382.9 390.1h0M369.8 392.3h0M371.8 396.5h0M375.9 387.7h0M376.1 393.4h0M365.2 394.2h0M363.9 384.7h0M387.8 394.6h0M368.7 378.7h0M402.6 380.7h0M403.1 388.6h0M362.2 384.0h0"/>
<path fill="none" stroke="#d7e3a0" stroke-width="1.20" stroke-linecap="round" d="M377.4 383.8h0M374.3 392.3h0M389.0 387.6h0M380.8 389.8h0M359.8 388.4h0M365.2 402.6h0M382.8 390.1h0M370.8 390.1h0M378.1 397.6h0M375.7 392.4h0M367.7 395.4h0M379.1 391.2h0"/>
<path fill="none" stroke="#eef0cc" stroke-width="1.20" stroke-linecap="round" d="M375.4 383.1h0M364.6 402.3h0M375.0 394.8h0M371.9 396.6h0M383.3 395.5h0M370.8 394.1h0M346.8 392.8h0M396.7 393.1h0M375.0 388.0h0M366.1 389.7h0"/>
<path fill="none" stroke="#dfe6a8" stroke-width="1.20" stroke-linecap="round" d="M389.6 386.5h0M360.6 398.9h0M364.1 395.2h0M370.7 399.3h0M375.4 391.7h0M373.1 381.0h0M360.4 400.2h0"/>
<path fill="none" stroke="#fbe0c8" stroke-width="1.20" stroke-linecap="round" d="M364.9 348.9h0M352.9 364.0h0M343.7 362.2h0M357.3 339.0h0M357.7 341.4h0M361.2 365.3h0M356.5 331.0h0M363.4 339.1h0M359.4 340.7h0M361.1 353.8h0M352.4 339.7h0M365.0 347.8h0"/>
<path fill="none" stroke="#f5e6d8" stroke-width="1.20" stroke-linecap="round" d="M354.4 350.3h0M349.3 348.1h0M359.6 337.9h0M367.7 347.1h0M350.8 345.9h0M339.4 331.7h0M351.7 344.8h0M357.2 357.3h0M362.1 324.3h0M357.2 357.3h0M355.2 340.2h0M355.6 347.2h0"/>
<path fill="none" stroke="#f3e0e6" stroke-width="1.20" stroke-linecap="round" d="M483.9 341.8h0M480.3 259.5h0M460.9 267.4h0M451.9 309.1h0M419.9 319.3h0M419.5 361.1h0M371.0 358.8h0M457.9 263.1h0M488.1 298.8h0M344.8 255.6h0M395.2 346.2h0M476.9 376.3h0M446.8 343.6h0M422.3 327.9h0"/>
<path fill="none" stroke="#e2ecf3" stroke-width="1.20" stroke-linecap="round" d="M407.6 266.2h0M340.9 310.9h0M404.8 350.0h0M350.3 329.4h0M463.6 275.0h0M353.1 383.4h0M485.0 293.2h0M375.6 375.2h0M422.7 385.7h0M483.2 353.6h0M353.7 364.4h0M405.3 298.4h0M394.0 350.1h0M361.3 327.8h0M476.4 276.0h0M420.6 291.4h0M380.5 270.6h0M400.9 377.7h0M387.1 269.9h0"/>
<path fill="none" stroke="#ece4f0" stroke-width="1.20" stroke-linecap="round" d="M358.6 330.2h0M484.6 275.4h0M371.8 351.4h0M422.9 261.1h0M410.0 275.9h0M422.0 256.4h0M442.5 343.6h0M418.1 355.9h0M446.5 340.8h0M345.4 321.7h0M348.7 306.1h0M410.4 357.8h0M483.2 271.9h0"/>
<path fill="none" stroke="#f5ebe0" stroke-width="1.20" stroke-linecap="round" d="M379.0 270.3h0M393.1 308.5h0M336.3 366.8h0M455.4 335.9h0M423.2 295.0h0M426.6 353.9h0M343.6 285.7h0M443.8 340.8h0M339.0 314.7h0M414.9 385.8h0M383.8 343.7h0M434.2 318.5h0M362.1 275.1h0M421.1 351.0h0"/>
<circle cx="413.3" cy="258.7" r="1.2" fill="#e79aab"/>
<circle cx="409.8" cy="310.6" r="2.0" fill="#f0a8bc"/>
<circle cx="468.6" cy="279.4" r="1.0" fill="#d9622b"/>
<circle cx="338.8" cy="308.8" r="1.4" fill="#9bcf86"/>
<circle cx="344" cy="310.6" r="1.0" fill="#b7dca5"/>
<circle cx="458.3" cy="322" r="1.2" fill="#8e86b8"/>
<circle cx="464.1" cy="339.3" r="1.1" fill="#8e86b8"/>
<circle cx="377" cy="388.5" r="1.1" fill="#c8d88a"/>
<circle cx="387.3" cy="395.4" r="1.1" fill="#c8d88a"/>
<circle cx="390.8" cy="393.6" r="1.0" fill="#d0dc94"/>
<circle cx="375.2" cy="393.6" r="1.0" fill="#c8d88a"/>
<circle cx="396" cy="372.5" r="1.6" fill="#e07b2e"/>
<circle cx="399.4" cy="385" r="1.3" fill="#e07b2e"/>
<circle cx="382" cy="404" r="1.0" fill="#e8c070"/>
<circle cx="423.6" cy="352.1" r="1.2" fill="#a03a4a"/>
<circle cx="420" cy="349" r="0.9" fill="#d08090"/>
<circle cx="355" cy="338" r="1.0" fill="#f5c8a0"/>
<circle cx="390.8" cy="262.1" r="2.6" fill="#d6f0fa"/>
<circle cx="390.8" cy="275.3" r="2.6" fill="#d6f0fa"/>
<circle cx="391.5" cy="281.8" r="2.6" fill="#d6f0fa"/>
<circle cx="387.3" cy="288.1" r="2.6" fill="#d6f0fa"/>
<circle cx="383.2" cy="287.4" r="2.6" fill="#d6f0fa"/>
<circle cx="388" cy="290.8" r="2.6" fill="#d6f0fa"/>
<circle cx="382.1" cy="295" r="2.6" fill="#d6f0fa"/>
<circle cx="376.9" cy="295.7" r="2.6" fill="#d6f0fa"/>
<circle cx="375.2" cy="298.5" r="2.6" fill="#d6f0fa"/>
<circle cx="399.4" cy="292.6" r="2.6" fill="#d6f0fa"/>
<circle cx="380" cy="291" r="2.6" fill="#d6f0fa"/>
<circle cx="390.8" cy="262.1" r="1.75" fill="#1b4f6e"/>
<circle cx="390.8" cy="275.3" r="1.75" fill="#1b4f6e"/>
<circle cx="391.5" cy="281.8" r="1.75" fill="#1b4f6e"/>
<circle cx="387.3" cy="288.1" r="1.75" fill="#1b4f6e"/>
<circle cx="383.2" cy="287.4" r="1.75" fill="#1b4f6e"/>
<circle cx="388" cy="290.8" r="1.75" fill="#1b4f6e"/>
<circle cx="382.1" cy="295" r="1.75" fill="#1b4f6e"/>
<circle cx="376.9" cy="295.7" r="1.75" fill="#1b4f6e"/>
<circle cx="375.2" cy="298.5" r="1.75" fill="#1b4f6e"/>
<circle cx="399.4" cy="292.6" r="1.75" fill="#1b4f6e"/>
<circle cx="380" cy="291" r="1.75" fill="#1b4f6e"/>
<circle cx="384.5" cy="341" r="1.35" fill="#c8ece4" stroke="#1a3a3a" stroke-width="0.85"/>
<circle cx="388" cy="342.8" r="1.35" fill="#c8ece4" stroke="#1a3a3a" stroke-width="0.85"/>
<circle cx="386.3" cy="349" r="1.35" fill="#c8ece4" stroke="#1a3a3a" stroke-width="0.85"/>
<circle cx="361.3" cy="388.5" r="1.3" fill="#e8ecb8" stroke="#2a2a1a" stroke-width="0.7"/>
<circle cx="411.5" cy="342.4" r="1.7" fill="#5a1f2a"/>
<circle cx="423.6" cy="352.4" r="1.4" fill="#6a2030"/>
<ellipse cx="387.7" cy="283.5" rx="19.3" ry="25" fill="none" stroke="#b8283c" stroke-width="1.0" transform="rotate(6 387.7 283.5)"/>
<ellipse cx="386.2" cy="345.2" rx="8.6" ry="11.4" fill="none" stroke="#b8283c" stroke-width="1.0" transform="rotate(14 386.2 345.2)"/>
<ellipse cx="418.5" cy="346.5" rx="12.2" ry="13.3" fill="none" stroke="#b8283c" stroke-width="1.0"/>
<text x="337.0" y="285.2" font-size="6.8" textLength="26.0" lengthAdjust="spacingAndGlyphs" fill="#333">Cluster 2</text>
<text x="418.5" y="310.4" font-size="6.8" textLength="26.0" lengthAdjust="spacingAndGlyphs" fill="#333">Cluster 6</text>
<text x="406.3" y="329.2" font-size="6.8" textLength="26.0" lengthAdjust="spacingAndGlyphs" fill="#333">Cluster 5</text>
<text x="460.7" y="331.4" font-size="6.8" textLength="26.0" lengthAdjust="spacingAndGlyphs" fill="#333">Cluster 3</text>
<text x="345.0" y="348.6" font-size="6.8" textLength="26.0" lengthAdjust="spacingAndGlyphs" fill="#333">Cluster 4</text>
<text x="406.3" y="379.8" font-size="6.8" textLength="26.0" lengthAdjust="spacingAndGlyphs" fill="#333">Cluster 7</text>
<text x="345.8" y="381.2" font-size="6.8" textLength="26.0" lengthAdjust="spacingAndGlyphs" fill="#333">Cluster 1</text>
<rect x="297.0" y="437.8" width="213.4" height="9.0" fill="#f5b52e"/>
<rect x="297.0" y="447.0" width="213.4" height="10.7" fill="#a8cbed"/>
<line x1="297.0" y1="437.6" x2="510.4" y2="437.6" stroke="#333" stroke-width="0.9"/>
<line x1="297.0" y1="447.0" x2="510.4" y2="447.0" stroke="#333" stroke-width="0.9"/>
<line x1="297.0" y1="477.3" x2="510.4" y2="477.3" stroke="#555" stroke-width="0.9"/>
<line x1="297.0" y1="498.6" x2="510.4" y2="498.6" stroke="#555" stroke-width="0.9"/>
<line x1="297.0" y1="517.3" x2="510.4" y2="517.3" stroke="#555" stroke-width="0.9"/>
<text x="308.2" y="444.6" font-size="6.6" text-anchor="middle" textLength="21.7" lengthAdjust="spacingAndGlyphs" font-weight="bold">Cluster</text>
<text x="324.0" y="444.6" font-size="6.6" textLength="69.0" lengthAdjust="spacingAndGlyphs" font-weight="bold">GO Molecular function</text>
<text x="425.5" y="444.6" font-size="6.6" text-anchor="middle" textLength="19.0" lengthAdjust="spacingAndGlyphs" font-weight="bold">Genes</text>
<text x="480.0" y="444.6" font-size="6.6" textLength="26.0" lengthAdjust="spacingAndGlyphs" font-weight="bold">P-value*</text>
<text x="310.0" y="454.6" font-size="6.6" text-anchor="middle" fill="#333">2</text>
<text x="324.0" y="454.6" font-size="6.6" fill="#333">Ferric iron binding</text>
<text x="399.7" y="454.6" font-size="6.6" fill="#333" font-style="italic">FTH1, FTL</text>
<text x="480.5" y="454.6" font-size="6.6" fill="#333">9.4e-05</text>
<text x="310.0" y="469.8" font-size="6.6" text-anchor="middle" fill="#333">2</text>
<text x="324.0" y="469.8" font-size="6.6" fill="#333"></text>
<text x="399.7" y="469.8" font-size="6.6" fill="#333" font-style="italic">HLA-DRA, HLA-DRB1</text>
<text x="480.5" y="469.8" font-size="6.6" fill="#333">2.0e-04</text>
<text x="324.0" y="466.3" font-size="6.6" fill="#333">MHC class II receptor</text>
<text x="324.0" y="474.0" font-size="6.6" fill="#333">activity</text>
<text x="310.0" y="486.3" font-size="6.6" text-anchor="middle" fill="#333">4</text>
<text x="324.0" y="486.3" font-size="6.6" fill="#333">RNA binding</text>
<text x="399.7" y="486.3" font-size="6.6" fill="#333">PRDX1, RACK1, TPT1..</text>
<text x="480.5" y="486.3" font-size="6.6" fill="#333">2.8e-05</text>
<text x="310.0" y="495.1" font-size="6.6" text-anchor="middle" fill="#333">4</text>
<text x="324.0" y="495.1" font-size="6.6" fill="#333">Cadherin binding</text>
<text x="399.7" y="495.1" font-size="6.6" fill="#333">PRDX1, RACK1, CAPG..</text>
<text x="480.5" y="495.1" font-size="6.6" fill="#333">6.1e-04</text>
<text x="310.0" y="510.3" font-size="6.6" text-anchor="middle" fill="#333">5</text>
<text x="324.0" y="510.3" font-size="6.6" fill="#333"></text>
<text x="399.7" y="510.3" font-size="6.6" fill="#333" font-style="italic">HLA-DRA, HLA-DRB1</text>
<text x="480.5" y="510.3" font-size="6.6" fill="#333">6.0e-04</text>
<text x="324.0" y="506.3" font-size="6.6" fill="#333">MHC class II protein</text>
<text x="324.0" y="514.3" font-size="6.6" fill="#333">complex binding</text>
<text x="505.8" y="525.3" font-size="7" text-anchor="end" textLength="60.8" lengthAdjust="spacingAndGlyphs" fill="#333">Cutoff: * <tspan font-style="italic">P</tspan> &lt; 8.0e-04</text>
<line x1="117.4" y1="352.7" x2="117.4" y2="358.5" stroke="#111" stroke-width="0.7"/>
<line x1="117.4" y1="357.6" x2="123.5" y2="357.6" stroke="#222" stroke-width="0.9"/>
<path stroke="#888" stroke-width="0.4" fill="none" d="M151.8 356.6v1.4M132.3 356.6v2.0M124.4 356.6v1.6M177.9 356.6v1.1M157.3 356.6v1.7M126.5 356.6v1.5M166.2 356.6v1.5M167.5 356.6v1.2M138.3 356.6v1.1M154.4 356.6v2.1M159.4 356.6v1.9M147.0 356.6v1.9M130.1 356.6v1.3M164.5 356.6v1.9M149.3 356.6v1.1M140.0 356.6v1.3M140.9 356.6v2.0M136.0 356.6v2.1"/>
<path stroke="#bbb" stroke-width="0.5" fill="none" d="M177.5 357.9h0.9M126.4 357.9h0.9M146.5 357.9h0.9M153.5 357.9h0.9M124.5 357.9h0.9M149.3 357.9h0.9M179.2 357.9h0.9M129.9 357.9h0.9M160.0 357.9h0.9M130.5 357.9h0.9M158.9 357.9h0.9M178.5 357.9h0.9M135.6 357.9h0.9M123.5 357.9h0.9M128.2 357.9h0.9M156.5 357.9h0.9M124.1 357.9h0.9M128.3 357.9h0.9M153.8 357.9h0.9M180.1 357.9h0.9M149.0 357.9h0.9M147.7 357.9h0.9M162.6 357.9h0.9M128.8 357.9h0.9M158.9 357.9h0.9M133.7 357.9h0.9M160.8 357.9h0.9M182.4 357.9h0.9M126.4 357.9h0.9M157.4 357.9h0.9"/>
<line x1="117.4" y1="373.2" x2="117.4" y2="379.0" stroke="#111" stroke-width="0.7"/>
<line x1="117.4" y1="378.1" x2="123.5" y2="378.1" stroke="#222" stroke-width="0.9"/>
<path stroke="#888" stroke-width="0.4" fill="none" d="M160.4 377.1v1.2M140.1 377.1v2.2M183.9 377.1v1.1M166.3 377.1v2.1M138.2 377.1v1.7M126.6 377.1v1.4M164.4 377.1v1.7M170.5 377.1v1.1M144.8 377.1v2.0M159.0 377.1v1.5"/>
<path stroke="#bbb" stroke-width="0.5" fill="none" d="M147.9 378.4h0.9M184.1 378.4h0.9M158.6 378.4h0.9M124.1 378.4h0.9M172.6 378.4h0.9M143.4 378.4h0.9M149.9 378.4h0.9M136.2 378.4h0.9M150.5 378.4h0.9M143.1 378.4h0.9M128.5 378.4h0.9M162.0 378.4h0.9M129.4 378.4h0.9M171.6 378.4h0.9M124.6 378.4h0.9M171.4 378.4h0.9M173.1 378.4h0.9M153.8 378.4h0.9"/>
<line x1="117.4" y1="392.7" x2="117.4" y2="398.5" stroke="#111" stroke-width="0.7"/>
<line x1="117.4" y1="397.6" x2="123.5" y2="397.6" stroke="#222" stroke-width="0.9"/>
<path stroke="#888" stroke-width="0.4" fill="none" d="M166.6 396.6v1.3M168.3 396.6v1.5M137.9 396.6v2.2M148.1 396.6v1.4M175.6 396.6v1.4M164.1 396.6v1.2M174.6 396.6v1.3M127.0 396.6v2.2M134.4 396.6v2.1M183.2 396.6v1.7M124.7 396.6v1.1M136.5 396.6v1.5M160.7 396.6v2.2M145.3 396.6v1.2M157.7 396.6v1.2M129.2 396.6v1.7M165.8 396.6v1.1M151.1 396.6v1.8M169.9 396.6v1.5M177.2 396.6v1.2M166.9 396.6v1.9M176.8 396.6v1.6M130.0 396.6v1.1M155.7 396.6v1.2M161.8 396.6v1.1"/>
<path stroke="#bbb" stroke-width="0.5" fill="none" d="M171.4 397.9h0.9M136.8 397.9h0.9M123.8 397.9h0.9M133.9 397.9h0.9M151.3 397.9h0.9M157.7 397.9h0.9M147.1 397.9h0.9M133.7 397.9h0.9M152.9 397.9h0.9M181.7 397.9h0.9M156.2 397.9h0.9M181.4 397.9h0.9M124.8 397.9h0.9M184.6 397.9h0.9M178.1 397.9h0.9M156.7 397.9h0.9M155.5 397.9h0.9M156.3 397.9h0.9M179.4 397.9h0.9M127.1 397.9h0.9M162.9 397.9h0.9M156.6 397.9h0.9M141.6 397.9h0.9M167.9 397.9h0.9M167.7 397.9h0.9M129.4 397.9h0.9M166.4 397.9h0.9M151.1 397.9h0.9M153.4 397.9h0.9M162.5 397.9h0.9M126.3 397.9h0.9M160.4 397.9h0.9M146.1 397.9h0.9M177.5 397.9h0.9M137.3 397.9h0.9M174.0 397.9h0.9M168.2 397.9h0.9M161.7 397.9h0.9M177.3 397.9h0.9M125.2 397.9h0.9M160.0 397.9h0.9M161.0 397.9h0.9"/>
<line x1="117.4" y1="412.3" x2="117.4" y2="418.1" stroke="#111" stroke-width="0.7"/>
<line x1="117.4" y1="417.2" x2="123.5" y2="417.2" stroke="#222" stroke-width="0.9"/>
<path stroke="#888" stroke-width="0.4" fill="none" d="M164.7 416.2v1.5M128.1 416.2v1.2M160.5 416.2v1.2M127.9 416.2v1.4M152.2 416.2v1.6M125.6 416.2v1.9M144.0 416.2v1.9M124.5 416.2v2.1M159.4 416.2v2.2M183.2 416.2v2.0M130.4 416.2v1.4M137.9 416.2v1.9M135.5 416.2v1.3M130.6 416.2v1.1"/>
<path stroke="#bbb" stroke-width="0.5" fill="none" d="M181.2 417.5h0.9M183.5 417.5h0.9M146.1 417.5h0.9M168.9 417.5h0.9M152.0 417.5h0.9M155.4 417.5h0.9M145.9 417.5h0.9M162.4 417.5h0.9M137.6 417.5h0.9M138.9 417.5h0.9M155.1 417.5h0.9M135.2 417.5h0.9M150.2 417.5h0.9M181.5 417.5h0.9M124.4 417.5h0.9M129.4 417.5h0.9M172.6 417.5h0.9M126.6 417.5h0.9M138.6 417.5h0.9M175.8 417.5h0.9M160.5 417.5h0.9M136.7 417.5h0.9M126.6 417.5h0.9M140.1 417.5h0.9"/>
<line x1="145.0" y1="397.9" x2="185.0" y2="397.9" stroke="#999" stroke-width="0.6" stroke-dasharray="1.2 0.6"/>
<text x="143.8" y="443.6" font-size="8.4" text-anchor="middle" textLength="149.6" lengthAdjust="spacingAndGlyphs">Detoxification of ROS [<tspan font-style="italic">PRDX1, GSTP1</tspan>]</text>
<line x1="68.0" y1="450.5" x2="68.0" y2="518.3" stroke="#222" stroke-width="1.3"/>
<line x1="67.4" y1="517.8" x2="236.5" y2="517.8" stroke="#222" stroke-width="1.5"/>
<line x1="65.5" y1="510.9" x2="68.0" y2="510.9" stroke="#222" stroke-width="0.8"/>
<text x="62.4" y="513.3" font-size="6.8" text-anchor="end" textLength="9.2" lengthAdjust="spacingAndGlyphs" fill="#333">0.0</text>
<line x1="65.5" y1="494.9" x2="68.0" y2="494.9" stroke="#222" stroke-width="0.8"/>
<text x="62.4" y="497.3" font-size="6.8" text-anchor="end" textLength="9.2" lengthAdjust="spacingAndGlyphs" fill="#333">0.2</text>
<line x1="65.5" y1="478.9" x2="68.0" y2="478.9" stroke="#222" stroke-width="0.8"/>
<text x="62.4" y="481.3" font-size="6.8" text-anchor="end" textLength="9.2" lengthAdjust="spacingAndGlyphs" fill="#333">0.4</text>
<line x1="65.5" y1="462.9" x2="68.0" y2="462.9" stroke="#222" stroke-width="0.8"/>
<text x="62.4" y="465.3" font-size="6.8" text-anchor="end" textLength="9.2" lengthAdjust="spacingAndGlyphs" fill="#333">0.6</text>
<line x1="76.2" y1="517.8" x2="76.2" y2="520.3" stroke="#222" stroke-width="0.8"/>
<text x="76.2" y="529.3" font-size="6.6" text-anchor="middle" fill="#333">0</text>
<line x1="113.1" y1="517.8" x2="113.1" y2="520.3" stroke="#222" stroke-width="0.8"/>
<text x="113.1" y="529.3" font-size="6.6" text-anchor="middle" fill="#333">2500</text>
<line x1="150.0" y1="517.8" x2="150.0" y2="520.3" stroke="#222" stroke-width="0.8"/>
<text x="150.0" y="529.3" font-size="6.6" text-anchor="middle" fill="#333">5000</text>
<line x1="186.9" y1="517.8" x2="186.9" y2="520.3" stroke="#222" stroke-width="0.8"/>
<text x="186.9" y="529.3" font-size="6.6" text-anchor="middle" fill="#333">7500</text>
<line x1="223.8" y1="517.8" x2="223.8" y2="520.3" stroke="#222" stroke-width="0.8"/>
<text x="223.8" y="529.3" font-size="6.6" text-anchor="middle" fill="#333">10000</text>
<text x="151.0" y="541.1" font-size="8" text-anchor="middle" textLength="17.0" lengthAdjust="spacingAndGlyphs" fill="#333">Rank</text>
<text x="47.3" y="484.4" font-size="8.2" text-anchor="middle" textLength="52.0" lengthAdjust="spacingAndGlyphs" fill="#333" transform="rotate(-90 47.3 484.4)">Enrichment score</text>
<line x1="68.0" y1="453.8" x2="236.5" y2="453.8" stroke="#d0204a" stroke-width="0.7" stroke-dasharray="1 1.2"/>
<line x1="68.0" y1="510.9" x2="236.5" y2="510.9" stroke="#7a1424" stroke-width="0.9"/>
<path stroke="#2a2a2a" stroke-width="0.5" fill="none" d="M76.8 506.3v9M78.0 506.3v9M79.2 506.3v9M81.2 506.3v9M82.6 506.3v9M91.9 506.3v9M97.6 506.3v9M99.2 506.3v9M101.1 506.3v9M103.4 506.3v9M116.1 506.3v9M135.7 506.3v9M138.0 506.3v9M140.3 506.3v9M145.1 506.3v9M150.4 506.3v9M152.7 506.3v9M170.0 506.3v9M172.3 506.3v9M180.4 506.3v9M198.9 506.3v9M211.6 506.3v9"/>
<path stroke="#45a03a" stroke-width="1.0" fill="none" stroke-linejoin="round" d="M76.2 510.9 L76.8 495.0 L77.3 479.0 L78.0 466.0 L78.5 458.5 L80.0 455.5 L82.5 453.3 L85.4 454.6 L90.0 456.8 L94.6 458.9 L100.0 460.8 L108.0 464.8 L116.2 468.9 L127.0 474.2 L137.7 479.6 L148.5 483.7 L152.7 484.8 L153.9 484.4 L160.0 487.8 L170.0 492.6 L170.5 491.6 L172.3 492.2 L172.8 491.0 L180.4 493.7 L181.0 493.4 L197.0 501.2 L198.9 499.3 L210.5 505.3 L211.6 501.2 L228.0 510.9"/>
<text x="188.2" y="467.1" font-size="6.8" fill="#333">P = 1.1e-03</text>
<text x="188.2" y="475.2" font-size="6.8" fill="#333">padj = 1.2e-02</text>
<text x="188.2" y="483.3" font-size="6.8" fill="#333">NES = 1.92</text>
<text x="152.3" y="557.1" font-size="8.4" text-anchor="middle" textLength="98.0" lengthAdjust="spacingAndGlyphs">Iron uptake and transport</text>
<text x="152.5" y="567.3" font-size="8.4" text-anchor="middle" textLength="112.5" lengthAdjust="spacingAndGlyphs">[<tspan font-style="italic">FTH1, FTL, UBB, ATP6V1G1</tspan>]</text>
<line x1="68.0" y1="571.5" x2="68.0" y2="639.7" stroke="#222" stroke-width="1.3"/>
<line x1="67.4" y1="639.2" x2="236.5" y2="639.2" stroke="#222" stroke-width="1.5"/>
<line x1="65.5" y1="632.5" x2="68.0" y2="632.5" stroke="#222" stroke-width="0.8"/>
<text x="62.4" y="634.9" font-size="6.8" text-anchor="end" textLength="9.2" lengthAdjust="spacingAndGlyphs" fill="#333">0.0</text>
<line x1="65.5" y1="616.5" x2="68.0" y2="616.5" stroke="#222" stroke-width="0.8"/>
<text x="62.4" y="618.9" font-size="6.8" text-anchor="end" textLength="9.2" lengthAdjust="spacingAndGlyphs" fill="#333">0.2</text>
<line x1="65.5" y1="600.5" x2="68.0" y2="600.5" stroke="#222" stroke-width="0.8"/>
<text x="62.4" y="602.9" font-size="6.8" text-anchor="end" textLength="9.2" lengthAdjust="spacingAndGlyphs" fill="#333">0.4</text>
<line x1="65.5" y1="584.5" x2="68.0" y2="584.5" stroke="#222" stroke-width="0.8"/>
<text x="62.4" y="586.9" font-size="6.8" text-anchor="end" textLength="9.2" lengthAdjust="spacingAndGlyphs" fill="#333">0.6</text>
<line x1="76.2" y1="639.2" x2="76.2" y2="641.7" stroke="#222" stroke-width="0.8"/>
<text x="76.2" y="650.7" font-size="6.6" text-anchor="middle" fill="#333">0</text>
<line x1="113.1" y1="639.2" x2="113.1" y2="641.7" stroke="#222" stroke-width="0.8"/>
<text x="113.1" y="650.7" font-size="6.6" text-anchor="middle" fill="#333">2500</text>
<line x1="150.0" y1="639.2" x2="150.0" y2="641.7" stroke="#222" stroke-width="0.8"/>
<text x="150.0" y="650.7" font-size="6.6" text-anchor="middle" fill="#333">5000</text>
<line x1="186.9" y1="639.2" x2="186.9" y2="641.7" stroke="#222" stroke-width="0.8"/>
<text x="186.9" y="650.7" font-size="6.6" text-anchor="middle" fill="#333">7500</text>
<line x1="223.8" y1="639.2" x2="223.8" y2="641.7" stroke="#222" stroke-width="0.8"/>
<text x="223.8" y="650.7" font-size="6.6" text-anchor="middle" fill="#333">10000</text>
<text x="151.0" y="662.5" font-size="8" text-anchor="middle" textLength="17.0" lengthAdjust="spacingAndGlyphs" fill="#333">Rank</text>
<text x="47.3" y="605.6" font-size="8.2" text-anchor="middle" textLength="52.0" lengthAdjust="spacingAndGlyphs" fill="#333" transform="rotate(-90 47.3 605.6)">Enrichment score</text>
<line x1="68.0" y1="573.3" x2="236.5" y2="573.3" stroke="#d0204a" stroke-width="0.7" stroke-dasharray="1 1.2"/>
<line x1="68.0" y1="632.5" x2="236.5" y2="632.5" stroke="#7a1424" stroke-width="0.9"/>
<path stroke="#2a2a2a" stroke-width="0.5" fill="none" d="M76.8 627.9v9M78.0 627.9v9M79.2 627.9v9M84.2 627.9v9M90.5 627.9v9M92.8 627.9v9M95.8 627.9v9M99.2 627.9v9M115.4 627.9v9M117.2 627.9v9M118.8 627.9v9M120.7 627.9v9M122.3 627.9v9M127.0 627.9v9M131.6 627.9v9M137.3 627.9v9M145.4 627.9v9M142.8 627.9v9M151.5 627.9v9M159.6 627.9v9M163.1 627.9v9M165.9 627.9v9M171.2 627.9v9M174.2 627.9v9M178.1 627.9v9M191.3 627.9v9M203.5 627.9v9M214.4 627.9v9M218.5 627.9v9"/>
<path stroke="#45a03a" stroke-width="1.0" fill="none" stroke-linejoin="round" d="M75.7 632.5 L76.0 612.0 L76.3 596.0 L76.8 585.0 L77.4 579.0 L78.5 576.0 L79.6 574.3 L80.8 573.3 L82.5 574.0 L84.2 574.8 L86.0 574.3 L90.0 576.0 L95.0 578.6 L101.5 582.3 L110.8 586.5 L115.4 588.5 L122.3 592.3 L127.0 594.6 L131.6 597.6 L136.2 599.6 L137.3 599.3 L145.4 602.8 L150.0 604.8 L151.5 606.2 L159.6 609.0 L163.1 610.3 L163.6 609.5 L165.9 610.8 L171.2 613.0 L174.6 614.3 L175.1 613.5 L179.2 615.4 L190.8 620.5 L191.3 619.6 L203.5 625.8 L204.0 624.8 L213.9 629.3 L214.4 627.0 L217.5 628.6 L218.5 627.0 L228.9 632.7"/>
<text x="188.2" y="587.7" font-size="6.8" fill="#333"><tspan font-style="italic">P</tspan> = 3.6e-06</text>
<text x="188.2" y="596.3" font-size="6.8" fill="#333">padj = 7.3e-05</text>
<text x="188.2" y="604.9" font-size="6.8" fill="#333">NES = 2.21</text>
<line x1="299.5" y1="550.5" x2="299.5" y2="632.5" stroke="#222" stroke-width="1.1"/>
<line x1="299.0" y1="632.0" x2="387.5" y2="632.0" stroke="#222" stroke-width="1.1"/>
<line x1="297.0" y1="552.3" x2="299.5" y2="552.3" stroke="#222" stroke-width="0.8"/>
<text x="293.2" y="554.7" font-size="6.9" text-anchor="end" textLength="12.1" lengthAdjust="spacingAndGlyphs" fill="#333">1.00</text>
<line x1="297.0" y1="571.1" x2="299.5" y2="571.1" stroke="#222" stroke-width="0.8"/>
<text x="293.2" y="573.5" font-size="6.9" text-anchor="end" textLength="12.1" lengthAdjust="spacingAndGlyphs" fill="#333">0.75</text>
<line x1="297.0" y1="590.3" x2="299.5" y2="590.3" stroke="#222" stroke-width="0.8"/>
<text x="293.2" y="592.7" font-size="6.9" text-anchor="end" textLength="12.1" lengthAdjust="spacingAndGlyphs" fill="#333">0.50</text>
<line x1="297.0" y1="609.0" x2="299.5" y2="609.0" stroke="#222" stroke-width="0.8"/>
<text x="293.2" y="611.4" font-size="6.9" text-anchor="end" textLength="12.1" lengthAdjust="spacingAndGlyphs" fill="#333">0.25</text>
<line x1="297.0" y1="628.1" x2="299.5" y2="628.1" stroke="#222" stroke-width="0.8"/>
<text x="293.2" y="630.5" font-size="6.9" text-anchor="end" textLength="12.1" lengthAdjust="spacingAndGlyphs" fill="#333">0.00</text>
<line x1="303.2" y1="632.0" x2="303.2" y2="634.5" stroke="#222" stroke-width="0.8"/>
<text x="306.6" y="640.0" font-size="7.4" text-anchor="end" fill="#333" transform="rotate(-45 306.6 640.0)">0</text>
<line x1="317.3" y1="632.0" x2="317.3" y2="634.5" stroke="#222" stroke-width="0.8"/>
<text x="320.7" y="640.0" font-size="7.4" text-anchor="end" fill="#333" transform="rotate(-45 320.7 640.0)">500</text>
<line x1="331.5" y1="632.0" x2="331.5" y2="634.5" stroke="#222" stroke-width="0.8"/>
<text x="334.9" y="640.0" font-size="7.4" text-anchor="end" fill="#333" transform="rotate(-45 334.9 640.0)">1000</text>
<line x1="345.6" y1="632.0" x2="345.6" y2="634.5" stroke="#222" stroke-width="0.8"/>
<text x="349.0" y="640.0" font-size="7.4" text-anchor="end" fill="#333" transform="rotate(-45 349.0 640.0)">1500</text>
<line x1="359.8" y1="632.0" x2="359.8" y2="634.5" stroke="#222" stroke-width="0.8"/>
<text x="363.2" y="640.0" font-size="7.4" text-anchor="end" fill="#333" transform="rotate(-45 363.2 640.0)">2000</text>
<line x1="373.9" y1="632.0" x2="373.9" y2="634.5" stroke="#222" stroke-width="0.8"/>
<text x="377.3" y="640.0" font-size="7.4" text-anchor="end" fill="#333" transform="rotate(-45 377.3 640.0)">2500</text>
<text x="343.8" y="663.2" font-size="8.6" text-anchor="middle" textLength="35.0" lengthAdjust="spacingAndGlyphs" fill="#333">Time (days)</text>
<text x="276.2" y="590.6" font-size="8.6" text-anchor="middle" textLength="46.0" lengthAdjust="spacingAndGlyphs" fill="#333" transform="rotate(-90 276.2 590.6)">Overall survival</text>
<path d="M303.2 553.2H304.1V563.3H305.0V566.9H307.8V570.6H309.6V575.1H312.4V578.8H315.1V581.5H316.9V587.0H318.7V590.7H324.2V590.7H327.0V596.2H330.6V601.3H383.6V601.3" stroke="#7ea6c2" stroke-width="0.9" fill="none"/>
<path d="M303.2 553.2H304.1V565.1H307.8V572.4H310.5V581.5H312.4V592.5H313.3V599.8H316.0V603.5H319.7V608.0H322.4V610.8H327.0V613.5H342.5V613.5H343.4V618.1H349.8V620.8H367.2V620.8" stroke="#c93550" stroke-width="0.9" fill="none"/>
<text x="335.6" y="555.6" font-size="7" textLength="15.1" lengthAdjust="spacingAndGlyphs" font-style="italic">FTH1</text>
<text x="329.7" y="581.2" font-size="7" textLength="28.3" lengthAdjust="spacingAndGlyphs"><tspan font-style="italic">P</tspan> = .0039</text>
<text x="367.2" y="588.5" font-size="7" textLength="11.8" lengthAdjust="spacingAndGlyphs" fill="#5b8db5">Low</text>
<text x="361.7" y="596.4" font-size="7" textLength="22.4" lengthAdjust="spacingAndGlyphs" fill="#5b8db5">(n = 84)</text>
<text x="307.4" y="618.3" font-size="7" textLength="13.2" lengthAdjust="spacingAndGlyphs" fill="#c8283c">High</text>
<text x="303.2" y="626.0" font-size="7" textLength="21.4" lengthAdjust="spacingAndGlyphs" fill="#c8283c">(n = 88)</text>
<line x1="424.8" y1="550.5" x2="424.8" y2="632.5" stroke="#222" stroke-width="1.1"/>
<line x1="424.3" y1="632.0" x2="512.8" y2="632.0" stroke="#222" stroke-width="1.1"/>
<line x1="422.3" y1="552.3" x2="424.8" y2="552.3" stroke="#222" stroke-width="0.8"/>
<text x="418.5" y="554.7" font-size="6.9" text-anchor="end" textLength="12.1" lengthAdjust="spacingAndGlyphs" fill="#333">1.00</text>
<line x1="422.3" y1="571.1" x2="424.8" y2="571.1" stroke="#222" stroke-width="0.8"/>
<text x="418.5" y="573.5" font-size="6.9" text-anchor="end" textLength="12.1" lengthAdjust="spacingAndGlyphs" fill="#333">0.75</text>
<line x1="422.3" y1="590.3" x2="424.8" y2="590.3" stroke="#222" stroke-width="0.8"/>
<text x="418.5" y="592.7" font-size="6.9" text-anchor="end" textLength="12.1" lengthAdjust="spacingAndGlyphs" fill="#333">0.50</text>
<line x1="422.3" y1="609.0" x2="424.8" y2="609.0" stroke="#222" stroke-width="0.8"/>
<text x="418.5" y="611.4" font-size="6.9" text-anchor="end" textLength="12.1" lengthAdjust="spacingAndGlyphs" fill="#333">0.25</text>
<line x1="422.3" y1="628.1" x2="424.8" y2="628.1" stroke="#222" stroke-width="0.8"/>
<text x="418.5" y="630.5" font-size="6.9" text-anchor="end" textLength="12.1" lengthAdjust="spacingAndGlyphs" fill="#333">0.00</text>
<line x1="428.8" y1="632.0" x2="428.8" y2="634.5" stroke="#222" stroke-width="0.8"/>
<text x="432.2" y="640.0" font-size="7.4" text-anchor="end" fill="#333" transform="rotate(-45 432.2 640.0)">0</text>
<line x1="442.8" y1="632.0" x2="442.8" y2="634.5" stroke="#222" stroke-width="0.8"/>
<text x="446.2" y="640.0" font-size="7.4" text-anchor="end" fill="#333" transform="rotate(-45 446.2 640.0)">500</text>
<line x1="456.8" y1="632.0" x2="456.8" y2="634.5" stroke="#222" stroke-width="0.8"/>
<text x="460.2" y="640.0" font-size="7.4" text-anchor="end" fill="#333" transform="rotate(-45 460.2 640.0)">1000</text>
<line x1="470.9" y1="632.0" x2="470.9" y2="634.5" stroke="#222" stroke-width="0.8"/>
<text x="474.3" y="640.0" font-size="7.4" text-anchor="end" fill="#333" transform="rotate(-45 474.3 640.0)">1500</text>
<line x1="484.9" y1="632.0" x2="484.9" y2="634.5" stroke="#222" stroke-width="0.8"/>
<text x="488.3" y="640.0" font-size="7.4" text-anchor="end" fill="#333" transform="rotate(-45 488.3 640.0)">2000</text>
<line x1="498.9" y1="632.0" x2="498.9" y2="634.5" stroke="#222" stroke-width="0.8"/>
<text x="502.3" y="640.0" font-size="7.4" text-anchor="end" fill="#333" transform="rotate(-45 502.3 640.0)">2500</text>
<text x="469.1" y="663.2" font-size="8.6" text-anchor="middle" textLength="35.0" lengthAdjust="spacingAndGlyphs" fill="#333">Time (days)</text>
<text x="401.5" y="590.6" font-size="8.6" text-anchor="middle" textLength="46.0" lengthAdjust="spacingAndGlyphs" fill="#333" transform="rotate(-90 401.5 590.6)">Overall survival</text>
<path d="M429.1 553.2H430.0V563.3H431.9V568.7H434.6V574.2H437.4V579.7H440.1V585.2H442.8V588.8H445.6V592.5H449.2V594.3H452.9V598.9H456.5V602.5H468.4V602.5H469.3V607.1H509.5V607.1" stroke="#7ea6c2" stroke-width="0.9" fill="none"/>
<path d="M429.1 557.8H430.0V565.1H432.8V570.6H435.5V577.9H437.4V585.2H439.2V592.5H441.0V598.0H443.7V601.6H447.4V608.0H452.9V610.8H456.5V613.5H467.5V613.5H469.3V615.3H474.8V618.1H499.5V618.1" stroke="#c93550" stroke-width="0.9" fill="none"/>
<text x="461.0" y="555.6" font-size="7" textLength="19.3" lengthAdjust="spacingAndGlyphs" font-style="italic">PRDX1</text>
<text x="460.2" y="581.2" font-size="7" textLength="24.1" lengthAdjust="spacingAndGlyphs"><tspan font-style="italic">P</tspan> = .019</text>
<text x="493.0" y="593.1" font-size="7" textLength="11.8" lengthAdjust="spacingAndGlyphs" fill="#5b8db5">Low</text>
<text x="490.3" y="601.3" font-size="7" textLength="19.2" lengthAdjust="spacingAndGlyphs" fill="#5b8db5">(n = 87)</text>
<text x="433.7" y="617.4" font-size="7" textLength="14.6" lengthAdjust="spacingAndGlyphs" fill="#c8283c">High</text>
<text x="430.0" y="625.6" font-size="7" textLength="22.5" lengthAdjust="spacingAndGlyphs" fill="#c8283c">(n = 85)</text>
<rect x="0.6" y="0.6" width="518.8" height="670.8" fill="none" stroke="#444" stroke-width="1.2"/>
</svg></body></html>
